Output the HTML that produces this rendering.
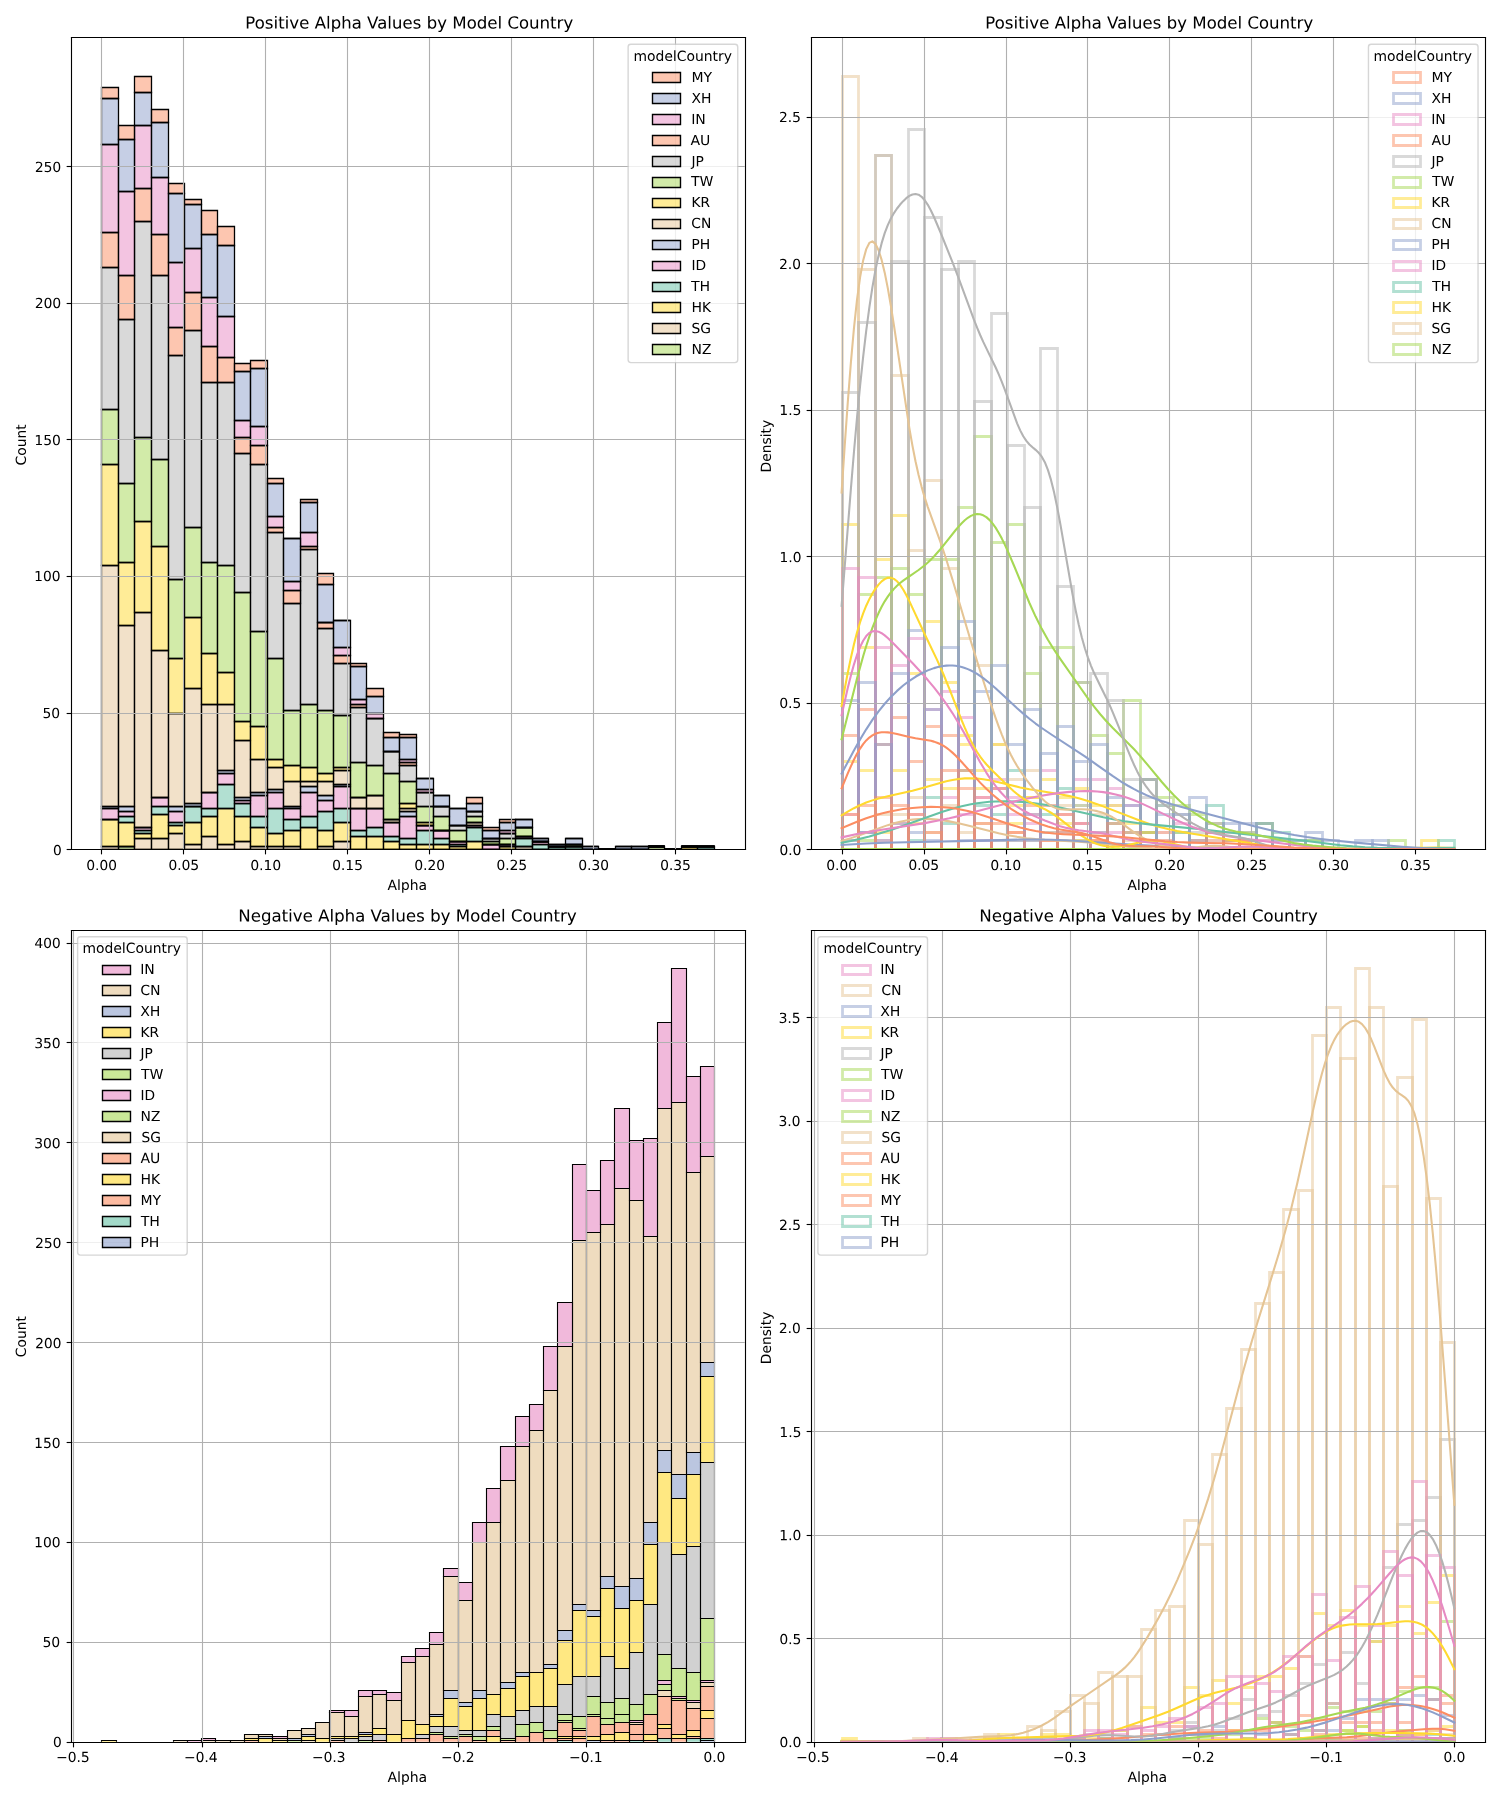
<!DOCTYPE html><html><head><meta charset="utf-8"><style>html,body{margin:0;padding:0;background:#fff}svg{display:block}</style></head><body><svg width="1500" height="1800" viewBox="0 0 1080 1296"><defs><style>*{stroke-linejoin:round;stroke-linecap:butt}.c0{fill:#ffffff}.c1{fill:#a6d854;fill-opacity:0.5;stroke:#000000;stroke-width:0.934778;stroke-linejoin:miter}.c2{fill:#e5c494;fill-opacity:0.5;stroke:#000000;stroke-width:0.934778;stroke-linejoin:miter}.c3{fill:#ffd92f;fill-opacity:0.5;stroke:#000000;stroke-width:0.934778;stroke-linejoin:miter}.c4{fill:#66c2a5;fill-opacity:0.5;stroke:#000000;stroke-width:0.934778;stroke-linejoin:miter}.c5{fill:#e78ac3;fill-opacity:0.5;stroke:#000000;stroke-width:0.934778;stroke-linejoin:miter}.c6{fill:#8da0cb;fill-opacity:0.5;stroke:#000000;stroke-width:0.934778;stroke-linejoin:miter}.c7{fill:#b3b3b3;fill-opacity:0.5;stroke:#000000;stroke-width:0.934778;stroke-linejoin:miter}.c8{fill:#fc8d62;fill-opacity:0.5;stroke:#000000;stroke-width:0.934778;stroke-linejoin:miter}.c9{fill:none;stroke:#b0b0b0;stroke-width:0.8;stroke-linecap:square}.c10{stroke:#000000;stroke-width:0.8}.c11{fill:none;stroke:#000000;stroke-width:0.8;stroke-linejoin:miter;stroke-linecap:square}.c12{fill:#ffffff;opacity:0.8;stroke:#cccccc;stroke-linejoin:miter}.c13{fill:#fc8d62;fill-opacity:0.5;stroke:#000000;stroke-linejoin:miter}.c14{fill:#8da0cb;fill-opacity:0.5;stroke:#000000;stroke-linejoin:miter}.c15{fill:#e78ac3;fill-opacity:0.5;stroke:#000000;stroke-linejoin:miter}.c16{fill:#b3b3b3;fill-opacity:0.5;stroke:#000000;stroke-linejoin:miter}.c17{fill:#a6d854;fill-opacity:0.5;stroke:#000000;stroke-linejoin:miter}.c18{fill:#ffd92f;fill-opacity:0.5;stroke:#000000;stroke-linejoin:miter}.c19{fill:#e5c494;fill-opacity:0.5;stroke:#000000;stroke-linejoin:miter}.c20{fill:#66c2a5;fill-opacity:0.5;stroke:#000000;stroke-linejoin:miter}.c21{fill:none;stroke:#a6d854;stroke-opacity:0.5;stroke-width:2;stroke-linejoin:miter}.c22{fill:none;stroke:#e5c494;stroke-opacity:0.5;stroke-width:2;stroke-linejoin:miter}.c23{fill:none;stroke:#ffd92f;stroke-opacity:0.5;stroke-width:2;stroke-linejoin:miter}.c24{fill:none;stroke:#66c2a5;stroke-opacity:0.5;stroke-width:2;stroke-linejoin:miter}.c25{fill:none;stroke:#e78ac3;stroke-opacity:0.5;stroke-width:2;stroke-linejoin:miter}.c26{fill:none;stroke:#8da0cb;stroke-opacity:0.5;stroke-width:2;stroke-linejoin:miter}.c27{fill:none;stroke:#b3b3b3;stroke-opacity:0.5;stroke-width:2;stroke-linejoin:miter}.c28{fill:none;stroke:#fc8d62;stroke-opacity:0.5;stroke-width:2;stroke-linejoin:miter}.c29{fill:none;stroke:#a6d854;stroke-width:1.5;stroke-linecap:square}.c30{fill:none;stroke:#e5c494;stroke-width:1.5;stroke-linecap:square}.c31{fill:none;stroke:#ffd92f;stroke-width:1.5;stroke-linecap:square}.c32{fill:none;stroke:#66c2a5;stroke-width:1.5;stroke-linecap:square}.c33{fill:none;stroke:#e78ac3;stroke-width:1.5;stroke-linecap:square}.c34{fill:none;stroke:#8da0cb;stroke-width:1.5;stroke-linecap:square}.c35{fill:none;stroke:#b3b3b3;stroke-width:1.5;stroke-linecap:square}.c36{fill:none;stroke:#fc8d62;stroke-width:1.5;stroke-linecap:square}.c37{fill:#8da0cb;fill-opacity:0.6;stroke:#000000;stroke-width:0.804344;stroke-linejoin:miter}.c38{fill:#66c2a5;fill-opacity:0.6;stroke:#000000;stroke-width:0.804344;stroke-linejoin:miter}.c39{fill:#fc8d62;fill-opacity:0.6;stroke:#000000;stroke-width:0.804344;stroke-linejoin:miter}.c40{fill:#ffd92f;fill-opacity:0.6;stroke:#000000;stroke-width:0.804344;stroke-linejoin:miter}.c41{fill:#e5c494;fill-opacity:0.6;stroke:#000000;stroke-width:0.804344;stroke-linejoin:miter}.c42{fill:#a6d854;fill-opacity:0.6;stroke:#000000;stroke-width:0.804344;stroke-linejoin:miter}.c43{fill:#e78ac3;fill-opacity:0.6;stroke:#000000;stroke-width:0.804344;stroke-linejoin:miter}.c44{fill:#b3b3b3;fill-opacity:0.6;stroke:#000000;stroke-width:0.804344;stroke-linejoin:miter}.c45{fill:#e78ac3;fill-opacity:0.6;stroke:#000000;stroke-linejoin:miter}.c46{fill:#e5c494;fill-opacity:0.6;stroke:#000000;stroke-linejoin:miter}.c47{fill:#8da0cb;fill-opacity:0.6;stroke:#000000;stroke-linejoin:miter}.c48{fill:#ffd92f;fill-opacity:0.6;stroke:#000000;stroke-linejoin:miter}.c49{fill:#b3b3b3;fill-opacity:0.6;stroke:#000000;stroke-linejoin:miter}.c50{fill:#a6d854;fill-opacity:0.6;stroke:#000000;stroke-linejoin:miter}.c51{fill:#fc8d62;fill-opacity:0.6;stroke:#000000;stroke-linejoin:miter}.c52{fill:#66c2a5;fill-opacity:0.6;stroke:#000000;stroke-linejoin:miter}</style></defs><g><path d="M0 1296L1080 1296L1080 0L0 0z" class="c0"/><g><path d="M51.12 611.28L536.4 611.28L536.4 26.64L51.12 26.64z" class="c0"/><path d="M73.08 611.64L85.32 611.64L85.32 611.64L73.08 611.64z" clip-path="url(#p2dc4561a0a)" class="c1"/><path d="M85.32 611.64L96.84 611.64L96.84 609.48L85.32 609.48z" clip-path="url(#p2dc4561a0a)" class="c1"/><path d="M96.84 611.64L109.08 611.64L109.08 611.64L96.84 611.64z" clip-path="url(#p2dc4561a0a)" class="c1"/><path d="M109.08 611.64L121.32 611.64L121.32 611.64L109.08 611.64z" clip-path="url(#p2dc4561a0a)" class="c1"/><path d="M121.32 611.64L132.84 611.64L132.84 611.64L121.32 611.64z" clip-path="url(#p2dc4561a0a)" class="c1"/><path d="M132.84 611.64L145.08 611.64L145.08 611.64L132.84 611.64z" clip-path="url(#p2dc4561a0a)" class="c1"/><path d="M145.08 611.64L156.6 611.64L156.6 611.64L145.08 611.64z" clip-path="url(#p2dc4561a0a)" class="c1"/><path d="M156.6 611.64L168.84 611.64L168.84 611.64L156.6 611.64z" clip-path="url(#p2dc4561a0a)" class="c1"/><path d="M168.84 611.64L180.36 611.64L180.36 611.64L168.84 611.64z" clip-path="url(#p2dc4561a0a)" class="c1"/><path d="M180.36 611.64L192.6 611.64L192.6 611.64L180.36 611.64z" clip-path="url(#p2dc4561a0a)" class="c1"/><path d="M192.6 611.64L204.12 611.64L204.12 611.64L192.6 611.64z" clip-path="url(#p2dc4561a0a)" class="c1"/><path d="M204.12 611.64L216.36 611.64L216.36 611.64L204.12 611.64z" clip-path="url(#p2dc4561a0a)" class="c1"/><path d="M216.36 611.64L228.6 611.64L228.6 611.64L216.36 611.64z" clip-path="url(#p2dc4561a0a)" class="c1"/><path d="M228.6 611.64L240.12 611.64L240.12 611.64L228.6 611.64z" clip-path="url(#p2dc4561a0a)" class="c1"/><path d="M240.12 611.64L252.36 611.64L252.36 611.64L240.12 611.64z" clip-path="url(#p2dc4561a0a)" class="c1"/><path d="M252.36 611.64L263.88 611.64L263.88 611.64L252.36 611.64z" clip-path="url(#p2dc4561a0a)" class="c1"/><path d="M263.88 611.64L276.12 611.64L276.12 611.64L263.88 611.64z" clip-path="url(#p2dc4561a0a)" class="c1"/><path d="M276.12 611.64L287.64 611.64L287.64 611.64L276.12 611.64z" clip-path="url(#p2dc4561a0a)" class="c1"/><path d="M287.64 611.64L299.88 611.64L299.88 611.64L287.64 611.64z" clip-path="url(#p2dc4561a0a)" class="c1"/><path d="M299.88 611.64L312.12 611.64L312.12 611.64L299.88 611.64z" clip-path="url(#p2dc4561a0a)" class="c1"/><path d="M312.12 611.64L323.64 611.64L323.64 611.64L312.12 611.64z" clip-path="url(#p2dc4561a0a)" class="c1"/><path d="M323.64 611.64L335.88 611.64L335.88 611.64L323.64 611.64z" clip-path="url(#p2dc4561a0a)" class="c1"/><path d="M335.88 611.64L347.4 611.64L347.4 611.64L335.88 611.64z" clip-path="url(#p2dc4561a0a)" class="c1"/><path d="M347.4 611.64L359.64 611.64L359.64 611.64L347.4 611.64z" clip-path="url(#p2dc4561a0a)" class="c1"/><path d="M359.64 611.64L371.16 611.64L371.16 611.64L359.64 611.64z" clip-path="url(#p2dc4561a0a)" class="c1"/><path d="M371.16 611.64L383.4 611.64L383.4 611.64L371.16 611.64z" clip-path="url(#p2dc4561a0a)" class="c1"/><path d="M383.4 611.64L394.92 611.64L394.92 611.64L383.4 611.64z" clip-path="url(#p2dc4561a0a)" class="c1"/><path d="M394.92 611.64L407.16 611.64L407.16 611.64L394.92 611.64z" clip-path="url(#p2dc4561a0a)" class="c1"/><path d="M407.16 611.64L419.4 611.64L419.4 611.64L407.16 611.64z" clip-path="url(#p2dc4561a0a)" class="c1"/><path d="M419.4 611.64L430.92 611.64L430.92 611.64L419.4 611.64z" clip-path="url(#p2dc4561a0a)" class="c1"/><path d="M430.92 611.64L443.16 611.64L443.16 611.64L430.92 611.64z" clip-path="url(#p2dc4561a0a)" class="c1"/><path d="M443.16 611.64L454.68 611.64L454.68 611.64L443.16 611.64z" clip-path="url(#p2dc4561a0a)" class="c1"/><path d="M454.68 611.64L466.92 611.64L466.92 611.64L454.68 611.64z" clip-path="url(#p2dc4561a0a)" class="c1"/><path d="M466.92 611.64L478.44 611.64L478.44 609.48L466.92 609.48z" clip-path="url(#p2dc4561a0a)" class="c1"/><path d="M478.44 611.64L490.68 611.64L490.68 611.64L478.44 611.64z" clip-path="url(#p2dc4561a0a)" class="c1"/><path d="M490.68 611.64L502.2 611.64L502.2 611.64L490.68 611.64z" clip-path="url(#p2dc4561a0a)" class="c1"/><path d="M502.2 611.64L514.44 611.64L514.44 611.64L502.2 611.64z" clip-path="url(#p2dc4561a0a)" class="c1"/><path d="M73.08 611.64L85.32 611.64L85.32 609.48L73.08 609.48z" clip-path="url(#p2dc4561a0a)" class="c2"/><path d="M85.32 609.48L96.84 609.48L96.84 609.48L85.32 609.48z" clip-path="url(#p2dc4561a0a)" class="c2"/><path d="M96.84 611.64L109.08 611.64L109.08 603.72L96.84 603.72z" clip-path="url(#p2dc4561a0a)" class="c2"/><path d="M109.08 611.64L121.32 611.64L121.32 603.72L109.08 603.72z" clip-path="url(#p2dc4561a0a)" class="c2"/><path d="M121.32 611.64L132.84 611.64L132.84 600.12L121.32 600.12z" clip-path="url(#p2dc4561a0a)" class="c2"/><path d="M132.84 611.64L145.08 611.64L145.08 608.04L132.84 608.04z" clip-path="url(#p2dc4561a0a)" class="c2"/><path d="M145.08 611.64L156.6 611.64L156.6 602.28L145.08 602.28z" clip-path="url(#p2dc4561a0a)" class="c2"/><path d="M156.6 611.64L168.84 611.64L168.84 608.04L156.6 608.04z" clip-path="url(#p2dc4561a0a)" class="c2"/><path d="M168.84 611.64L180.36 611.64L180.36 605.88L168.84 605.88z" clip-path="url(#p2dc4561a0a)" class="c2"/><path d="M180.36 611.64L192.6 611.64L192.6 609.48L180.36 609.48z" clip-path="url(#p2dc4561a0a)" class="c2"/><path d="M192.6 611.64L204.12 611.64L204.12 609.48L192.6 609.48z" clip-path="url(#p2dc4561a0a)" class="c2"/><path d="M204.12 611.64L216.36 611.64L216.36 609.48L204.12 609.48z" clip-path="url(#p2dc4561a0a)" class="c2"/><path d="M216.36 611.64L228.6 611.64L228.6 611.64L216.36 611.64z" clip-path="url(#p2dc4561a0a)" class="c2"/><path d="M228.6 611.64L240.12 611.64L240.12 609.48L228.6 609.48z" clip-path="url(#p2dc4561a0a)" class="c2"/><path d="M240.12 611.64L252.36 611.64L252.36 605.88L240.12 605.88z" clip-path="url(#p2dc4561a0a)" class="c2"/><path d="M252.36 611.64L263.88 611.64L263.88 611.64L252.36 611.64z" clip-path="url(#p2dc4561a0a)" class="c2"/><path d="M263.88 611.64L276.12 611.64L276.12 611.64L263.88 611.64z" clip-path="url(#p2dc4561a0a)" class="c2"/><path d="M276.12 611.64L287.64 611.64L287.64 611.64L276.12 611.64z" clip-path="url(#p2dc4561a0a)" class="c2"/><path d="M287.64 611.64L299.88 611.64L299.88 611.64L287.64 611.64z" clip-path="url(#p2dc4561a0a)" class="c2"/><path d="M299.88 611.64L312.12 611.64L312.12 611.64L299.88 611.64z" clip-path="url(#p2dc4561a0a)" class="c2"/><path d="M312.12 611.64L323.64 611.64L323.64 611.64L312.12 611.64z" clip-path="url(#p2dc4561a0a)" class="c2"/><path d="M323.64 611.64L335.88 611.64L335.88 611.64L323.64 611.64z" clip-path="url(#p2dc4561a0a)" class="c2"/><path d="M335.88 611.64L347.4 611.64L347.4 611.64L335.88 611.64z" clip-path="url(#p2dc4561a0a)" class="c2"/><path d="M347.4 611.64L359.64 611.64L359.64 611.64L347.4 611.64z" clip-path="url(#p2dc4561a0a)" class="c2"/><path d="M359.64 611.64L371.16 611.64L371.16 611.64L359.64 611.64z" clip-path="url(#p2dc4561a0a)" class="c2"/><path d="M371.16 611.64L383.4 611.64L383.4 609.48L371.16 609.48z" clip-path="url(#p2dc4561a0a)" class="c2"/><path d="M383.4 611.64L394.92 611.64L394.92 611.64L383.4 611.64z" clip-path="url(#p2dc4561a0a)" class="c2"/><path d="M394.92 611.64L407.16 611.64L407.16 611.64L394.92 611.64z" clip-path="url(#p2dc4561a0a)" class="c2"/><path d="M407.16 611.64L419.4 611.64L419.4 611.64L407.16 611.64z" clip-path="url(#p2dc4561a0a)" class="c2"/><path d="M419.4 611.64L430.92 611.64L430.92 611.64L419.4 611.64z" clip-path="url(#p2dc4561a0a)" class="c2"/><path d="M430.92 611.64L443.16 611.64L443.16 611.64L430.92 611.64z" clip-path="url(#p2dc4561a0a)" class="c2"/><path d="M443.16 611.64L454.68 611.64L454.68 611.64L443.16 611.64z" clip-path="url(#p2dc4561a0a)" class="c2"/><path d="M454.68 611.64L466.92 611.64L466.92 611.64L454.68 611.64z" clip-path="url(#p2dc4561a0a)" class="c2"/><path d="M466.92 609.48L478.44 609.48L478.44 609.48L466.92 609.48z" clip-path="url(#p2dc4561a0a)" class="c2"/><path d="M478.44 611.64L490.68 611.64L490.68 611.64L478.44 611.64z" clip-path="url(#p2dc4561a0a)" class="c2"/><path d="M490.68 611.64L502.2 611.64L502.2 611.64L490.68 611.64z" clip-path="url(#p2dc4561a0a)" class="c2"/><path d="M502.2 611.64L514.44 611.64L514.44 611.64L502.2 611.64z" clip-path="url(#p2dc4561a0a)" class="c2"/><path d="M73.08 609.48L85.32 609.48L85.32 590.04L73.08 590.04z" clip-path="url(#p2dc4561a0a)" class="c3"/><path d="M85.32 609.48L96.84 609.48L96.84 592.2L85.32 592.2z" clip-path="url(#p2dc4561a0a)" class="c3"/><path d="M96.84 603.72L109.08 603.72L109.08 600.12L96.84 600.12z" clip-path="url(#p2dc4561a0a)" class="c3"/><path d="M109.08 603.72L121.32 603.72L121.32 586.44L109.08 586.44z" clip-path="url(#p2dc4561a0a)" class="c3"/><path d="M121.32 600.12L132.84 600.12L132.84 594.36L121.32 594.36z" clip-path="url(#p2dc4561a0a)" class="c3"/><path d="M132.84 608.04L145.08 608.04L145.08 592.2L132.84 592.2z" clip-path="url(#p2dc4561a0a)" class="c3"/><path d="M145.08 602.28L156.6 602.28L156.6 587.88L145.08 587.88z" clip-path="url(#p2dc4561a0a)" class="c3"/><path d="M156.6 608.04L168.84 608.04L168.84 582.12L156.6 582.12z" clip-path="url(#p2dc4561a0a)" class="c3"/><path d="M168.84 605.88L180.36 605.88L180.36 587.88L168.84 587.88z" clip-path="url(#p2dc4561a0a)" class="c3"/><path d="M180.36 609.48L192.6 609.48L192.6 595.8L180.36 595.8z" clip-path="url(#p2dc4561a0a)" class="c3"/><path d="M192.6 609.48L204.12 609.48L204.12 600.12L192.6 600.12z" clip-path="url(#p2dc4561a0a)" class="c3"/><path d="M204.12 609.48L216.36 609.48L216.36 597.96L204.12 597.96z" clip-path="url(#p2dc4561a0a)" class="c3"/><path d="M216.36 611.64L228.6 611.64L228.6 595.8L216.36 595.8z" clip-path="url(#p2dc4561a0a)" class="c3"/><path d="M228.6 609.48L240.12 609.48L240.12 597.96L228.6 597.96z" clip-path="url(#p2dc4561a0a)" class="c3"/><path d="M240.12 605.88L252.36 605.88L252.36 592.2L240.12 592.2z" clip-path="url(#p2dc4561a0a)" class="c3"/><path d="M252.36 611.64L263.88 611.64L263.88 602.28L252.36 602.28z" clip-path="url(#p2dc4561a0a)" class="c3"/><path d="M263.88 611.64L276.12 611.64L276.12 602.28L263.88 602.28z" clip-path="url(#p2dc4561a0a)" class="c3"/><path d="M276.12 611.64L287.64 611.64L287.64 605.88L276.12 605.88z" clip-path="url(#p2dc4561a0a)" class="c3"/><path d="M287.64 611.64L299.88 611.64L299.88 608.04L287.64 608.04z" clip-path="url(#p2dc4561a0a)" class="c3"/><path d="M299.88 611.64L312.12 611.64L312.12 608.04L299.88 608.04z" clip-path="url(#p2dc4561a0a)" class="c3"/><path d="M312.12 611.64L323.64 611.64L323.64 608.04L312.12 608.04z" clip-path="url(#p2dc4561a0a)" class="c3"/><path d="M323.64 611.64L335.88 611.64L335.88 609.48L323.64 609.48z" clip-path="url(#p2dc4561a0a)" class="c3"/><path d="M335.88 611.64L347.4 611.64L347.4 605.88L335.88 605.88z" clip-path="url(#p2dc4561a0a)" class="c3"/><path d="M347.4 611.64L359.64 611.64L359.64 611.64L347.4 611.64z" clip-path="url(#p2dc4561a0a)" class="c3"/><path d="M359.64 611.64L371.16 611.64L371.16 609.48L359.64 609.48z" clip-path="url(#p2dc4561a0a)" class="c3"/><path d="M371.16 609.48L383.4 609.48L383.4 609.48L371.16 609.48z" clip-path="url(#p2dc4561a0a)" class="c3"/><path d="M383.4 611.64L394.92 611.64L394.92 611.64L383.4 611.64z" clip-path="url(#p2dc4561a0a)" class="c3"/><path d="M394.92 611.64L407.16 611.64L407.16 611.64L394.92 611.64z" clip-path="url(#p2dc4561a0a)" class="c3"/><path d="M407.16 611.64L419.4 611.64L419.4 611.64L407.16 611.64z" clip-path="url(#p2dc4561a0a)" class="c3"/><path d="M419.4 611.64L430.92 611.64L430.92 611.64L419.4 611.64z" clip-path="url(#p2dc4561a0a)" class="c3"/><path d="M430.92 611.64L443.16 611.64L443.16 611.64L430.92 611.64z" clip-path="url(#p2dc4561a0a)" class="c3"/><path d="M443.16 611.64L454.68 611.64L454.68 611.64L443.16 611.64z" clip-path="url(#p2dc4561a0a)" class="c3"/><path d="M454.68 611.64L466.92 611.64L466.92 611.64L454.68 611.64z" clip-path="url(#p2dc4561a0a)" class="c3"/><path d="M466.92 609.48L478.44 609.48L478.44 609.48L466.92 609.48z" clip-path="url(#p2dc4561a0a)" class="c3"/><path d="M478.44 611.64L490.68 611.64L490.68 611.64L478.44 611.64z" clip-path="url(#p2dc4561a0a)" class="c3"/><path d="M490.68 611.64L502.2 611.64L502.2 609.48L490.68 609.48z" clip-path="url(#p2dc4561a0a)" class="c3"/><path d="M502.2 611.64L514.44 611.64L514.44 611.64L502.2 611.64z" clip-path="url(#p2dc4561a0a)" class="c3"/><path d="M73.08 590.04L85.32 590.04L85.32 590.04L73.08 590.04z" clip-path="url(#p2dc4561a0a)" class="c4"/><path d="M85.32 592.2L96.84 592.2L96.84 587.88L85.32 587.88z" clip-path="url(#p2dc4561a0a)" class="c4"/><path d="M96.84 600.12L109.08 600.12L109.08 597.96L96.84 597.96z" clip-path="url(#p2dc4561a0a)" class="c4"/><path d="M109.08 586.44L121.32 586.44L121.32 580.68L109.08 580.68z" clip-path="url(#p2dc4561a0a)" class="c4"/><path d="M121.32 594.36L132.84 594.36L132.84 592.2L121.32 592.2z" clip-path="url(#p2dc4561a0a)" class="c4"/><path d="M132.84 592.2L145.08 592.2L145.08 580.68L132.84 580.68z" clip-path="url(#p2dc4561a0a)" class="c4"/><path d="M145.08 587.88L156.6 587.88L156.6 582.12L145.08 582.12z" clip-path="url(#p2dc4561a0a)" class="c4"/><path d="M156.6 582.12L168.84 582.12L168.84 564.84L156.6 564.84z" clip-path="url(#p2dc4561a0a)" class="c4"/><path d="M168.84 587.88L180.36 587.88L180.36 578.52L168.84 578.52z" clip-path="url(#p2dc4561a0a)" class="c4"/><path d="M180.36 595.8L192.6 595.8L192.6 587.88L180.36 587.88z" clip-path="url(#p2dc4561a0a)" class="c4"/><path d="M192.6 600.12L204.12 600.12L204.12 582.12L192.6 582.12z" clip-path="url(#p2dc4561a0a)" class="c4"/><path d="M204.12 597.96L216.36 597.96L216.36 590.04L204.12 590.04z" clip-path="url(#p2dc4561a0a)" class="c4"/><path d="M216.36 595.8L228.6 595.8L228.6 587.88L216.36 587.88z" clip-path="url(#p2dc4561a0a)" class="c4"/><path d="M228.6 597.96L240.12 597.96L240.12 584.28L228.6 584.28z" clip-path="url(#p2dc4561a0a)" class="c4"/><path d="M240.12 592.2L252.36 592.2L252.36 582.12L240.12 582.12z" clip-path="url(#p2dc4561a0a)" class="c4"/><path d="M252.36 602.28L263.88 602.28L263.88 597.96L252.36 597.96z" clip-path="url(#p2dc4561a0a)" class="c4"/><path d="M263.88 602.28L276.12 602.28L276.12 595.8L263.88 595.8z" clip-path="url(#p2dc4561a0a)" class="c4"/><path d="M276.12 605.88L287.64 605.88L287.64 602.28L276.12 602.28z" clip-path="url(#p2dc4561a0a)" class="c4"/><path d="M287.64 608.04L299.88 608.04L299.88 603.72L287.64 603.72z" clip-path="url(#p2dc4561a0a)" class="c4"/><path d="M299.88 608.04L312.12 608.04L312.12 597.96L299.88 597.96z" clip-path="url(#p2dc4561a0a)" class="c4"/><path d="M312.12 608.04L323.64 608.04L323.64 603.72L312.12 603.72z" clip-path="url(#p2dc4561a0a)" class="c4"/><path d="M323.64 609.48L335.88 609.48L335.88 608.04L323.64 608.04z" clip-path="url(#p2dc4561a0a)" class="c4"/><path d="M335.88 605.88L347.4 605.88L347.4 595.8L335.88 595.8z" clip-path="url(#p2dc4561a0a)" class="c4"/><path d="M347.4 611.64L359.64 611.64L359.64 611.64L347.4 611.64z" clip-path="url(#p2dc4561a0a)" class="c4"/><path d="M359.64 609.48L371.16 609.48L371.16 609.48L359.64 609.48z" clip-path="url(#p2dc4561a0a)" class="c4"/><path d="M371.16 609.48L383.4 609.48L383.4 603.72L371.16 603.72z" clip-path="url(#p2dc4561a0a)" class="c4"/><path d="M383.4 611.64L394.92 611.64L394.92 608.04L383.4 608.04z" clip-path="url(#p2dc4561a0a)" class="c4"/><path d="M394.92 611.64L407.16 611.64L407.16 609.48L394.92 609.48z" clip-path="url(#p2dc4561a0a)" class="c4"/><path d="M407.16 611.64L419.4 611.64L419.4 609.48L407.16 609.48z" clip-path="url(#p2dc4561a0a)" class="c4"/><path d="M419.4 611.64L430.92 611.64L430.92 611.64L419.4 611.64z" clip-path="url(#p2dc4561a0a)" class="c4"/><path d="M430.92 611.64L443.16 611.64L443.16 611.64L430.92 611.64z" clip-path="url(#p2dc4561a0a)" class="c4"/><path d="M443.16 611.64L454.68 611.64L454.68 611.64L443.16 611.64z" clip-path="url(#p2dc4561a0a)" class="c4"/><path d="M454.68 611.64L466.92 611.64L466.92 611.64L454.68 611.64z" clip-path="url(#p2dc4561a0a)" class="c4"/><path d="M466.92 609.48L478.44 609.48L478.44 609.48L466.92 609.48z" clip-path="url(#p2dc4561a0a)" class="c4"/><path d="M478.44 611.64L490.68 611.64L490.68 611.64L478.44 611.64z" clip-path="url(#p2dc4561a0a)" class="c4"/><path d="M490.68 609.48L502.2 609.48L502.2 609.48L490.68 609.48z" clip-path="url(#p2dc4561a0a)" class="c4"/><path d="M502.2 611.64L514.44 611.64L514.44 609.48L502.2 609.48z" clip-path="url(#p2dc4561a0a)" class="c4"/><path d="M73.08 590.04L85.32 590.04L85.32 582.12L73.08 582.12z" clip-path="url(#p2dc4561a0a)" class="c5"/><path d="M85.32 587.88L96.84 587.88L96.84 584.28L85.32 584.28z" clip-path="url(#p2dc4561a0a)" class="c5"/><path d="M96.84 597.96L109.08 597.96L109.08 595.8L96.84 595.8z" clip-path="url(#p2dc4561a0a)" class="c5"/><path d="M109.08 580.68L121.32 580.68L121.32 574.2L109.08 574.2z" clip-path="url(#p2dc4561a0a)" class="c5"/><path d="M121.32 592.2L132.84 592.2L132.84 584.28L121.32 584.28z" clip-path="url(#p2dc4561a0a)" class="c5"/><path d="M132.84 580.68L145.08 580.68L145.08 580.68L132.84 580.68z" clip-path="url(#p2dc4561a0a)" class="c5"/><path d="M145.08 582.12L156.6 582.12L156.6 570.6L145.08 570.6z" clip-path="url(#p2dc4561a0a)" class="c5"/><path d="M156.6 564.84L168.84 564.84L168.84 556.92L156.6 556.92z" clip-path="url(#p2dc4561a0a)" class="c5"/><path d="M168.84 578.52L180.36 578.52L180.36 576.36L168.84 576.36z" clip-path="url(#p2dc4561a0a)" class="c5"/><path d="M180.36 587.88L192.6 587.88L192.6 572.76L180.36 572.76z" clip-path="url(#p2dc4561a0a)" class="c5"/><path d="M192.6 582.12L204.12 582.12L204.12 570.6L192.6 570.6z" clip-path="url(#p2dc4561a0a)" class="c5"/><path d="M204.12 590.04L216.36 590.04L216.36 582.12L204.12 582.12z" clip-path="url(#p2dc4561a0a)" class="c5"/><path d="M216.36 587.88L228.6 587.88L228.6 570.6L216.36 570.6z" clip-path="url(#p2dc4561a0a)" class="c5"/><path d="M228.6 584.28L240.12 584.28L240.12 576.36L228.6 576.36z" clip-path="url(#p2dc4561a0a)" class="c5"/><path d="M240.12 582.12L252.36 582.12L252.36 566.28L240.12 566.28z" clip-path="url(#p2dc4561a0a)" class="c5"/><path d="M252.36 597.96L263.88 597.96L263.88 582.12L252.36 582.12z" clip-path="url(#p2dc4561a0a)" class="c5"/><path d="M263.88 595.8L276.12 595.8L276.12 582.12L263.88 582.12z" clip-path="url(#p2dc4561a0a)" class="c5"/><path d="M276.12 602.28L287.64 602.28L287.64 592.2L276.12 592.2z" clip-path="url(#p2dc4561a0a)" class="c5"/><path d="M287.64 603.72L299.88 603.72L299.88 587.88L287.64 587.88z" clip-path="url(#p2dc4561a0a)" class="c5"/><path d="M299.88 597.96L312.12 597.96L312.12 594.36L299.88 594.36z" clip-path="url(#p2dc4561a0a)" class="c5"/><path d="M312.12 603.72L323.64 603.72L323.64 597.96L312.12 597.96z" clip-path="url(#p2dc4561a0a)" class="c5"/><path d="M323.64 608.04L335.88 608.04L335.88 605.88L323.64 605.88z" clip-path="url(#p2dc4561a0a)" class="c5"/><path d="M335.88 595.8L347.4 595.8L347.4 594.36L335.88 594.36z" clip-path="url(#p2dc4561a0a)" class="c5"/><path d="M347.4 611.64L359.64 611.64L359.64 608.04L347.4 608.04z" clip-path="url(#p2dc4561a0a)" class="c5"/><path d="M359.64 609.48L371.16 609.48L371.16 608.04L359.64 608.04z" clip-path="url(#p2dc4561a0a)" class="c5"/><path d="M371.16 603.72L383.4 603.72L383.4 602.28L371.16 602.28z" clip-path="url(#p2dc4561a0a)" class="c5"/><path d="M383.4 608.04L394.92 608.04L394.92 605.88L383.4 605.88z" clip-path="url(#p2dc4561a0a)" class="c5"/><path d="M394.92 609.48L407.16 609.48L407.16 609.48L394.92 609.48z" clip-path="url(#p2dc4561a0a)" class="c5"/><path d="M407.16 609.48L419.4 609.48L419.4 609.48L407.16 609.48z" clip-path="url(#p2dc4561a0a)" class="c5"/><path d="M419.4 611.64L430.92 611.64L430.92 611.64L419.4 611.64z" clip-path="url(#p2dc4561a0a)" class="c5"/><path d="M430.92 611.64L443.16 611.64L443.16 611.64L430.92 611.64z" clip-path="url(#p2dc4561a0a)" class="c5"/><path d="M443.16 611.64L454.68 611.64L454.68 611.64L443.16 611.64z" clip-path="url(#p2dc4561a0a)" class="c5"/><path d="M454.68 611.64L466.92 611.64L466.92 611.64L454.68 611.64z" clip-path="url(#p2dc4561a0a)" class="c5"/><path d="M466.92 609.48L478.44 609.48L478.44 609.48L466.92 609.48z" clip-path="url(#p2dc4561a0a)" class="c5"/><path d="M478.44 611.64L490.68 611.64L490.68 611.64L478.44 611.64z" clip-path="url(#p2dc4561a0a)" class="c5"/><path d="M490.68 609.48L502.2 609.48L502.2 609.48L490.68 609.48z" clip-path="url(#p2dc4561a0a)" class="c5"/><path d="M502.2 609.48L514.44 609.48L514.44 609.48L502.2 609.48z" clip-path="url(#p2dc4561a0a)" class="c5"/><path d="M73.08 582.12L85.32 582.12L85.32 580.68L73.08 580.68z" clip-path="url(#p2dc4561a0a)" class="c6"/><path d="M85.32 584.28L96.84 584.28L96.84 580.68L85.32 580.68z" clip-path="url(#p2dc4561a0a)" class="c6"/><path d="M96.84 595.8L109.08 595.8L109.08 595.8L96.84 595.8z" clip-path="url(#p2dc4561a0a)" class="c6"/><path d="M109.08 574.2L121.32 574.2L121.32 574.2L109.08 574.2z" clip-path="url(#p2dc4561a0a)" class="c6"/><path d="M121.32 584.28L132.84 584.28L132.84 580.68L121.32 580.68z" clip-path="url(#p2dc4561a0a)" class="c6"/><path d="M132.84 580.68L145.08 580.68L145.08 578.52L132.84 578.52z" clip-path="url(#p2dc4561a0a)" class="c6"/><path d="M145.08 570.6L156.6 570.6L156.6 570.6L145.08 570.6z" clip-path="url(#p2dc4561a0a)" class="c6"/><path d="M156.6 556.92L168.84 556.92L168.84 554.76L156.6 554.76z" clip-path="url(#p2dc4561a0a)" class="c6"/><path d="M168.84 576.36L180.36 576.36L180.36 574.2L168.84 574.2z" clip-path="url(#p2dc4561a0a)" class="c6"/><path d="M180.36 572.76L192.6 572.76L192.6 570.6L180.36 570.6z" clip-path="url(#p2dc4561a0a)" class="c6"/><path d="M192.6 570.6L204.12 570.6L204.12 568.44L192.6 568.44z" clip-path="url(#p2dc4561a0a)" class="c6"/><path d="M204.12 582.12L216.36 582.12L216.36 580.68L204.12 580.68z" clip-path="url(#p2dc4561a0a)" class="c6"/><path d="M216.36 570.6L228.6 570.6L228.6 566.28L216.36 566.28z" clip-path="url(#p2dc4561a0a)" class="c6"/><path d="M228.6 576.36L240.12 576.36L240.12 572.76L228.6 572.76z" clip-path="url(#p2dc4561a0a)" class="c6"/><path d="M240.12 566.28L252.36 566.28L252.36 564.84L240.12 564.84z" clip-path="url(#p2dc4561a0a)" class="c6"/><path d="M252.36 582.12L263.88 582.12L263.88 582.12L252.36 582.12z" clip-path="url(#p2dc4561a0a)" class="c6"/><path d="M263.88 582.12L276.12 582.12L276.12 582.12L263.88 582.12z" clip-path="url(#p2dc4561a0a)" class="c6"/><path d="M276.12 592.2L287.64 592.2L287.64 592.2L276.12 592.2z" clip-path="url(#p2dc4561a0a)" class="c6"/><path d="M287.64 587.88L299.88 587.88L299.88 584.28L287.64 584.28z" clip-path="url(#p2dc4561a0a)" class="c6"/><path d="M299.88 594.36L312.12 594.36L312.12 594.36L299.88 594.36z" clip-path="url(#p2dc4561a0a)" class="c6"/><path d="M312.12 597.96L323.64 597.96L323.64 597.96L312.12 597.96z" clip-path="url(#p2dc4561a0a)" class="c6"/><path d="M323.64 605.88L335.88 605.88L335.88 605.88L323.64 605.88z" clip-path="url(#p2dc4561a0a)" class="c6"/><path d="M335.88 594.36L347.4 594.36L347.4 594.36L335.88 594.36z" clip-path="url(#p2dc4561a0a)" class="c6"/><path d="M347.4 608.04L359.64 608.04L359.64 608.04L347.4 608.04z" clip-path="url(#p2dc4561a0a)" class="c6"/><path d="M359.64 608.04L371.16 608.04L371.16 608.04L359.64 608.04z" clip-path="url(#p2dc4561a0a)" class="c6"/><path d="M371.16 602.28L383.4 602.28L383.4 602.28L371.16 602.28z" clip-path="url(#p2dc4561a0a)" class="c6"/><path d="M383.4 605.88L394.92 605.88L394.92 605.88L383.4 605.88z" clip-path="url(#p2dc4561a0a)" class="c6"/><path d="M394.92 609.48L407.16 609.48L407.16 609.48L394.92 609.48z" clip-path="url(#p2dc4561a0a)" class="c6"/><path d="M407.16 609.48L419.4 609.48L419.4 609.48L407.16 609.48z" clip-path="url(#p2dc4561a0a)" class="c6"/><path d="M419.4 611.64L430.92 611.64L430.92 611.64L419.4 611.64z" clip-path="url(#p2dc4561a0a)" class="c6"/><path d="M430.92 611.64L443.16 611.64L443.16 611.64L430.92 611.64z" clip-path="url(#p2dc4561a0a)" class="c6"/><path d="M443.16 611.64L454.68 611.64L454.68 611.64L443.16 611.64z" clip-path="url(#p2dc4561a0a)" class="c6"/><path d="M454.68 611.64L466.92 611.64L466.92 611.64L454.68 611.64z" clip-path="url(#p2dc4561a0a)" class="c6"/><path d="M466.92 609.48L478.44 609.48L478.44 609.48L466.92 609.48z" clip-path="url(#p2dc4561a0a)" class="c6"/><path d="M478.44 611.64L490.68 611.64L490.68 611.64L478.44 611.64z" clip-path="url(#p2dc4561a0a)" class="c6"/><path d="M490.68 609.48L502.2 609.48L502.2 609.48L490.68 609.48z" clip-path="url(#p2dc4561a0a)" class="c6"/><path d="M502.2 609.48L514.44 609.48L514.44 609.48L502.2 609.48z" clip-path="url(#p2dc4561a0a)" class="c6"/><path d="M73.08 580.68L85.32 580.68L85.32 407.16L73.08 407.16z" clip-path="url(#p2dc4561a0a)" class="c2"/><path d="M85.32 580.68L96.84 580.68L96.84 450.36L85.32 450.36z" clip-path="url(#p2dc4561a0a)" class="c2"/><path d="M96.84 595.8L109.08 595.8L109.08 441L96.84 441z" clip-path="url(#p2dc4561a0a)" class="c2"/><path d="M109.08 574.2L121.32 574.2L121.32 468.36L109.08 468.36z" clip-path="url(#p2dc4561a0a)" class="c2"/><path d="M121.32 580.68L132.84 580.68L132.84 513.72L121.32 513.72z" clip-path="url(#p2dc4561a0a)" class="c2"/><path d="M132.84 578.52L145.08 578.52L145.08 495.72L132.84 495.72z" clip-path="url(#p2dc4561a0a)" class="c2"/><path d="M145.08 570.6L156.6 570.6L156.6 507.24L145.08 507.24z" clip-path="url(#p2dc4561a0a)" class="c2"/><path d="M156.6 554.76L168.84 554.76L168.84 507.24L156.6 507.24z" clip-path="url(#p2dc4561a0a)" class="c2"/><path d="M168.84 574.2L180.36 574.2L180.36 533.16L168.84 533.16z" clip-path="url(#p2dc4561a0a)" class="c2"/><path d="M180.36 570.6L192.6 570.6L192.6 546.84L180.36 546.84z" clip-path="url(#p2dc4561a0a)" class="c2"/><path d="M192.6 568.44L204.12 568.44L204.12 552.6L192.6 552.6z" clip-path="url(#p2dc4561a0a)" class="c2"/><path d="M204.12 580.68L216.36 580.68L216.36 562.68L204.12 562.68z" clip-path="url(#p2dc4561a0a)" class="c2"/><path d="M216.36 566.28L228.6 566.28L228.6 562.68L216.36 562.68z" clip-path="url(#p2dc4561a0a)" class="c2"/><path d="M228.6 572.76L240.12 572.76L240.12 562.68L228.6 562.68z" clip-path="url(#p2dc4561a0a)" class="c2"/><path d="M240.12 564.84L252.36 564.84L252.36 554.76L240.12 554.76z" clip-path="url(#p2dc4561a0a)" class="c2"/><path d="M252.36 582.12L263.88 582.12L263.88 574.2L252.36 574.2z" clip-path="url(#p2dc4561a0a)" class="c2"/><path d="M263.88 582.12L276.12 582.12L276.12 572.76L263.88 572.76z" clip-path="url(#p2dc4561a0a)" class="c2"/><path d="M276.12 592.2L287.64 592.2L287.64 590.04L276.12 590.04z" clip-path="url(#p2dc4561a0a)" class="c2"/><path d="M287.64 584.28L299.88 584.28L299.88 582.12L287.64 582.12z" clip-path="url(#p2dc4561a0a)" class="c2"/><path d="M299.88 594.36L312.12 594.36L312.12 594.36L299.88 594.36z" clip-path="url(#p2dc4561a0a)" class="c2"/><path d="M312.12 597.96L323.64 597.96L323.64 597.96L312.12 597.96z" clip-path="url(#p2dc4561a0a)" class="c2"/><path d="M323.64 605.88L335.88 605.88L335.88 605.88L323.64 605.88z" clip-path="url(#p2dc4561a0a)" class="c2"/><path d="M335.88 594.36L347.4 594.36L347.4 592.2L335.88 592.2z" clip-path="url(#p2dc4561a0a)" class="c2"/><path d="M347.4 608.04L359.64 608.04L359.64 608.04L347.4 608.04z" clip-path="url(#p2dc4561a0a)" class="c2"/><path d="M359.64 608.04L371.16 608.04L371.16 608.04L359.64 608.04z" clip-path="url(#p2dc4561a0a)" class="c2"/><path d="M371.16 602.28L383.4 602.28L383.4 602.28L371.16 602.28z" clip-path="url(#p2dc4561a0a)" class="c2"/><path d="M383.4 605.88L394.92 605.88L394.92 605.88L383.4 605.88z" clip-path="url(#p2dc4561a0a)" class="c2"/><path d="M394.92 609.48L407.16 609.48L407.16 609.48L394.92 609.48z" clip-path="url(#p2dc4561a0a)" class="c2"/><path d="M407.16 609.48L419.4 609.48L419.4 609.48L407.16 609.48z" clip-path="url(#p2dc4561a0a)" class="c2"/><path d="M419.4 611.64L430.92 611.64L430.92 611.64L419.4 611.64z" clip-path="url(#p2dc4561a0a)" class="c2"/><path d="M430.92 611.64L443.16 611.64L443.16 611.64L430.92 611.64z" clip-path="url(#p2dc4561a0a)" class="c2"/><path d="M443.16 611.64L454.68 611.64L454.68 611.64L443.16 611.64z" clip-path="url(#p2dc4561a0a)" class="c2"/><path d="M454.68 611.64L466.92 611.64L466.92 611.64L454.68 611.64z" clip-path="url(#p2dc4561a0a)" class="c2"/><path d="M466.92 609.48L478.44 609.48L478.44 609.48L466.92 609.48z" clip-path="url(#p2dc4561a0a)" class="c2"/><path d="M478.44 611.64L490.68 611.64L490.68 611.64L478.44 611.64z" clip-path="url(#p2dc4561a0a)" class="c2"/><path d="M490.68 609.48L502.2 609.48L502.2 609.48L490.68 609.48z" clip-path="url(#p2dc4561a0a)" class="c2"/><path d="M502.2 609.48L514.44 609.48L514.44 609.48L502.2 609.48z" clip-path="url(#p2dc4561a0a)" class="c2"/><path d="M73.08 407.16L85.32 407.16L85.32 334.44L73.08 334.44z" clip-path="url(#p2dc4561a0a)" class="c3"/><path d="M85.32 450.36L96.84 450.36L96.84 405L85.32 405z" clip-path="url(#p2dc4561a0a)" class="c3"/><path d="M96.84 441L109.08 441L109.08 375.48L96.84 375.48z" clip-path="url(#p2dc4561a0a)" class="c3"/><path d="M109.08 468.36L121.32 468.36L121.32 393.48L109.08 393.48z" clip-path="url(#p2dc4561a0a)" class="c3"/><path d="M121.32 513.72L132.84 513.72L132.84 474.12L121.32 474.12z" clip-path="url(#p2dc4561a0a)" class="c3"/><path d="M132.84 495.72L145.08 495.72L145.08 444.6L132.84 444.6z" clip-path="url(#p2dc4561a0a)" class="c3"/><path d="M145.08 507.24L156.6 507.24L156.6 470.52L145.08 470.52z" clip-path="url(#p2dc4561a0a)" class="c3"/><path d="M156.6 507.24L168.84 507.24L168.84 484.2L156.6 484.2z" clip-path="url(#p2dc4561a0a)" class="c3"/><path d="M168.84 533.16L180.36 533.16L180.36 519.48L168.84 519.48z" clip-path="url(#p2dc4561a0a)" class="c3"/><path d="M180.36 546.84L192.6 546.84L192.6 523.08L180.36 523.08z" clip-path="url(#p2dc4561a0a)" class="c3"/><path d="M192.6 552.6L204.12 552.6L204.12 546.84L192.6 546.84z" clip-path="url(#p2dc4561a0a)" class="c3"/><path d="M204.12 562.68L216.36 562.68L216.36 551.16L204.12 551.16z" clip-path="url(#p2dc4561a0a)" class="c3"/><path d="M216.36 562.68L228.6 562.68L228.6 552.6L216.36 552.6z" clip-path="url(#p2dc4561a0a)" class="c3"/><path d="M228.6 562.68L240.12 562.68L240.12 556.92L228.6 556.92z" clip-path="url(#p2dc4561a0a)" class="c3"/><path d="M240.12 554.76L252.36 554.76L252.36 552.6L240.12 552.6z" clip-path="url(#p2dc4561a0a)" class="c3"/><path d="M252.36 574.2L263.88 574.2L263.88 574.2L252.36 574.2z" clip-path="url(#p2dc4561a0a)" class="c3"/><path d="M263.88 572.76L276.12 572.76L276.12 572.76L263.88 572.76z" clip-path="url(#p2dc4561a0a)" class="c3"/><path d="M276.12 590.04L287.64 590.04L287.64 590.04L276.12 590.04z" clip-path="url(#p2dc4561a0a)" class="c3"/><path d="M287.64 582.12L299.88 582.12L299.88 578.52L287.64 578.52z" clip-path="url(#p2dc4561a0a)" class="c3"/><path d="M299.88 594.36L312.12 594.36L312.12 592.2L299.88 592.2z" clip-path="url(#p2dc4561a0a)" class="c3"/><path d="M312.12 597.96L323.64 597.96L323.64 597.96L312.12 597.96z" clip-path="url(#p2dc4561a0a)" class="c3"/><path d="M323.64 605.88L335.88 605.88L335.88 605.88L323.64 605.88z" clip-path="url(#p2dc4561a0a)" class="c3"/><path d="M335.88 592.2L347.4 592.2L347.4 592.2L335.88 592.2z" clip-path="url(#p2dc4561a0a)" class="c3"/><path d="M347.4 608.04L359.64 608.04L359.64 608.04L347.4 608.04z" clip-path="url(#p2dc4561a0a)" class="c3"/><path d="M359.64 608.04L371.16 608.04L371.16 608.04L359.64 608.04z" clip-path="url(#p2dc4561a0a)" class="c3"/><path d="M371.16 602.28L383.4 602.28L383.4 602.28L371.16 602.28z" clip-path="url(#p2dc4561a0a)" class="c3"/><path d="M383.4 605.88L394.92 605.88L394.92 605.88L383.4 605.88z" clip-path="url(#p2dc4561a0a)" class="c3"/><path d="M394.92 609.48L407.16 609.48L407.16 609.48L394.92 609.48z" clip-path="url(#p2dc4561a0a)" class="c3"/><path d="M407.16 609.48L419.4 609.48L419.4 609.48L407.16 609.48z" clip-path="url(#p2dc4561a0a)" class="c3"/><path d="M419.4 611.64L430.92 611.64L430.92 611.64L419.4 611.64z" clip-path="url(#p2dc4561a0a)" class="c3"/><path d="M430.92 611.64L443.16 611.64L443.16 611.64L430.92 611.64z" clip-path="url(#p2dc4561a0a)" class="c3"/><path d="M443.16 611.64L454.68 611.64L454.68 611.64L443.16 611.64z" clip-path="url(#p2dc4561a0a)" class="c3"/><path d="M454.68 611.64L466.92 611.64L466.92 611.64L454.68 611.64z" clip-path="url(#p2dc4561a0a)" class="c3"/><path d="M466.92 609.48L478.44 609.48L478.44 609.48L466.92 609.48z" clip-path="url(#p2dc4561a0a)" class="c3"/><path d="M478.44 611.64L490.68 611.64L490.68 611.64L478.44 611.64z" clip-path="url(#p2dc4561a0a)" class="c3"/><path d="M490.68 609.48L502.2 609.48L502.2 609.48L490.68 609.48z" clip-path="url(#p2dc4561a0a)" class="c3"/><path d="M502.2 609.48L514.44 609.48L514.44 609.48L502.2 609.48z" clip-path="url(#p2dc4561a0a)" class="c3"/><path d="M73.08 334.44L85.32 334.44L85.32 294.84L73.08 294.84z" clip-path="url(#p2dc4561a0a)" class="c1"/><path d="M85.32 405L96.84 405L96.84 348.12L85.32 348.12z" clip-path="url(#p2dc4561a0a)" class="c1"/><path d="M96.84 375.48L109.08 375.48L109.08 315L96.84 315z" clip-path="url(#p2dc4561a0a)" class="c1"/><path d="M109.08 393.48L121.32 393.48L121.32 330.84L109.08 330.84z" clip-path="url(#p2dc4561a0a)" class="c1"/><path d="M121.32 474.12L132.84 474.12L132.84 417.24L121.32 417.24z" clip-path="url(#p2dc4561a0a)" class="c1"/><path d="M132.84 444.6L145.08 444.6L145.08 379.8L132.84 379.8z" clip-path="url(#p2dc4561a0a)" class="c1"/><path d="M145.08 470.52L156.6 470.52L156.6 405L145.08 405z" clip-path="url(#p2dc4561a0a)" class="c1"/><path d="M156.6 484.2L168.84 484.2L168.84 407.16L156.6 407.16z" clip-path="url(#p2dc4561a0a)" class="c1"/><path d="M168.84 519.48L180.36 519.48L180.36 426.6L168.84 426.6z" clip-path="url(#p2dc4561a0a)" class="c1"/><path d="M180.36 523.08L192.6 523.08L192.6 454.68L180.36 454.68z" clip-path="url(#p2dc4561a0a)" class="c1"/><path d="M192.6 546.84L204.12 546.84L204.12 474.12L192.6 474.12z" clip-path="url(#p2dc4561a0a)" class="c1"/><path d="M204.12 551.16L216.36 551.16L216.36 511.56L204.12 511.56z" clip-path="url(#p2dc4561a0a)" class="c1"/><path d="M216.36 552.6L228.6 552.6L228.6 507.24L216.36 507.24z" clip-path="url(#p2dc4561a0a)" class="c1"/><path d="M228.6 556.92L240.12 556.92L240.12 511.56L228.6 511.56z" clip-path="url(#p2dc4561a0a)" class="c1"/><path d="M240.12 552.6L252.36 552.6L252.36 515.16L240.12 515.16z" clip-path="url(#p2dc4561a0a)" class="c1"/><path d="M252.36 574.2L263.88 574.2L263.88 549L252.36 549z" clip-path="url(#p2dc4561a0a)" class="c1"/><path d="M263.88 572.76L276.12 572.76L276.12 551.16L263.88 551.16z" clip-path="url(#p2dc4561a0a)" class="c1"/><path d="M276.12 590.04L287.64 590.04L287.64 556.92L276.12 556.92z" clip-path="url(#p2dc4561a0a)" class="c1"/><path d="M287.64 578.52L299.88 578.52L299.88 562.68L287.64 562.68z" clip-path="url(#p2dc4561a0a)" class="c1"/><path d="M299.88 592.2L312.12 592.2L312.12 580.68L299.88 580.68z" clip-path="url(#p2dc4561a0a)" class="c1"/><path d="M312.12 597.96L323.64 597.96L323.64 587.88L312.12 587.88z" clip-path="url(#p2dc4561a0a)" class="c1"/><path d="M323.64 605.88L335.88 605.88L335.88 597.96L323.64 597.96z" clip-path="url(#p2dc4561a0a)" class="c1"/><path d="M335.88 592.2L347.4 592.2L347.4 587.88L335.88 587.88z" clip-path="url(#p2dc4561a0a)" class="c1"/><path d="M347.4 608.04L359.64 608.04L359.64 605.88L347.4 605.88z" clip-path="url(#p2dc4561a0a)" class="c1"/><path d="M359.64 608.04L371.16 608.04L371.16 603.72L359.64 603.72z" clip-path="url(#p2dc4561a0a)" class="c1"/><path d="M371.16 602.28L383.4 602.28L383.4 595.8L371.16 595.8z" clip-path="url(#p2dc4561a0a)" class="c1"/><path d="M383.4 605.88L394.92 605.88L394.92 605.88L383.4 605.88z" clip-path="url(#p2dc4561a0a)" class="c1"/><path d="M394.92 609.48L407.16 609.48L407.16 609.48L394.92 609.48z" clip-path="url(#p2dc4561a0a)" class="c1"/><path d="M407.16 609.48L419.4 609.48L419.4 608.04L407.16 608.04z" clip-path="url(#p2dc4561a0a)" class="c1"/><path d="M419.4 611.64L430.92 611.64L430.92 611.64L419.4 611.64z" clip-path="url(#p2dc4561a0a)" class="c1"/><path d="M430.92 611.64L443.16 611.64L443.16 611.64L430.92 611.64z" clip-path="url(#p2dc4561a0a)" class="c1"/><path d="M443.16 611.64L454.68 611.64L454.68 611.64L443.16 611.64z" clip-path="url(#p2dc4561a0a)" class="c1"/><path d="M454.68 611.64L466.92 611.64L466.92 611.64L454.68 611.64z" clip-path="url(#p2dc4561a0a)" class="c1"/><path d="M466.92 609.48L478.44 609.48L478.44 609.48L466.92 609.48z" clip-path="url(#p2dc4561a0a)" class="c1"/><path d="M478.44 611.64L490.68 611.64L490.68 611.64L478.44 611.64z" clip-path="url(#p2dc4561a0a)" class="c1"/><path d="M490.68 609.48L502.2 609.48L502.2 609.48L490.68 609.48z" clip-path="url(#p2dc4561a0a)" class="c1"/><path d="M502.2 609.48L514.44 609.48L514.44 609.48L502.2 609.48z" clip-path="url(#p2dc4561a0a)" class="c1"/><path d="M73.08 294.84L85.32 294.84L85.32 192.6L73.08 192.6z" clip-path="url(#p2dc4561a0a)" class="c7"/><path d="M85.32 348.12L96.84 348.12L96.84 230.04L85.32 230.04z" clip-path="url(#p2dc4561a0a)" class="c7"/><path d="M96.84 315L109.08 315L109.08 159.48L96.84 159.48z" clip-path="url(#p2dc4561a0a)" class="c7"/><path d="M109.08 330.84L121.32 330.84L121.32 198.36L109.08 198.36z" clip-path="url(#p2dc4561a0a)" class="c7"/><path d="M121.32 417.24L132.84 417.24L132.84 255.96L121.32 255.96z" clip-path="url(#p2dc4561a0a)" class="c7"/><path d="M132.84 379.8L145.08 379.8L145.08 237.96L132.84 237.96z" clip-path="url(#p2dc4561a0a)" class="c7"/><path d="M145.08 405L156.6 405L156.6 275.4L145.08 275.4z" clip-path="url(#p2dc4561a0a)" class="c7"/><path d="M156.6 407.16L168.84 407.16L168.84 275.4L156.6 275.4z" clip-path="url(#p2dc4561a0a)" class="c7"/><path d="M168.84 426.6L180.36 426.6L180.36 326.52L168.84 326.52z" clip-path="url(#p2dc4561a0a)" class="c7"/><path d="M180.36 454.68L192.6 454.68L192.6 334.44L180.36 334.44z" clip-path="url(#p2dc4561a0a)" class="c7"/><path d="M192.6 474.12L204.12 474.12L204.12 383.4L192.6 383.4z" clip-path="url(#p2dc4561a0a)" class="c7"/><path d="M204.12 511.56L216.36 511.56L216.36 434.52L204.12 434.52z" clip-path="url(#p2dc4561a0a)" class="c7"/><path d="M216.36 507.24L228.6 507.24L228.6 395.64L216.36 395.64z" clip-path="url(#p2dc4561a0a)" class="c7"/><path d="M228.6 511.56L240.12 511.56L240.12 452.52L228.6 452.52z" clip-path="url(#p2dc4561a0a)" class="c7"/><path d="M240.12 515.16L252.36 515.16L252.36 477.72L240.12 477.72z" clip-path="url(#p2dc4561a0a)" class="c7"/><path d="M252.36 549L263.88 549L263.88 509.4L252.36 509.4z" clip-path="url(#p2dc4561a0a)" class="c7"/><path d="M263.88 551.16L276.12 551.16L276.12 517.32L263.88 517.32z" clip-path="url(#p2dc4561a0a)" class="c7"/><path d="M276.12 556.92L287.64 556.92L287.64 541.08L276.12 541.08z" clip-path="url(#p2dc4561a0a)" class="c7"/><path d="M287.64 562.68L299.88 562.68L299.88 551.16L287.64 551.16z" clip-path="url(#p2dc4561a0a)" class="c7"/><path d="M299.88 580.68L312.12 580.68L312.12 570.6L299.88 570.6z" clip-path="url(#p2dc4561a0a)" class="c7"/><path d="M312.12 587.88L323.64 587.88L323.64 580.68L312.12 580.68z" clip-path="url(#p2dc4561a0a)" class="c7"/><path d="M323.64 597.96L335.88 597.96L335.88 594.36L323.64 594.36z" clip-path="url(#p2dc4561a0a)" class="c7"/><path d="M335.88 587.88L347.4 587.88L347.4 584.28L335.88 584.28z" clip-path="url(#p2dc4561a0a)" class="c7"/><path d="M347.4 605.88L359.64 605.88L359.64 603.72L347.4 603.72z" clip-path="url(#p2dc4561a0a)" class="c7"/><path d="M359.64 603.72L371.16 603.72L371.16 600.12L359.64 600.12z" clip-path="url(#p2dc4561a0a)" class="c7"/><path d="M371.16 595.8L383.4 595.8L383.4 595.8L371.16 595.8z" clip-path="url(#p2dc4561a0a)" class="c7"/><path d="M383.4 605.88L394.92 605.88L394.92 605.88L383.4 605.88z" clip-path="url(#p2dc4561a0a)" class="c7"/><path d="M394.92 609.48L407.16 609.48L407.16 609.48L394.92 609.48z" clip-path="url(#p2dc4561a0a)" class="c7"/><path d="M407.16 608.04L419.4 608.04L419.4 608.04L407.16 608.04z" clip-path="url(#p2dc4561a0a)" class="c7"/><path d="M419.4 611.64L430.92 611.64L430.92 611.64L419.4 611.64z" clip-path="url(#p2dc4561a0a)" class="c7"/><path d="M430.92 611.64L443.16 611.64L443.16 611.64L430.92 611.64z" clip-path="url(#p2dc4561a0a)" class="c7"/><path d="M443.16 611.64L454.68 611.64L454.68 611.64L443.16 611.64z" clip-path="url(#p2dc4561a0a)" class="c7"/><path d="M454.68 611.64L466.92 611.64L466.92 611.64L454.68 611.64z" clip-path="url(#p2dc4561a0a)" class="c7"/><path d="M466.92 609.48L478.44 609.48L478.44 609.48L466.92 609.48z" clip-path="url(#p2dc4561a0a)" class="c7"/><path d="M478.44 611.64L490.68 611.64L490.68 611.64L478.44 611.64z" clip-path="url(#p2dc4561a0a)" class="c7"/><path d="M490.68 609.48L502.2 609.48L502.2 609.48L490.68 609.48z" clip-path="url(#p2dc4561a0a)" class="c7"/><path d="M502.2 609.48L514.44 609.48L514.44 609.48L502.2 609.48z" clip-path="url(#p2dc4561a0a)" class="c7"/><path d="M73.08 192.6L85.32 192.6L85.32 167.4L73.08 167.4z" clip-path="url(#p2dc4561a0a)" class="c8"/><path d="M85.32 230.04L96.84 230.04L96.84 198.36L85.32 198.36z" clip-path="url(#p2dc4561a0a)" class="c8"/><path d="M96.84 159.48L109.08 159.48L109.08 135.72L96.84 135.72z" clip-path="url(#p2dc4561a0a)" class="c8"/><path d="M109.08 198.36L121.32 198.36L121.32 168.84L109.08 168.84z" clip-path="url(#p2dc4561a0a)" class="c8"/><path d="M121.32 255.96L132.84 255.96L132.84 235.8L121.32 235.8z" clip-path="url(#p2dc4561a0a)" class="c8"/><path d="M132.84 237.96L145.08 237.96L145.08 210.6L132.84 210.6z" clip-path="url(#p2dc4561a0a)" class="c8"/><path d="M145.08 275.4L156.6 275.4L156.6 249.48L145.08 249.48z" clip-path="url(#p2dc4561a0a)" class="c8"/><path d="M156.6 275.4L168.84 275.4L168.84 257.4L156.6 257.4z" clip-path="url(#p2dc4561a0a)" class="c8"/><path d="M168.84 326.52L180.36 326.52L180.36 315L168.84 315z" clip-path="url(#p2dc4561a0a)" class="c8"/><path d="M180.36 334.44L192.6 334.44L192.6 320.76L180.36 320.76z" clip-path="url(#p2dc4561a0a)" class="c8"/><path d="M192.6 383.4L204.12 383.4L204.12 379.8L192.6 379.8z" clip-path="url(#p2dc4561a0a)" class="c8"/><path d="M204.12 434.52L216.36 434.52L216.36 425.16L204.12 425.16z" clip-path="url(#p2dc4561a0a)" class="c8"/><path d="M216.36 395.64L228.6 395.64L228.6 393.48L216.36 393.48z" clip-path="url(#p2dc4561a0a)" class="c8"/><path d="M228.6 452.52L240.12 452.52L240.12 448.2L228.6 448.2z" clip-path="url(#p2dc4561a0a)" class="c8"/><path d="M240.12 477.72L252.36 477.72L252.36 471.96L240.12 471.96z" clip-path="url(#p2dc4561a0a)" class="c8"/><path d="M252.36 509.4L263.88 509.4L263.88 507.24L252.36 507.24z" clip-path="url(#p2dc4561a0a)" class="c8"/><path d="M263.88 517.32L276.12 517.32L276.12 517.32L263.88 517.32z" clip-path="url(#p2dc4561a0a)" class="c8"/><path d="M276.12 541.08L287.64 541.08L287.64 541.08L276.12 541.08z" clip-path="url(#p2dc4561a0a)" class="c8"/><path d="M287.64 551.16L299.88 551.16L299.88 549L287.64 549z" clip-path="url(#p2dc4561a0a)" class="c8"/><path d="M299.88 570.6L312.12 570.6L312.12 570.6L299.88 570.6z" clip-path="url(#p2dc4561a0a)" class="c8"/><path d="M312.12 580.68L323.64 580.68L323.64 580.68L312.12 580.68z" clip-path="url(#p2dc4561a0a)" class="c8"/><path d="M323.64 594.36L335.88 594.36L335.88 594.36L323.64 594.36z" clip-path="url(#p2dc4561a0a)" class="c8"/><path d="M335.88 584.28L347.4 584.28L347.4 584.28L335.88 584.28z" clip-path="url(#p2dc4561a0a)" class="c8"/><path d="M347.4 603.72L359.64 603.72L359.64 603.72L347.4 603.72z" clip-path="url(#p2dc4561a0a)" class="c8"/><path d="M359.64 600.12L371.16 600.12L371.16 600.12L359.64 600.12z" clip-path="url(#p2dc4561a0a)" class="c8"/><path d="M371.16 595.8L383.4 595.8L383.4 595.8L371.16 595.8z" clip-path="url(#p2dc4561a0a)" class="c8"/><path d="M383.4 605.88L394.92 605.88L394.92 605.88L383.4 605.88z" clip-path="url(#p2dc4561a0a)" class="c8"/><path d="M394.92 609.48L407.16 609.48L407.16 609.48L394.92 609.48z" clip-path="url(#p2dc4561a0a)" class="c8"/><path d="M407.16 608.04L419.4 608.04L419.4 608.04L407.16 608.04z" clip-path="url(#p2dc4561a0a)" class="c8"/><path d="M419.4 611.64L430.92 611.64L430.92 611.64L419.4 611.64z" clip-path="url(#p2dc4561a0a)" class="c8"/><path d="M430.92 611.64L443.16 611.64L443.16 611.64L430.92 611.64z" clip-path="url(#p2dc4561a0a)" class="c8"/><path d="M443.16 611.64L454.68 611.64L454.68 611.64L443.16 611.64z" clip-path="url(#p2dc4561a0a)" class="c8"/><path d="M454.68 611.64L466.92 611.64L466.92 611.64L454.68 611.64z" clip-path="url(#p2dc4561a0a)" class="c8"/><path d="M466.92 609.48L478.44 609.48L478.44 609.48L466.92 609.48z" clip-path="url(#p2dc4561a0a)" class="c8"/><path d="M478.44 611.64L490.68 611.64L490.68 611.64L478.44 611.64z" clip-path="url(#p2dc4561a0a)" class="c8"/><path d="M490.68 609.48L502.2 609.48L502.2 609.48L490.68 609.48z" clip-path="url(#p2dc4561a0a)" class="c8"/><path d="M502.2 609.48L514.44 609.48L514.44 609.48L502.2 609.48z" clip-path="url(#p2dc4561a0a)" class="c8"/><path d="M73.08 167.4L85.32 167.4L85.32 104.04L73.08 104.04z" clip-path="url(#p2dc4561a0a)" class="c5"/><path d="M85.32 198.36L96.84 198.36L96.84 137.88L85.32 137.88z" clip-path="url(#p2dc4561a0a)" class="c5"/><path d="M96.84 135.72L109.08 135.72L109.08 90.36L96.84 90.36z" clip-path="url(#p2dc4561a0a)" class="c5"/><path d="M109.08 168.84L121.32 168.84L121.32 127.8L109.08 127.8z" clip-path="url(#p2dc4561a0a)" class="c5"/><path d="M121.32 235.8L132.84 235.8L132.84 189L121.32 189z" clip-path="url(#p2dc4561a0a)" class="c5"/><path d="M132.84 210.6L145.08 210.6L145.08 178.92L132.84 178.92z" clip-path="url(#p2dc4561a0a)" class="c5"/><path d="M145.08 249.48L156.6 249.48L156.6 214.2L145.08 214.2z" clip-path="url(#p2dc4561a0a)" class="c5"/><path d="M156.6 257.4L168.84 257.4L168.84 227.88L156.6 227.88z" clip-path="url(#p2dc4561a0a)" class="c5"/><path d="M168.84 315L180.36 315L180.36 302.76L168.84 302.76z" clip-path="url(#p2dc4561a0a)" class="c5"/><path d="M180.36 320.76L192.6 320.76L192.6 307.08L180.36 307.08z" clip-path="url(#p2dc4561a0a)" class="c5"/><path d="M192.6 379.8L204.12 379.8L204.12 371.88L192.6 371.88z" clip-path="url(#p2dc4561a0a)" class="c5"/><path d="M204.12 425.16L216.36 425.16L216.36 418.68L204.12 418.68z" clip-path="url(#p2dc4561a0a)" class="c5"/><path d="M216.36 393.48L228.6 393.48L228.6 383.4L216.36 383.4z" clip-path="url(#p2dc4561a0a)" class="c5"/><path d="M228.6 448.2L240.12 448.2L240.12 448.2L228.6 448.2z" clip-path="url(#p2dc4561a0a)" class="c5"/><path d="M240.12 471.96L252.36 471.96L252.36 466.2L240.12 466.2z" clip-path="url(#p2dc4561a0a)" class="c5"/><path d="M252.36 507.24L263.88 507.24L263.88 503.64L252.36 503.64z" clip-path="url(#p2dc4561a0a)" class="c5"/><path d="M263.88 517.32L276.12 517.32L276.12 513.72L263.88 513.72z" clip-path="url(#p2dc4561a0a)" class="c5"/><path d="M276.12 541.08L287.64 541.08L287.64 541.08L276.12 541.08z" clip-path="url(#p2dc4561a0a)" class="c5"/><path d="M287.64 549L299.88 549L299.88 546.84L287.64 546.84z" clip-path="url(#p2dc4561a0a)" class="c5"/><path d="M299.88 570.6L312.12 570.6L312.12 568.44L299.88 568.44z" clip-path="url(#p2dc4561a0a)" class="c5"/><path d="M312.12 580.68L323.64 580.68L323.64 580.68L312.12 580.68z" clip-path="url(#p2dc4561a0a)" class="c5"/><path d="M323.64 594.36L335.88 594.36L335.88 594.36L323.64 594.36z" clip-path="url(#p2dc4561a0a)" class="c5"/><path d="M335.88 584.28L347.4 584.28L347.4 584.28L335.88 584.28z" clip-path="url(#p2dc4561a0a)" class="c5"/><path d="M347.4 603.72L359.64 603.72L359.64 603.72L347.4 603.72z" clip-path="url(#p2dc4561a0a)" class="c5"/><path d="M359.64 600.12L371.16 600.12L371.16 597.96L359.64 597.96z" clip-path="url(#p2dc4561a0a)" class="c5"/><path d="M371.16 595.8L383.4 595.8L383.4 595.8L371.16 595.8z" clip-path="url(#p2dc4561a0a)" class="c5"/><path d="M383.4 605.88L394.92 605.88L394.92 605.88L383.4 605.88z" clip-path="url(#p2dc4561a0a)" class="c5"/><path d="M394.92 609.48L407.16 609.48L407.16 609.48L394.92 609.48z" clip-path="url(#p2dc4561a0a)" class="c5"/><path d="M407.16 608.04L419.4 608.04L419.4 608.04L407.16 608.04z" clip-path="url(#p2dc4561a0a)" class="c5"/><path d="M419.4 611.64L430.92 611.64L430.92 611.64L419.4 611.64z" clip-path="url(#p2dc4561a0a)" class="c5"/><path d="M430.92 611.64L443.16 611.64L443.16 611.64L430.92 611.64z" clip-path="url(#p2dc4561a0a)" class="c5"/><path d="M443.16 611.64L454.68 611.64L454.68 611.64L443.16 611.64z" clip-path="url(#p2dc4561a0a)" class="c5"/><path d="M454.68 611.64L466.92 611.64L466.92 611.64L454.68 611.64z" clip-path="url(#p2dc4561a0a)" class="c5"/><path d="M466.92 609.48L478.44 609.48L478.44 609.48L466.92 609.48z" clip-path="url(#p2dc4561a0a)" class="c5"/><path d="M478.44 611.64L490.68 611.64L490.68 611.64L478.44 611.64z" clip-path="url(#p2dc4561a0a)" class="c5"/><path d="M490.68 609.48L502.2 609.48L502.2 609.48L490.68 609.48z" clip-path="url(#p2dc4561a0a)" class="c5"/><path d="M502.2 609.48L514.44 609.48L514.44 609.48L502.2 609.48z" clip-path="url(#p2dc4561a0a)" class="c5"/><path d="M73.08 104.04L85.32 104.04L85.32 70.92L73.08 70.92z" clip-path="url(#p2dc4561a0a)" class="c6"/><path d="M85.32 137.88L96.84 137.88L96.84 100.44L85.32 100.44z" clip-path="url(#p2dc4561a0a)" class="c6"/><path d="M96.84 90.36L109.08 90.36L109.08 66.6L96.84 66.6z" clip-path="url(#p2dc4561a0a)" class="c6"/><path d="M109.08 127.8L121.32 127.8L121.32 88.2L109.08 88.2z" clip-path="url(#p2dc4561a0a)" class="c6"/><path d="M121.32 189L132.84 189L132.84 139.32L121.32 139.32z" clip-path="url(#p2dc4561a0a)" class="c6"/><path d="M132.84 178.92L145.08 178.92L145.08 147.24L132.84 147.24z" clip-path="url(#p2dc4561a0a)" class="c6"/><path d="M145.08 214.2L156.6 214.2L156.6 168.84L145.08 168.84z" clip-path="url(#p2dc4561a0a)" class="c6"/><path d="M156.6 227.88L168.84 227.88L168.84 176.76L156.6 176.76z" clip-path="url(#p2dc4561a0a)" class="c6"/><path d="M168.84 302.76L180.36 302.76L180.36 267.48L168.84 267.48z" clip-path="url(#p2dc4561a0a)" class="c6"/><path d="M180.36 307.08L192.6 307.08L192.6 265.32L180.36 265.32z" clip-path="url(#p2dc4561a0a)" class="c6"/><path d="M192.6 371.88L204.12 371.88L204.12 348.12L192.6 348.12z" clip-path="url(#p2dc4561a0a)" class="c6"/><path d="M204.12 418.68L216.36 418.68L216.36 387.72L204.12 387.72z" clip-path="url(#p2dc4561a0a)" class="c6"/><path d="M216.36 383.4L228.6 383.4L228.6 361.8L216.36 361.8z" clip-path="url(#p2dc4561a0a)" class="c6"/><path d="M228.6 448.2L240.12 448.2L240.12 420.84L228.6 420.84z" clip-path="url(#p2dc4561a0a)" class="c6"/><path d="M240.12 466.2L252.36 466.2L252.36 446.76L240.12 446.76z" clip-path="url(#p2dc4561a0a)" class="c6"/><path d="M252.36 503.64L263.88 503.64L263.88 479.88L252.36 479.88z" clip-path="url(#p2dc4561a0a)" class="c6"/><path d="M263.88 513.72L276.12 513.72L276.12 501.48L263.88 501.48z" clip-path="url(#p2dc4561a0a)" class="c6"/><path d="M276.12 541.08L287.64 541.08L287.64 531L276.12 531z" clip-path="url(#p2dc4561a0a)" class="c6"/><path d="M287.64 546.84L299.88 546.84L299.88 531L287.64 531z" clip-path="url(#p2dc4561a0a)" class="c6"/><path d="M299.88 568.44L312.12 568.44L312.12 560.52L299.88 560.52z" clip-path="url(#p2dc4561a0a)" class="c6"/><path d="M312.12 580.68L323.64 580.68L323.64 572.76L312.12 572.76z" clip-path="url(#p2dc4561a0a)" class="c6"/><path d="M323.64 594.36L335.88 594.36L335.88 582.12L323.64 582.12z" clip-path="url(#p2dc4561a0a)" class="c6"/><path d="M335.88 584.28L347.4 584.28L347.4 578.52L335.88 578.52z" clip-path="url(#p2dc4561a0a)" class="c6"/><path d="M347.4 603.72L359.64 603.72L359.64 597.96L347.4 597.96z" clip-path="url(#p2dc4561a0a)" class="c6"/><path d="M359.64 597.96L371.16 597.96L371.16 592.2L359.64 592.2z" clip-path="url(#p2dc4561a0a)" class="c6"/><path d="M371.16 595.8L383.4 595.8L383.4 590.04L371.16 590.04z" clip-path="url(#p2dc4561a0a)" class="c6"/><path d="M383.4 605.88L394.92 605.88L394.92 603.72L383.4 603.72z" clip-path="url(#p2dc4561a0a)" class="c6"/><path d="M394.92 609.48L407.16 609.48L407.16 608.04L394.92 608.04z" clip-path="url(#p2dc4561a0a)" class="c6"/><path d="M407.16 608.04L419.4 608.04L419.4 603.72L407.16 603.72z" clip-path="url(#p2dc4561a0a)" class="c6"/><path d="M419.4 611.64L430.92 611.64L430.92 609.48L419.4 609.48z" clip-path="url(#p2dc4561a0a)" class="c6"/><path d="M430.92 611.64L443.16 611.64L443.16 611.64L430.92 611.64z" clip-path="url(#p2dc4561a0a)" class="c6"/><path d="M443.16 611.64L454.68 611.64L454.68 609.48L443.16 609.48z" clip-path="url(#p2dc4561a0a)" class="c6"/><path d="M454.68 611.64L466.92 611.64L466.92 609.48L454.68 609.48z" clip-path="url(#p2dc4561a0a)" class="c6"/><path d="M466.92 609.48L478.44 609.48L478.44 609.48L466.92 609.48z" clip-path="url(#p2dc4561a0a)" class="c6"/><path d="M478.44 611.64L490.68 611.64L490.68 611.64L478.44 611.64z" clip-path="url(#p2dc4561a0a)" class="c6"/><path d="M490.68 609.48L502.2 609.48L502.2 609.48L490.68 609.48z" clip-path="url(#p2dc4561a0a)" class="c6"/><path d="M502.2 609.48L514.44 609.48L514.44 609.48L502.2 609.48z" clip-path="url(#p2dc4561a0a)" class="c6"/><path d="M73.08 70.92L85.32 70.92L85.32 63L73.08 63z" clip-path="url(#p2dc4561a0a)" class="c8"/><path d="M85.32 100.44L96.84 100.44L96.84 90.36L85.32 90.36z" clip-path="url(#p2dc4561a0a)" class="c8"/><path d="M96.84 66.6L109.08 66.6L109.08 55.08L96.84 55.08z" clip-path="url(#p2dc4561a0a)" class="c8"/><path d="M109.08 88.2L121.32 88.2L121.32 78.84L109.08 78.84z" clip-path="url(#p2dc4561a0a)" class="c8"/><path d="M121.32 139.32L132.84 139.32L132.84 132.12L121.32 132.12z" clip-path="url(#p2dc4561a0a)" class="c8"/><path d="M132.84 147.24L145.08 147.24L145.08 143.64L132.84 143.64z" clip-path="url(#p2dc4561a0a)" class="c8"/><path d="M145.08 168.84L156.6 168.84L156.6 151.56L145.08 151.56z" clip-path="url(#p2dc4561a0a)" class="c8"/><path d="M156.6 176.76L168.84 176.76L168.84 163.08L156.6 163.08z" clip-path="url(#p2dc4561a0a)" class="c8"/><path d="M168.84 267.48L180.36 267.48L180.36 261.72L168.84 261.72z" clip-path="url(#p2dc4561a0a)" class="c8"/><path d="M180.36 265.32L192.6 265.32L192.6 259.56L180.36 259.56z" clip-path="url(#p2dc4561a0a)" class="c8"/><path d="M192.6 348.12L204.12 348.12L204.12 344.52L192.6 344.52z" clip-path="url(#p2dc4561a0a)" class="c8"/><path d="M204.12 387.72L216.36 387.72L216.36 387.72L204.12 387.72z" clip-path="url(#p2dc4561a0a)" class="c8"/><path d="M216.36 361.8L228.6 361.8L228.6 359.64L216.36 359.64z" clip-path="url(#p2dc4561a0a)" class="c8"/><path d="M228.6 420.84L240.12 420.84L240.12 412.92L228.6 412.92z" clip-path="url(#p2dc4561a0a)" class="c8"/><path d="M240.12 446.76L252.36 446.76L252.36 446.76L240.12 446.76z" clip-path="url(#p2dc4561a0a)" class="c8"/><path d="M252.36 479.88L263.88 479.88L263.88 477.72L252.36 477.72z" clip-path="url(#p2dc4561a0a)" class="c8"/><path d="M263.88 501.48L276.12 501.48L276.12 495.72L263.88 495.72z" clip-path="url(#p2dc4561a0a)" class="c8"/><path d="M276.12 531L287.64 531L287.64 527.4L276.12 527.4z" clip-path="url(#p2dc4561a0a)" class="c8"/><path d="M287.64 531L299.88 531L299.88 528.84L287.64 528.84z" clip-path="url(#p2dc4561a0a)" class="c8"/><path d="M299.88 560.52L312.12 560.52L312.12 560.52L299.88 560.52z" clip-path="url(#p2dc4561a0a)" class="c8"/><path d="M312.12 572.76L323.64 572.76L323.64 572.76L312.12 572.76z" clip-path="url(#p2dc4561a0a)" class="c8"/><path d="M323.64 582.12L335.88 582.12L335.88 582.12L323.64 582.12z" clip-path="url(#p2dc4561a0a)" class="c8"/><path d="M335.88 578.52L347.4 578.52L347.4 574.2L335.88 574.2z" clip-path="url(#p2dc4561a0a)" class="c8"/><path d="M347.4 597.96L359.64 597.96L359.64 595.8L347.4 595.8z" clip-path="url(#p2dc4561a0a)" class="c8"/><path d="M359.64 592.2L371.16 592.2L371.16 590.04L359.64 590.04z" clip-path="url(#p2dc4561a0a)" class="c8"/><path d="M371.16 590.04L383.4 590.04L383.4 590.04L371.16 590.04z" clip-path="url(#p2dc4561a0a)" class="c8"/><path d="M383.4 603.72L394.92 603.72L394.92 603.72L383.4 603.72z" clip-path="url(#p2dc4561a0a)" class="c8"/><path d="M394.92 608.04L407.16 608.04L407.16 608.04L394.92 608.04z" clip-path="url(#p2dc4561a0a)" class="c8"/><path d="M407.16 603.72L419.4 603.72L419.4 603.72L407.16 603.72z" clip-path="url(#p2dc4561a0a)" class="c8"/><path d="M419.4 609.48L430.92 609.48L430.92 609.48L419.4 609.48z" clip-path="url(#p2dc4561a0a)" class="c8"/><path d="M430.92 611.64L443.16 611.64L443.16 611.64L430.92 611.64z" clip-path="url(#p2dc4561a0a)" class="c8"/><path d="M443.16 609.48L454.68 609.48L454.68 609.48L443.16 609.48z" clip-path="url(#p2dc4561a0a)" class="c8"/><path d="M454.68 609.48L466.92 609.48L466.92 609.48L454.68 609.48z" clip-path="url(#p2dc4561a0a)" class="c8"/><path d="M466.92 609.48L478.44 609.48L478.44 609.48L466.92 609.48z" clip-path="url(#p2dc4561a0a)" class="c8"/><path d="M478.44 611.64L490.68 611.64L490.68 611.64L478.44 611.64z" clip-path="url(#p2dc4561a0a)" class="c8"/><path d="M490.68 609.48L502.2 609.48L502.2 609.48L490.68 609.48z" clip-path="url(#p2dc4561a0a)" class="c8"/><path d="M502.2 609.48L514.44 609.48L514.44 609.48L502.2 609.48z" clip-path="url(#p2dc4561a0a)" class="c8"/><g><g><path d="M73.08 611.64L73.08 27" clip-path="url(#p2dc4561a0a)" class="c9"/><g><defs><path d="M0 0L0 3.5" id="m880bdcb491" class="c10"/></defs><use href="#m880bdcb491" x="73.08" y="611.64" class="c10"/></g><g transform="translate(0.231 0.1156)"><g transform="translate(61.9 626.36) scale(0.1 -0.1)"><defs><path d="M2034 4250Q1547 4250 1301 3770Q1056 3291 1056 2328Q1056 1369 1301 889Q1547 409 2034 409Q2525 409 2770 889Q3016 1369 3016 2328Q3016 3291 2770 3770Q2525 4250 2034 4250zM2034 4750Q2819 4750 3233 4129Q3647 3509 3647 2328Q3647 1150 3233 529Q2819-91 2034-91Q1250-91 836 529Q422 1150 422 2328Q422 3509 836 4129Q1250 4750 2034 4750z" id="DejaVuSans-30" transform="scale(0.01562)"/><path d="M684 794L1344 794L1344 0L684 0L684 794z" id="DejaVuSans-2e" transform="scale(0.01562)"/></defs><use href="#DejaVuSans-30" transform="translate(0 0)"/><use href="#DejaVuSans-2e" transform="translate(63 0)"/><use href="#DejaVuSans-30" transform="translate(94.5 0)"/><use href="#DejaVuSans-30" transform="translate(157.5 0)"/></g></g></g><g><path d="M132.12 611.64L132.12 27" clip-path="url(#p2dc4561a0a)" class="c9"/><use href="#m880bdcb491" x="132.12" y="611.64" class="c10"/><g transform="translate(0.3568 -0.004433)"><g transform="translate(120.92 626.36) scale(0.1 -0.1)"><defs><path d="M691 4666L3169 4666L3169 4134L1269 4134L1269 2991Q1406 3038 1543 3061Q1681 3084 1819 3084Q2600 3084 3056 2656Q3513 2228 3513 1497Q3513 744 3044 326Q2575-91 1722-91Q1428-91 1123-41Q819 9 494 109L494 744Q775 591 1075 516Q1375 441 1709 441Q2250 441 2565 725Q2881 1009 2881 1497Q2881 1984 2565 2268Q2250 2553 1709 2553Q1456 2553 1204 2497Q953 2441 691 2322L691 4666z" id="DejaVuSans-35" transform="scale(0.01562)"/></defs><use href="#DejaVuSans-30" transform="translate(0 0)"/><use href="#DejaVuSans-2e" transform="translate(63 0)"/><use href="#DejaVuSans-30" transform="translate(94.5 0)"/><use href="#DejaVuSans-35" transform="translate(157.5 0)"/></g></g></g><g><path d="M191.16 611.64L191.16 27" clip-path="url(#p2dc4561a0a)" class="c9"/><use href="#m880bdcb491" x="191.16" y="611.64" class="c10"/><g transform="translate(0.3689 0.1175)"><g transform="translate(179.89 626.36) scale(0.1 -0.1)"><defs><path d="M794 531L1825 531L1825 4091L703 3866L703 4441L1819 4666L2450 4666L2450 531L3481 531L3481 0L794 0L794 531z" id="DejaVuSans-31" transform="scale(0.01562)"/></defs><use href="#DejaVuSans-30" transform="translate(0 0)"/><use href="#DejaVuSans-2e" transform="translate(63 0)"/><use href="#DejaVuSans-31" transform="translate(94.5 0)"/><use href="#DejaVuSans-30" transform="translate(158.4 0)"/></g></g></g><g><path d="M250.2 611.64L250.2 27" clip-path="url(#p2dc4561a0a)" class="c9"/><use href="#m880bdcb491" x="250.2" y="611.64" class="c10"/><g transform="translate(0.2487 0.06124)"><g transform="translate(238.9 626.36) scale(0.1 -0.1)"><use href="#DejaVuSans-30" transform="translate(0 0)"/><use href="#DejaVuSans-2e" transform="translate(63 0)"/><use href="#DejaVuSans-31" transform="translate(94.5 0)"/><use href="#DejaVuSans-35" transform="translate(158.4 0)"/></g></g></g><g><path d="M309.24 611.64L309.24 27" clip-path="url(#p2dc4561a0a)" class="c9"/><use href="#m880bdcb491" x="309.24" y="611.64" class="c10"/><g transform="translate(0.3499 0.08128)"><g transform="translate(297.96 626.36) scale(0.1 -0.1)"><defs><path d="M1228 531L3431 531L3431 0L469 0L469 531Q828 903 1448 1529Q2069 2156 2228 2338Q2531 2678 2651 2914Q2772 3150 2772 3378Q2772 3750 2511 3984Q2250 4219 1831 4219Q1534 4219 1204 4116Q875 4013 500 3803L500 4441Q881 4594 1212 4672Q1544 4750 1819 4750Q2544 4750 2975 4387Q3406 4025 3406 3419Q3406 3131 3298 2873Q3191 2616 2906 2266Q2828 2175 2409 1742Q1991 1309 1228 531z" id="DejaVuSans-32" transform="scale(0.01562)"/></defs><use href="#DejaVuSans-30" transform="translate(0 0)"/><use href="#DejaVuSans-2e" transform="translate(63 0)"/><use href="#DejaVuSans-32" transform="translate(94.5 0)"/><use href="#DejaVuSans-30" transform="translate(157.5 0)"/></g></g></g><g><path d="M368.28 611.64L368.28 27" clip-path="url(#p2dc4561a0a)" class="c9"/><use href="#m880bdcb491" x="368.28" y="611.64" class="c10"/><g transform="translate(0.4774 -0.008288)"><g transform="translate(356.97 626.36) scale(0.1 -0.1)"><use href="#DejaVuSans-30" transform="translate(0 0)"/><use href="#DejaVuSans-2e" transform="translate(63 0)"/><use href="#DejaVuSans-32" transform="translate(94.5 0)"/><use href="#DejaVuSans-35" transform="translate(157.5 0)"/></g></g></g><g><path d="M427.32 611.64L427.32 27" clip-path="url(#p2dc4561a0a)" class="c9"/><use href="#m880bdcb491" x="427.32" y="611.64" class="c10"/><g transform="translate(0.3883 0.07172)"><g transform="translate(415.99 626.36) scale(0.1 -0.1)"><defs><path d="M2597 2516Q3050 2419 3304 2112Q3559 1806 3559 1356Q3559 666 3084 287Q2609-91 1734-91Q1441-91 1130-33Q819 25 488 141L488 750Q750 597 1062 519Q1375 441 1716 441Q2309 441 2620 675Q2931 909 2931 1356Q2931 1769 2642 2001Q2353 2234 1838 2234L1294 2234L1294 2753L1863 2753Q2328 2753 2575 2939Q2822 3125 2822 3475Q2822 3834 2567 4026Q2313 4219 1838 4219Q1578 4219 1281 4162Q984 4106 628 3988L628 4550Q988 4650 1302 4700Q1616 4750 1894 4750Q2613 4750 3031 4423Q3450 4097 3450 3541Q3450 3153 3228 2886Q3006 2619 2597 2516z" id="DejaVuSans-33" transform="scale(0.01562)"/></defs><use href="#DejaVuSans-30" transform="translate(0 0)"/><use href="#DejaVuSans-2e" transform="translate(63 0)"/><use href="#DejaVuSans-33" transform="translate(94.5 0)"/><use href="#DejaVuSans-30" transform="translate(157.5 0)"/></g></g></g><g><path d="M486.36 611.64L486.36 27" clip-path="url(#p2dc4561a0a)" class="c9"/><use href="#m880bdcb491" x="486.36" y="611.64" class="c10"/><g transform="translate(0.3007 0.06563)"><g transform="translate(475 626.36) scale(0.1 -0.1)"><use href="#DejaVuSans-30" transform="translate(0 0)"/><use href="#DejaVuSans-2e" transform="translate(63 0)"/><use href="#DejaVuSans-33" transform="translate(94.5 0)"/><use href="#DejaVuSans-35" transform="translate(157.5 0)"/></g></g></g><g transform="translate(-0.2467 0.2815)"><g transform="translate(279.26 640.44) scale(0.1 -0.1)"><defs><path d="M2188 4044L1331 1722L3047 1722L2188 4044zM1831 4666L2547 4666L4325 0L3669 0L3244 1197L1141 1197L716 0L50 0L1831 4666z" id="DejaVuSans-41" transform="scale(0.01562)"/><path d="M603 4863L1178 4863L1178 0L603 0L603 4863z" id="DejaVuSans-6c" transform="scale(0.01562)"/><path d="M1159 525L1159-1331L581-1331L581 3500L1159 3500L1159 2969Q1341 3281 1617 3432Q1894 3584 2278 3584Q2916 3584 3314 3078Q3713 2572 3713 1747Q3713 922 3314 415Q2916-91 2278-91Q1894-91 1617 61Q1341 213 1159 525zM3116 1747Q3116 2381 2855 2742Q2594 3103 2138 3103Q1681 3103 1420 2742Q1159 2381 1159 1747Q1159 1113 1420 752Q1681 391 2138 391Q2594 391 2855 752Q3116 1113 3116 1747z" id="DejaVuSans-70" transform="scale(0.01562)"/><path d="M3513 2113L3513 0L2938 0L2938 2094Q2938 2591 2744 2837Q2550 3084 2163 3084Q1697 3084 1428 2787Q1159 2491 1159 1978L1159 0L581 0L581 4863L1159 4863L1159 2956Q1366 3272 1645 3428Q1925 3584 2291 3584Q2894 3584 3203 3211Q3513 2838 3513 2113z" id="DejaVuSans-68" transform="scale(0.01562)"/><path d="M2194 1759Q1497 1759 1228 1600Q959 1441 959 1056Q959 750 1161 570Q1363 391 1709 391Q2188 391 2477 730Q2766 1069 2766 1631L2766 1759L2194 1759zM3341 1997L3341 0L2766 0L2766 531Q2569 213 2275 61Q1981-91 1556-91Q1019-91 701 211Q384 513 384 1019Q384 1609 779 1909Q1175 2209 1959 2209L2766 2209L2766 2266Q2766 2663 2505 2880Q2244 3097 1772 3097Q1472 3097 1187 3025Q903 2953 641 2809L641 3341Q956 3463 1253 3523Q1550 3584 1831 3584Q2591 3584 2966 3190Q3341 2797 3341 1997z" id="DejaVuSans-61" transform="scale(0.01562)"/></defs><use href="#DejaVuSans-41" transform="translate(0 0)"/><use href="#DejaVuSans-6c" transform="translate(68.4 0)"/><use href="#DejaVuSans-70" transform="translate(96.3 0)"/><use href="#DejaVuSans-68" transform="translate(160.2 0)"/><use href="#DejaVuSans-61" transform="translate(223.2 0)"/></g></g></g><g><g><path d="M51.48 611.64L536.76 611.64" clip-path="url(#p2dc4561a0a)" class="c9"/><g><defs><path d="M0 0L-3.5 0" id="m2df91f7dbd" class="c10"/></defs><use href="#m2df91f7dbd" x="51.48" y="611.64" class="c10"/></g><g transform="translate(0.5521 0.3199)"><g transform="translate(37.57 615.4) scale(0.1 -0.1)"><use href="#DejaVuSans-30" transform="translate(0 0)"/></g></g></g><g><path d="M51.48 513.72L536.76 513.72" clip-path="url(#p2dc4561a0a)" class="c9"/><use href="#m2df91f7dbd" x="51.48" y="513.72" class="c10"/><g transform="translate(-0.6672 -0.02952)"><g transform="translate(31.27 517.04) scale(0.1 -0.1)"><use href="#DejaVuSans-35" transform="translate(0 0)"/><use href="#DejaVuSans-30" transform="translate(63 0)"/></g></g></g><g><path d="M51.48 415.08L536.76 415.08" clip-path="url(#p2dc4561a0a)" class="c9"/><use href="#m2df91f7dbd" x="51.48" y="415.08" class="c10"/><g transform="translate(-0.3397 -0.323)"><g transform="translate(24.88 418.68) scale(0.1 -0.1)"><use href="#DejaVuSans-31" transform="translate(0 0)"/><use href="#DejaVuSans-30" transform="translate(63.9 0)"/><use href="#DejaVuSans-30" transform="translate(126.9 0)"/></g></g></g><g><path d="M51.48 316.44L536.76 316.44" clip-path="url(#p2dc4561a0a)" class="c9"/><use href="#m2df91f7dbd" x="51.48" y="316.44" class="c10"/><g transform="translate(-0.1243 0.1299)"><g transform="translate(24.88 320.32) scale(0.1 -0.1)"><use href="#DejaVuSans-31" transform="translate(0 0)"/><use href="#DejaVuSans-35" transform="translate(63.9 0)"/><use href="#DejaVuSans-30" transform="translate(126.9 0)"/></g></g></g><g><path d="M51.48 218.52L536.76 218.52" clip-path="url(#p2dc4561a0a)" class="c9"/><use href="#m2df91f7dbd" x="51.48" y="218.52" class="c10"/><g transform="translate(0.104 -0.1758)"><g transform="translate(24.97 221.96) scale(0.1 -0.1)"><use href="#DejaVuSans-32" transform="translate(0 0)"/><use href="#DejaVuSans-30" transform="translate(63 0)"/><use href="#DejaVuSans-30" transform="translate(126 0)"/></g></g></g><g><path d="M51.48 119.88L536.76 119.88" clip-path="url(#p2dc4561a0a)" class="c9"/><use href="#m2df91f7dbd" x="51.48" y="119.88" class="c10"/><g transform="translate(0.1347 0.2495)"><g transform="translate(24.97 123.59) scale(0.1 -0.1)"><use href="#DejaVuSans-32" transform="translate(0 0)"/><use href="#DejaVuSans-35" transform="translate(63 0)"/><use href="#DejaVuSans-30" transform="translate(126 0)"/></g></g></g><g transform="translate(-0.08619 1.16)"><g transform="translate(18.72 334.01) rotate(-90) scale(0.1 -0.1)"><defs><path d="M4122 4306L4122 3641Q3803 3938 3442 4084Q3081 4231 2675 4231Q1875 4231 1450 3742Q1025 3253 1025 2328Q1025 1406 1450 917Q1875 428 2675 428Q3081 428 3442 575Q3803 722 4122 1019L4122 359Q3791 134 3420 21Q3050-91 2638-91Q1578-91 968 557Q359 1206 359 2328Q359 3453 968 4101Q1578 4750 2638 4750Q3056 4750 3426 4639Q3797 4528 4122 4306z" id="DejaVuSans-43" transform="scale(0.01562)"/><path d="M1959 3097Q1497 3097 1228 2736Q959 2375 959 1747Q959 1119 1226 758Q1494 397 1959 397Q2419 397 2687 759Q2956 1122 2956 1747Q2956 2369 2687 2733Q2419 3097 1959 3097zM1959 3584Q2709 3584 3137 3096Q3566 2609 3566 1747Q3566 888 3137 398Q2709-91 1959-91Q1206-91 779 398Q353 888 353 1747Q353 2609 779 3096Q1206 3584 1959 3584z" id="DejaVuSans-6f" transform="scale(0.01562)"/><path d="M544 1381L544 3500L1119 3500L1119 1403Q1119 906 1312 657Q1506 409 1894 409Q2359 409 2629 706Q2900 1003 2900 1516L2900 3500L3475 3500L3475 0L2900 0L2900 538Q2691 219 2414 64Q2138-91 1772-91Q1169-91 856 284Q544 659 544 1381zM1991 3584L1991 3584z" id="DejaVuSans-75" transform="scale(0.01562)"/><path d="M3513 2113L3513 0L2938 0L2938 2094Q2938 2591 2744 2837Q2550 3084 2163 3084Q1697 3084 1428 2787Q1159 2491 1159 1978L1159 0L581 0L581 3500L1159 3500L1159 2956Q1366 3272 1645 3428Q1925 3584 2291 3584Q2894 3584 3203 3211Q3513 2838 3513 2113z" id="DejaVuSans-6e" transform="scale(0.01562)"/><path d="M1172 4494L1172 3500L2356 3500L2356 3053L1172 3053L1172 1153Q1172 725 1289 603Q1406 481 1766 481L2356 481L2356 0L1766 0Q1100 0 847 248Q594 497 594 1153L594 3053L172 3053L172 3500L594 3500L594 4494L1172 4494z" id="DejaVuSans-74" transform="scale(0.01562)"/></defs><use href="#DejaVuSans-43" transform="translate(0 0)"/><use href="#DejaVuSans-6f" transform="translate(70.2 0)"/><use href="#DejaVuSans-75" transform="translate(131.4 0)"/><use href="#DejaVuSans-6e" transform="translate(194.4 0)"/><use href="#DejaVuSans-74" transform="translate(257.4 0)"/></g></g></g><path d="M51.48 611.64L51.48 27" class="c11"/><path d="M536.76 611.64L536.76 27" class="c11"/><path d="M51.48 611.64L536.76 611.64" class="c11"/><path d="M51.48 27L536.76 27" class="c11"/><g transform="translate(1.11 -0.3145)"><g transform="translate(175.4 20.88) scale(0.12 -0.12)"><defs><path d="M1259 4147L1259 2394L2053 2394Q2494 2394 2734 2622Q2975 2850 2975 3272Q2975 3691 2734 3919Q2494 4147 2053 4147L1259 4147zM628 4666L2053 4666Q2838 4666 3239 4311Q3641 3956 3641 3272Q3641 2581 3239 2228Q2838 1875 2053 1875L1259 1875L1259 0L628 0L628 4666z" id="DejaVuSans-50" transform="scale(0.01562)"/><path d="M2834 3397L2834 2853Q2591 2978 2328 3040Q2066 3103 1784 3103Q1356 3103 1142 2972Q928 2841 928 2578Q928 2378 1081 2264Q1234 2150 1697 2047L1894 2003Q2506 1872 2764 1633Q3022 1394 3022 966Q3022 478 2636 193Q2250-91 1575-91Q1294-91 989-36Q684 19 347 128L347 722Q666 556 975 473Q1284 391 1588 391Q1994 391 2212 530Q2431 669 2431 922Q2431 1156 2273 1281Q2116 1406 1581 1522L1381 1569Q847 1681 609 1914Q372 2147 372 2553Q372 3047 722 3315Q1072 3584 1716 3584Q2034 3584 2315 3537Q2597 3491 2834 3397z" id="DejaVuSans-73" transform="scale(0.01562)"/><path d="M603 3500L1178 3500L1178 0L603 0L603 3500zM603 4863L1178 4863L1178 4134L603 4134L603 4863z" id="DejaVuSans-69" transform="scale(0.01562)"/><path d="M191 3500L800 3500L1894 563L2988 3500L3597 3500L2284 0L1503 0L191 3500z" id="DejaVuSans-76" transform="scale(0.01562)"/><path d="M3597 1894L3597 1613L953 1613Q991 1019 1311 708Q1631 397 2203 397Q2534 397 2845 478Q3156 559 3463 722L3463 178Q3153 47 2828-22Q2503-91 2169-91Q1331-91 842 396Q353 884 353 1716Q353 2575 817 3079Q1281 3584 2069 3584Q2775 3584 3186 3129Q3597 2675 3597 1894zM3022 2063Q3016 2534 2758 2815Q2500 3097 2075 3097Q1594 3097 1305 2825Q1016 2553 972 2059L3022 2063z" id="DejaVuSans-65" transform="scale(0.01562)"/><path d="" id="DejaVuSans-20" transform="scale(0.01562)"/><path d="M1831 0L50 4666L709 4666L2188 738L3669 4666L4325 4666L2547 0L1831 0z" id="DejaVuSans-56" transform="scale(0.01562)"/><path d="M3116 1747Q3116 2381 2855 2742Q2594 3103 2138 3103Q1681 3103 1420 2742Q1159 2381 1159 1747Q1159 1113 1420 752Q1681 391 2138 391Q2594 391 2855 752Q3116 1113 3116 1747zM1159 2969Q1341 3281 1617 3432Q1894 3584 2278 3584Q2916 3584 3314 3078Q3713 2572 3713 1747Q3713 922 3314 415Q2916-91 2278-91Q1894-91 1617 61Q1341 213 1159 525L1159 0L581 0L581 4863L1159 4863L1159 2969z" id="DejaVuSans-62" transform="scale(0.01562)"/><path d="M2059-325Q1816-950 1584-1140Q1353-1331 966-1331L506-1331L506-850L844-850Q1081-850 1212-737Q1344-625 1503-206L1606 56L191 3500L800 3500L1894 763L2988 3500L3597 3500L2059-325z" id="DejaVuSans-79" transform="scale(0.01562)"/><path d="M628 4666L1569 4666L2759 1491L3956 4666L4897 4666L4897 0L4281 0L4281 4097L3078 897L2444 897L1241 4097L1241 0L628 0L628 4666z" id="DejaVuSans-4d" transform="scale(0.01562)"/><path d="M2906 2969L2906 4863L3481 4863L3481 0L2906 0L2906 525Q2725 213 2448 61Q2172-91 1784-91Q1150-91 751 415Q353 922 353 1747Q353 2572 751 3078Q1150 3584 1784 3584Q2172 3584 2448 3432Q2725 3281 2906 2969zM947 1747Q947 1113 1208 752Q1469 391 1925 391Q2381 391 2643 752Q2906 1113 2906 1747Q2906 2381 2643 2742Q2381 3103 1925 3103Q1469 3103 1208 2742Q947 2381 947 1747z" id="DejaVuSans-64" transform="scale(0.01562)"/><path d="M2631 2963Q2534 3019 2420 3045Q2306 3072 2169 3072Q1681 3072 1420 2755Q1159 2438 1159 1844L1159 0L581 0L581 3500L1159 3500L1159 2956Q1341 3275 1631 3429Q1922 3584 2338 3584Q2397 3584 2469 3576Q2541 3569 2628 3553L2631 2963z" id="DejaVuSans-72" transform="scale(0.01562)"/></defs><use href="#DejaVuSans-50" transform="translate(0 0)"/><use href="#DejaVuSans-6f" transform="translate(57 0)"/><use href="#DejaVuSans-73" transform="translate(117.75 0)"/><use href="#DejaVuSans-69" transform="translate(170.25 0)"/><use href="#DejaVuSans-74" transform="translate(198 0)"/><use href="#DejaVuSans-69" transform="translate(237 0)"/><use href="#DejaVuSans-76" transform="translate(264.75 0)"/><use href="#DejaVuSans-65" transform="translate(324 0)"/><use href="#DejaVuSans-20" transform="translate(385.5 0)"/><use href="#DejaVuSans-41" transform="translate(417 0)"/><use href="#DejaVuSans-6c" transform="translate(485.25 0)"/><use href="#DejaVuSans-70" transform="translate(513 0)"/><use href="#DejaVuSans-68" transform="translate(576 0)"/><use href="#DejaVuSans-61" transform="translate(639 0)"/><use href="#DejaVuSans-20" transform="translate(699.75 0)"/><use href="#DejaVuSans-56" transform="translate(731.25 0)"/><use href="#DejaVuSans-61" transform="translate(792 0)"/><use href="#DejaVuSans-6c" transform="translate(852.75 0)"/><use href="#DejaVuSans-75" transform="translate(880.5 0)"/><use href="#DejaVuSans-65" transform="translate(943.5 0)"/><use href="#DejaVuSans-73" transform="translate(1005 0)"/><use href="#DejaVuSans-20" transform="translate(1057.5 0)"/><use href="#DejaVuSans-62" transform="translate(1089 0)"/><use href="#DejaVuSans-79" transform="translate(1152 0)"/><use href="#DejaVuSans-20" transform="translate(1211.25 0)"/><use href="#DejaVuSans-4d" transform="translate(1242.75 0)"/><use href="#DejaVuSans-6f" transform="translate(1329 0)"/><use href="#DejaVuSans-64" transform="translate(1389.75 0)"/><use href="#DejaVuSans-65" transform="translate(1452.75 0)"/><use href="#DejaVuSans-6c" transform="translate(1514.25 0)"/><use href="#DejaVuSans-20" transform="translate(1542 0)"/><use href="#DejaVuSans-43" transform="translate(1573.5 0)"/><use href="#DejaVuSans-6f" transform="translate(1642.5 0)"/><use href="#DejaVuSans-75" transform="translate(1703.25 0)"/><use href="#DejaVuSans-6e" transform="translate(1766.25 0)"/><use href="#DejaVuSans-74" transform="translate(1829.25 0)"/><use href="#DejaVuSans-72" transform="translate(1868.25 0)"/><use href="#DejaVuSans-79" transform="translate(1909.5 0)"/></g></g><g><path d="M454.25 261.08L529.17 261.08Q531.17 261.08 531.17 259.08L531.17 33.88Q531.17 31.88 529.17 31.88L454.25 31.88Q452.25 31.88 452.25 33.88L452.25 259.08Q452.25 261.08 454.25 261.08z" class="c12"/><g transform="translate(-0.1231 0.03733)"><g transform="translate(456.25 43.8) scale(0.1 -0.1)"><defs><path d="M3328 2828Q3544 3216 3844 3400Q4144 3584 4550 3584Q5097 3584 5394 3201Q5691 2819 5691 2113L5691 0L5113 0L5113 2094Q5113 2597 4934 2840Q4756 3084 4391 3084Q3944 3084 3684 2787Q3425 2491 3425 1978L3425 0L2847 0L2847 2094Q2847 2600 2669 2842Q2491 3084 2119 3084Q1678 3084 1418 2786Q1159 2488 1159 1978L1159 0L581 0L581 3500L1159 3500L1159 2956Q1356 3278 1631 3431Q1906 3584 2284 3584Q2666 3584 2933 3390Q3200 3197 3328 2828z" id="DejaVuSans-6d" transform="scale(0.01562)"/></defs><use href="#DejaVuSans-6d" transform="translate(0 0)"/><use href="#DejaVuSans-6f" transform="translate(97.2 0)"/><use href="#DejaVuSans-64" transform="translate(158.4 0)"/><use href="#DejaVuSans-65" transform="translate(222.3 0)"/><use href="#DejaVuSans-6c" transform="translate(283.5 0)"/><use href="#DejaVuSans-43" transform="translate(311.4 0)"/><use href="#DejaVuSans-6f" transform="translate(381.6 0)"/><use href="#DejaVuSans-75" transform="translate(442.8 0)"/><use href="#DejaVuSans-6e" transform="translate(505.8 0)"/><use href="#DejaVuSans-74" transform="translate(568.8 0)"/><use href="#DejaVuSans-72" transform="translate(608.4 0)"/><use href="#DejaVuSans-79" transform="translate(649.8 0)"/></g></g><path d="M469.8 59.4L489.96 59.4L489.96 52.2L469.8 52.2z" class="c13"/><g transform="translate(0.225 0.1892)"><g transform="translate(497.7 58.88) scale(0.1 -0.1)"><defs><path d="M-13 4666L666 4666L1959 2747L3244 4666L3922 4666L2272 2222L2272 0L1638 0L1638 2222L-13 4666z" id="DejaVuSans-59" transform="scale(0.01562)"/></defs><use href="#DejaVuSans-4d" transform="translate(0 0)"/><use href="#DejaVuSans-59" transform="translate(86.4 0)"/></g></g><path d="M469.8 74.52L489.96 74.52L489.96 67.32L469.8 67.32z" class="c14"/><g transform="translate(0.1748 0.2659)"><g transform="translate(497.7 73.96) scale(0.1 -0.1)"><defs><path d="M403 4666L1081 4666L2241 2931L3406 4666L4084 4666L2584 2425L4184 0L3506 0L2194 1984L872 0L191 0L1856 2491L403 4666z" id="DejaVuSans-58" transform="scale(0.01562)"/><path d="M628 4666L1259 4666L1259 2753L3553 2753L3553 4666L4184 4666L4184 0L3553 0L3553 2222L1259 2222L1259 0L628 0L628 4666z" id="DejaVuSans-48" transform="scale(0.01562)"/></defs><use href="#DejaVuSans-58" transform="translate(0 0)"/><use href="#DejaVuSans-48" transform="translate(68.4 0)"/></g></g><path d="M469.8 89.64L489.96 89.64L489.96 82.44L469.8 82.44z" class="c15"/><g transform="translate(0.04873 0.2761)"><g transform="translate(497.7 89.04) scale(0.1 -0.1)"><defs><path d="M628 4666L1259 4666L1259 0L628 0L628 4666z" id="DejaVuSans-49" transform="scale(0.01562)"/><path d="M628 4666L1478 4666L3547 763L3547 4666L4159 4666L4159 0L3309 0L1241 3903L1241 0L628 0L628 4666z" id="DejaVuSans-4e" transform="scale(0.01562)"/></defs><use href="#DejaVuSans-49" transform="translate(0 0)"/><use href="#DejaVuSans-4e" transform="translate(28.8 0)"/></g></g><path d="M469.8 104.76L489.96 104.76L489.96 97.56L469.8 97.56z" class="c13"/><g transform="translate(-0.4862 0.3042)"><g transform="translate(497.7 104.12) scale(0.1 -0.1)"><defs><path d="M556 4666L1191 4666L1191 1831Q1191 1081 1462 751Q1734 422 2344 422Q2950 422 3222 751Q3494 1081 3494 1831L3494 4666L4128 4666L4128 1753Q4128 841 3676 375Q3225-91 2344-91Q1459-91 1007 375Q556 841 556 1753L556 4666z" id="DejaVuSans-55" transform="scale(0.01562)"/></defs><use href="#DejaVuSans-41" transform="translate(0 0)"/><use href="#DejaVuSans-55" transform="translate(68.4 0)"/></g></g><path d="M469.8 119.88L489.96 119.88L489.96 112.68L469.8 112.68z" class="c16"/><g transform="translate(0.1609 0.4131)"><g transform="translate(497.7 119.2) scale(0.1 -0.1)"><defs><path d="M628 4666L1259 4666L1259 325Q1259-519 939-900Q619-1281-91-1281L-331-1281L-331-750L-134-750Q284-750 456-515Q628-281 628 325L628 4666z" id="DejaVuSans-4a" transform="scale(0.01562)"/></defs><use href="#DejaVuSans-4a" transform="translate(0 0)"/><use href="#DejaVuSans-50" transform="translate(28.8 0)"/></g></g><path d="M469.8 135L489.96 135L489.96 127.8L469.8 127.8z" class="c17"/><g transform="translate(-0.09154 -0.2919)"><g transform="translate(497.7 134.28) scale(0.1 -0.1)"><defs><path d="M-19 4666L3928 4666L3928 4134L2272 4134L2272 0L1638 0L1638 4134L-19 4134L-19 4666z" id="DejaVuSans-54" transform="scale(0.01562)"/><path d="M213 4666L850 4666L1831 722L2809 4666L3519 4666L4500 722L5478 4666L6119 4666L4947 0L4153 0L3169 4050L2175 0L1381 0L213 4666z" id="DejaVuSans-57" transform="scale(0.01562)"/></defs><use href="#DejaVuSans-54" transform="translate(0 0)"/><use href="#DejaVuSans-57" transform="translate(61.2 0)"/></g></g><path d="M469.8 149.4L489.96 149.4L489.96 142.92L469.8 142.92z" class="c18"/><g transform="translate(0.1095 -0.268)"><g transform="translate(497.7 149.36) scale(0.1 -0.1)"><defs><path d="M628 4666L1259 4666L1259 2694L3353 4666L4166 4666L1850 2491L4331 0L3500 0L1259 2247L1259 0L628 0L628 4666z" id="DejaVuSans-4b" transform="scale(0.01562)"/><path d="M2841 2188Q3044 2119 3236 1894Q3428 1669 3622 1275L4263 0L3584 0L2988 1197Q2756 1666 2539 1819Q2322 1972 1947 1972L1259 1972L1259 0L628 0L628 4666L2053 4666Q2853 4666 3247 4331Q3641 3997 3641 3322Q3641 2881 3436 2590Q3231 2300 2841 2188zM1259 4147L1259 2491L2053 2491Q2509 2491 2742 2702Q2975 2913 2975 3322Q2975 3731 2742 3939Q2509 4147 2053 4147L1259 4147z" id="DejaVuSans-52" transform="scale(0.01562)"/></defs><use href="#DejaVuSans-4b" transform="translate(0 0)"/><use href="#DejaVuSans-52" transform="translate(64.8 0)"/></g></g><path d="M469.8 164.52L489.96 164.52L489.96 158.04L469.8 158.04z" class="c19"/><g transform="translate(-0.01662 -0.288)"><g transform="translate(497.7 164.44) scale(0.1 -0.1)"><use href="#DejaVuSans-43" transform="translate(0 0)"/><use href="#DejaVuSans-4e" transform="translate(70.2 0)"/></g></g><path d="M469.8 179.64L489.96 179.64L489.96 173.16L469.8 173.16z" class="c14"/><g transform="translate(0.1026 -0.2399)"><g transform="translate(497.7 179.52) scale(0.1 -0.1)"><use href="#DejaVuSans-50" transform="translate(0 0)"/><use href="#DejaVuSans-48" transform="translate(60.3 0)"/></g></g><path d="M469.8 194.76L489.96 194.76L489.96 188.28L469.8 188.28z" class="c15"/><g transform="translate(0.1593 -0.1473)"><g transform="translate(497.7 194.6) scale(0.1 -0.1)"><defs><path d="M1259 4147L1259 519L2022 519Q2988 519 3436 956Q3884 1394 3884 2338Q3884 3275 3436 3711Q2988 4147 2022 4147L1259 4147zM628 4666L1925 4666Q3281 4666 3915 4102Q4550 3538 4550 2338Q4550 1131 3912 565Q3275 0 1925 0L628 0L628 4666z" id="DejaVuSans-44" transform="scale(0.01562)"/></defs><use href="#DejaVuSans-49" transform="translate(0 0)"/><use href="#DejaVuSans-44" transform="translate(28.8 0)"/></g></g><path d="M469.8 209.88L489.96 209.88L489.96 203.4L469.8 203.4z" class="c20"/><g transform="translate(-0.09053 -0.1189)"><g transform="translate(497.7 209.68) scale(0.1 -0.1)"><use href="#DejaVuSans-54" transform="translate(0 0)"/><use href="#DejaVuSans-48" transform="translate(61.2 0)"/></g></g><path d="M469.8 225L489.96 225L489.96 217.8L469.8 217.8z" class="c18"/><g transform="translate(0.2257 -0.1028)"><g transform="translate(497.7 224.76) scale(0.1 -0.1)"><use href="#DejaVuSans-48" transform="translate(0 0)"/><use href="#DejaVuSans-4b" transform="translate(74.7 0)"/></g></g><path d="M469.8 240.12L489.96 240.12L489.96 232.92L469.8 232.92z" class="c19"/><g transform="translate(0.167 0.01432)"><g transform="translate(497.7 239.84) scale(0.1 -0.1)"><defs><path d="M3425 4513L3425 3897Q3066 4069 2747 4153Q2428 4238 2131 4238Q1616 4238 1336 4038Q1056 3838 1056 3469Q1056 3159 1242 3001Q1428 2844 1947 2747L2328 2669Q3034 2534 3370 2195Q3706 1856 3706 1288Q3706 609 3251 259Q2797-91 1919-91Q1588-91 1214-16Q841 59 441 206L441 856Q825 641 1194 531Q1563 422 1919 422Q2459 422 2753 634Q3047 847 3047 1241Q3047 1584 2836 1778Q2625 1972 2144 2069L1759 2144Q1053 2284 737 2584Q422 2884 422 3419Q422 4038 858 4394Q1294 4750 2059 4750Q2388 4750 2728 4690Q3069 4631 3425 4513z" id="DejaVuSans-53" transform="scale(0.01562)"/><path d="M3809 666L3809 1919L2778 1919L2778 2438L4434 2438L4434 434Q4069 175 3628 42Q3188-91 2688-91Q1594-91 976 548Q359 1188 359 2328Q359 3472 976 4111Q1594 4750 2688 4750Q3144 4750 3555 4637Q3966 4525 4313 4306L4313 3634Q3963 3931 3569 4081Q3175 4231 2741 4231Q1884 4231 1454 3753Q1025 3275 1025 2328Q1025 1384 1454 906Q1884 428 2741 428Q3075 428 3337 486Q3600 544 3809 666z" id="DejaVuSans-47" transform="scale(0.01562)"/></defs><use href="#DejaVuSans-53" transform="translate(0 0)"/><use href="#DejaVuSans-47" transform="translate(63 0)"/></g></g><path d="M469.8 255.24L489.96 255.24L489.96 248.04L469.8 248.04z" class="c17"/><g transform="translate(0.2107 -0.01324)"><g transform="translate(497.7 254.92) scale(0.1 -0.1)"><defs><path d="M359 4666L4025 4666L4025 4184L1075 531L4097 531L4097 0L288 0L288 481L3238 4134L359 4134L359 4666z" id="DejaVuSans-5a" transform="scale(0.01562)"/></defs><use href="#DejaVuSans-4e" transform="translate(0 0)"/><use href="#DejaVuSans-5a" transform="translate(74.7 0)"/></g></g></g></g><g><path d="M583.92 611.28L1069.2 611.28L1069.2 26.64L583.92 26.64z" class="c0"/><path d="M606.6 611.64L618.12 611.64L618.12 611.64L606.6 611.64L606.6 611.64z" clip-path="url(#p4803c43e1a)" class="c21"/><path d="M618.12 611.64L630.36 611.64L630.36 605.16L618.12 605.16L618.12 611.64z" clip-path="url(#p4803c43e1a)" class="c21"/><path d="M630.36 611.64L641.88 611.64L641.88 611.64L630.36 611.64L630.36 611.64z" clip-path="url(#p4803c43e1a)" class="c21"/><path d="M641.88 611.64L654.12 611.64L654.12 611.64L641.88 611.64L641.88 611.64z" clip-path="url(#p4803c43e1a)" class="c21"/><path d="M654.12 611.64L665.64 611.64L665.64 611.64L654.12 611.64L654.12 611.64z" clip-path="url(#p4803c43e1a)" class="c21"/><path d="M665.64 611.64L677.88 611.64L677.88 611.64L665.64 611.64L665.64 611.64z" clip-path="url(#p4803c43e1a)" class="c21"/><path d="M677.88 611.64L690.12 611.64L690.12 611.64L677.88 611.64L677.88 611.64z" clip-path="url(#p4803c43e1a)" class="c21"/><path d="M690.12 611.64L701.64 611.64L701.64 611.64L690.12 611.64L690.12 611.64z" clip-path="url(#p4803c43e1a)" class="c21"/><path d="M701.64 611.64L713.88 611.64L713.88 611.64L701.64 611.64L701.64 611.64z" clip-path="url(#p4803c43e1a)" class="c21"/><path d="M713.88 611.64L725.4 611.64L725.4 611.64L713.88 611.64L713.88 611.64z" clip-path="url(#p4803c43e1a)" class="c21"/><path d="M725.4 611.64L737.64 611.64L737.64 611.64L725.4 611.64L725.4 611.64z" clip-path="url(#p4803c43e1a)" class="c21"/><path d="M737.64 611.64L749.16 611.64L749.16 611.64L737.64 611.64L737.64 611.64z" clip-path="url(#p4803c43e1a)" class="c21"/><path d="M749.16 611.64L761.4 611.64L761.4 611.64L749.16 611.64L749.16 611.64z" clip-path="url(#p4803c43e1a)" class="c21"/><path d="M761.4 611.64L772.92 611.64L772.92 611.64L761.4 611.64L761.4 611.64z" clip-path="url(#p4803c43e1a)" class="c21"/><path d="M772.92 611.64L785.16 611.64L785.16 611.64L772.92 611.64L772.92 611.64z" clip-path="url(#p4803c43e1a)" class="c21"/><path d="M785.16 611.64L797.4 611.64L797.4 611.64L785.16 611.64L785.16 611.64z" clip-path="url(#p4803c43e1a)" class="c21"/><path d="M797.4 611.64L808.92 611.64L808.92 611.64L797.4 611.64L797.4 611.64z" clip-path="url(#p4803c43e1a)" class="c21"/><path d="M808.92 611.64L821.16 611.64L821.16 611.64L808.92 611.64L808.92 611.64z" clip-path="url(#p4803c43e1a)" class="c21"/><path d="M821.16 611.64L832.68 611.64L832.68 611.64L821.16 611.64L821.16 611.64z" clip-path="url(#p4803c43e1a)" class="c21"/><path d="M832.68 611.64L844.92 611.64L844.92 611.64L832.68 611.64L832.68 611.64z" clip-path="url(#p4803c43e1a)" class="c21"/><path d="M844.92 611.64L856.44 611.64L856.44 611.64L844.92 611.64L844.92 611.64z" clip-path="url(#p4803c43e1a)" class="c21"/><path d="M856.44 611.64L868.68 611.64L868.68 611.64L856.44 611.64L856.44 611.64z" clip-path="url(#p4803c43e1a)" class="c21"/><path d="M868.68 611.64L880.92 611.64L880.92 611.64L868.68 611.64L868.68 611.64z" clip-path="url(#p4803c43e1a)" class="c21"/><path d="M880.92 611.64L892.44 611.64L892.44 611.64L880.92 611.64L880.92 611.64z" clip-path="url(#p4803c43e1a)" class="c21"/><path d="M892.44 611.64L904.68 611.64L904.68 611.64L892.44 611.64L892.44 611.64z" clip-path="url(#p4803c43e1a)" class="c21"/><path d="M904.68 611.64L916.2 611.64L916.2 611.64L904.68 611.64L904.68 611.64z" clip-path="url(#p4803c43e1a)" class="c21"/><path d="M916.2 611.64L928.44 611.64L928.44 611.64L916.2 611.64L916.2 611.64z" clip-path="url(#p4803c43e1a)" class="c21"/><path d="M928.44 611.64L939.96 611.64L939.96 611.64L928.44 611.64L928.44 611.64z" clip-path="url(#p4803c43e1a)" class="c21"/><path d="M939.96 611.64L952.2 611.64L952.2 611.64L939.96 611.64L939.96 611.64z" clip-path="url(#p4803c43e1a)" class="c21"/><path d="M952.2 611.64L963.72 611.64L963.72 611.64L952.2 611.64L952.2 611.64z" clip-path="url(#p4803c43e1a)" class="c21"/><path d="M963.72 611.64L975.96 611.64L975.96 611.64L963.72 611.64L963.72 611.64z" clip-path="url(#p4803c43e1a)" class="c21"/><path d="M975.96 611.64L988.2 611.64L988.2 611.64L975.96 611.64L975.96 611.64z" clip-path="url(#p4803c43e1a)" class="c21"/><path d="M988.2 611.64L999.72 611.64L999.72 611.64L988.2 611.64L988.2 611.64z" clip-path="url(#p4803c43e1a)" class="c21"/><path d="M999.72 611.64L1011.96 611.64L1011.96 605.16L999.72 605.16L999.72 611.64z" clip-path="url(#p4803c43e1a)" class="c21"/><path d="M1011.96 611.64L1023.48 611.64L1023.48 611.64L1011.96 611.64L1011.96 611.64z" clip-path="url(#p4803c43e1a)" class="c21"/><path d="M1023.48 611.64L1035.72 611.64L1035.72 611.64L1023.48 611.64L1023.48 611.64z" clip-path="url(#p4803c43e1a)" class="c21"/><path d="M1035.72 611.64L1047.24 611.64L1047.24 611.64L1035.72 611.64L1035.72 611.64z" clip-path="url(#p4803c43e1a)" class="c21"/><path d="M606.6 611.64L618.12 611.64L618.12 605.16L606.6 605.16L606.6 611.64z" clip-path="url(#p4803c43e1a)" class="c22"/><path d="M618.12 611.64L630.36 611.64L630.36 611.64L618.12 611.64L618.12 611.64z" clip-path="url(#p4803c43e1a)" class="c22"/><path d="M630.36 611.64L641.88 611.64L641.88 586.44L630.36 586.44L630.36 611.64z" clip-path="url(#p4803c43e1a)" class="c22"/><path d="M641.88 611.64L654.12 611.64L654.12 586.44L641.88 586.44L641.88 611.64z" clip-path="url(#p4803c43e1a)" class="c22"/><path d="M654.12 611.64L665.64 611.64L665.64 574.2L654.12 574.2L654.12 611.64z" clip-path="url(#p4803c43e1a)" class="c22"/><path d="M665.64 611.64L677.88 611.64L677.88 599.4L665.64 599.4L665.64 611.64z" clip-path="url(#p4803c43e1a)" class="c22"/><path d="M677.88 611.64L690.12 611.64L690.12 579.96L677.88 579.96L677.88 611.64z" clip-path="url(#p4803c43e1a)" class="c22"/><path d="M690.12 611.64L701.64 611.64L701.64 599.4L690.12 599.4L690.12 611.64z" clip-path="url(#p4803c43e1a)" class="c22"/><path d="M701.64 611.64L713.88 611.64L713.88 592.92L701.64 592.92L701.64 611.64z" clip-path="url(#p4803c43e1a)" class="c22"/><path d="M713.88 611.64L725.4 611.64L725.4 605.16L713.88 605.16L713.88 611.64z" clip-path="url(#p4803c43e1a)" class="c22"/><path d="M725.4 611.64L737.64 611.64L737.64 605.16L725.4 605.16L725.4 611.64z" clip-path="url(#p4803c43e1a)" class="c22"/><path d="M737.64 611.64L749.16 611.64L749.16 605.16L737.64 605.16L737.64 611.64z" clip-path="url(#p4803c43e1a)" class="c22"/><path d="M749.16 611.64L761.4 611.64L761.4 611.64L749.16 611.64L749.16 611.64z" clip-path="url(#p4803c43e1a)" class="c22"/><path d="M761.4 611.64L772.92 611.64L772.92 605.16L761.4 605.16L761.4 611.64z" clip-path="url(#p4803c43e1a)" class="c22"/><path d="M772.92 611.64L785.16 611.64L785.16 592.92L772.92 592.92L772.92 611.64z" clip-path="url(#p4803c43e1a)" class="c22"/><path d="M785.16 611.64L797.4 611.64L797.4 611.64L785.16 611.64L785.16 611.64z" clip-path="url(#p4803c43e1a)" class="c22"/><path d="M797.4 611.64L808.92 611.64L808.92 611.64L797.4 611.64L797.4 611.64z" clip-path="url(#p4803c43e1a)" class="c22"/><path d="M808.92 611.64L821.16 611.64L821.16 611.64L808.92 611.64L808.92 611.64z" clip-path="url(#p4803c43e1a)" class="c22"/><path d="M821.16 611.64L832.68 611.64L832.68 611.64L821.16 611.64L821.16 611.64z" clip-path="url(#p4803c43e1a)" class="c22"/><path d="M832.68 611.64L844.92 611.64L844.92 611.64L832.68 611.64L832.68 611.64z" clip-path="url(#p4803c43e1a)" class="c22"/><path d="M844.92 611.64L856.44 611.64L856.44 611.64L844.92 611.64L844.92 611.64z" clip-path="url(#p4803c43e1a)" class="c22"/><path d="M856.44 611.64L868.68 611.64L868.68 611.64L856.44 611.64L856.44 611.64z" clip-path="url(#p4803c43e1a)" class="c22"/><path d="M868.68 611.64L880.92 611.64L880.92 611.64L868.68 611.64L868.68 611.64z" clip-path="url(#p4803c43e1a)" class="c22"/><path d="M880.92 611.64L892.44 611.64L892.44 611.64L880.92 611.64L880.92 611.64z" clip-path="url(#p4803c43e1a)" class="c22"/><path d="M892.44 611.64L904.68 611.64L904.68 611.64L892.44 611.64L892.44 611.64z" clip-path="url(#p4803c43e1a)" class="c22"/><path d="M904.68 611.64L916.2 611.64L916.2 605.16L904.68 605.16L904.68 611.64z" clip-path="url(#p4803c43e1a)" class="c22"/><path d="M916.2 611.64L928.44 611.64L928.44 611.64L916.2 611.64L916.2 611.64z" clip-path="url(#p4803c43e1a)" class="c22"/><path d="M928.44 611.64L939.96 611.64L939.96 611.64L928.44 611.64L928.44 611.64z" clip-path="url(#p4803c43e1a)" class="c22"/><path d="M939.96 611.64L952.2 611.64L952.2 611.64L939.96 611.64L939.96 611.64z" clip-path="url(#p4803c43e1a)" class="c22"/><path d="M952.2 611.64L963.72 611.64L963.72 611.64L952.2 611.64L952.2 611.64z" clip-path="url(#p4803c43e1a)" class="c22"/><path d="M963.72 611.64L975.96 611.64L975.96 611.64L963.72 611.64L963.72 611.64z" clip-path="url(#p4803c43e1a)" class="c22"/><path d="M975.96 611.64L988.2 611.64L988.2 611.64L975.96 611.64L975.96 611.64z" clip-path="url(#p4803c43e1a)" class="c22"/><path d="M988.2 611.64L999.72 611.64L999.72 611.64L988.2 611.64L988.2 611.64z" clip-path="url(#p4803c43e1a)" class="c22"/><path d="M999.72 611.64L1011.96 611.64L1011.96 611.64L999.72 611.64L999.72 611.64z" clip-path="url(#p4803c43e1a)" class="c22"/><path d="M1011.96 611.64L1023.48 611.64L1023.48 611.64L1011.96 611.64L1011.96 611.64z" clip-path="url(#p4803c43e1a)" class="c22"/><path d="M1023.48 611.64L1035.72 611.64L1035.72 611.64L1023.48 611.64L1023.48 611.64z" clip-path="url(#p4803c43e1a)" class="c22"/><path d="M1035.72 611.64L1047.24 611.64L1047.24 611.64L1035.72 611.64L1035.72 611.64z" clip-path="url(#p4803c43e1a)" class="c22"/><path d="M606.6 611.64L618.12 611.64L618.12 548.28L606.6 548.28L606.6 611.64z" clip-path="url(#p4803c43e1a)" class="c23"/><path d="M618.12 611.64L630.36 611.64L630.36 554.76L618.12 554.76L618.12 611.64z" clip-path="url(#p4803c43e1a)" class="c23"/><path d="M630.36 611.64L641.88 611.64L641.88 599.4L630.36 599.4L630.36 611.64z" clip-path="url(#p4803c43e1a)" class="c23"/><path d="M641.88 611.64L654.12 611.64L654.12 554.76L641.88 554.76L641.88 611.64z" clip-path="url(#p4803c43e1a)" class="c23"/><path d="M654.12 611.64L665.64 611.64L665.64 592.92L654.12 592.92L654.12 611.64z" clip-path="url(#p4803c43e1a)" class="c23"/><path d="M665.64 611.64L677.88 611.64L677.88 561.24L665.64 561.24L665.64 611.64z" clip-path="url(#p4803c43e1a)" class="c23"/><path d="M677.88 611.64L690.12 611.64L690.12 567.72L677.88 567.72L677.88 611.64z" clip-path="url(#p4803c43e1a)" class="c23"/><path d="M690.12 611.64L701.64 611.64L701.64 529.56L690.12 529.56L690.12 611.64z" clip-path="url(#p4803c43e1a)" class="c23"/><path d="M701.64 611.64L713.88 611.64L713.88 554.76L701.64 554.76L701.64 611.64z" clip-path="url(#p4803c43e1a)" class="c23"/><path d="M713.88 611.64L725.4 611.64L725.4 567.72L713.88 567.72L713.88 611.64z" clip-path="url(#p4803c43e1a)" class="c23"/><path d="M725.4 611.64L737.64 611.64L737.64 579.96L725.4 579.96L725.4 611.64z" clip-path="url(#p4803c43e1a)" class="c23"/><path d="M737.64 611.64L749.16 611.64L749.16 574.2L737.64 574.2L737.64 611.64z" clip-path="url(#p4803c43e1a)" class="c23"/><path d="M749.16 611.64L761.4 611.64L761.4 561.24L749.16 561.24L749.16 611.64z" clip-path="url(#p4803c43e1a)" class="c23"/><path d="M761.4 611.64L772.92 611.64L772.92 574.2L761.4 574.2L761.4 611.64z" clip-path="url(#p4803c43e1a)" class="c23"/><path d="M772.92 611.64L785.16 611.64L785.16 567.72L772.92 567.72L772.92 611.64z" clip-path="url(#p4803c43e1a)" class="c23"/><path d="M785.16 611.64L797.4 611.64L797.4 579.96L785.16 579.96L785.16 611.64z" clip-path="url(#p4803c43e1a)" class="c23"/><path d="M797.4 611.64L808.92 611.64L808.92 579.96L797.4 579.96L797.4 611.64z" clip-path="url(#p4803c43e1a)" class="c23"/><path d="M808.92 611.64L821.16 611.64L821.16 592.92L808.92 592.92L808.92 611.64z" clip-path="url(#p4803c43e1a)" class="c23"/><path d="M821.16 611.64L832.68 611.64L832.68 599.4L821.16 599.4L821.16 611.64z" clip-path="url(#p4803c43e1a)" class="c23"/><path d="M832.68 611.64L844.92 611.64L844.92 599.4L832.68 599.4L832.68 611.64z" clip-path="url(#p4803c43e1a)" class="c23"/><path d="M844.92 611.64L856.44 611.64L856.44 599.4L844.92 599.4L844.92 611.64z" clip-path="url(#p4803c43e1a)" class="c23"/><path d="M856.44 611.64L868.68 611.64L868.68 605.16L856.44 605.16L856.44 611.64z" clip-path="url(#p4803c43e1a)" class="c23"/><path d="M868.68 611.64L880.92 611.64L880.92 592.92L868.68 592.92L868.68 611.64z" clip-path="url(#p4803c43e1a)" class="c23"/><path d="M880.92 611.64L892.44 611.64L892.44 611.64L880.92 611.64L880.92 611.64z" clip-path="url(#p4803c43e1a)" class="c23"/><path d="M892.44 611.64L904.68 611.64L904.68 605.16L892.44 605.16L892.44 611.64z" clip-path="url(#p4803c43e1a)" class="c23"/><path d="M904.68 611.64L916.2 611.64L916.2 611.64L904.68 611.64L904.68 611.64z" clip-path="url(#p4803c43e1a)" class="c23"/><path d="M916.2 611.64L928.44 611.64L928.44 611.64L916.2 611.64L916.2 611.64z" clip-path="url(#p4803c43e1a)" class="c23"/><path d="M928.44 611.64L939.96 611.64L939.96 611.64L928.44 611.64L928.44 611.64z" clip-path="url(#p4803c43e1a)" class="c23"/><path d="M939.96 611.64L952.2 611.64L952.2 611.64L939.96 611.64L939.96 611.64z" clip-path="url(#p4803c43e1a)" class="c23"/><path d="M952.2 611.64L963.72 611.64L963.72 611.64L952.2 611.64L952.2 611.64z" clip-path="url(#p4803c43e1a)" class="c23"/><path d="M963.72 611.64L975.96 611.64L975.96 611.64L963.72 611.64L963.72 611.64z" clip-path="url(#p4803c43e1a)" class="c23"/><path d="M975.96 611.64L988.2 611.64L988.2 611.64L975.96 611.64L975.96 611.64z" clip-path="url(#p4803c43e1a)" class="c23"/><path d="M988.2 611.64L999.72 611.64L999.72 611.64L988.2 611.64L988.2 611.64z" clip-path="url(#p4803c43e1a)" class="c23"/><path d="M999.72 611.64L1011.96 611.64L1011.96 611.64L999.72 611.64L999.72 611.64z" clip-path="url(#p4803c43e1a)" class="c23"/><path d="M1011.96 611.64L1023.48 611.64L1023.48 611.64L1011.96 611.64L1011.96 611.64z" clip-path="url(#p4803c43e1a)" class="c23"/><path d="M1023.48 611.64L1035.72 611.64L1035.72 605.16L1023.48 605.16L1023.48 611.64z" clip-path="url(#p4803c43e1a)" class="c23"/><path d="M1035.72 611.64L1047.24 611.64L1047.24 611.64L1035.72 611.64L1035.72 611.64z" clip-path="url(#p4803c43e1a)" class="c23"/><path d="M606.6 611.64L618.12 611.64L618.12 611.64L606.6 611.64L606.6 611.64z" clip-path="url(#p4803c43e1a)" class="c24"/><path d="M618.12 611.64L630.36 611.64L630.36 599.4L618.12 599.4L618.12 611.64z" clip-path="url(#p4803c43e1a)" class="c24"/><path d="M630.36 611.64L641.88 611.64L641.88 605.16L630.36 605.16L630.36 611.64z" clip-path="url(#p4803c43e1a)" class="c24"/><path d="M641.88 611.64L654.12 611.64L654.12 592.92L641.88 592.92L641.88 611.64z" clip-path="url(#p4803c43e1a)" class="c24"/><path d="M654.12 611.64L665.64 611.64L665.64 605.16L654.12 605.16L654.12 611.64z" clip-path="url(#p4803c43e1a)" class="c24"/><path d="M665.64 611.64L677.88 611.64L677.88 574.2L665.64 574.2L665.64 611.64z" clip-path="url(#p4803c43e1a)" class="c24"/><path d="M677.88 611.64L690.12 611.64L690.12 592.92L677.88 592.92L677.88 611.64z" clip-path="url(#p4803c43e1a)" class="c24"/><path d="M690.12 611.64L701.64 611.64L701.64 554.76L690.12 554.76L690.12 611.64z" clip-path="url(#p4803c43e1a)" class="c24"/><path d="M701.64 611.64L713.88 611.64L713.88 579.96L701.64 579.96L701.64 611.64z" clip-path="url(#p4803c43e1a)" class="c24"/><path d="M713.88 611.64L725.4 611.64L725.4 586.44L713.88 586.44L713.88 611.64z" clip-path="url(#p4803c43e1a)" class="c24"/><path d="M725.4 611.64L737.64 611.64L737.64 554.76L725.4 554.76L725.4 611.64z" clip-path="url(#p4803c43e1a)" class="c24"/><path d="M737.64 611.64L749.16 611.64L749.16 586.44L737.64 586.44L737.64 611.64z" clip-path="url(#p4803c43e1a)" class="c24"/><path d="M749.16 611.64L761.4 611.64L761.4 586.44L749.16 586.44L749.16 611.64z" clip-path="url(#p4803c43e1a)" class="c24"/><path d="M761.4 611.64L772.92 611.64L772.92 567.72L761.4 567.72L761.4 611.64z" clip-path="url(#p4803c43e1a)" class="c24"/><path d="M772.92 611.64L785.16 611.64L785.16 579.96L772.92 579.96L772.92 611.64z" clip-path="url(#p4803c43e1a)" class="c24"/><path d="M785.16 611.64L797.4 611.64L797.4 599.4L785.16 599.4L785.16 611.64z" clip-path="url(#p4803c43e1a)" class="c24"/><path d="M797.4 611.64L808.92 611.64L808.92 592.92L797.4 592.92L797.4 611.64z" clip-path="url(#p4803c43e1a)" class="c24"/><path d="M808.92 611.64L821.16 611.64L821.16 599.4L808.92 599.4L808.92 611.64z" clip-path="url(#p4803c43e1a)" class="c24"/><path d="M821.16 611.64L832.68 611.64L832.68 599.4L821.16 599.4L821.16 611.64z" clip-path="url(#p4803c43e1a)" class="c24"/><path d="M832.68 611.64L844.92 611.64L844.92 579.96L832.68 579.96L832.68 611.64z" clip-path="url(#p4803c43e1a)" class="c24"/><path d="M844.92 611.64L856.44 611.64L856.44 599.4L844.92 599.4L844.92 611.64z" clip-path="url(#p4803c43e1a)" class="c24"/><path d="M856.44 611.64L868.68 611.64L868.68 605.16L856.44 605.16L856.44 611.64z" clip-path="url(#p4803c43e1a)" class="c24"/><path d="M868.68 611.64L880.92 611.64L880.92 579.96L868.68 579.96L868.68 611.64z" clip-path="url(#p4803c43e1a)" class="c24"/><path d="M880.92 611.64L892.44 611.64L892.44 611.64L880.92 611.64L880.92 611.64z" clip-path="url(#p4803c43e1a)" class="c24"/><path d="M892.44 611.64L904.68 611.64L904.68 611.64L892.44 611.64L892.44 611.64z" clip-path="url(#p4803c43e1a)" class="c24"/><path d="M904.68 611.64L916.2 611.64L916.2 592.92L904.68 592.92L904.68 611.64z" clip-path="url(#p4803c43e1a)" class="c24"/><path d="M916.2 611.64L928.44 611.64L928.44 599.4L916.2 599.4L916.2 611.64z" clip-path="url(#p4803c43e1a)" class="c24"/><path d="M928.44 611.64L939.96 611.64L939.96 605.16L928.44 605.16L928.44 611.64z" clip-path="url(#p4803c43e1a)" class="c24"/><path d="M939.96 611.64L952.2 611.64L952.2 605.16L939.96 605.16L939.96 611.64z" clip-path="url(#p4803c43e1a)" class="c24"/><path d="M952.2 611.64L963.72 611.64L963.72 611.64L952.2 611.64L952.2 611.64z" clip-path="url(#p4803c43e1a)" class="c24"/><path d="M963.72 611.64L975.96 611.64L975.96 611.64L963.72 611.64L963.72 611.64z" clip-path="url(#p4803c43e1a)" class="c24"/><path d="M975.96 611.64L988.2 611.64L988.2 611.64L975.96 611.64L975.96 611.64z" clip-path="url(#p4803c43e1a)" class="c24"/><path d="M988.2 611.64L999.72 611.64L999.72 611.64L988.2 611.64L988.2 611.64z" clip-path="url(#p4803c43e1a)" class="c24"/><path d="M999.72 611.64L1011.96 611.64L1011.96 611.64L999.72 611.64L999.72 611.64z" clip-path="url(#p4803c43e1a)" class="c24"/><path d="M1011.96 611.64L1023.48 611.64L1023.48 611.64L1011.96 611.64L1011.96 611.64z" clip-path="url(#p4803c43e1a)" class="c24"/><path d="M1023.48 611.64L1035.72 611.64L1035.72 611.64L1023.48 611.64L1023.48 611.64z" clip-path="url(#p4803c43e1a)" class="c24"/><path d="M1035.72 611.64L1047.24 611.64L1047.24 605.16L1035.72 605.16L1035.72 611.64z" clip-path="url(#p4803c43e1a)" class="c24"/><path d="M606.6 611.64L618.12 611.64L618.12 586.44L606.6 586.44L606.6 611.64z" clip-path="url(#p4803c43e1a)" class="c25"/><path d="M618.12 611.64L630.36 611.64L630.36 599.4L618.12 599.4L618.12 611.64z" clip-path="url(#p4803c43e1a)" class="c25"/><path d="M630.36 611.64L641.88 611.64L641.88 605.16L630.36 605.16L630.36 611.64z" clip-path="url(#p4803c43e1a)" class="c25"/><path d="M641.88 611.64L654.12 611.64L654.12 592.92L641.88 592.92L641.88 611.64z" clip-path="url(#p4803c43e1a)" class="c25"/><path d="M654.12 611.64L665.64 611.64L665.64 586.44L654.12 586.44L654.12 611.64z" clip-path="url(#p4803c43e1a)" class="c25"/><path d="M665.64 611.64L677.88 611.64L677.88 611.64L665.64 611.64L665.64 611.64z" clip-path="url(#p4803c43e1a)" class="c25"/><path d="M677.88 611.64L690.12 611.64L690.12 574.2L677.88 574.2L677.88 611.64z" clip-path="url(#p4803c43e1a)" class="c25"/><path d="M690.12 611.64L701.64 611.64L701.64 586.44L690.12 586.44L690.12 611.64z" clip-path="url(#p4803c43e1a)" class="c25"/><path d="M701.64 611.64L713.88 611.64L713.88 605.16L701.64 605.16L701.64 611.64z" clip-path="url(#p4803c43e1a)" class="c25"/><path d="M713.88 611.64L725.4 611.64L725.4 561.24L713.88 561.24L713.88 611.64z" clip-path="url(#p4803c43e1a)" class="c25"/><path d="M725.4 611.64L737.64 611.64L737.64 574.2L725.4 574.2L725.4 611.64z" clip-path="url(#p4803c43e1a)" class="c25"/><path d="M737.64 611.64L749.16 611.64L749.16 586.44L737.64 586.44L737.64 611.64z" clip-path="url(#p4803c43e1a)" class="c25"/><path d="M749.16 611.64L761.4 611.64L761.4 554.76L749.16 554.76L749.16 611.64z" clip-path="url(#p4803c43e1a)" class="c25"/><path d="M761.4 611.64L772.92 611.64L772.92 586.44L761.4 586.44L761.4 611.64z" clip-path="url(#p4803c43e1a)" class="c25"/><path d="M772.92 611.64L785.16 611.64L785.16 561.24L772.92 561.24L772.92 611.64z" clip-path="url(#p4803c43e1a)" class="c25"/><path d="M785.16 611.64L797.4 611.64L797.4 561.24L785.16 561.24L785.16 611.64z" clip-path="url(#p4803c43e1a)" class="c25"/><path d="M797.4 611.64L808.92 611.64L808.92 567.72L797.4 567.72L797.4 611.64z" clip-path="url(#p4803c43e1a)" class="c25"/><path d="M808.92 611.64L821.16 611.64L821.16 579.96L808.92 579.96L808.92 611.64z" clip-path="url(#p4803c43e1a)" class="c25"/><path d="M821.16 611.64L832.68 611.64L832.68 561.24L821.16 561.24L821.16 611.64z" clip-path="url(#p4803c43e1a)" class="c25"/><path d="M832.68 611.64L844.92 611.64L844.92 599.4L832.68 599.4L832.68 611.64z" clip-path="url(#p4803c43e1a)" class="c25"/><path d="M844.92 611.64L856.44 611.64L856.44 592.92L844.92 592.92L844.92 611.64z" clip-path="url(#p4803c43e1a)" class="c25"/><path d="M856.44 611.64L868.68 611.64L868.68 605.16L856.44 605.16L856.44 611.64z" clip-path="url(#p4803c43e1a)" class="c25"/><path d="M868.68 611.64L880.92 611.64L880.92 605.16L868.68 605.16L868.68 611.64z" clip-path="url(#p4803c43e1a)" class="c25"/><path d="M880.92 611.64L892.44 611.64L892.44 599.4L880.92 599.4L880.92 611.64z" clip-path="url(#p4803c43e1a)" class="c25"/><path d="M892.44 611.64L904.68 611.64L904.68 605.16L892.44 605.16L892.44 611.64z" clip-path="url(#p4803c43e1a)" class="c25"/><path d="M904.68 611.64L916.2 611.64L916.2 605.16L904.68 605.16L904.68 611.64z" clip-path="url(#p4803c43e1a)" class="c25"/><path d="M916.2 611.64L928.44 611.64L928.44 605.16L916.2 605.16L916.2 611.64z" clip-path="url(#p4803c43e1a)" class="c25"/><path d="M928.44 611.64L939.96 611.64L939.96 611.64L928.44 611.64L928.44 611.64z" clip-path="url(#p4803c43e1a)" class="c25"/><path d="M939.96 611.64L952.2 611.64L952.2 611.64L939.96 611.64L939.96 611.64z" clip-path="url(#p4803c43e1a)" class="c25"/><path d="M952.2 611.64L963.72 611.64L963.72 611.64L952.2 611.64L952.2 611.64z" clip-path="url(#p4803c43e1a)" class="c25"/><path d="M963.72 611.64L975.96 611.64L975.96 611.64L963.72 611.64L963.72 611.64z" clip-path="url(#p4803c43e1a)" class="c25"/><path d="M975.96 611.64L988.2 611.64L988.2 611.64L975.96 611.64L975.96 611.64z" clip-path="url(#p4803c43e1a)" class="c25"/><path d="M988.2 611.64L999.72 611.64L999.72 611.64L988.2 611.64L988.2 611.64z" clip-path="url(#p4803c43e1a)" class="c25"/><path d="M999.72 611.64L1011.96 611.64L1011.96 611.64L999.72 611.64L999.72 611.64z" clip-path="url(#p4803c43e1a)" class="c25"/><path d="M1011.96 611.64L1023.48 611.64L1023.48 611.64L1011.96 611.64L1011.96 611.64z" clip-path="url(#p4803c43e1a)" class="c25"/><path d="M1023.48 611.64L1035.72 611.64L1035.72 611.64L1023.48 611.64L1023.48 611.64z" clip-path="url(#p4803c43e1a)" class="c25"/><path d="M1035.72 611.64L1047.24 611.64L1047.24 611.64L1035.72 611.64L1035.72 611.64z" clip-path="url(#p4803c43e1a)" class="c25"/><path d="M606.6 611.64L618.12 611.64L618.12 605.16L606.6 605.16L606.6 611.64z" clip-path="url(#p4803c43e1a)" class="c26"/><path d="M618.12 611.64L630.36 611.64L630.36 599.4L618.12 599.4L618.12 611.64z" clip-path="url(#p4803c43e1a)" class="c26"/><path d="M630.36 611.64L641.88 611.64L641.88 611.64L630.36 611.64L630.36 611.64z" clip-path="url(#p4803c43e1a)" class="c26"/><path d="M641.88 611.64L654.12 611.64L654.12 611.64L641.88 611.64L641.88 611.64z" clip-path="url(#p4803c43e1a)" class="c26"/><path d="M654.12 611.64L665.64 611.64L665.64 599.4L654.12 599.4L654.12 611.64z" clip-path="url(#p4803c43e1a)" class="c26"/><path d="M665.64 611.64L677.88 611.64L677.88 605.16L665.64 605.16L665.64 611.64z" clip-path="url(#p4803c43e1a)" class="c26"/><path d="M677.88 611.64L690.12 611.64L690.12 611.64L677.88 611.64L677.88 611.64z" clip-path="url(#p4803c43e1a)" class="c26"/><path d="M690.12 611.64L701.64 611.64L701.64 605.16L690.12 605.16L690.12 611.64z" clip-path="url(#p4803c43e1a)" class="c26"/><path d="M701.64 611.64L713.88 611.64L713.88 605.16L701.64 605.16L701.64 611.64z" clip-path="url(#p4803c43e1a)" class="c26"/><path d="M713.88 611.64L725.4 611.64L725.4 605.16L713.88 605.16L713.88 611.64z" clip-path="url(#p4803c43e1a)" class="c26"/><path d="M725.4 611.64L737.64 611.64L737.64 605.16L725.4 605.16L725.4 611.64z" clip-path="url(#p4803c43e1a)" class="c26"/><path d="M737.64 611.64L749.16 611.64L749.16 605.16L737.64 605.16L737.64 611.64z" clip-path="url(#p4803c43e1a)" class="c26"/><path d="M749.16 611.64L761.4 611.64L761.4 599.4L749.16 599.4L749.16 611.64z" clip-path="url(#p4803c43e1a)" class="c26"/><path d="M761.4 611.64L772.92 611.64L772.92 599.4L761.4 599.4L761.4 611.64z" clip-path="url(#p4803c43e1a)" class="c26"/><path d="M772.92 611.64L785.16 611.64L785.16 605.16L772.92 605.16L772.92 611.64z" clip-path="url(#p4803c43e1a)" class="c26"/><path d="M785.16 611.64L797.4 611.64L797.4 611.64L785.16 611.64L785.16 611.64z" clip-path="url(#p4803c43e1a)" class="c26"/><path d="M797.4 611.64L808.92 611.64L808.92 611.64L797.4 611.64L797.4 611.64z" clip-path="url(#p4803c43e1a)" class="c26"/><path d="M808.92 611.64L821.16 611.64L821.16 611.64L808.92 611.64L808.92 611.64z" clip-path="url(#p4803c43e1a)" class="c26"/><path d="M821.16 611.64L832.68 611.64L832.68 599.4L821.16 599.4L821.16 611.64z" clip-path="url(#p4803c43e1a)" class="c26"/><path d="M832.68 611.64L844.92 611.64L844.92 611.64L832.68 611.64L832.68 611.64z" clip-path="url(#p4803c43e1a)" class="c26"/><path d="M844.92 611.64L856.44 611.64L856.44 611.64L844.92 611.64L844.92 611.64z" clip-path="url(#p4803c43e1a)" class="c26"/><path d="M856.44 611.64L868.68 611.64L868.68 611.64L856.44 611.64L856.44 611.64z" clip-path="url(#p4803c43e1a)" class="c26"/><path d="M868.68 611.64L880.92 611.64L880.92 611.64L868.68 611.64L868.68 611.64z" clip-path="url(#p4803c43e1a)" class="c26"/><path d="M880.92 611.64L892.44 611.64L892.44 611.64L880.92 611.64L880.92 611.64z" clip-path="url(#p4803c43e1a)" class="c26"/><path d="M892.44 611.64L904.68 611.64L904.68 611.64L892.44 611.64L892.44 611.64z" clip-path="url(#p4803c43e1a)" class="c26"/><path d="M904.68 611.64L916.2 611.64L916.2 611.64L904.68 611.64L904.68 611.64z" clip-path="url(#p4803c43e1a)" class="c26"/><path d="M916.2 611.64L928.44 611.64L928.44 611.64L916.2 611.64L916.2 611.64z" clip-path="url(#p4803c43e1a)" class="c26"/><path d="M928.44 611.64L939.96 611.64L939.96 611.64L928.44 611.64L928.44 611.64z" clip-path="url(#p4803c43e1a)" class="c26"/><path d="M939.96 611.64L952.2 611.64L952.2 611.64L939.96 611.64L939.96 611.64z" clip-path="url(#p4803c43e1a)" class="c26"/><path d="M952.2 611.64L963.72 611.64L963.72 611.64L952.2 611.64L952.2 611.64z" clip-path="url(#p4803c43e1a)" class="c26"/><path d="M963.72 611.64L975.96 611.64L975.96 611.64L963.72 611.64L963.72 611.64z" clip-path="url(#p4803c43e1a)" class="c26"/><path d="M975.96 611.64L988.2 611.64L988.2 611.64L975.96 611.64L975.96 611.64z" clip-path="url(#p4803c43e1a)" class="c26"/><path d="M988.2 611.64L999.72 611.64L999.72 611.64L988.2 611.64L988.2 611.64z" clip-path="url(#p4803c43e1a)" class="c26"/><path d="M999.72 611.64L1011.96 611.64L1011.96 611.64L999.72 611.64L999.72 611.64z" clip-path="url(#p4803c43e1a)" class="c26"/><path d="M1011.96 611.64L1023.48 611.64L1023.48 611.64L1011.96 611.64L1011.96 611.64z" clip-path="url(#p4803c43e1a)" class="c26"/><path d="M1023.48 611.64L1035.72 611.64L1035.72 611.64L1023.48 611.64L1023.48 611.64z" clip-path="url(#p4803c43e1a)" class="c26"/><path d="M1035.72 611.64L1047.24 611.64L1047.24 611.64L1035.72 611.64L1035.72 611.64z" clip-path="url(#p4803c43e1a)" class="c26"/><path d="M606.6 611.64L618.12 611.64L618.12 55.08L606.6 55.08L606.6 611.64z" clip-path="url(#p4803c43e1a)" class="c22"/><path d="M618.12 611.64L630.36 611.64L630.36 194.04L618.12 194.04L618.12 611.64z" clip-path="url(#p4803c43e1a)" class="c22"/><path d="M630.36 611.64L641.88 611.64L641.88 111.96L630.36 111.96L630.36 611.64z" clip-path="url(#p4803c43e1a)" class="c22"/><path d="M641.88 611.64L654.12 611.64L654.12 270.36L641.88 270.36L641.88 611.64z" clip-path="url(#p4803c43e1a)" class="c22"/><path d="M654.12 611.64L665.64 611.64L665.64 396.36L654.12 396.36L654.12 611.64z" clip-path="url(#p4803c43e1a)" class="c22"/><path d="M665.64 611.64L677.88 611.64L677.88 345.96L665.64 345.96L665.64 611.64z" clip-path="url(#p4803c43e1a)" class="c22"/><path d="M677.88 611.64L690.12 611.64L690.12 409.32L677.88 409.32L677.88 611.64z" clip-path="url(#p4803c43e1a)" class="c22"/><path d="M690.12 611.64L701.64 611.64L701.64 459.72L690.12 459.72L690.12 611.64z" clip-path="url(#p4803c43e1a)" class="c22"/><path d="M701.64 611.64L713.88 611.64L713.88 479.16L701.64 479.16L701.64 611.64z" clip-path="url(#p4803c43e1a)" class="c22"/><path d="M713.88 611.64L725.4 611.64L725.4 536.04L713.88 536.04L713.88 611.64z" clip-path="url(#p4803c43e1a)" class="c22"/><path d="M725.4 611.64L737.64 611.64L737.64 561.24L725.4 561.24L725.4 611.64z" clip-path="url(#p4803c43e1a)" class="c22"/><path d="M737.64 611.64L749.16 611.64L749.16 554.76L737.64 554.76L737.64 611.64z" clip-path="url(#p4803c43e1a)" class="c22"/><path d="M749.16 611.64L761.4 611.64L761.4 599.4L749.16 599.4L749.16 611.64z" clip-path="url(#p4803c43e1a)" class="c22"/><path d="M761.4 611.64L772.92 611.64L772.92 579.96L761.4 579.96L761.4 611.64z" clip-path="url(#p4803c43e1a)" class="c22"/><path d="M772.92 611.64L785.16 611.64L785.16 579.96L772.92 579.96L772.92 611.64z" clip-path="url(#p4803c43e1a)" class="c22"/><path d="M785.16 611.64L797.4 611.64L797.4 586.44L785.16 586.44L785.16 611.64z" clip-path="url(#p4803c43e1a)" class="c22"/><path d="M797.4 611.64L808.92 611.64L808.92 579.96L797.4 579.96L797.4 611.64z" clip-path="url(#p4803c43e1a)" class="c22"/><path d="M808.92 611.64L821.16 611.64L821.16 605.16L808.92 605.16L808.92 611.64z" clip-path="url(#p4803c43e1a)" class="c22"/><path d="M821.16 611.64L832.68 611.64L832.68 605.16L821.16 605.16L821.16 611.64z" clip-path="url(#p4803c43e1a)" class="c22"/><path d="M832.68 611.64L844.92 611.64L844.92 611.64L832.68 611.64L832.68 611.64z" clip-path="url(#p4803c43e1a)" class="c22"/><path d="M844.92 611.64L856.44 611.64L856.44 611.64L844.92 611.64L844.92 611.64z" clip-path="url(#p4803c43e1a)" class="c22"/><path d="M856.44 611.64L868.68 611.64L868.68 611.64L856.44 611.64L856.44 611.64z" clip-path="url(#p4803c43e1a)" class="c22"/><path d="M868.68 611.64L880.92 611.64L880.92 605.16L868.68 605.16L868.68 611.64z" clip-path="url(#p4803c43e1a)" class="c22"/><path d="M880.92 611.64L892.44 611.64L892.44 611.64L880.92 611.64L880.92 611.64z" clip-path="url(#p4803c43e1a)" class="c22"/><path d="M892.44 611.64L904.68 611.64L904.68 611.64L892.44 611.64L892.44 611.64z" clip-path="url(#p4803c43e1a)" class="c22"/><path d="M904.68 611.64L916.2 611.64L916.2 611.64L904.68 611.64L904.68 611.64z" clip-path="url(#p4803c43e1a)" class="c22"/><path d="M916.2 611.64L928.44 611.64L928.44 611.64L916.2 611.64L916.2 611.64z" clip-path="url(#p4803c43e1a)" class="c22"/><path d="M928.44 611.64L939.96 611.64L939.96 611.64L928.44 611.64L928.44 611.64z" clip-path="url(#p4803c43e1a)" class="c22"/><path d="M939.96 611.64L952.2 611.64L952.2 611.64L939.96 611.64L939.96 611.64z" clip-path="url(#p4803c43e1a)" class="c22"/><path d="M952.2 611.64L963.72 611.64L963.72 611.64L952.2 611.64L952.2 611.64z" clip-path="url(#p4803c43e1a)" class="c22"/><path d="M963.72 611.64L975.96 611.64L975.96 611.64L963.72 611.64L963.72 611.64z" clip-path="url(#p4803c43e1a)" class="c22"/><path d="M975.96 611.64L988.2 611.64L988.2 611.64L975.96 611.64L975.96 611.64z" clip-path="url(#p4803c43e1a)" class="c22"/><path d="M988.2 611.64L999.72 611.64L999.72 611.64L988.2 611.64L988.2 611.64z" clip-path="url(#p4803c43e1a)" class="c22"/><path d="M999.72 611.64L1011.96 611.64L1011.96 611.64L999.72 611.64L999.72 611.64z" clip-path="url(#p4803c43e1a)" class="c22"/><path d="M1011.96 611.64L1023.48 611.64L1023.48 611.64L1011.96 611.64L1011.96 611.64z" clip-path="url(#p4803c43e1a)" class="c22"/><path d="M1023.48 611.64L1035.72 611.64L1035.72 611.64L1023.48 611.64L1023.48 611.64z" clip-path="url(#p4803c43e1a)" class="c22"/><path d="M1035.72 611.64L1047.24 611.64L1047.24 611.64L1035.72 611.64L1035.72 611.64z" clip-path="url(#p4803c43e1a)" class="c22"/><path d="M606.6 611.64L618.12 611.64L618.12 377.64L606.6 377.64L606.6 611.64z" clip-path="url(#p4803c43e1a)" class="c23"/><path d="M618.12 611.64L630.36 611.64L630.36 466.2L618.12 466.2L618.12 611.64z" clip-path="url(#p4803c43e1a)" class="c23"/><path d="M630.36 611.64L641.88 611.64L641.88 402.84L630.36 402.84L630.36 611.64z" clip-path="url(#p4803c43e1a)" class="c23"/><path d="M641.88 611.64L654.12 611.64L654.12 371.16L641.88 371.16L641.88 611.64z" clip-path="url(#p4803c43e1a)" class="c23"/><path d="M654.12 611.64L665.64 611.64L665.64 484.92L654.12 484.92L654.12 611.64z" clip-path="url(#p4803c43e1a)" class="c23"/><path d="M665.64 611.64L677.88 611.64L677.88 447.48L665.64 447.48L665.64 611.64z" clip-path="url(#p4803c43e1a)" class="c23"/><path d="M677.88 611.64L690.12 611.64L690.12 491.4L677.88 491.4L677.88 611.64z" clip-path="url(#p4803c43e1a)" class="c23"/><path d="M690.12 611.64L701.64 611.64L701.64 536.04L690.12 536.04L690.12 611.64z" clip-path="url(#p4803c43e1a)" class="c23"/><path d="M701.64 611.64L713.88 611.64L713.88 567.72L701.64 567.72L701.64 611.64z" clip-path="url(#p4803c43e1a)" class="c23"/><path d="M713.88 611.64L725.4 611.64L725.4 536.04L713.88 536.04L713.88 611.64z" clip-path="url(#p4803c43e1a)" class="c23"/><path d="M725.4 611.64L737.64 611.64L737.64 592.92L725.4 592.92L725.4 611.64z" clip-path="url(#p4803c43e1a)" class="c23"/><path d="M737.64 611.64L749.16 611.64L749.16 574.2L737.64 574.2L737.64 611.64z" clip-path="url(#p4803c43e1a)" class="c23"/><path d="M749.16 611.64L761.4 611.64L761.4 579.96L749.16 579.96L749.16 611.64z" clip-path="url(#p4803c43e1a)" class="c23"/><path d="M761.4 611.64L772.92 611.64L772.92 592.92L761.4 592.92L761.4 611.64z" clip-path="url(#p4803c43e1a)" class="c23"/><path d="M772.92 611.64L785.16 611.64L785.16 605.16L772.92 605.16L772.92 611.64z" clip-path="url(#p4803c43e1a)" class="c23"/><path d="M785.16 611.64L797.4 611.64L797.4 611.64L785.16 611.64L785.16 611.64z" clip-path="url(#p4803c43e1a)" class="c23"/><path d="M797.4 611.64L808.92 611.64L808.92 611.64L797.4 611.64L797.4 611.64z" clip-path="url(#p4803c43e1a)" class="c23"/><path d="M808.92 611.64L821.16 611.64L821.16 611.64L808.92 611.64L808.92 611.64z" clip-path="url(#p4803c43e1a)" class="c23"/><path d="M821.16 611.64L832.68 611.64L832.68 599.4L821.16 599.4L821.16 611.64z" clip-path="url(#p4803c43e1a)" class="c23"/><path d="M832.68 611.64L844.92 611.64L844.92 605.16L832.68 605.16L832.68 611.64z" clip-path="url(#p4803c43e1a)" class="c23"/><path d="M844.92 611.64L856.44 611.64L856.44 611.64L844.92 611.64L844.92 611.64z" clip-path="url(#p4803c43e1a)" class="c23"/><path d="M856.44 611.64L868.68 611.64L868.68 611.64L856.44 611.64L856.44 611.64z" clip-path="url(#p4803c43e1a)" class="c23"/><path d="M868.68 611.64L880.92 611.64L880.92 611.64L868.68 611.64L868.68 611.64z" clip-path="url(#p4803c43e1a)" class="c23"/><path d="M880.92 611.64L892.44 611.64L892.44 611.64L880.92 611.64L880.92 611.64z" clip-path="url(#p4803c43e1a)" class="c23"/><path d="M892.44 611.64L904.68 611.64L904.68 611.64L892.44 611.64L892.44 611.64z" clip-path="url(#p4803c43e1a)" class="c23"/><path d="M904.68 611.64L916.2 611.64L916.2 611.64L904.68 611.64L904.68 611.64z" clip-path="url(#p4803c43e1a)" class="c23"/><path d="M916.2 611.64L928.44 611.64L928.44 611.64L916.2 611.64L916.2 611.64z" clip-path="url(#p4803c43e1a)" class="c23"/><path d="M928.44 611.64L939.96 611.64L939.96 611.64L928.44 611.64L928.44 611.64z" clip-path="url(#p4803c43e1a)" class="c23"/><path d="M939.96 611.64L952.2 611.64L952.2 611.64L939.96 611.64L939.96 611.64z" clip-path="url(#p4803c43e1a)" class="c23"/><path d="M952.2 611.64L963.72 611.64L963.72 611.64L952.2 611.64L952.2 611.64z" clip-path="url(#p4803c43e1a)" class="c23"/><path d="M963.72 611.64L975.96 611.64L975.96 611.64L963.72 611.64L963.72 611.64z" clip-path="url(#p4803c43e1a)" class="c23"/><path d="M975.96 611.64L988.2 611.64L988.2 611.64L975.96 611.64L975.96 611.64z" clip-path="url(#p4803c43e1a)" class="c23"/><path d="M988.2 611.64L999.72 611.64L999.72 611.64L988.2 611.64L988.2 611.64z" clip-path="url(#p4803c43e1a)" class="c23"/><path d="M999.72 611.64L1011.96 611.64L1011.96 611.64L999.72 611.64L999.72 611.64z" clip-path="url(#p4803c43e1a)" class="c23"/><path d="M1011.96 611.64L1023.48 611.64L1023.48 611.64L1011.96 611.64L1011.96 611.64z" clip-path="url(#p4803c43e1a)" class="c23"/><path d="M1023.48 611.64L1035.72 611.64L1035.72 611.64L1023.48 611.64L1023.48 611.64z" clip-path="url(#p4803c43e1a)" class="c23"/><path d="M1035.72 611.64L1047.24 611.64L1047.24 611.64L1035.72 611.64L1035.72 611.64z" clip-path="url(#p4803c43e1a)" class="c23"/><path d="M606.6 611.64L618.12 611.64L618.12 484.92L606.6 484.92L606.6 611.64z" clip-path="url(#p4803c43e1a)" class="c21"/><path d="M618.12 611.64L630.36 611.64L630.36 428.04L618.12 428.04L618.12 611.64z" clip-path="url(#p4803c43e1a)" class="c21"/><path d="M630.36 611.64L641.88 611.64L641.88 415.8L630.36 415.8L630.36 611.64z" clip-path="url(#p4803c43e1a)" class="c21"/><path d="M641.88 611.64L654.12 611.64L654.12 409.32L641.88 409.32L641.88 611.64z" clip-path="url(#p4803c43e1a)" class="c21"/><path d="M654.12 611.64L665.64 611.64L665.64 428.04L654.12 428.04L654.12 611.64z" clip-path="url(#p4803c43e1a)" class="c21"/><path d="M665.64 611.64L677.88 611.64L677.88 402.84L665.64 402.84L665.64 611.64z" clip-path="url(#p4803c43e1a)" class="c21"/><path d="M677.88 611.64L690.12 611.64L690.12 402.84L677.88 402.84L677.88 611.64z" clip-path="url(#p4803c43e1a)" class="c21"/><path d="M690.12 611.64L701.64 611.64L701.64 365.4L690.12 365.4L690.12 611.64z" clip-path="url(#p4803c43e1a)" class="c21"/><path d="M701.64 611.64L713.88 611.64L713.88 314.28L701.64 314.28L701.64 611.64z" clip-path="url(#p4803c43e1a)" class="c21"/><path d="M713.88 611.64L725.4 611.64L725.4 390.6L713.88 390.6L713.88 611.64z" clip-path="url(#p4803c43e1a)" class="c21"/><path d="M725.4 611.64L737.64 611.64L737.64 377.64L725.4 377.64L725.4 611.64z" clip-path="url(#p4803c43e1a)" class="c21"/><path d="M737.64 611.64L749.16 611.64L749.16 484.92L737.64 484.92L737.64 611.64z" clip-path="url(#p4803c43e1a)" class="c21"/><path d="M749.16 611.64L761.4 611.64L761.4 466.2L749.16 466.2L749.16 611.64z" clip-path="url(#p4803c43e1a)" class="c21"/><path d="M761.4 611.64L772.92 611.64L772.92 466.2L761.4 466.2L761.4 611.64z" clip-path="url(#p4803c43e1a)" class="c21"/><path d="M772.92 611.64L785.16 611.64L785.16 491.4L772.92 491.4L772.92 611.64z" clip-path="url(#p4803c43e1a)" class="c21"/><path d="M785.16 611.64L797.4 611.64L797.4 529.56L785.16 529.56L785.16 611.64z" clip-path="url(#p4803c43e1a)" class="c21"/><path d="M797.4 611.64L808.92 611.64L808.92 542.52L797.4 542.52L797.4 611.64z" clip-path="url(#p4803c43e1a)" class="c21"/><path d="M808.92 611.64L821.16 611.64L821.16 504.36L808.92 504.36L808.92 611.64z" clip-path="url(#p4803c43e1a)" class="c21"/><path d="M821.16 611.64L832.68 611.64L832.68 561.24L821.16 561.24L821.16 611.64z" clip-path="url(#p4803c43e1a)" class="c21"/><path d="M832.68 611.64L844.92 611.64L844.92 574.2L832.68 574.2L832.68 611.64z" clip-path="url(#p4803c43e1a)" class="c21"/><path d="M844.92 611.64L856.44 611.64L856.44 579.96L844.92 579.96L844.92 611.64z" clip-path="url(#p4803c43e1a)" class="c21"/><path d="M856.44 611.64L868.68 611.64L868.68 586.44L856.44 586.44L856.44 611.64z" clip-path="url(#p4803c43e1a)" class="c21"/><path d="M868.68 611.64L880.92 611.64L880.92 599.4L868.68 599.4L868.68 611.64z" clip-path="url(#p4803c43e1a)" class="c21"/><path d="M880.92 611.64L892.44 611.64L892.44 605.16L880.92 605.16L880.92 611.64z" clip-path="url(#p4803c43e1a)" class="c21"/><path d="M892.44 611.64L904.68 611.64L904.68 599.4L892.44 599.4L892.44 611.64z" clip-path="url(#p4803c43e1a)" class="c21"/><path d="M904.68 611.64L916.2 611.64L916.2 592.92L904.68 592.92L904.68 611.64z" clip-path="url(#p4803c43e1a)" class="c21"/><path d="M916.2 611.64L928.44 611.64L928.44 611.64L916.2 611.64L916.2 611.64z" clip-path="url(#p4803c43e1a)" class="c21"/><path d="M928.44 611.64L939.96 611.64L939.96 611.64L928.44 611.64L928.44 611.64z" clip-path="url(#p4803c43e1a)" class="c21"/><path d="M939.96 611.64L952.2 611.64L952.2 605.16L939.96 605.16L939.96 611.64z" clip-path="url(#p4803c43e1a)" class="c21"/><path d="M952.2 611.64L963.72 611.64L963.72 611.64L952.2 611.64L952.2 611.64z" clip-path="url(#p4803c43e1a)" class="c21"/><path d="M963.72 611.64L975.96 611.64L975.96 611.64L963.72 611.64L963.72 611.64z" clip-path="url(#p4803c43e1a)" class="c21"/><path d="M975.96 611.64L988.2 611.64L988.2 611.64L975.96 611.64L975.96 611.64z" clip-path="url(#p4803c43e1a)" class="c21"/><path d="M988.2 611.64L999.72 611.64L999.72 611.64L988.2 611.64L988.2 611.64z" clip-path="url(#p4803c43e1a)" class="c21"/><path d="M999.72 611.64L1011.96 611.64L1011.96 611.64L999.72 611.64L999.72 611.64z" clip-path="url(#p4803c43e1a)" class="c21"/><path d="M1011.96 611.64L1023.48 611.64L1023.48 611.64L1011.96 611.64L1011.96 611.64z" clip-path="url(#p4803c43e1a)" class="c21"/><path d="M1023.48 611.64L1035.72 611.64L1035.72 611.64L1023.48 611.64L1023.48 611.64z" clip-path="url(#p4803c43e1a)" class="c21"/><path d="M1035.72 611.64L1047.24 611.64L1047.24 611.64L1035.72 611.64L1035.72 611.64z" clip-path="url(#p4803c43e1a)" class="c21"/><path d="M606.6 611.64L618.12 611.64L618.12 282.6L606.6 282.6L606.6 611.64z" clip-path="url(#p4803c43e1a)" class="c27"/><path d="M618.12 611.64L630.36 611.64L630.36 232.2L618.12 232.2L618.12 611.64z" clip-path="url(#p4803c43e1a)" class="c27"/><path d="M630.36 611.64L641.88 611.64L641.88 111.96L630.36 111.96L630.36 611.64z" clip-path="url(#p4803c43e1a)" class="c27"/><path d="M641.88 611.64L654.12 611.64L654.12 188.28L641.88 188.28L641.88 611.64z" clip-path="url(#p4803c43e1a)" class="c27"/><path d="M654.12 611.64L665.64 611.64L665.64 93.24L654.12 93.24L654.12 611.64z" clip-path="url(#p4803c43e1a)" class="c27"/><path d="M665.64 611.64L677.88 611.64L677.88 156.6L665.64 156.6L665.64 611.64z" clip-path="url(#p4803c43e1a)" class="c27"/><path d="M677.88 611.64L690.12 611.64L690.12 194.04L677.88 194.04L677.88 611.64z" clip-path="url(#p4803c43e1a)" class="c27"/><path d="M690.12 611.64L701.64 611.64L701.64 188.28L690.12 188.28L690.12 611.64z" clip-path="url(#p4803c43e1a)" class="c27"/><path d="M701.64 611.64L713.88 611.64L713.88 289.08L701.64 289.08L701.64 611.64z" clip-path="url(#p4803c43e1a)" class="c27"/><path d="M713.88 611.64L725.4 611.64L725.4 225.72L713.88 225.72L713.88 611.64z" clip-path="url(#p4803c43e1a)" class="c27"/><path d="M725.4 611.64L737.64 611.64L737.64 320.76L725.4 320.76L725.4 611.64z" clip-path="url(#p4803c43e1a)" class="c27"/><path d="M737.64 611.64L749.16 611.64L749.16 365.4L737.64 365.4L737.64 611.64z" clip-path="url(#p4803c43e1a)" class="c27"/><path d="M749.16 611.64L761.4 611.64L761.4 250.92L749.16 250.92L749.16 611.64z" clip-path="url(#p4803c43e1a)" class="c27"/><path d="M761.4 611.64L772.92 611.64L772.92 422.28L761.4 422.28L761.4 611.64z" clip-path="url(#p4803c43e1a)" class="c27"/><path d="M772.92 611.64L785.16 611.64L785.16 491.4L772.92 491.4L772.92 611.64z" clip-path="url(#p4803c43e1a)" class="c27"/><path d="M785.16 611.64L797.4 611.64L797.4 484.92L785.16 484.92L785.16 611.64z" clip-path="url(#p4803c43e1a)" class="c27"/><path d="M797.4 611.64L808.92 611.64L808.92 504.36L797.4 504.36L797.4 611.64z" clip-path="url(#p4803c43e1a)" class="c27"/><path d="M808.92 611.64L821.16 611.64L821.16 561.24L808.92 561.24L808.92 611.64z" clip-path="url(#p4803c43e1a)" class="c27"/><path d="M821.16 611.64L832.68 611.64L832.68 574.2L821.16 574.2L821.16 611.64z" clip-path="url(#p4803c43e1a)" class="c27"/><path d="M832.68 611.64L844.92 611.64L844.92 579.96L832.68 579.96L832.68 611.64z" clip-path="url(#p4803c43e1a)" class="c27"/><path d="M844.92 611.64L856.44 611.64L856.44 586.44L844.92 586.44L844.92 611.64z" clip-path="url(#p4803c43e1a)" class="c27"/><path d="M856.44 611.64L868.68 611.64L868.68 599.4L856.44 599.4L856.44 611.64z" clip-path="url(#p4803c43e1a)" class="c27"/><path d="M868.68 611.64L880.92 611.64L880.92 599.4L868.68 599.4L868.68 611.64z" clip-path="url(#p4803c43e1a)" class="c27"/><path d="M880.92 611.64L892.44 611.64L892.44 605.16L880.92 605.16L880.92 611.64z" clip-path="url(#p4803c43e1a)" class="c27"/><path d="M892.44 611.64L904.68 611.64L904.68 599.4L892.44 599.4L892.44 611.64z" clip-path="url(#p4803c43e1a)" class="c27"/><path d="M904.68 611.64L916.2 611.64L916.2 611.64L904.68 611.64L904.68 611.64z" clip-path="url(#p4803c43e1a)" class="c27"/><path d="M916.2 611.64L928.44 611.64L928.44 611.64L916.2 611.64L916.2 611.64z" clip-path="url(#p4803c43e1a)" class="c27"/><path d="M928.44 611.64L939.96 611.64L939.96 611.64L928.44 611.64L928.44 611.64z" clip-path="url(#p4803c43e1a)" class="c27"/><path d="M939.96 611.64L952.2 611.64L952.2 611.64L939.96 611.64L939.96 611.64z" clip-path="url(#p4803c43e1a)" class="c27"/><path d="M952.2 611.64L963.72 611.64L963.72 611.64L952.2 611.64L952.2 611.64z" clip-path="url(#p4803c43e1a)" class="c27"/><path d="M963.72 611.64L975.96 611.64L975.96 611.64L963.72 611.64L963.72 611.64z" clip-path="url(#p4803c43e1a)" class="c27"/><path d="M975.96 611.64L988.2 611.64L988.2 611.64L975.96 611.64L975.96 611.64z" clip-path="url(#p4803c43e1a)" class="c27"/><path d="M988.2 611.64L999.72 611.64L999.72 611.64L988.2 611.64L988.2 611.64z" clip-path="url(#p4803c43e1a)" class="c27"/><path d="M999.72 611.64L1011.96 611.64L1011.96 611.64L999.72 611.64L999.72 611.64z" clip-path="url(#p4803c43e1a)" class="c27"/><path d="M1011.96 611.64L1023.48 611.64L1023.48 611.64L1011.96 611.64L1011.96 611.64z" clip-path="url(#p4803c43e1a)" class="c27"/><path d="M1023.48 611.64L1035.72 611.64L1035.72 611.64L1023.48 611.64L1023.48 611.64z" clip-path="url(#p4803c43e1a)" class="c27"/><path d="M1035.72 611.64L1047.24 611.64L1047.24 611.64L1035.72 611.64L1035.72 611.64z" clip-path="url(#p4803c43e1a)" class="c27"/><path d="M606.6 611.64L618.12 611.64L618.12 529.56L606.6 529.56L606.6 611.64z" clip-path="url(#p4803c43e1a)" class="c28"/><path d="M618.12 611.64L630.36 611.64L630.36 510.84L618.12 510.84L618.12 611.64z" clip-path="url(#p4803c43e1a)" class="c28"/><path d="M630.36 611.64L641.88 611.64L641.88 536.04L630.36 536.04L630.36 611.64z" clip-path="url(#p4803c43e1a)" class="c28"/><path d="M641.88 611.64L654.12 611.64L654.12 516.6L641.88 516.6L641.88 611.64z" clip-path="url(#p4803c43e1a)" class="c28"/><path d="M654.12 611.64L665.64 611.64L665.64 548.28L654.12 548.28L654.12 611.64z" clip-path="url(#p4803c43e1a)" class="c28"/><path d="M665.64 611.64L677.88 611.64L677.88 523.08L665.64 523.08L665.64 611.64z" clip-path="url(#p4803c43e1a)" class="c28"/><path d="M677.88 611.64L690.12 611.64L690.12 529.56L677.88 529.56L677.88 611.64z" clip-path="url(#p4803c43e1a)" class="c28"/><path d="M690.12 611.64L701.64 611.64L701.64 554.76L690.12 554.76L690.12 611.64z" clip-path="url(#p4803c43e1a)" class="c28"/><path d="M701.64 611.64L713.88 611.64L713.88 574.2L701.64 574.2L701.64 611.64z" clip-path="url(#p4803c43e1a)" class="c28"/><path d="M713.88 611.64L725.4 611.64L725.4 567.72L713.88 567.72L713.88 611.64z" clip-path="url(#p4803c43e1a)" class="c28"/><path d="M725.4 611.64L737.64 611.64L737.64 599.4L725.4 599.4L725.4 611.64z" clip-path="url(#p4803c43e1a)" class="c28"/><path d="M737.64 611.64L749.16 611.64L749.16 579.96L737.64 579.96L737.64 611.64z" clip-path="url(#p4803c43e1a)" class="c28"/><path d="M749.16 611.64L761.4 611.64L761.4 605.16L749.16 605.16L749.16 611.64z" clip-path="url(#p4803c43e1a)" class="c28"/><path d="M761.4 611.64L772.92 611.64L772.92 599.4L761.4 599.4L761.4 611.64z" clip-path="url(#p4803c43e1a)" class="c28"/><path d="M772.92 611.64L785.16 611.64L785.16 592.92L772.92 592.92L772.92 611.64z" clip-path="url(#p4803c43e1a)" class="c28"/><path d="M785.16 611.64L797.4 611.64L797.4 605.16L785.16 605.16L785.16 611.64z" clip-path="url(#p4803c43e1a)" class="c28"/><path d="M797.4 611.64L808.92 611.64L808.92 611.64L797.4 611.64L797.4 611.64z" clip-path="url(#p4803c43e1a)" class="c28"/><path d="M808.92 611.64L821.16 611.64L821.16 611.64L808.92 611.64L808.92 611.64z" clip-path="url(#p4803c43e1a)" class="c28"/><path d="M821.16 611.64L832.68 611.64L832.68 605.16L821.16 605.16L821.16 611.64z" clip-path="url(#p4803c43e1a)" class="c28"/><path d="M832.68 611.64L844.92 611.64L844.92 611.64L832.68 611.64L832.68 611.64z" clip-path="url(#p4803c43e1a)" class="c28"/><path d="M844.92 611.64L856.44 611.64L856.44 611.64L844.92 611.64L844.92 611.64z" clip-path="url(#p4803c43e1a)" class="c28"/><path d="M856.44 611.64L868.68 611.64L868.68 611.64L856.44 611.64L856.44 611.64z" clip-path="url(#p4803c43e1a)" class="c28"/><path d="M868.68 611.64L880.92 611.64L880.92 611.64L868.68 611.64L868.68 611.64z" clip-path="url(#p4803c43e1a)" class="c28"/><path d="M880.92 611.64L892.44 611.64L892.44 611.64L880.92 611.64L880.92 611.64z" clip-path="url(#p4803c43e1a)" class="c28"/><path d="M892.44 611.64L904.68 611.64L904.68 611.64L892.44 611.64L892.44 611.64z" clip-path="url(#p4803c43e1a)" class="c28"/><path d="M904.68 611.64L916.2 611.64L916.2 611.64L904.68 611.64L904.68 611.64z" clip-path="url(#p4803c43e1a)" class="c28"/><path d="M916.2 611.64L928.44 611.64L928.44 611.64L916.2 611.64L916.2 611.64z" clip-path="url(#p4803c43e1a)" class="c28"/><path d="M928.44 611.64L939.96 611.64L939.96 611.64L928.44 611.64L928.44 611.64z" clip-path="url(#p4803c43e1a)" class="c28"/><path d="M939.96 611.64L952.2 611.64L952.2 611.64L939.96 611.64L939.96 611.64z" clip-path="url(#p4803c43e1a)" class="c28"/><path d="M952.2 611.64L963.72 611.64L963.72 611.64L952.2 611.64L952.2 611.64z" clip-path="url(#p4803c43e1a)" class="c28"/><path d="M963.72 611.64L975.96 611.64L975.96 611.64L963.72 611.64L963.72 611.64z" clip-path="url(#p4803c43e1a)" class="c28"/><path d="M975.96 611.64L988.2 611.64L988.2 611.64L975.96 611.64L975.96 611.64z" clip-path="url(#p4803c43e1a)" class="c28"/><path d="M988.2 611.64L999.72 611.64L999.72 611.64L988.2 611.64L988.2 611.64z" clip-path="url(#p4803c43e1a)" class="c28"/><path d="M999.72 611.64L1011.96 611.64L1011.96 611.64L999.72 611.64L999.72 611.64z" clip-path="url(#p4803c43e1a)" class="c28"/><path d="M1011.96 611.64L1023.48 611.64L1023.48 611.64L1011.96 611.64L1011.96 611.64z" clip-path="url(#p4803c43e1a)" class="c28"/><path d="M1023.48 611.64L1035.72 611.64L1035.72 611.64L1023.48 611.64L1023.48 611.64z" clip-path="url(#p4803c43e1a)" class="c28"/><path d="M1035.72 611.64L1047.24 611.64L1047.24 611.64L1035.72 611.64L1035.72 611.64z" clip-path="url(#p4803c43e1a)" class="c28"/><path d="M606.6 611.64L618.12 611.64L618.12 409.32L606.6 409.32L606.6 611.64z" clip-path="url(#p4803c43e1a)" class="c25"/><path d="M618.12 611.64L630.36 611.64L630.36 415.8L618.12 415.8L618.12 611.64z" clip-path="url(#p4803c43e1a)" class="c25"/><path d="M630.36 611.64L641.88 611.64L641.88 466.2L630.36 466.2L630.36 611.64z" clip-path="url(#p4803c43e1a)" class="c25"/><path d="M641.88 611.64L654.12 611.64L654.12 479.16L641.88 479.16L641.88 611.64z" clip-path="url(#p4803c43e1a)" class="c25"/><path d="M654.12 611.64L665.64 611.64L665.64 459.72L654.12 459.72L654.12 611.64z" clip-path="url(#p4803c43e1a)" class="c25"/><path d="M665.64 611.64L677.88 611.64L677.88 510.84L665.64 510.84L665.64 611.64z" clip-path="url(#p4803c43e1a)" class="c25"/><path d="M677.88 611.64L690.12 611.64L690.12 497.88L677.88 497.88L677.88 611.64z" clip-path="url(#p4803c43e1a)" class="c25"/><path d="M690.12 611.64L701.64 611.64L701.64 516.6L690.12 516.6L690.12 611.64z" clip-path="url(#p4803c43e1a)" class="c25"/><path d="M701.64 611.64L713.88 611.64L713.88 574.2L701.64 574.2L701.64 611.64z" clip-path="url(#p4803c43e1a)" class="c25"/><path d="M713.88 611.64L725.4 611.64L725.4 567.72L713.88 567.72L713.88 611.64z" clip-path="url(#p4803c43e1a)" class="c25"/><path d="M725.4 611.64L737.64 611.64L737.64 586.44L725.4 586.44L725.4 611.64z" clip-path="url(#p4803c43e1a)" class="c25"/><path d="M737.64 611.64L749.16 611.64L749.16 592.92L737.64 592.92L737.64 611.64z" clip-path="url(#p4803c43e1a)" class="c25"/><path d="M749.16 611.64L761.4 611.64L761.4 579.96L749.16 579.96L749.16 611.64z" clip-path="url(#p4803c43e1a)" class="c25"/><path d="M761.4 611.64L772.92 611.64L772.92 611.64L761.4 611.64L761.4 611.64z" clip-path="url(#p4803c43e1a)" class="c25"/><path d="M772.92 611.64L785.16 611.64L785.16 592.92L772.92 592.92L772.92 611.64z" clip-path="url(#p4803c43e1a)" class="c25"/><path d="M785.16 611.64L797.4 611.64L797.4 599.4L785.16 599.4L785.16 611.64z" clip-path="url(#p4803c43e1a)" class="c25"/><path d="M797.4 611.64L808.92 611.64L808.92 599.4L797.4 599.4L797.4 611.64z" clip-path="url(#p4803c43e1a)" class="c25"/><path d="M808.92 611.64L821.16 611.64L821.16 611.64L808.92 611.64L808.92 611.64z" clip-path="url(#p4803c43e1a)" class="c25"/><path d="M821.16 611.64L832.68 611.64L832.68 605.16L821.16 605.16L821.16 611.64z" clip-path="url(#p4803c43e1a)" class="c25"/><path d="M832.68 611.64L844.92 611.64L844.92 605.16L832.68 605.16L832.68 611.64z" clip-path="url(#p4803c43e1a)" class="c25"/><path d="M844.92 611.64L856.44 611.64L856.44 611.64L844.92 611.64L844.92 611.64z" clip-path="url(#p4803c43e1a)" class="c25"/><path d="M856.44 611.64L868.68 611.64L868.68 611.64L856.44 611.64L856.44 611.64z" clip-path="url(#p4803c43e1a)" class="c25"/><path d="M868.68 611.64L880.92 611.64L880.92 611.64L868.68 611.64L868.68 611.64z" clip-path="url(#p4803c43e1a)" class="c25"/><path d="M880.92 611.64L892.44 611.64L892.44 611.64L880.92 611.64L880.92 611.64z" clip-path="url(#p4803c43e1a)" class="c25"/><path d="M892.44 611.64L904.68 611.64L904.68 605.16L892.44 605.16L892.44 611.64z" clip-path="url(#p4803c43e1a)" class="c25"/><path d="M904.68 611.64L916.2 611.64L916.2 611.64L904.68 611.64L904.68 611.64z" clip-path="url(#p4803c43e1a)" class="c25"/><path d="M916.2 611.64L928.44 611.64L928.44 611.64L916.2 611.64L916.2 611.64z" clip-path="url(#p4803c43e1a)" class="c25"/><path d="M928.44 611.64L939.96 611.64L939.96 611.64L928.44 611.64L928.44 611.64z" clip-path="url(#p4803c43e1a)" class="c25"/><path d="M939.96 611.64L952.2 611.64L952.2 611.64L939.96 611.64L939.96 611.64z" clip-path="url(#p4803c43e1a)" class="c25"/><path d="M952.2 611.64L963.72 611.64L963.72 611.64L952.2 611.64L952.2 611.64z" clip-path="url(#p4803c43e1a)" class="c25"/><path d="M963.72 611.64L975.96 611.64L975.96 611.64L963.72 611.64L963.72 611.64z" clip-path="url(#p4803c43e1a)" class="c25"/><path d="M975.96 611.64L988.2 611.64L988.2 611.64L975.96 611.64L975.96 611.64z" clip-path="url(#p4803c43e1a)" class="c25"/><path d="M988.2 611.64L999.72 611.64L999.72 611.64L988.2 611.64L988.2 611.64z" clip-path="url(#p4803c43e1a)" class="c25"/><path d="M999.72 611.64L1011.96 611.64L1011.96 611.64L999.72 611.64L999.72 611.64z" clip-path="url(#p4803c43e1a)" class="c25"/><path d="M1011.96 611.64L1023.48 611.64L1023.48 611.64L1011.96 611.64L1011.96 611.64z" clip-path="url(#p4803c43e1a)" class="c25"/><path d="M1023.48 611.64L1035.72 611.64L1035.72 611.64L1023.48 611.64L1023.48 611.64z" clip-path="url(#p4803c43e1a)" class="c25"/><path d="M1035.72 611.64L1047.24 611.64L1047.24 611.64L1035.72 611.64L1035.72 611.64z" clip-path="url(#p4803c43e1a)" class="c25"/><path d="M606.6 611.64L618.12 611.64L618.12 504.36L606.6 504.36L606.6 611.64z" clip-path="url(#p4803c43e1a)" class="c26"/><path d="M618.12 611.64L630.36 611.64L630.36 491.4L618.12 491.4L618.12 611.64z" clip-path="url(#p4803c43e1a)" class="c26"/><path d="M630.36 611.64L641.88 611.64L641.88 536.04L630.36 536.04L630.36 611.64z" clip-path="url(#p4803c43e1a)" class="c26"/><path d="M641.88 611.64L654.12 611.64L654.12 484.92L641.88 484.92L641.88 611.64z" clip-path="url(#p4803c43e1a)" class="c26"/><path d="M654.12 611.64L665.64 611.64L665.64 453.96L654.12 453.96L654.12 611.64z" clip-path="url(#p4803c43e1a)" class="c26"/><path d="M665.64 611.64L677.88 611.64L677.88 510.84L665.64 510.84L665.64 611.64z" clip-path="url(#p4803c43e1a)" class="c26"/><path d="M677.88 611.64L690.12 611.64L690.12 466.2L677.88 466.2L677.88 611.64z" clip-path="url(#p4803c43e1a)" class="c26"/><path d="M690.12 611.64L701.64 611.64L701.64 447.48L690.12 447.48L690.12 611.64z" clip-path="url(#p4803c43e1a)" class="c26"/><path d="M701.64 611.64L713.88 611.64L713.88 497.88L701.64 497.88L701.64 611.64z" clip-path="url(#p4803c43e1a)" class="c26"/><path d="M713.88 611.64L725.4 611.64L725.4 479.16L713.88 479.16L713.88 611.64z" clip-path="url(#p4803c43e1a)" class="c26"/><path d="M725.4 611.64L737.64 611.64L737.64 536.04L725.4 536.04L725.4 611.64z" clip-path="url(#p4803c43e1a)" class="c26"/><path d="M737.64 611.64L749.16 611.64L749.16 510.84L737.64 510.84L737.64 611.64z" clip-path="url(#p4803c43e1a)" class="c26"/><path d="M749.16 611.64L761.4 611.64L761.4 542.52L749.16 542.52L749.16 611.64z" clip-path="url(#p4803c43e1a)" class="c26"/><path d="M761.4 611.64L772.92 611.64L772.92 523.08L761.4 523.08L761.4 611.64z" clip-path="url(#p4803c43e1a)" class="c26"/><path d="M772.92 611.64L785.16 611.64L785.16 548.28L772.92 548.28L772.92 611.64z" clip-path="url(#p4803c43e1a)" class="c26"/><path d="M785.16 611.64L797.4 611.64L797.4 536.04L785.16 536.04L785.16 611.64z" clip-path="url(#p4803c43e1a)" class="c26"/><path d="M797.4 611.64L808.92 611.64L808.92 574.2L797.4 574.2L797.4 611.64z" clip-path="url(#p4803c43e1a)" class="c26"/><path d="M808.92 611.64L821.16 611.64L821.16 579.96L808.92 579.96L808.92 611.64z" clip-path="url(#p4803c43e1a)" class="c26"/><path d="M821.16 611.64L832.68 611.64L832.68 561.24L821.16 561.24L821.16 611.64z" clip-path="url(#p4803c43e1a)" class="c26"/><path d="M832.68 611.64L844.92 611.64L844.92 586.44L832.68 586.44L832.68 611.64z" clip-path="url(#p4803c43e1a)" class="c26"/><path d="M844.92 611.64L856.44 611.64L856.44 586.44L844.92 586.44L844.92 611.64z" clip-path="url(#p4803c43e1a)" class="c26"/><path d="M856.44 611.64L868.68 611.64L868.68 574.2L856.44 574.2L856.44 611.64z" clip-path="url(#p4803c43e1a)" class="c26"/><path d="M868.68 611.64L880.92 611.64L880.92 592.92L868.68 592.92L868.68 611.64z" clip-path="url(#p4803c43e1a)" class="c26"/><path d="M880.92 611.64L892.44 611.64L892.44 592.92L880.92 592.92L880.92 611.64z" clip-path="url(#p4803c43e1a)" class="c26"/><path d="M892.44 611.64L904.68 611.64L904.68 592.92L892.44 592.92L892.44 611.64z" clip-path="url(#p4803c43e1a)" class="c26"/><path d="M904.68 611.64L916.2 611.64L916.2 592.92L904.68 592.92L904.68 611.64z" clip-path="url(#p4803c43e1a)" class="c26"/><path d="M916.2 611.64L928.44 611.64L928.44 605.16L916.2 605.16L916.2 611.64z" clip-path="url(#p4803c43e1a)" class="c26"/><path d="M928.44 611.64L939.96 611.64L939.96 605.16L928.44 605.16L928.44 611.64z" clip-path="url(#p4803c43e1a)" class="c26"/><path d="M939.96 611.64L952.2 611.64L952.2 599.4L939.96 599.4L939.96 611.64z" clip-path="url(#p4803c43e1a)" class="c26"/><path d="M952.2 611.64L963.72 611.64L963.72 605.16L952.2 605.16L952.2 611.64z" clip-path="url(#p4803c43e1a)" class="c26"/><path d="M963.72 611.64L975.96 611.64L975.96 611.64L963.72 611.64L963.72 611.64z" clip-path="url(#p4803c43e1a)" class="c26"/><path d="M975.96 611.64L988.2 611.64L988.2 605.16L975.96 605.16L975.96 611.64z" clip-path="url(#p4803c43e1a)" class="c26"/><path d="M988.2 611.64L999.72 611.64L999.72 605.16L988.2 605.16L988.2 611.64z" clip-path="url(#p4803c43e1a)" class="c26"/><path d="M999.72 611.64L1011.96 611.64L1011.96 611.64L999.72 611.64L999.72 611.64z" clip-path="url(#p4803c43e1a)" class="c26"/><path d="M1011.96 611.64L1023.48 611.64L1023.48 611.64L1011.96 611.64L1011.96 611.64z" clip-path="url(#p4803c43e1a)" class="c26"/><path d="M1023.48 611.64L1035.72 611.64L1035.72 611.64L1023.48 611.64L1023.48 611.64z" clip-path="url(#p4803c43e1a)" class="c26"/><path d="M1035.72 611.64L1047.24 611.64L1047.24 611.64L1035.72 611.64L1035.72 611.64z" clip-path="url(#p4803c43e1a)" class="c26"/><path d="M606.6 611.64L618.12 611.64L618.12 586.44L606.6 586.44L606.6 611.64z" clip-path="url(#p4803c43e1a)" class="c28"/><path d="M618.12 611.64L630.36 611.64L630.36 579.96L618.12 579.96L618.12 611.64z" clip-path="url(#p4803c43e1a)" class="c28"/><path d="M630.36 611.64L641.88 611.64L641.88 574.2L630.36 574.2L630.36 611.64z" clip-path="url(#p4803c43e1a)" class="c28"/><path d="M641.88 611.64L654.12 611.64L654.12 579.96L641.88 579.96L641.88 611.64z" clip-path="url(#p4803c43e1a)" class="c28"/><path d="M654.12 611.64L665.64 611.64L665.64 586.44L654.12 586.44L654.12 611.64z" clip-path="url(#p4803c43e1a)" class="c28"/><path d="M665.64 611.64L677.88 611.64L677.88 599.4L665.64 599.4L665.64 611.64z" clip-path="url(#p4803c43e1a)" class="c28"/><path d="M677.88 611.64L690.12 611.64L690.12 554.76L677.88 554.76L677.88 611.64z" clip-path="url(#p4803c43e1a)" class="c28"/><path d="M690.12 611.64L701.64 611.64L701.64 567.72L690.12 567.72L690.12 611.64z" clip-path="url(#p4803c43e1a)" class="c28"/><path d="M701.64 611.64L713.88 611.64L713.88 592.92L701.64 592.92L701.64 611.64z" clip-path="url(#p4803c43e1a)" class="c28"/><path d="M713.88 611.64L725.4 611.64L725.4 592.92L713.88 592.92L713.88 611.64z" clip-path="url(#p4803c43e1a)" class="c28"/><path d="M725.4 611.64L737.64 611.64L737.64 599.4L725.4 599.4L725.4 611.64z" clip-path="url(#p4803c43e1a)" class="c28"/><path d="M737.64 611.64L749.16 611.64L749.16 611.64L737.64 611.64L737.64 611.64z" clip-path="url(#p4803c43e1a)" class="c28"/><path d="M749.16 611.64L761.4 611.64L761.4 605.16L749.16 605.16L749.16 611.64z" clip-path="url(#p4803c43e1a)" class="c28"/><path d="M761.4 611.64L772.92 611.64L772.92 586.44L761.4 586.44L761.4 611.64z" clip-path="url(#p4803c43e1a)" class="c28"/><path d="M772.92 611.64L785.16 611.64L785.16 611.64L772.92 611.64L772.92 611.64z" clip-path="url(#p4803c43e1a)" class="c28"/><path d="M785.16 611.64L797.4 611.64L797.4 605.16L785.16 605.16L785.16 611.64z" clip-path="url(#p4803c43e1a)" class="c28"/><path d="M797.4 611.64L808.92 611.64L808.92 592.92L797.4 592.92L797.4 611.64z" clip-path="url(#p4803c43e1a)" class="c28"/><path d="M808.92 611.64L821.16 611.64L821.16 599.4L808.92 599.4L808.92 611.64z" clip-path="url(#p4803c43e1a)" class="c28"/><path d="M821.16 611.64L832.68 611.64L832.68 605.16L821.16 605.16L821.16 611.64z" clip-path="url(#p4803c43e1a)" class="c28"/><path d="M832.68 611.64L844.92 611.64L844.92 611.64L832.68 611.64L832.68 611.64z" clip-path="url(#p4803c43e1a)" class="c28"/><path d="M844.92 611.64L856.44 611.64L856.44 611.64L844.92 611.64L844.92 611.64z" clip-path="url(#p4803c43e1a)" class="c28"/><path d="M856.44 611.64L868.68 611.64L868.68 611.64L856.44 611.64L856.44 611.64z" clip-path="url(#p4803c43e1a)" class="c28"/><path d="M868.68 611.64L880.92 611.64L880.92 599.4L868.68 599.4L868.68 611.64z" clip-path="url(#p4803c43e1a)" class="c28"/><path d="M880.92 611.64L892.44 611.64L892.44 605.16L880.92 605.16L880.92 611.64z" clip-path="url(#p4803c43e1a)" class="c28"/><path d="M892.44 611.64L904.68 611.64L904.68 605.16L892.44 605.16L892.44 611.64z" clip-path="url(#p4803c43e1a)" class="c28"/><path d="M904.68 611.64L916.2 611.64L916.2 611.64L904.68 611.64L904.68 611.64z" clip-path="url(#p4803c43e1a)" class="c28"/><path d="M916.2 611.64L928.44 611.64L928.44 611.64L916.2 611.64L916.2 611.64z" clip-path="url(#p4803c43e1a)" class="c28"/><path d="M928.44 611.64L939.96 611.64L939.96 611.64L928.44 611.64L928.44 611.64z" clip-path="url(#p4803c43e1a)" class="c28"/><path d="M939.96 611.64L952.2 611.64L952.2 611.64L939.96 611.64L939.96 611.64z" clip-path="url(#p4803c43e1a)" class="c28"/><path d="M952.2 611.64L963.72 611.64L963.72 611.64L952.2 611.64L952.2 611.64z" clip-path="url(#p4803c43e1a)" class="c28"/><path d="M963.72 611.64L975.96 611.64L975.96 611.64L963.72 611.64L963.72 611.64z" clip-path="url(#p4803c43e1a)" class="c28"/><path d="M975.96 611.64L988.2 611.64L988.2 611.64L975.96 611.64L975.96 611.64z" clip-path="url(#p4803c43e1a)" class="c28"/><path d="M988.2 611.64L999.72 611.64L999.72 611.64L988.2 611.64L988.2 611.64z" clip-path="url(#p4803c43e1a)" class="c28"/><path d="M999.72 611.64L1011.96 611.64L1011.96 611.64L999.72 611.64L999.72 611.64z" clip-path="url(#p4803c43e1a)" class="c28"/><path d="M1011.96 611.64L1023.48 611.64L1023.48 611.64L1011.96 611.64L1011.96 611.64z" clip-path="url(#p4803c43e1a)" class="c28"/><path d="M1023.48 611.64L1035.72 611.64L1035.72 611.64L1023.48 611.64L1023.48 611.64z" clip-path="url(#p4803c43e1a)" class="c28"/><path d="M1035.72 611.64L1047.24 611.64L1047.24 611.64L1035.72 611.64L1035.72 611.64z" clip-path="url(#p4803c43e1a)" class="c28"/><g><g><path d="M606.6 611.64L606.6 27" clip-path="url(#p4803c43e1a)" class="c9"/><use href="#m880bdcb491" x="606.6" y="611.64" class="c10"/><g transform="translate(-0.001241 0.1172)"><g transform="translate(594.93 626.36) scale(0.1 -0.1)"><use href="#DejaVuSans-30" transform="translate(0 0)"/><use href="#DejaVuSans-2e" transform="translate(63 0)"/><use href="#DejaVuSans-30" transform="translate(94.5 0)"/><use href="#DejaVuSans-30" transform="translate(157.5 0)"/></g></g></g><g><path d="M665.64 611.64L665.64 27" clip-path="url(#p4803c43e1a)" class="c9"/><use href="#m880bdcb491" x="665.64" y="611.64" class="c10"/><g transform="translate(0.1173 -0.01388)"><g transform="translate(653.94 626.36) scale(0.1 -0.1)"><use href="#DejaVuSans-30" transform="translate(0 0)"/><use href="#DejaVuSans-2e" transform="translate(63 0)"/><use href="#DejaVuSans-30" transform="translate(94.5 0)"/><use href="#DejaVuSans-35" transform="translate(157.5 0)"/></g></g></g><g><path d="M724.68 611.64L724.68 27" clip-path="url(#p4803c43e1a)" class="c9"/><use href="#m880bdcb491" x="724.68" y="611.64" class="c10"/><g transform="translate(0.1516 0.1115)"><g transform="translate(712.91 626.36) scale(0.1 -0.1)"><use href="#DejaVuSans-30" transform="translate(0 0)"/><use href="#DejaVuSans-2e" transform="translate(63 0)"/><use href="#DejaVuSans-31" transform="translate(94.5 0)"/><use href="#DejaVuSans-30" transform="translate(158.4 0)"/></g></g></g><g><path d="M783 611.64L783 27" clip-path="url(#p4803c43e1a)" class="c9"/><use href="#m880bdcb491" x="783" y="611.64" class="c10"/><g transform="translate(0.02332 0.07551)"><g transform="translate(771.93 626.36) scale(0.1 -0.1)"><use href="#DejaVuSans-30" transform="translate(0 0)"/><use href="#DejaVuSans-2e" transform="translate(63 0)"/><use href="#DejaVuSans-31" transform="translate(94.5 0)"/><use href="#DejaVuSans-35" transform="translate(158.4 0)"/></g></g></g><g><path d="M842.04 611.64L842.04 27" clip-path="url(#p4803c43e1a)" class="c9"/><use href="#m880bdcb491" x="842.04" y="611.64" class="c10"/><g transform="translate(0.1302 0.08079)"><g transform="translate(830.98 626.36) scale(0.1 -0.1)"><use href="#DejaVuSans-30" transform="translate(0 0)"/><use href="#DejaVuSans-2e" transform="translate(63 0)"/><use href="#DejaVuSans-32" transform="translate(94.5 0)"/><use href="#DejaVuSans-30" transform="translate(157.5 0)"/></g></g></g><g><path d="M901.08 611.64L901.08 27" clip-path="url(#p4803c43e1a)" class="c9"/><use href="#m880bdcb491" x="901.08" y="611.64" class="c10"/><g transform="translate(0.2503 -0.008707)"><g transform="translate(890 626.36) scale(0.1 -0.1)"><use href="#DejaVuSans-30" transform="translate(0 0)"/><use href="#DejaVuSans-2e" transform="translate(63 0)"/><use href="#DejaVuSans-32" transform="translate(94.5 0)"/><use href="#DejaVuSans-35" transform="translate(157.5 0)"/></g></g></g><g><path d="M960.12 611.64L960.12 27" clip-path="url(#p4803c43e1a)" class="c9"/><use href="#m880bdcb491" x="960.12" y="611.64" class="c10"/><g transform="translate(0.163 0.06942)"><g transform="translate(949.01 626.36) scale(0.1 -0.1)"><use href="#DejaVuSans-30" transform="translate(0 0)"/><use href="#DejaVuSans-2e" transform="translate(63 0)"/><use href="#DejaVuSans-33" transform="translate(94.5 0)"/><use href="#DejaVuSans-30" transform="translate(157.5 0)"/></g></g></g><g><path d="M1019.16 611.64L1019.16 27" clip-path="url(#p4803c43e1a)" class="c9"/><use href="#m880bdcb491" x="1019.16" y="611.64" class="c10"/><g transform="translate(0.07096 0.06261)"><g transform="translate(1008.03 626.36) scale(0.1 -0.1)"><use href="#DejaVuSans-30" transform="translate(0 0)"/><use href="#DejaVuSans-2e" transform="translate(63 0)"/><use href="#DejaVuSans-33" transform="translate(94.5 0)"/><use href="#DejaVuSans-35" transform="translate(157.5 0)"/></g></g></g><g transform="translate(-0.5604 0.2992)"><g transform="translate(812.28 640.44) scale(0.1 -0.1)"><use href="#DejaVuSans-41" transform="translate(0 0)"/><use href="#DejaVuSans-6c" transform="translate(68.4 0)"/><use href="#DejaVuSans-70" transform="translate(96.3 0)"/><use href="#DejaVuSans-68" transform="translate(160.2 0)"/><use href="#DejaVuSans-61" transform="translate(223.2 0)"/></g></g></g><g><g><path d="M584.28 611.64L1069.56 611.64" clip-path="url(#p4803c43e1a)" class="c9"/><use href="#m2df91f7dbd" x="584.28" y="611.64" class="c10"/><g transform="translate(0.05269 0.2195)"><g transform="translate(561.14 615.4) scale(0.1 -0.1)"><use href="#DejaVuSans-30" transform="translate(0 0)"/><use href="#DejaVuSans-2e" transform="translate(63 0)"/><use href="#DejaVuSans-30" transform="translate(94.5 0)"/></g></g></g><g><path d="M584.28 506.52L1069.56 506.52" clip-path="url(#p4803c43e1a)" class="c9"/><use href="#m2df91f7dbd" x="584.28" y="506.52" class="c10"/><g transform="translate(-0.02754 -0.1643)"><g transform="translate(561.14 509.94) scale(0.1 -0.1)"><use href="#DejaVuSans-30" transform="translate(0 0)"/><use href="#DejaVuSans-2e" transform="translate(63 0)"/><use href="#DejaVuSans-35" transform="translate(94.5 0)"/></g></g></g><g><path d="M584.28 400.68L1069.56 400.68" clip-path="url(#p4803c43e1a)" class="c9"/><use href="#m2df91f7dbd" x="584.28" y="400.68" class="c10"/><g transform="translate(0.1425 0.2429)"><g transform="translate(561.05 404.48) scale(0.1 -0.1)"><use href="#DejaVuSans-31" transform="translate(0 0)"/><use href="#DejaVuSans-2e" transform="translate(63.9 0)"/><use href="#DejaVuSans-30" transform="translate(95.4 0)"/></g></g></g><g><path d="M584.28 295.56L1069.56 295.56" clip-path="url(#p4803c43e1a)" class="c9"/><use href="#m2df91f7dbd" x="584.28" y="295.56" class="c10"/><g transform="translate(0.06833 -0.2282)"><g transform="translate(561.05 299.03) scale(0.1 -0.1)"><use href="#DejaVuSans-31" transform="translate(0 0)"/><use href="#DejaVuSans-2e" transform="translate(63.9 0)"/><use href="#DejaVuSans-35" transform="translate(95.4 0)"/></g></g></g><g><path d="M584.28 189.72L1069.56 189.72" clip-path="url(#p4803c43e1a)" class="c9"/><use href="#m2df91f7dbd" x="584.28" y="189.72" class="c10"/><g transform="translate(-0.2249 0.1321)"><g transform="translate(561.14 193.57) scale(0.1 -0.1)"><use href="#DejaVuSans-32" transform="translate(0 0)"/><use href="#DejaVuSans-2e" transform="translate(63 0)"/><use href="#DejaVuSans-30" transform="translate(94.5 0)"/></g></g></g><g><path d="M584.28 84.6L1069.56 84.6" clip-path="url(#p4803c43e1a)" class="c9"/><use href="#m2df91f7dbd" x="584.28" y="84.6" class="c10"/><g transform="translate(-0.2909 -0.2491)"><g transform="translate(561.14 88.11) scale(0.1 -0.1)"><use href="#DejaVuSans-32" transform="translate(0 0)"/><use href="#DejaVuSans-2e" transform="translate(63 0)"/><use href="#DejaVuSans-35" transform="translate(94.5 0)"/></g></g></g><g transform="translate(0.149 2.06)"><g transform="translate(554.89 338.15) rotate(-90) scale(0.1 -0.1)"><use href="#DejaVuSans-44" transform="translate(0 0)"/><use href="#DejaVuSans-65" transform="translate(77.4 0)"/><use href="#DejaVuSans-6e" transform="translate(138.6 0)"/><use href="#DejaVuSans-73" transform="translate(201.6 0)"/><use href="#DejaVuSans-69" transform="translate(252.9 0)"/><use href="#DejaVuSans-74" transform="translate(280.8 0)"/><use href="#DejaVuSans-79" transform="translate(320.4 0)"/></g></g></g><path d="M605.95 611.28L1022.75 611.28L1047.14 611.28L1047.14 611.28" clip-path="url(#p4803c43e1a)" class="c29"/><path d="M605.95 605.44L612.61 603.45L619.26 601.19L639.21 594.1L643.64 592.78L648.08 591.66L652.51 590.77L656.95 590.12L661.38 589.74L665.81 589.62L670.25 589.75L674.68 590.11L679.12 590.67L683.55 591.4L690.2 592.76L699.07 594.9L719.02 599.9L725.67 601.33L732.32 602.53L738.98 603.48L745.63 604.18L752.28 604.68L763.36 605.25L776.66 605.99L785.53 606.73L796.62 607.89L812.14 609.55L821 610.29L829.87 610.8L838.74 611.09L849.83 611.24L863.13 611.17L880.86 610.82L903.03 610.35L914.12 610.33L927.42 610.53L965.11 611.31L987.28 611.42L1047.14 611.44L1047.14 611.44" clip-path="url(#p4803c43e1a)" class="c30"/><path d="M605.95 587.03L610.39 584.36L614.82 581.91L619.26 579.74L623.69 577.86L628.12 576.27L632.56 574.94L639.21 573.29L656.95 569.3L663.6 567.51L681.33 562.5L685.77 561.54L690.2 560.82L694.63 560.41L699.07 560.31L703.5 560.54L707.94 561.06L712.37 561.83L719.02 563.28L734.54 566.95L741.19 568.28L750.06 569.76L763.36 571.89L770.01 573.2L776.66 574.8L783.32 576.74L789.97 578.98L796.62 581.48L821 591L827.66 593.23L834.31 595.19L840.96 596.87L847.61 598.31L856.48 599.95L876.43 603.25L903.03 607.6L911.9 608.79L920.77 609.74L929.64 610.43L938.51 610.88L949.59 611.19L962.89 611.32L978.41 611.25L996.15 610.92L1022.75 610.33L1033.84 610.31L1047.14 610.53L1047.14 610.53" clip-path="url(#p4803c43e1a)" class="c31"/><path d="M605.95 606.78L612.61 605.47L619.26 603.95L625.91 602.24L632.56 600.34L641.43 597.53L650.29 594.48L679.12 584.25L685.77 582.24L692.42 580.51L699.07 579.1L703.5 578.35L707.94 577.76L712.37 577.32L716.81 577.04L723.46 576.89L730.11 577.05L736.76 577.48L743.41 578.17L750.06 579.09L756.71 580.21L765.58 581.97L776.66 584.46L794.4 588.48L803.27 590.23L809.92 591.34L818.79 592.56L827.66 593.54L845.39 595.19L860.91 596.73L936.29 604.98L965.11 608.57L973.98 609.41L982.85 610.04L991.72 610.46L1000.58 610.67L1011.67 610.73L1033.84 610.54L1047.14 610.48L1047.14 610.48" clip-path="url(#p4803c43e1a)" class="c32"/><path d="M605.95 602.92L617.04 600.53L625.91 598.88L634.78 597.43L665.81 592.66L674.68 591.01L683.55 589.14L692.42 587.06L703.5 584.18L730.11 577.06L738.98 575.03L747.84 573.27L756.71 571.78L763.36 570.85L770.01 570.13L776.66 569.67L781.1 569.55L785.53 569.6L789.97 569.86L794.4 570.33L798.83 571.04L803.27 571.99L807.7 573.18L812.14 574.6L816.57 576.24L821 578.07L827.66 581.1L838.74 586.52L847.61 590.76L854.26 593.65L858.69 595.38L863.13 596.94L867.56 598.31L872 599.51L878.65 601.01L885.3 602.22L894.17 603.56L911.9 605.88L934.07 608.63L945.16 609.73L954.03 610.4L962.89 610.86L973.98 611.19L989.5 611.38L1018.32 611.44L1047.14 611.44L1047.14 611.44" clip-path="url(#p4803c43e1a)" class="c33"/><path d="M605.95 608.35L623.69 607.35L636.99 606.82L652.51 606.41L707.94 605.24L734.54 604.48L745.63 604.4L756.71 604.58L767.8 605.03L781.1 605.83L816.57 608.16L838.74 609.29L863.13 610.35L880.86 610.91L898.6 611.24L920.77 611.4L969.55 611.44L1047.14 611.44L1047.14 611.44" clip-path="url(#p4803c43e1a)" class="c34"/><path d="M605.95 354.68L608.17 321.29L610.39 289.87L612.61 261.41L614.82 236.64L617.04 215.99L619.26 199.64L621.47 187.51L623.69 179.38L625.91 174.92L628.12 173.77L630.34 175.6L632.56 180.14L634.78 187.12L636.99 196.32L639.21 207.46L641.43 220.24L643.64 234.3L654.73 308.21L656.95 320.83L659.16 332.11L661.38 342.04L663.6 350.71L665.81 358.32L668.03 365.11L672.46 377.4L676.9 389.59L681.33 402.83L685.77 417.23L699.07 461.84L705.72 483.13L712.37 503.8L716.81 516.84L719.02 522.97L721.24 528.74L723.46 534.11L725.67 539.06L727.89 543.59L730.11 547.72L732.32 551.49L734.54 554.97L738.98 561.31L743.41 567.09L747.84 572.37L750.06 574.74L752.28 576.86L754.49 578.68L756.71 580.17L758.93 581.31L761.15 582.12L763.36 582.62L765.58 582.88L767.8 582.94L774.45 582.69L778.88 582.63L783.32 582.89L787.75 583.54L789.97 584.02L792.18 584.62L794.4 585.35L796.62 586.23L798.83 587.25L801.05 588.44L803.27 589.77L807.7 592.8L816.57 599.32L821 602.21L825.44 604.63L829.87 606.59L834.31 608.13L838.74 609.29L843.18 610.08L847.61 610.52L852.04 610.61L856.48 610.42L863.13 609.78L869.78 609.17L874.21 609.02L878.65 609.17L883.08 609.56L894.17 610.77L900.82 611.19L907.47 611.37L920.77 611.44L1047.14 611.44L1047.14 611.44" clip-path="url(#p4803c43e1a)" class="c30"/><path d="M605.95 508.39L608.17 496.1L610.39 484.45L612.61 473.7L614.82 464.01L617.04 455.46L619.26 448.02L621.47 441.62L623.69 436.12L625.91 431.4L628.12 427.33L630.34 423.85L632.56 420.93L634.78 418.61L636.99 416.95L639.21 416.04L641.43 415.97L643.64 416.79L645.86 418.51L648.08 421.09L650.29 424.43L652.51 428.4L654.73 432.82L659.16 442.37L665.81 456.65L674.68 475.09L679.12 485.09L683.55 495.95L692.42 518.62L694.63 523.94L696.85 528.93L699.07 533.53L701.29 537.69L703.5 541.41L705.72 544.71L707.94 547.64L710.15 550.26L714.59 554.91L725.67 565.75L730.11 569.85L732.32 571.71L734.54 573.41L736.76 574.92L738.98 576.25L743.41 578.49L752.28 582.62L756.71 585.16L761.15 588.17L765.58 591.55L774.45 598.58L778.88 601.79L783.32 604.56L785.53 605.74L787.75 606.77L789.97 607.65L792.18 608.37L794.4 608.94L796.62 609.35L798.83 609.61L801.05 609.73L803.27 609.7L805.49 609.55L809.92 608.91L814.35 607.96L821 606.4L825.44 605.64L827.66 605.42L829.87 605.32L832.09 605.36L834.31 605.53L838.74 606.22L843.18 607.22L852.04 609.33L856.48 610.14L860.91 610.71L865.35 611.07L872 611.33L883.08 611.43L949.59 611.44L1047.14 611.44L1047.14 611.44" clip-path="url(#p4803c43e1a)" class="c31"/><path d="M605.95 532.3L617.04 488.52L621.47 472.49L623.69 465.16L625.91 458.36L628.12 452.12L630.34 446.47L632.56 441.41L634.78 436.92L636.99 432.98L639.21 429.54L641.43 426.57L643.64 423.99L645.86 421.75L648.08 419.79L650.29 418.05L654.73 414.94L661.38 410.41L665.81 406.96L668.03 405.03L670.25 402.93L672.46 400.66L676.9 395.65L681.33 390.17L687.98 381.78L690.2 379.16L692.42 376.75L694.63 374.61L696.85 372.81L699.07 371.43L701.29 370.51L703.5 370.1L705.72 370.26L707.94 371.01L710.15 372.35L712.37 374.3L714.59 376.83L716.81 379.92L719.02 383.54L721.24 387.62L723.46 392.11L725.67 396.95L730.11 407.35L741.19 434.16L745.63 443.94L750.06 452.77L754.49 460.65L758.93 467.77L763.36 474.37L776.66 493.4L783.32 502.78L787.75 508.74L792.18 514.27L796.62 519.32L801.05 523.95L816.57 539.43L821 544.38L827.66 552.31L836.52 563.06L840.96 568.11L845.39 572.79L849.83 577.05L854.26 580.9L858.69 584.36L863.13 587.47L867.56 590.22L872 592.62L876.43 594.65L880.86 596.31L885.3 597.61L889.73 598.61L896.38 599.78L905.25 601.25L911.9 602.59L931.86 607.06L938.51 608.09L945.16 608.85L956.24 609.8L969.55 610.71L978.41 611.1L989.5 611.35L1007.23 611.43L1047.14 611.44L1047.14 611.44" clip-path="url(#p4803c43e1a)" class="c29"/><path d="M605.95 436.26L612.61 352.3L614.82 325.8L617.04 300.89L619.26 277.87L621.47 256.92L623.69 238.11L625.91 221.47L628.12 206.94L630.34 194.44L632.56 183.88L634.78 175.09L636.99 167.89L639.21 162.05L641.43 157.31L643.64 153.41L645.86 150.13L648.08 147.29L650.29 144.82L652.51 142.71L654.73 141.06L656.95 140L659.16 139.67L661.38 140.21L663.6 141.7L665.81 144.15L668.03 147.48L670.25 151.57L672.46 156.26L676.9 166.69L685.77 188.77L690.2 200.2L696.85 218.27L701.29 230.25L703.5 235.9L705.72 241.21L707.94 246.17L712.37 255.3L716.81 264.43L719.02 269.41L721.24 274.8L723.46 280.61L732.32 304.8L734.54 309.86L736.76 314.1L738.98 317.46L741.19 320.03L743.41 322.05L745.63 323.89L747.84 325.97L750.06 328.79L752.28 332.79L754.49 338.3L756.71 345.53L758.93 354.5L761.15 365.05L763.36 376.86L772.23 427.83L774.45 439.3L776.66 449.66L778.88 458.8L781.1 466.73L783.32 473.54L785.53 479.42L787.75 484.59L792.18 493.73L796.62 502.69L798.83 507.46L801.05 512.51L805.49 523.4L812.14 540.38L814.35 545.74L816.57 550.78L818.79 555.42L821 559.6L823.22 563.33L825.44 566.62L827.66 569.49L829.87 572L832.09 574.22L834.31 576.19L838.74 579.66L845.39 584.28L854.26 590.13L858.69 592.83L863.13 595.22L867.56 597.22L872 598.82L876.43 600.06L880.86 601.01L887.52 602.1L894.17 603.27L898.6 604.33L903.03 605.66L911.9 608.54L916.34 609.69L920.77 610.5L925.2 611L929.64 611.25L936.29 611.4L954.03 611.44L1047.14 611.44L1047.14 611.44" clip-path="url(#p4803c43e1a)" class="c35"/><path d="M605.95 567.56L610.39 556.82L612.61 551.75L614.82 547.03L617.04 542.75L619.26 538.98L621.47 535.77L623.69 533.12L625.91 531.02L628.12 529.44L630.34 528.33L632.56 527.62L634.78 527.26L636.99 527.18L639.21 527.32L641.43 527.62L645.86 528.55L654.73 530.68L659.16 531.53L670.25 533.39L672.46 533.97L674.68 534.73L676.9 535.69L679.12 536.87L681.33 538.31L683.55 539.98L685.77 541.89L687.98 544L692.42 548.68L705.72 563.49L710.15 567.92L714.59 571.99L719.02 575.74L723.46 579.18L727.89 582.31L732.32 585.11L736.76 587.61L741.19 589.84L745.63 591.84L750.06 593.63L754.49 595.15L758.93 596.36L763.36 597.27L770.01 598.27L774.45 598.96L778.88 599.85L783.32 601.04L787.75 602.5L798.83 606.41L803.27 607.61L807.7 608.44L812.14 608.91L816.57 609.11L829.87 609.36L836.52 609.79L852.04 610.99L858.69 611.26L869.78 611.41L900.82 611.44L1047.14 611.44L1047.14 611.44" clip-path="url(#p4803c43e1a)" class="c36"/><path d="M605.95 514.99L610.39 495.34L612.61 486.47L614.82 478.5L617.04 471.6L619.26 465.86L621.47 461.32L623.69 457.98L625.91 455.77L628.12 454.59L630.34 454.32L632.56 454.81L634.78 455.9L636.99 457.45L639.21 459.32L643.64 463.62L656.95 477.4L663.6 484.58L668.03 489.63L672.46 494.97L676.9 500.64L681.33 506.75L685.77 513.41L690.2 520.69L694.63 528.52L705.72 548.8L710.15 556.25L712.37 559.69L714.59 562.9L716.81 565.89L719.02 568.64L721.24 571.17L723.46 573.48L725.67 575.59L727.89 577.5L730.11 579.25L732.32 580.83L736.76 583.59L741.19 585.92L745.63 587.97L752.28 590.76L758.93 593.32L763.36 594.82L767.8 596.08L772.23 597.05L776.66 597.74L792.18 599.77L796.62 600.65L803.27 602.23L812.14 604.34L816.57 605.19L821 605.85L827.66 606.59L838.74 607.76L860.91 610.46L865.35 610.69L869.78 610.76L876.43 610.59L885.3 610.04L891.95 609.65L898.6 609.52L905.25 609.71L914.12 610.3L925.2 611.01L934.07 611.3L947.37 611.43L1002.8 611.44L1047.14 611.44L1047.14 611.44" clip-path="url(#p4803c43e1a)" class="c33"/><path d="M605.95 557.06L614.82 540.39L619.26 532.5L623.69 525.11L628.12 518.34L632.56 512.2L636.99 506.7L641.43 501.79L645.86 497.44L650.29 493.59L654.73 490.2L659.16 487.27L663.6 484.76L668.03 482.68L672.46 481.05L674.68 480.41L676.9 479.89L679.12 479.51L681.33 479.26L683.55 479.15L685.77 479.19L687.98 479.39L690.2 479.74L692.42 480.25L694.63 480.93L696.85 481.77L699.07 482.77L701.29 483.93L703.5 485.23L707.94 488.26L712.37 491.76L716.81 495.6L723.46 501.73L732.32 509.94L736.76 513.83L741.19 517.5L745.63 520.95L750.06 524.16L756.71 528.66L781.1 544.54L789.97 550.82L801.05 558.67L807.7 563.06L812.14 565.75L816.57 568.22L821 570.47L825.44 572.5L829.87 574.33L836.52 576.77L843.18 578.91L852.04 581.47L867.56 585.62L903.03 594.87L914.12 597.56L922.99 599.51L931.86 601.21L940.72 602.66L949.59 603.9L960.68 605.21L973.98 606.53L1009.45 609.61L1020.54 610.42L1029.4 610.88L1040.49 611.22L1047.14 611.33L1047.14 611.33" clip-path="url(#p4803c43e1a)" class="c34"/><path d="M605.95 596.32L617.04 591.72L623.69 589.21L630.34 587L634.78 585.73L639.21 584.63L643.64 583.68L650.29 582.54L656.95 581.72L663.6 581.19L670.25 580.96L674.68 581L679.12 581.21L683.55 581.6L687.98 582.18L692.42 582.96L696.85 583.94L701.29 585.09L707.94 587.1L716.81 590.08L727.89 593.78L734.54 595.74L741.19 597.39L745.63 598.3L752.28 599.38L758.93 600.14L765.58 600.66L774.45 601.08L798.83 602.03L807.7 602.66L818.79 603.69L838.74 605.67L847.61 606.29L856.48 606.67L867.56 606.9L883.08 607.2L894.17 607.67L905.25 608.39L931.86 610.29L942.94 610.82L956.24 611.19L971.76 611.37L1000.58 611.44L1047.14 611.44L1047.14 611.44" clip-path="url(#p4803c43e1a)" class="c36"/><path d="M584.28 611.64L584.28 27" class="c11"/><path d="M1069.56 611.64L1069.56 27" class="c11"/><path d="M584.28 611.64L1069.56 611.64" class="c11"/><path d="M584.28 27L1069.56 27" class="c11"/><g transform="translate(0.8834 -0.3121)"><g transform="translate(708.42 20.88) scale(0.12 -0.12)"><use href="#DejaVuSans-50" transform="translate(0 0)"/><use href="#DejaVuSans-6f" transform="translate(57 0)"/><use href="#DejaVuSans-73" transform="translate(117.75 0)"/><use href="#DejaVuSans-69" transform="translate(170.25 0)"/><use href="#DejaVuSans-74" transform="translate(198 0)"/><use href="#DejaVuSans-69" transform="translate(237 0)"/><use href="#DejaVuSans-76" transform="translate(264.75 0)"/><use href="#DejaVuSans-65" transform="translate(324 0)"/><use href="#DejaVuSans-20" transform="translate(385.5 0)"/><use href="#DejaVuSans-41" transform="translate(417 0)"/><use href="#DejaVuSans-6c" transform="translate(485.25 0)"/><use href="#DejaVuSans-70" transform="translate(513 0)"/><use href="#DejaVuSans-68" transform="translate(576 0)"/><use href="#DejaVuSans-61" transform="translate(639 0)"/><use href="#DejaVuSans-20" transform="translate(699.75 0)"/><use href="#DejaVuSans-56" transform="translate(731.25 0)"/><use href="#DejaVuSans-61" transform="translate(792 0)"/><use href="#DejaVuSans-6c" transform="translate(852.75 0)"/><use href="#DejaVuSans-75" transform="translate(880.5 0)"/><use href="#DejaVuSans-65" transform="translate(943.5 0)"/><use href="#DejaVuSans-73" transform="translate(1005 0)"/><use href="#DejaVuSans-20" transform="translate(1057.5 0)"/><use href="#DejaVuSans-62" transform="translate(1089 0)"/><use href="#DejaVuSans-79" transform="translate(1152 0)"/><use href="#DejaVuSans-20" transform="translate(1211.25 0)"/><use href="#DejaVuSans-4d" transform="translate(1242.75 0)"/><use href="#DejaVuSans-6f" transform="translate(1329 0)"/><use href="#DejaVuSans-64" transform="translate(1389.75 0)"/><use href="#DejaVuSans-65" transform="translate(1452.75 0)"/><use href="#DejaVuSans-6c" transform="translate(1514.25 0)"/><use href="#DejaVuSans-20" transform="translate(1542 0)"/><use href="#DejaVuSans-43" transform="translate(1573.5 0)"/><use href="#DejaVuSans-6f" transform="translate(1642.5 0)"/><use href="#DejaVuSans-75" transform="translate(1703.25 0)"/><use href="#DejaVuSans-6e" transform="translate(1766.25 0)"/><use href="#DejaVuSans-74" transform="translate(1829.25 0)"/><use href="#DejaVuSans-72" transform="translate(1868.25 0)"/><use href="#DejaVuSans-79" transform="translate(1909.5 0)"/></g></g><g><path d="M987.28 261.08L1062.2 261.08Q1064.2 261.08 1064.2 259.08L1064.2 33.88Q1064.2 31.88 1062.2 31.88L987.28 31.88Q985.28 31.88 985.28 33.88L985.28 259.08Q985.28 261.08 987.28 261.08z" class="c12"/><g transform="translate(-0.3568 0.03503)"><g transform="translate(989.28 43.8) scale(0.1 -0.1)"><use href="#DejaVuSans-6d" transform="translate(0 0)"/><use href="#DejaVuSans-6f" transform="translate(97.2 0)"/><use href="#DejaVuSans-64" transform="translate(158.4 0)"/><use href="#DejaVuSans-65" transform="translate(222.3 0)"/><use href="#DejaVuSans-6c" transform="translate(283.5 0)"/><use href="#DejaVuSans-43" transform="translate(311.4 0)"/><use href="#DejaVuSans-6f" transform="translate(381.6 0)"/><use href="#DejaVuSans-75" transform="translate(442.8 0)"/><use href="#DejaVuSans-6e" transform="translate(505.8 0)"/><use href="#DejaVuSans-74" transform="translate(568.8 0)"/><use href="#DejaVuSans-72" transform="translate(608.4 0)"/><use href="#DejaVuSans-79" transform="translate(649.8 0)"/></g></g><path d="M1003.32 59.4L1022.76 59.4L1022.76 52.2L1003.32 52.2L1003.32 59.4z" class="c28"/><g transform="translate(-0.01728 0.1886)"><g transform="translate(1030.73 58.88) scale(0.1 -0.1)"><use href="#DejaVuSans-4d" transform="translate(0 0)"/><use href="#DejaVuSans-59" transform="translate(86.4 0)"/></g></g><path d="M1003.32 74.52L1022.76 74.52L1022.76 67.32L1003.32 67.32L1003.32 74.52z" class="c26"/><g transform="translate(-0.06364 0.2608)"><g transform="translate(1030.73 73.96) scale(0.1 -0.1)"><use href="#DejaVuSans-58" transform="translate(0 0)"/><use href="#DejaVuSans-48" transform="translate(68.4 0)"/></g></g><path d="M1003.32 89.64L1022.76 89.64L1022.76 82.44L1003.32 82.44L1003.32 89.64z" class="c25"/><g transform="translate(-0.1885 0.2714)"><g transform="translate(1030.73 89.04) scale(0.1 -0.1)"><use href="#DejaVuSans-49" transform="translate(0 0)"/><use href="#DejaVuSans-4e" transform="translate(28.8 0)"/></g></g><path d="M1003.32 104.76L1022.76 104.76L1022.76 97.56L1003.32 97.56L1003.32 104.76z" class="c28"/><g transform="translate(0.007477 0.3026)"><g transform="translate(1030.73 104.12) scale(0.1 -0.1)"><use href="#DejaVuSans-41" transform="translate(0 0)"/><use href="#DejaVuSans-55" transform="translate(68.4 0)"/></g></g><path d="M1003.32 119.88L1022.76 119.88L1022.76 112.68L1003.32 112.68L1003.32 119.88z" class="c27"/><g transform="translate(-0.08006 0.4166)"><g transform="translate(1030.73 119.2) scale(0.1 -0.1)"><use href="#DejaVuSans-4a" transform="translate(0 0)"/><use href="#DejaVuSans-50" transform="translate(28.8 0)"/></g></g><path d="M1003.32 135L1022.76 135L1022.76 127.8L1003.32 127.8L1003.32 135z" class="c21"/><g transform="translate(0.3983 -0.2991)"><g transform="translate(1030.73 134.28) scale(0.1 -0.1)"><use href="#DejaVuSans-54" transform="translate(0 0)"/><use href="#DejaVuSans-57" transform="translate(61.2 0)"/></g></g><path d="M1003.32 149.4L1022.76 149.4L1022.76 142.92L1003.32 142.92L1003.32 149.4z" class="c23"/><g transform="translate(-0.1232 -0.2726)"><g transform="translate(1030.73 149.36) scale(0.1 -0.1)"><use href="#DejaVuSans-4b" transform="translate(0 0)"/><use href="#DejaVuSans-52" transform="translate(64.8 0)"/></g></g><path d="M1003.32 164.52L1022.76 164.52L1022.76 158.04L1003.32 158.04L1003.32 164.52z" class="c22"/><g transform="translate(-0.08083 -0.1921)"><g transform="translate(1030.73 164.44) scale(0.1 -0.1)"><use href="#DejaVuSans-43" transform="translate(0 0)"/><use href="#DejaVuSans-4e" transform="translate(70.2 0)"/></g></g><path d="M1003.32 179.64L1022.76 179.64L1022.76 173.16L1003.32 173.16L1003.32 179.64z" class="c26"/><g transform="translate(-0.1328 -0.2388)"><g transform="translate(1030.73 179.52) scale(0.1 -0.1)"><use href="#DejaVuSans-50" transform="translate(0 0)"/><use href="#DejaVuSans-48" transform="translate(60.3 0)"/></g></g><path d="M1003.32 194.76L1022.76 194.76L1022.76 188.28L1003.32 188.28L1003.32 194.76z" class="c25"/><g transform="translate(-0.09424 -0.1643)"><g transform="translate(1030.73 194.6) scale(0.1 -0.1)"><use href="#DejaVuSans-49" transform="translate(0 0)"/><use href="#DejaVuSans-44" transform="translate(28.8 0)"/></g></g><path d="M1003.32 209.88L1022.76 209.88L1022.76 203.4L1003.32 203.4L1003.32 209.88z" class="c24"/><g transform="translate(0.4072 -0.1197)"><g transform="translate(1030.73 209.68) scale(0.1 -0.1)"><use href="#DejaVuSans-54" transform="translate(0 0)"/><use href="#DejaVuSans-48" transform="translate(61.2 0)"/></g></g><path d="M1003.32 225L1022.76 225L1022.76 217.8L1003.32 217.8L1003.32 225z" class="c23"/><g transform="translate(-0.0009541 -0.09012)"><g transform="translate(1030.73 224.76) scale(0.1 -0.1)"><use href="#DejaVuSans-48" transform="translate(0 0)"/><use href="#DejaVuSans-4b" transform="translate(74.7 0)"/></g></g><path d="M1003.32 240.12L1022.76 240.12L1022.76 232.92L1003.32 232.92L1003.32 240.12z" class="c22"/><g transform="translate(-0.0645 0.0107)"><g transform="translate(1030.73 239.84) scale(0.1 -0.1)"><use href="#DejaVuSans-53" transform="translate(0 0)"/><use href="#DejaVuSans-47" transform="translate(63 0)"/></g></g><path d="M1003.32 255.24L1022.76 255.24L1022.76 248.04L1003.32 248.04L1003.32 255.24z" class="c21"/><g transform="translate(-0.01674 -0.01776)"><g transform="translate(1030.73 254.92) scale(0.1 -0.1)"><use href="#DejaVuSans-4e" transform="translate(0 0)"/><use href="#DejaVuSans-5a" transform="translate(74.7 0)"/></g></g></g></g><g><path d="M51.12 1254.24L536.4 1254.24L536.4 669.6L51.12 669.6z" class="c0"/><path d="M73.08 1254.6L83.88 1254.6L83.88 1254.6L73.08 1254.6z" clip-path="url(#p4daa3f0c5f)" class="c37"/><path d="M83.88 1254.6L93.96 1254.6L93.96 1254.6L83.88 1254.6z" clip-path="url(#p4daa3f0c5f)" class="c37"/><path d="M93.96 1254.6L104.04 1254.6L104.04 1254.6L93.96 1254.6z" clip-path="url(#p4daa3f0c5f)" class="c37"/><path d="M104.04 1254.6L114.12 1254.6L114.12 1254.6L104.04 1254.6z" clip-path="url(#p4daa3f0c5f)" class="c37"/><path d="M114.12 1254.6L124.92 1254.6L124.92 1254.6L114.12 1254.6z" clip-path="url(#p4daa3f0c5f)" class="c37"/><path d="M124.92 1254.6L135 1254.6L135 1254.6L124.92 1254.6z" clip-path="url(#p4daa3f0c5f)" class="c37"/><path d="M135 1254.6L145.08 1254.6L145.08 1254.6L135 1254.6z" clip-path="url(#p4daa3f0c5f)" class="c37"/><path d="M145.08 1254.6L155.16 1254.6L155.16 1254.6L145.08 1254.6z" clip-path="url(#p4daa3f0c5f)" class="c37"/><path d="M155.16 1254.6L165.96 1254.6L165.96 1254.6L155.16 1254.6z" clip-path="url(#p4daa3f0c5f)" class="c37"/><path d="M165.96 1254.6L176.04 1254.6L176.04 1254.6L165.96 1254.6z" clip-path="url(#p4daa3f0c5f)" class="c37"/><path d="M176.04 1254.6L186.12 1254.6L186.12 1254.6L176.04 1254.6z" clip-path="url(#p4daa3f0c5f)" class="c37"/><path d="M186.12 1254.6L196.2 1254.6L196.2 1254.6L186.12 1254.6z" clip-path="url(#p4daa3f0c5f)" class="c37"/><path d="M196.2 1254.6L207 1254.6L207 1254.6L196.2 1254.6z" clip-path="url(#p4daa3f0c5f)" class="c37"/><path d="M207 1254.6L217.08 1254.6L217.08 1254.6L207 1254.6z" clip-path="url(#p4daa3f0c5f)" class="c37"/><path d="M217.08 1254.6L227.16 1254.6L227.16 1254.6L217.08 1254.6z" clip-path="url(#p4daa3f0c5f)" class="c37"/><path d="M227.16 1254.6L237.24 1254.6L237.24 1254.6L227.16 1254.6z" clip-path="url(#p4daa3f0c5f)" class="c37"/><path d="M237.24 1254.6L248.04 1254.6L248.04 1254.6L237.24 1254.6z" clip-path="url(#p4daa3f0c5f)" class="c37"/><path d="M248.04 1254.6L258.12 1254.6L258.12 1254.6L248.04 1254.6z" clip-path="url(#p4daa3f0c5f)" class="c37"/><path d="M258.12 1254.6L268.2 1254.6L268.2 1254.6L258.12 1254.6z" clip-path="url(#p4daa3f0c5f)" class="c37"/><path d="M268.2 1254.6L278.28 1254.6L278.28 1254.6L268.2 1254.6z" clip-path="url(#p4daa3f0c5f)" class="c37"/><path d="M278.28 1254.6L289.08 1254.6L289.08 1254.6L278.28 1254.6z" clip-path="url(#p4daa3f0c5f)" class="c37"/><path d="M289.08 1254.6L299.16 1254.6L299.16 1254.6L289.08 1254.6z" clip-path="url(#p4daa3f0c5f)" class="c37"/><path d="M299.16 1254.6L309.24 1254.6L309.24 1254.6L299.16 1254.6z" clip-path="url(#p4daa3f0c5f)" class="c37"/><path d="M309.24 1254.6L319.32 1254.6L319.32 1254.6L309.24 1254.6z" clip-path="url(#p4daa3f0c5f)" class="c37"/><path d="M319.32 1254.6L330.12 1254.6L330.12 1254.6L319.32 1254.6z" clip-path="url(#p4daa3f0c5f)" class="c37"/><path d="M330.12 1254.6L340.2 1254.6L340.2 1254.6L330.12 1254.6z" clip-path="url(#p4daa3f0c5f)" class="c37"/><path d="M340.2 1254.6L350.28 1254.6L350.28 1254.6L340.2 1254.6z" clip-path="url(#p4daa3f0c5f)" class="c37"/><path d="M350.28 1254.6L360.36 1254.6L360.36 1254.6L350.28 1254.6z" clip-path="url(#p4daa3f0c5f)" class="c37"/><path d="M360.36 1254.6L371.16 1254.6L371.16 1254.6L360.36 1254.6z" clip-path="url(#p4daa3f0c5f)" class="c37"/><path d="M371.16 1254.6L381.24 1254.6L381.24 1254.6L371.16 1254.6z" clip-path="url(#p4daa3f0c5f)" class="c37"/><path d="M381.24 1254.6L391.32 1254.6L391.32 1254.6L381.24 1254.6z" clip-path="url(#p4daa3f0c5f)" class="c37"/><path d="M391.32 1254.6L401.4 1254.6L401.4 1254.6L391.32 1254.6z" clip-path="url(#p4daa3f0c5f)" class="c37"/><path d="M401.4 1254.6L412.2 1254.6L412.2 1254.6L401.4 1254.6z" clip-path="url(#p4daa3f0c5f)" class="c37"/><path d="M412.2 1254.6L422.28 1254.6L422.28 1254.6L412.2 1254.6z" clip-path="url(#p4daa3f0c5f)" class="c37"/><path d="M422.28 1254.6L432.36 1254.6L432.36 1253.16L422.28 1253.16z" clip-path="url(#p4daa3f0c5f)" class="c37"/><path d="M432.36 1254.6L442.44 1254.6L442.44 1254.6L432.36 1254.6z" clip-path="url(#p4daa3f0c5f)" class="c37"/><path d="M442.44 1254.6L453.24 1254.6L453.24 1254.6L442.44 1254.6z" clip-path="url(#p4daa3f0c5f)" class="c37"/><path d="M453.24 1254.6L463.32 1254.6L463.32 1254.6L453.24 1254.6z" clip-path="url(#p4daa3f0c5f)" class="c37"/><path d="M463.32 1254.6L473.4 1254.6L473.4 1254.6L463.32 1254.6z" clip-path="url(#p4daa3f0c5f)" class="c37"/><path d="M473.4 1254.6L483.48 1254.6L483.48 1254.6L473.4 1254.6z" clip-path="url(#p4daa3f0c5f)" class="c37"/><path d="M483.48 1254.6L494.28 1254.6L494.28 1254.6L483.48 1254.6z" clip-path="url(#p4daa3f0c5f)" class="c37"/><path d="M494.28 1254.6L504.36 1254.6L504.36 1254.6L494.28 1254.6z" clip-path="url(#p4daa3f0c5f)" class="c37"/><path d="M504.36 1254.6L514.44 1254.6L514.44 1253.16L504.36 1253.16z" clip-path="url(#p4daa3f0c5f)" class="c37"/><path d="M73.08 1254.6L83.88 1254.6L83.88 1254.6L73.08 1254.6z" clip-path="url(#p4daa3f0c5f)" class="c38"/><path d="M83.88 1254.6L93.96 1254.6L93.96 1254.6L83.88 1254.6z" clip-path="url(#p4daa3f0c5f)" class="c38"/><path d="M93.96 1254.6L104.04 1254.6L104.04 1254.6L93.96 1254.6z" clip-path="url(#p4daa3f0c5f)" class="c38"/><path d="M104.04 1254.6L114.12 1254.6L114.12 1254.6L104.04 1254.6z" clip-path="url(#p4daa3f0c5f)" class="c38"/><path d="M114.12 1254.6L124.92 1254.6L124.92 1254.6L114.12 1254.6z" clip-path="url(#p4daa3f0c5f)" class="c38"/><path d="M124.92 1254.6L135 1254.6L135 1254.6L124.92 1254.6z" clip-path="url(#p4daa3f0c5f)" class="c38"/><path d="M135 1254.6L145.08 1254.6L145.08 1254.6L135 1254.6z" clip-path="url(#p4daa3f0c5f)" class="c38"/><path d="M145.08 1254.6L155.16 1254.6L155.16 1254.6L145.08 1254.6z" clip-path="url(#p4daa3f0c5f)" class="c38"/><path d="M155.16 1254.6L165.96 1254.6L165.96 1254.6L155.16 1254.6z" clip-path="url(#p4daa3f0c5f)" class="c38"/><path d="M165.96 1254.6L176.04 1254.6L176.04 1254.6L165.96 1254.6z" clip-path="url(#p4daa3f0c5f)" class="c38"/><path d="M176.04 1254.6L186.12 1254.6L186.12 1254.6L176.04 1254.6z" clip-path="url(#p4daa3f0c5f)" class="c38"/><path d="M186.12 1254.6L196.2 1254.6L196.2 1254.6L186.12 1254.6z" clip-path="url(#p4daa3f0c5f)" class="c38"/><path d="M196.2 1254.6L207 1254.6L207 1254.6L196.2 1254.6z" clip-path="url(#p4daa3f0c5f)" class="c38"/><path d="M207 1254.6L217.08 1254.6L217.08 1254.6L207 1254.6z" clip-path="url(#p4daa3f0c5f)" class="c38"/><path d="M217.08 1254.6L227.16 1254.6L227.16 1254.6L217.08 1254.6z" clip-path="url(#p4daa3f0c5f)" class="c38"/><path d="M227.16 1254.6L237.24 1254.6L237.24 1254.6L227.16 1254.6z" clip-path="url(#p4daa3f0c5f)" class="c38"/><path d="M237.24 1254.6L248.04 1254.6L248.04 1254.6L237.24 1254.6z" clip-path="url(#p4daa3f0c5f)" class="c38"/><path d="M248.04 1254.6L258.12 1254.6L258.12 1254.6L248.04 1254.6z" clip-path="url(#p4daa3f0c5f)" class="c38"/><path d="M258.12 1254.6L268.2 1254.6L268.2 1254.6L258.12 1254.6z" clip-path="url(#p4daa3f0c5f)" class="c38"/><path d="M268.2 1254.6L278.28 1254.6L278.28 1254.6L268.2 1254.6z" clip-path="url(#p4daa3f0c5f)" class="c38"/><path d="M278.28 1254.6L289.08 1254.6L289.08 1254.6L278.28 1254.6z" clip-path="url(#p4daa3f0c5f)" class="c38"/><path d="M289.08 1254.6L299.16 1254.6L299.16 1254.6L289.08 1254.6z" clip-path="url(#p4daa3f0c5f)" class="c38"/><path d="M299.16 1254.6L309.24 1254.6L309.24 1254.6L299.16 1254.6z" clip-path="url(#p4daa3f0c5f)" class="c38"/><path d="M309.24 1254.6L319.32 1254.6L319.32 1254.6L309.24 1254.6z" clip-path="url(#p4daa3f0c5f)" class="c38"/><path d="M319.32 1254.6L330.12 1254.6L330.12 1254.6L319.32 1254.6z" clip-path="url(#p4daa3f0c5f)" class="c38"/><path d="M330.12 1254.6L340.2 1254.6L340.2 1254.6L330.12 1254.6z" clip-path="url(#p4daa3f0c5f)" class="c38"/><path d="M340.2 1254.6L350.28 1254.6L350.28 1254.6L340.2 1254.6z" clip-path="url(#p4daa3f0c5f)" class="c38"/><path d="M350.28 1254.6L360.36 1254.6L360.36 1254.6L350.28 1254.6z" clip-path="url(#p4daa3f0c5f)" class="c38"/><path d="M360.36 1254.6L371.16 1254.6L371.16 1254.6L360.36 1254.6z" clip-path="url(#p4daa3f0c5f)" class="c38"/><path d="M371.16 1254.6L381.24 1254.6L381.24 1254.6L371.16 1254.6z" clip-path="url(#p4daa3f0c5f)" class="c38"/><path d="M381.24 1254.6L391.32 1254.6L391.32 1254.6L381.24 1254.6z" clip-path="url(#p4daa3f0c5f)" class="c38"/><path d="M391.32 1254.6L401.4 1254.6L401.4 1254.6L391.32 1254.6z" clip-path="url(#p4daa3f0c5f)" class="c38"/><path d="M401.4 1254.6L412.2 1254.6L412.2 1253.16L401.4 1253.16z" clip-path="url(#p4daa3f0c5f)" class="c38"/><path d="M412.2 1254.6L422.28 1254.6L422.28 1254.6L412.2 1254.6z" clip-path="url(#p4daa3f0c5f)" class="c38"/><path d="M422.28 1253.16L432.36 1253.16L432.36 1253.16L422.28 1253.16z" clip-path="url(#p4daa3f0c5f)" class="c38"/><path d="M432.36 1254.6L442.44 1254.6L442.44 1254.6L432.36 1254.6z" clip-path="url(#p4daa3f0c5f)" class="c38"/><path d="M442.44 1254.6L453.24 1254.6L453.24 1254.6L442.44 1254.6z" clip-path="url(#p4daa3f0c5f)" class="c38"/><path d="M453.24 1254.6L463.32 1254.6L463.32 1253.16L453.24 1253.16z" clip-path="url(#p4daa3f0c5f)" class="c38"/><path d="M463.32 1254.6L473.4 1254.6L473.4 1254.6L463.32 1254.6z" clip-path="url(#p4daa3f0c5f)" class="c38"/><path d="M473.4 1254.6L483.48 1254.6L483.48 1251.72L473.4 1251.72z" clip-path="url(#p4daa3f0c5f)" class="c38"/><path d="M483.48 1254.6L494.28 1254.6L494.28 1254.6L483.48 1254.6z" clip-path="url(#p4daa3f0c5f)" class="c38"/><path d="M494.28 1254.6L504.36 1254.6L504.36 1251.72L494.28 1251.72z" clip-path="url(#p4daa3f0c5f)" class="c38"/><path d="M504.36 1253.16L514.44 1253.16L514.44 1251.72L504.36 1251.72z" clip-path="url(#p4daa3f0c5f)" class="c38"/><path d="M73.08 1254.6L83.88 1254.6L83.88 1254.6L73.08 1254.6z" clip-path="url(#p4daa3f0c5f)" class="c39"/><path d="M83.88 1254.6L93.96 1254.6L93.96 1254.6L83.88 1254.6z" clip-path="url(#p4daa3f0c5f)" class="c39"/><path d="M93.96 1254.6L104.04 1254.6L104.04 1254.6L93.96 1254.6z" clip-path="url(#p4daa3f0c5f)" class="c39"/><path d="M104.04 1254.6L114.12 1254.6L114.12 1254.6L104.04 1254.6z" clip-path="url(#p4daa3f0c5f)" class="c39"/><path d="M114.12 1254.6L124.92 1254.6L124.92 1254.6L114.12 1254.6z" clip-path="url(#p4daa3f0c5f)" class="c39"/><path d="M124.92 1254.6L135 1254.6L135 1254.6L124.92 1254.6z" clip-path="url(#p4daa3f0c5f)" class="c39"/><path d="M135 1254.6L145.08 1254.6L145.08 1254.6L135 1254.6z" clip-path="url(#p4daa3f0c5f)" class="c39"/><path d="M145.08 1254.6L155.16 1254.6L155.16 1254.6L145.08 1254.6z" clip-path="url(#p4daa3f0c5f)" class="c39"/><path d="M155.16 1254.6L165.96 1254.6L165.96 1254.6L155.16 1254.6z" clip-path="url(#p4daa3f0c5f)" class="c39"/><path d="M165.96 1254.6L176.04 1254.6L176.04 1254.6L165.96 1254.6z" clip-path="url(#p4daa3f0c5f)" class="c39"/><path d="M176.04 1254.6L186.12 1254.6L186.12 1254.6L176.04 1254.6z" clip-path="url(#p4daa3f0c5f)" class="c39"/><path d="M186.12 1254.6L196.2 1254.6L196.2 1254.6L186.12 1254.6z" clip-path="url(#p4daa3f0c5f)" class="c39"/><path d="M196.2 1254.6L207 1254.6L207 1254.6L196.2 1254.6z" clip-path="url(#p4daa3f0c5f)" class="c39"/><path d="M207 1254.6L217.08 1254.6L217.08 1254.6L207 1254.6z" clip-path="url(#p4daa3f0c5f)" class="c39"/><path d="M217.08 1254.6L227.16 1254.6L227.16 1254.6L217.08 1254.6z" clip-path="url(#p4daa3f0c5f)" class="c39"/><path d="M227.16 1254.6L237.24 1254.6L237.24 1254.6L227.16 1254.6z" clip-path="url(#p4daa3f0c5f)" class="c39"/><path d="M237.24 1254.6L248.04 1254.6L248.04 1254.6L237.24 1254.6z" clip-path="url(#p4daa3f0c5f)" class="c39"/><path d="M248.04 1254.6L258.12 1254.6L258.12 1254.6L248.04 1254.6z" clip-path="url(#p4daa3f0c5f)" class="c39"/><path d="M258.12 1254.6L268.2 1254.6L268.2 1254.6L258.12 1254.6z" clip-path="url(#p4daa3f0c5f)" class="c39"/><path d="M268.2 1254.6L278.28 1254.6L278.28 1254.6L268.2 1254.6z" clip-path="url(#p4daa3f0c5f)" class="c39"/><path d="M278.28 1254.6L289.08 1254.6L289.08 1254.6L278.28 1254.6z" clip-path="url(#p4daa3f0c5f)" class="c39"/><path d="M289.08 1254.6L299.16 1254.6L299.16 1254.6L289.08 1254.6z" clip-path="url(#p4daa3f0c5f)" class="c39"/><path d="M299.16 1254.6L309.24 1254.6L309.24 1254.6L299.16 1254.6z" clip-path="url(#p4daa3f0c5f)" class="c39"/><path d="M309.24 1254.6L319.32 1254.6L319.32 1254.6L309.24 1254.6z" clip-path="url(#p4daa3f0c5f)" class="c39"/><path d="M319.32 1254.6L330.12 1254.6L330.12 1254.6L319.32 1254.6z" clip-path="url(#p4daa3f0c5f)" class="c39"/><path d="M330.12 1254.6L340.2 1254.6L340.2 1254.6L330.12 1254.6z" clip-path="url(#p4daa3f0c5f)" class="c39"/><path d="M340.2 1254.6L350.28 1254.6L350.28 1254.6L340.2 1254.6z" clip-path="url(#p4daa3f0c5f)" class="c39"/><path d="M350.28 1254.6L360.36 1254.6L360.36 1254.6L350.28 1254.6z" clip-path="url(#p4daa3f0c5f)" class="c39"/><path d="M360.36 1254.6L371.16 1254.6L371.16 1254.6L360.36 1254.6z" clip-path="url(#p4daa3f0c5f)" class="c39"/><path d="M371.16 1254.6L381.24 1254.6L381.24 1254.6L371.16 1254.6z" clip-path="url(#p4daa3f0c5f)" class="c39"/><path d="M381.24 1254.6L391.32 1254.6L391.32 1254.6L381.24 1254.6z" clip-path="url(#p4daa3f0c5f)" class="c39"/><path d="M391.32 1254.6L401.4 1254.6L401.4 1254.6L391.32 1254.6z" clip-path="url(#p4daa3f0c5f)" class="c39"/><path d="M401.4 1253.16L412.2 1253.16L412.2 1251.72L401.4 1251.72z" clip-path="url(#p4daa3f0c5f)" class="c39"/><path d="M412.2 1254.6L422.28 1254.6L422.28 1251.72L412.2 1251.72z" clip-path="url(#p4daa3f0c5f)" class="c39"/><path d="M422.28 1253.16L432.36 1253.16L432.36 1253.16L422.28 1253.16z" clip-path="url(#p4daa3f0c5f)" class="c39"/><path d="M432.36 1254.6L442.44 1254.6L442.44 1253.16L432.36 1253.16z" clip-path="url(#p4daa3f0c5f)" class="c39"/><path d="M442.44 1254.6L453.24 1254.6L453.24 1253.16L442.44 1253.16z" clip-path="url(#p4daa3f0c5f)" class="c39"/><path d="M453.24 1253.16L463.32 1253.16L463.32 1248.84L453.24 1248.84z" clip-path="url(#p4daa3f0c5f)" class="c39"/><path d="M463.32 1254.6L473.4 1254.6L473.4 1253.16L463.32 1253.16z" clip-path="url(#p4daa3f0c5f)" class="c39"/><path d="M473.4 1251.72L483.48 1251.72L483.48 1244.52L473.4 1244.52z" clip-path="url(#p4daa3f0c5f)" class="c39"/><path d="M483.48 1254.6L494.28 1254.6L494.28 1251.72L483.48 1251.72z" clip-path="url(#p4daa3f0c5f)" class="c39"/><path d="M494.28 1251.72L504.36 1251.72L504.36 1250.28L494.28 1250.28z" clip-path="url(#p4daa3f0c5f)" class="c39"/><path d="M504.36 1251.72L514.44 1251.72L514.44 1237.32L504.36 1237.32z" clip-path="url(#p4daa3f0c5f)" class="c39"/><path d="M73.08 1254.6L83.88 1254.6L83.88 1254.6L73.08 1254.6z" clip-path="url(#p4daa3f0c5f)" class="c40"/><path d="M83.88 1254.6L93.96 1254.6L93.96 1254.6L83.88 1254.6z" clip-path="url(#p4daa3f0c5f)" class="c40"/><path d="M93.96 1254.6L104.04 1254.6L104.04 1254.6L93.96 1254.6z" clip-path="url(#p4daa3f0c5f)" class="c40"/><path d="M104.04 1254.6L114.12 1254.6L114.12 1254.6L104.04 1254.6z" clip-path="url(#p4daa3f0c5f)" class="c40"/><path d="M114.12 1254.6L124.92 1254.6L124.92 1254.6L114.12 1254.6z" clip-path="url(#p4daa3f0c5f)" class="c40"/><path d="M124.92 1254.6L135 1254.6L135 1254.6L124.92 1254.6z" clip-path="url(#p4daa3f0c5f)" class="c40"/><path d="M135 1254.6L145.08 1254.6L145.08 1254.6L135 1254.6z" clip-path="url(#p4daa3f0c5f)" class="c40"/><path d="M145.08 1254.6L155.16 1254.6L155.16 1254.6L145.08 1254.6z" clip-path="url(#p4daa3f0c5f)" class="c40"/><path d="M155.16 1254.6L165.96 1254.6L165.96 1254.6L155.16 1254.6z" clip-path="url(#p4daa3f0c5f)" class="c40"/><path d="M165.96 1254.6L176.04 1254.6L176.04 1254.6L165.96 1254.6z" clip-path="url(#p4daa3f0c5f)" class="c40"/><path d="M176.04 1254.6L186.12 1254.6L186.12 1254.6L176.04 1254.6z" clip-path="url(#p4daa3f0c5f)" class="c40"/><path d="M186.12 1254.6L196.2 1254.6L196.2 1254.6L186.12 1254.6z" clip-path="url(#p4daa3f0c5f)" class="c40"/><path d="M196.2 1254.6L207 1254.6L207 1254.6L196.2 1254.6z" clip-path="url(#p4daa3f0c5f)" class="c40"/><path d="M207 1254.6L217.08 1254.6L217.08 1254.6L207 1254.6z" clip-path="url(#p4daa3f0c5f)" class="c40"/><path d="M217.08 1254.6L227.16 1254.6L227.16 1254.6L217.08 1254.6z" clip-path="url(#p4daa3f0c5f)" class="c40"/><path d="M227.16 1254.6L237.24 1254.6L237.24 1254.6L227.16 1254.6z" clip-path="url(#p4daa3f0c5f)" class="c40"/><path d="M237.24 1254.6L248.04 1254.6L248.04 1254.6L237.24 1254.6z" clip-path="url(#p4daa3f0c5f)" class="c40"/><path d="M248.04 1254.6L258.12 1254.6L258.12 1254.6L248.04 1254.6z" clip-path="url(#p4daa3f0c5f)" class="c40"/><path d="M258.12 1254.6L268.2 1254.6L268.2 1254.6L258.12 1254.6z" clip-path="url(#p4daa3f0c5f)" class="c40"/><path d="M268.2 1254.6L278.28 1254.6L278.28 1254.6L268.2 1254.6z" clip-path="url(#p4daa3f0c5f)" class="c40"/><path d="M278.28 1254.6L289.08 1254.6L289.08 1254.6L278.28 1254.6z" clip-path="url(#p4daa3f0c5f)" class="c40"/><path d="M289.08 1254.6L299.16 1254.6L299.16 1254.6L289.08 1254.6z" clip-path="url(#p4daa3f0c5f)" class="c40"/><path d="M299.16 1254.6L309.24 1254.6L309.24 1254.6L299.16 1254.6z" clip-path="url(#p4daa3f0c5f)" class="c40"/><path d="M309.24 1254.6L319.32 1254.6L319.32 1254.6L309.24 1254.6z" clip-path="url(#p4daa3f0c5f)" class="c40"/><path d="M319.32 1254.6L330.12 1254.6L330.12 1254.6L319.32 1254.6z" clip-path="url(#p4daa3f0c5f)" class="c40"/><path d="M330.12 1254.6L340.2 1254.6L340.2 1254.6L330.12 1254.6z" clip-path="url(#p4daa3f0c5f)" class="c40"/><path d="M340.2 1254.6L350.28 1254.6L350.28 1254.6L340.2 1254.6z" clip-path="url(#p4daa3f0c5f)" class="c40"/><path d="M350.28 1254.6L360.36 1254.6L360.36 1250.28L350.28 1250.28z" clip-path="url(#p4daa3f0c5f)" class="c40"/><path d="M360.36 1254.6L371.16 1254.6L371.16 1254.6L360.36 1254.6z" clip-path="url(#p4daa3f0c5f)" class="c40"/><path d="M371.16 1254.6L381.24 1254.6L381.24 1254.6L371.16 1254.6z" clip-path="url(#p4daa3f0c5f)" class="c40"/><path d="M381.24 1254.6L391.32 1254.6L391.32 1254.6L381.24 1254.6z" clip-path="url(#p4daa3f0c5f)" class="c40"/><path d="M391.32 1254.6L401.4 1254.6L401.4 1254.6L391.32 1254.6z" clip-path="url(#p4daa3f0c5f)" class="c40"/><path d="M401.4 1251.72L412.2 1251.72L412.2 1250.28L401.4 1250.28z" clip-path="url(#p4daa3f0c5f)" class="c40"/><path d="M412.2 1251.72L422.28 1251.72L422.28 1250.28L412.2 1250.28z" clip-path="url(#p4daa3f0c5f)" class="c40"/><path d="M422.28 1253.16L432.36 1253.16L432.36 1250.28L422.28 1250.28z" clip-path="url(#p4daa3f0c5f)" class="c40"/><path d="M432.36 1253.16L442.44 1253.16L442.44 1248.84L432.36 1248.84z" clip-path="url(#p4daa3f0c5f)" class="c40"/><path d="M442.44 1253.16L453.24 1253.16L453.24 1247.4L442.44 1247.4z" clip-path="url(#p4daa3f0c5f)" class="c40"/><path d="M453.24 1248.84L463.32 1248.84L463.32 1248.84L453.24 1248.84z" clip-path="url(#p4daa3f0c5f)" class="c40"/><path d="M463.32 1253.16L473.4 1253.16L473.4 1248.84L463.32 1248.84z" clip-path="url(#p4daa3f0c5f)" class="c40"/><path d="M473.4 1244.52L483.48 1244.52L483.48 1241.64L473.4 1241.64z" clip-path="url(#p4daa3f0c5f)" class="c40"/><path d="M483.48 1251.72L494.28 1251.72L494.28 1248.84L483.48 1248.84z" clip-path="url(#p4daa3f0c5f)" class="c40"/><path d="M494.28 1250.28L504.36 1250.28L504.36 1245.96L494.28 1245.96z" clip-path="url(#p4daa3f0c5f)" class="c40"/><path d="M504.36 1237.32L514.44 1237.32L514.44 1231.56L504.36 1231.56z" clip-path="url(#p4daa3f0c5f)" class="c40"/><path d="M73.08 1254.6L83.88 1254.6L83.88 1254.6L73.08 1254.6z" clip-path="url(#p4daa3f0c5f)" class="c39"/><path d="M83.88 1254.6L93.96 1254.6L93.96 1254.6L83.88 1254.6z" clip-path="url(#p4daa3f0c5f)" class="c39"/><path d="M93.96 1254.6L104.04 1254.6L104.04 1254.6L93.96 1254.6z" clip-path="url(#p4daa3f0c5f)" class="c39"/><path d="M104.04 1254.6L114.12 1254.6L114.12 1254.6L104.04 1254.6z" clip-path="url(#p4daa3f0c5f)" class="c39"/><path d="M114.12 1254.6L124.92 1254.6L124.92 1254.6L114.12 1254.6z" clip-path="url(#p4daa3f0c5f)" class="c39"/><path d="M124.92 1254.6L135 1254.6L135 1254.6L124.92 1254.6z" clip-path="url(#p4daa3f0c5f)" class="c39"/><path d="M135 1254.6L145.08 1254.6L145.08 1254.6L135 1254.6z" clip-path="url(#p4daa3f0c5f)" class="c39"/><path d="M145.08 1254.6L155.16 1254.6L155.16 1254.6L145.08 1254.6z" clip-path="url(#p4daa3f0c5f)" class="c39"/><path d="M155.16 1254.6L165.96 1254.6L165.96 1254.6L155.16 1254.6z" clip-path="url(#p4daa3f0c5f)" class="c39"/><path d="M165.96 1254.6L176.04 1254.6L176.04 1254.6L165.96 1254.6z" clip-path="url(#p4daa3f0c5f)" class="c39"/><path d="M176.04 1254.6L186.12 1254.6L186.12 1253.16L176.04 1253.16z" clip-path="url(#p4daa3f0c5f)" class="c39"/><path d="M186.12 1254.6L196.2 1254.6L196.2 1254.6L186.12 1254.6z" clip-path="url(#p4daa3f0c5f)" class="c39"/><path d="M196.2 1254.6L207 1254.6L207 1254.6L196.2 1254.6z" clip-path="url(#p4daa3f0c5f)" class="c39"/><path d="M207 1254.6L217.08 1254.6L217.08 1254.6L207 1254.6z" clip-path="url(#p4daa3f0c5f)" class="c39"/><path d="M217.08 1254.6L227.16 1254.6L227.16 1254.6L217.08 1254.6z" clip-path="url(#p4daa3f0c5f)" class="c39"/><path d="M227.16 1254.6L237.24 1254.6L237.24 1254.6L227.16 1254.6z" clip-path="url(#p4daa3f0c5f)" class="c39"/><path d="M237.24 1254.6L248.04 1254.6L248.04 1253.16L237.24 1253.16z" clip-path="url(#p4daa3f0c5f)" class="c39"/><path d="M248.04 1254.6L258.12 1254.6L258.12 1254.6L248.04 1254.6z" clip-path="url(#p4daa3f0c5f)" class="c39"/><path d="M258.12 1254.6L268.2 1254.6L268.2 1254.6L258.12 1254.6z" clip-path="url(#p4daa3f0c5f)" class="c39"/><path d="M268.2 1254.6L278.28 1254.6L278.28 1253.16L268.2 1253.16z" clip-path="url(#p4daa3f0c5f)" class="c39"/><path d="M278.28 1254.6L289.08 1254.6L289.08 1254.6L278.28 1254.6z" clip-path="url(#p4daa3f0c5f)" class="c39"/><path d="M289.08 1254.6L299.16 1254.6L299.16 1251.72L289.08 1251.72z" clip-path="url(#p4daa3f0c5f)" class="c39"/><path d="M299.16 1254.6L309.24 1254.6L309.24 1251.72L299.16 1251.72z" clip-path="url(#p4daa3f0c5f)" class="c39"/><path d="M309.24 1254.6L319.32 1254.6L319.32 1248.84L309.24 1248.84z" clip-path="url(#p4daa3f0c5f)" class="c39"/><path d="M319.32 1254.6L330.12 1254.6L330.12 1251.72L319.32 1251.72z" clip-path="url(#p4daa3f0c5f)" class="c39"/><path d="M330.12 1254.6L340.2 1254.6L340.2 1250.28L330.12 1250.28z" clip-path="url(#p4daa3f0c5f)" class="c39"/><path d="M340.2 1254.6L350.28 1254.6L350.28 1253.16L340.2 1253.16z" clip-path="url(#p4daa3f0c5f)" class="c39"/><path d="M350.28 1250.28L360.36 1250.28L360.36 1245.96L350.28 1245.96z" clip-path="url(#p4daa3f0c5f)" class="c39"/><path d="M360.36 1254.6L371.16 1254.6L371.16 1253.16L360.36 1253.16z" clip-path="url(#p4daa3f0c5f)" class="c39"/><path d="M371.16 1254.6L381.24 1254.6L381.24 1250.28L371.16 1250.28z" clip-path="url(#p4daa3f0c5f)" class="c39"/><path d="M381.24 1254.6L391.32 1254.6L391.32 1247.4L381.24 1247.4z" clip-path="url(#p4daa3f0c5f)" class="c39"/><path d="M391.32 1254.6L401.4 1254.6L401.4 1251.72L391.32 1251.72z" clip-path="url(#p4daa3f0c5f)" class="c39"/><path d="M401.4 1250.28L412.2 1250.28L412.2 1240.2L401.4 1240.2z" clip-path="url(#p4daa3f0c5f)" class="c39"/><path d="M412.2 1250.28L422.28 1250.28L422.28 1245.96L412.2 1245.96z" clip-path="url(#p4daa3f0c5f)" class="c39"/><path d="M422.28 1250.28L432.36 1250.28L432.36 1235.88L422.28 1235.88z" clip-path="url(#p4daa3f0c5f)" class="c39"/><path d="M432.36 1248.84L442.44 1248.84L442.44 1241.64L432.36 1241.64z" clip-path="url(#p4daa3f0c5f)" class="c39"/><path d="M442.44 1247.4L453.24 1247.4L453.24 1240.2L442.44 1240.2z" clip-path="url(#p4daa3f0c5f)" class="c39"/><path d="M453.24 1248.84L463.32 1248.84L463.32 1241.64L453.24 1241.64z" clip-path="url(#p4daa3f0c5f)" class="c39"/><path d="M463.32 1248.84L473.4 1248.84L473.4 1234.44L463.32 1234.44z" clip-path="url(#p4daa3f0c5f)" class="c39"/><path d="M473.4 1241.64L483.48 1241.64L483.48 1221.48L473.4 1221.48z" clip-path="url(#p4daa3f0c5f)" class="c39"/><path d="M483.48 1248.84L494.28 1248.84L494.28 1224.36L483.48 1224.36z" clip-path="url(#p4daa3f0c5f)" class="c39"/><path d="M494.28 1245.96L504.36 1245.96L504.36 1230.12L494.28 1230.12z" clip-path="url(#p4daa3f0c5f)" class="c39"/><path d="M504.36 1231.56L514.44 1231.56L514.44 1214.28L504.36 1214.28z" clip-path="url(#p4daa3f0c5f)" class="c39"/><path d="M73.08 1254.6L83.88 1254.6L83.88 1254.6L73.08 1254.6z" clip-path="url(#p4daa3f0c5f)" class="c41"/><path d="M83.88 1254.6L93.96 1254.6L93.96 1254.6L83.88 1254.6z" clip-path="url(#p4daa3f0c5f)" class="c41"/><path d="M93.96 1254.6L104.04 1254.6L104.04 1254.6L93.96 1254.6z" clip-path="url(#p4daa3f0c5f)" class="c41"/><path d="M104.04 1254.6L114.12 1254.6L114.12 1254.6L104.04 1254.6z" clip-path="url(#p4daa3f0c5f)" class="c41"/><path d="M114.12 1254.6L124.92 1254.6L124.92 1254.6L114.12 1254.6z" clip-path="url(#p4daa3f0c5f)" class="c41"/><path d="M124.92 1254.6L135 1254.6L135 1254.6L124.92 1254.6z" clip-path="url(#p4daa3f0c5f)" class="c41"/><path d="M135 1254.6L145.08 1254.6L145.08 1254.6L135 1254.6z" clip-path="url(#p4daa3f0c5f)" class="c41"/><path d="M145.08 1254.6L155.16 1254.6L155.16 1254.6L145.08 1254.6z" clip-path="url(#p4daa3f0c5f)" class="c41"/><path d="M155.16 1254.6L165.96 1254.6L165.96 1254.6L155.16 1254.6z" clip-path="url(#p4daa3f0c5f)" class="c41"/><path d="M165.96 1254.6L176.04 1254.6L176.04 1254.6L165.96 1254.6z" clip-path="url(#p4daa3f0c5f)" class="c41"/><path d="M176.04 1253.16L186.12 1253.16L186.12 1253.16L176.04 1253.16z" clip-path="url(#p4daa3f0c5f)" class="c41"/><path d="M186.12 1254.6L196.2 1254.6L196.2 1254.6L186.12 1254.6z" clip-path="url(#p4daa3f0c5f)" class="c41"/><path d="M196.2 1254.6L207 1254.6L207 1254.6L196.2 1254.6z" clip-path="url(#p4daa3f0c5f)" class="c41"/><path d="M207 1254.6L217.08 1254.6L217.08 1254.6L207 1254.6z" clip-path="url(#p4daa3f0c5f)" class="c41"/><path d="M217.08 1254.6L227.16 1254.6L227.16 1253.16L217.08 1253.16z" clip-path="url(#p4daa3f0c5f)" class="c41"/><path d="M227.16 1254.6L237.24 1254.6L237.24 1254.6L227.16 1254.6z" clip-path="url(#p4daa3f0c5f)" class="c41"/><path d="M237.24 1253.16L248.04 1253.16L248.04 1253.16L237.24 1253.16z" clip-path="url(#p4daa3f0c5f)" class="c41"/><path d="M248.04 1254.6L258.12 1254.6L258.12 1254.6L248.04 1254.6z" clip-path="url(#p4daa3f0c5f)" class="c41"/><path d="M258.12 1254.6L268.2 1254.6L268.2 1254.6L258.12 1254.6z" clip-path="url(#p4daa3f0c5f)" class="c41"/><path d="M268.2 1253.16L278.28 1253.16L278.28 1253.16L268.2 1253.16z" clip-path="url(#p4daa3f0c5f)" class="c41"/><path d="M278.28 1254.6L289.08 1254.6L289.08 1254.6L278.28 1254.6z" clip-path="url(#p4daa3f0c5f)" class="c41"/><path d="M289.08 1251.72L299.16 1251.72L299.16 1251.72L289.08 1251.72z" clip-path="url(#p4daa3f0c5f)" class="c41"/><path d="M299.16 1251.72L309.24 1251.72L309.24 1251.72L299.16 1251.72z" clip-path="url(#p4daa3f0c5f)" class="c41"/><path d="M309.24 1248.84L319.32 1248.84L319.32 1248.84L309.24 1248.84z" clip-path="url(#p4daa3f0c5f)" class="c41"/><path d="M319.32 1251.72L330.12 1251.72L330.12 1251.72L319.32 1251.72z" clip-path="url(#p4daa3f0c5f)" class="c41"/><path d="M330.12 1250.28L340.2 1250.28L340.2 1250.28L330.12 1250.28z" clip-path="url(#p4daa3f0c5f)" class="c41"/><path d="M340.2 1253.16L350.28 1253.16L350.28 1253.16L340.2 1253.16z" clip-path="url(#p4daa3f0c5f)" class="c41"/><path d="M350.28 1245.96L360.36 1245.96L360.36 1245.96L350.28 1245.96z" clip-path="url(#p4daa3f0c5f)" class="c41"/><path d="M360.36 1253.16L371.16 1253.16L371.16 1253.16L360.36 1253.16z" clip-path="url(#p4daa3f0c5f)" class="c41"/><path d="M371.16 1250.28L381.24 1250.28L381.24 1250.28L371.16 1250.28z" clip-path="url(#p4daa3f0c5f)" class="c41"/><path d="M381.24 1247.4L391.32 1247.4L391.32 1247.4L381.24 1247.4z" clip-path="url(#p4daa3f0c5f)" class="c41"/><path d="M391.32 1251.72L401.4 1251.72L401.4 1251.72L391.32 1251.72z" clip-path="url(#p4daa3f0c5f)" class="c41"/><path d="M401.4 1240.2L412.2 1240.2L412.2 1240.2L401.4 1240.2z" clip-path="url(#p4daa3f0c5f)" class="c41"/><path d="M412.2 1245.96L422.28 1245.96L422.28 1245.96L412.2 1245.96z" clip-path="url(#p4daa3f0c5f)" class="c41"/><path d="M422.28 1235.88L432.36 1235.88L432.36 1235.88L422.28 1235.88z" clip-path="url(#p4daa3f0c5f)" class="c41"/><path d="M432.36 1241.64L442.44 1241.64L442.44 1241.64L432.36 1241.64z" clip-path="url(#p4daa3f0c5f)" class="c41"/><path d="M442.44 1240.2L453.24 1240.2L453.24 1240.2L442.44 1240.2z" clip-path="url(#p4daa3f0c5f)" class="c41"/><path d="M453.24 1241.64L463.32 1241.64L463.32 1240.2L453.24 1240.2z" clip-path="url(#p4daa3f0c5f)" class="c41"/><path d="M463.32 1234.44L473.4 1234.44L473.4 1234.44L463.32 1234.44z" clip-path="url(#p4daa3f0c5f)" class="c41"/><path d="M473.4 1221.48L483.48 1221.48L483.48 1217.16L473.4 1217.16z" clip-path="url(#p4daa3f0c5f)" class="c41"/><path d="M483.48 1224.36L494.28 1224.36L494.28 1224.36L483.48 1224.36z" clip-path="url(#p4daa3f0c5f)" class="c41"/><path d="M494.28 1230.12L504.36 1230.12L504.36 1225.8L494.28 1225.8z" clip-path="url(#p4daa3f0c5f)" class="c41"/><path d="M504.36 1214.28L514.44 1214.28L514.44 1211.4L504.36 1211.4z" clip-path="url(#p4daa3f0c5f)" class="c41"/><path d="M73.08 1254.6L83.88 1254.6L83.88 1254.6L73.08 1254.6z" clip-path="url(#p4daa3f0c5f)" class="c42"/><path d="M83.88 1254.6L93.96 1254.6L93.96 1254.6L83.88 1254.6z" clip-path="url(#p4daa3f0c5f)" class="c42"/><path d="M93.96 1254.6L104.04 1254.6L104.04 1254.6L93.96 1254.6z" clip-path="url(#p4daa3f0c5f)" class="c42"/><path d="M104.04 1254.6L114.12 1254.6L114.12 1254.6L104.04 1254.6z" clip-path="url(#p4daa3f0c5f)" class="c42"/><path d="M114.12 1254.6L124.92 1254.6L124.92 1254.6L114.12 1254.6z" clip-path="url(#p4daa3f0c5f)" class="c42"/><path d="M124.92 1254.6L135 1254.6L135 1254.6L124.92 1254.6z" clip-path="url(#p4daa3f0c5f)" class="c42"/><path d="M135 1254.6L145.08 1254.6L145.08 1254.6L135 1254.6z" clip-path="url(#p4daa3f0c5f)" class="c42"/><path d="M145.08 1254.6L155.16 1254.6L155.16 1254.6L145.08 1254.6z" clip-path="url(#p4daa3f0c5f)" class="c42"/><path d="M155.16 1254.6L165.96 1254.6L165.96 1254.6L155.16 1254.6z" clip-path="url(#p4daa3f0c5f)" class="c42"/><path d="M165.96 1254.6L176.04 1254.6L176.04 1254.6L165.96 1254.6z" clip-path="url(#p4daa3f0c5f)" class="c42"/><path d="M176.04 1253.16L186.12 1253.16L186.12 1253.16L176.04 1253.16z" clip-path="url(#p4daa3f0c5f)" class="c42"/><path d="M186.12 1254.6L196.2 1254.6L196.2 1254.6L186.12 1254.6z" clip-path="url(#p4daa3f0c5f)" class="c42"/><path d="M196.2 1254.6L207 1254.6L207 1254.6L196.2 1254.6z" clip-path="url(#p4daa3f0c5f)" class="c42"/><path d="M207 1254.6L217.08 1254.6L217.08 1254.6L207 1254.6z" clip-path="url(#p4daa3f0c5f)" class="c42"/><path d="M217.08 1253.16L227.16 1253.16L227.16 1253.16L217.08 1253.16z" clip-path="url(#p4daa3f0c5f)" class="c42"/><path d="M227.16 1254.6L237.24 1254.6L237.24 1254.6L227.16 1254.6z" clip-path="url(#p4daa3f0c5f)" class="c42"/><path d="M237.24 1253.16L248.04 1253.16L248.04 1253.16L237.24 1253.16z" clip-path="url(#p4daa3f0c5f)" class="c42"/><path d="M248.04 1254.6L258.12 1254.6L258.12 1254.6L248.04 1254.6z" clip-path="url(#p4daa3f0c5f)" class="c42"/><path d="M258.12 1254.6L268.2 1254.6L268.2 1254.6L258.12 1254.6z" clip-path="url(#p4daa3f0c5f)" class="c42"/><path d="M268.2 1253.16L278.28 1253.16L278.28 1253.16L268.2 1253.16z" clip-path="url(#p4daa3f0c5f)" class="c42"/><path d="M278.28 1254.6L289.08 1254.6L289.08 1254.6L278.28 1254.6z" clip-path="url(#p4daa3f0c5f)" class="c42"/><path d="M289.08 1251.72L299.16 1251.72L299.16 1251.72L289.08 1251.72z" clip-path="url(#p4daa3f0c5f)" class="c42"/><path d="M299.16 1251.72L309.24 1251.72L309.24 1251.72L299.16 1251.72z" clip-path="url(#p4daa3f0c5f)" class="c42"/><path d="M309.24 1248.84L319.32 1248.84L319.32 1248.84L309.24 1248.84z" clip-path="url(#p4daa3f0c5f)" class="c42"/><path d="M319.32 1251.72L330.12 1251.72L330.12 1251.72L319.32 1251.72z" clip-path="url(#p4daa3f0c5f)" class="c42"/><path d="M330.12 1250.28L340.2 1250.28L340.2 1250.28L330.12 1250.28z" clip-path="url(#p4daa3f0c5f)" class="c42"/><path d="M340.2 1253.16L350.28 1253.16L350.28 1253.16L340.2 1253.16z" clip-path="url(#p4daa3f0c5f)" class="c42"/><path d="M350.28 1245.96L360.36 1245.96L360.36 1245.96L350.28 1245.96z" clip-path="url(#p4daa3f0c5f)" class="c42"/><path d="M360.36 1253.16L371.16 1253.16L371.16 1253.16L360.36 1253.16z" clip-path="url(#p4daa3f0c5f)" class="c42"/><path d="M371.16 1250.28L381.24 1250.28L381.24 1250.28L371.16 1250.28z" clip-path="url(#p4daa3f0c5f)" class="c42"/><path d="M381.24 1247.4L391.32 1247.4L391.32 1247.4L381.24 1247.4z" clip-path="url(#p4daa3f0c5f)" class="c42"/><path d="M391.32 1251.72L401.4 1251.72L401.4 1251.72L391.32 1251.72z" clip-path="url(#p4daa3f0c5f)" class="c42"/><path d="M401.4 1240.2L412.2 1240.2L412.2 1238.76L401.4 1238.76z" clip-path="url(#p4daa3f0c5f)" class="c42"/><path d="M412.2 1245.96L422.28 1245.96L422.28 1244.52L412.2 1244.52z" clip-path="url(#p4daa3f0c5f)" class="c42"/><path d="M422.28 1235.88L432.36 1235.88L432.36 1234.44L422.28 1234.44z" clip-path="url(#p4daa3f0c5f)" class="c42"/><path d="M432.36 1241.64L442.44 1241.64L442.44 1237.32L432.36 1237.32z" clip-path="url(#p4daa3f0c5f)" class="c42"/><path d="M442.44 1240.2L453.24 1240.2L453.24 1234.44L442.44 1234.44z" clip-path="url(#p4daa3f0c5f)" class="c42"/><path d="M453.24 1240.2L463.32 1240.2L463.32 1240.2L453.24 1240.2z" clip-path="url(#p4daa3f0c5f)" class="c42"/><path d="M463.32 1234.44L473.4 1234.44L473.4 1234.44L463.32 1234.44z" clip-path="url(#p4daa3f0c5f)" class="c42"/><path d="M473.4 1217.16L483.48 1217.16L483.48 1212.84L473.4 1212.84z" clip-path="url(#p4daa3f0c5f)" class="c42"/><path d="M483.48 1224.36L494.28 1224.36L494.28 1222.92L483.48 1222.92z" clip-path="url(#p4daa3f0c5f)" class="c42"/><path d="M494.28 1225.8L504.36 1225.8L504.36 1225.8L494.28 1225.8z" clip-path="url(#p4daa3f0c5f)" class="c42"/><path d="M504.36 1211.4L514.44 1211.4L514.44 1211.4L504.36 1211.4z" clip-path="url(#p4daa3f0c5f)" class="c42"/><path d="M73.08 1254.6L83.88 1254.6L83.88 1254.6L73.08 1254.6z" clip-path="url(#p4daa3f0c5f)" class="c43"/><path d="M83.88 1254.6L93.96 1254.6L93.96 1254.6L83.88 1254.6z" clip-path="url(#p4daa3f0c5f)" class="c43"/><path d="M93.96 1254.6L104.04 1254.6L104.04 1254.6L93.96 1254.6z" clip-path="url(#p4daa3f0c5f)" class="c43"/><path d="M104.04 1254.6L114.12 1254.6L114.12 1254.6L104.04 1254.6z" clip-path="url(#p4daa3f0c5f)" class="c43"/><path d="M114.12 1254.6L124.92 1254.6L124.92 1254.6L114.12 1254.6z" clip-path="url(#p4daa3f0c5f)" class="c43"/><path d="M124.92 1254.6L135 1254.6L135 1254.6L124.92 1254.6z" clip-path="url(#p4daa3f0c5f)" class="c43"/><path d="M135 1254.6L145.08 1254.6L145.08 1254.6L135 1254.6z" clip-path="url(#p4daa3f0c5f)" class="c43"/><path d="M145.08 1254.6L155.16 1254.6L155.16 1254.6L145.08 1254.6z" clip-path="url(#p4daa3f0c5f)" class="c43"/><path d="M155.16 1254.6L165.96 1254.6L165.96 1254.6L155.16 1254.6z" clip-path="url(#p4daa3f0c5f)" class="c43"/><path d="M165.96 1254.6L176.04 1254.6L176.04 1254.6L165.96 1254.6z" clip-path="url(#p4daa3f0c5f)" class="c43"/><path d="M176.04 1253.16L186.12 1253.16L186.12 1253.16L176.04 1253.16z" clip-path="url(#p4daa3f0c5f)" class="c43"/><path d="M186.12 1254.6L196.2 1254.6L196.2 1254.6L186.12 1254.6z" clip-path="url(#p4daa3f0c5f)" class="c43"/><path d="M196.2 1254.6L207 1254.6L207 1254.6L196.2 1254.6z" clip-path="url(#p4daa3f0c5f)" class="c43"/><path d="M207 1254.6L217.08 1254.6L217.08 1254.6L207 1254.6z" clip-path="url(#p4daa3f0c5f)" class="c43"/><path d="M217.08 1253.16L227.16 1253.16L227.16 1253.16L217.08 1253.16z" clip-path="url(#p4daa3f0c5f)" class="c43"/><path d="M227.16 1254.6L237.24 1254.6L237.24 1254.6L227.16 1254.6z" clip-path="url(#p4daa3f0c5f)" class="c43"/><path d="M237.24 1253.16L248.04 1253.16L248.04 1253.16L237.24 1253.16z" clip-path="url(#p4daa3f0c5f)" class="c43"/><path d="M248.04 1254.6L258.12 1254.6L258.12 1254.6L248.04 1254.6z" clip-path="url(#p4daa3f0c5f)" class="c43"/><path d="M258.12 1254.6L268.2 1254.6L268.2 1254.6L258.12 1254.6z" clip-path="url(#p4daa3f0c5f)" class="c43"/><path d="M268.2 1253.16L278.28 1253.16L278.28 1253.16L268.2 1253.16z" clip-path="url(#p4daa3f0c5f)" class="c43"/><path d="M278.28 1254.6L289.08 1254.6L289.08 1254.6L278.28 1254.6z" clip-path="url(#p4daa3f0c5f)" class="c43"/><path d="M289.08 1251.72L299.16 1251.72L299.16 1251.72L289.08 1251.72z" clip-path="url(#p4daa3f0c5f)" class="c43"/><path d="M299.16 1251.72L309.24 1251.72L309.24 1251.72L299.16 1251.72z" clip-path="url(#p4daa3f0c5f)" class="c43"/><path d="M309.24 1248.84L319.32 1248.84L319.32 1248.84L309.24 1248.84z" clip-path="url(#p4daa3f0c5f)" class="c43"/><path d="M319.32 1251.72L330.12 1251.72L330.12 1251.72L319.32 1251.72z" clip-path="url(#p4daa3f0c5f)" class="c43"/><path d="M330.12 1250.28L340.2 1250.28L340.2 1250.28L330.12 1250.28z" clip-path="url(#p4daa3f0c5f)" class="c43"/><path d="M340.2 1253.16L350.28 1253.16L350.28 1253.16L340.2 1253.16z" clip-path="url(#p4daa3f0c5f)" class="c43"/><path d="M350.28 1245.96L360.36 1245.96L360.36 1245.96L350.28 1245.96z" clip-path="url(#p4daa3f0c5f)" class="c43"/><path d="M360.36 1253.16L371.16 1253.16L371.16 1253.16L360.36 1253.16z" clip-path="url(#p4daa3f0c5f)" class="c43"/><path d="M371.16 1250.28L381.24 1250.28L381.24 1250.28L371.16 1250.28z" clip-path="url(#p4daa3f0c5f)" class="c43"/><path d="M381.24 1247.4L391.32 1247.4L391.32 1247.4L381.24 1247.4z" clip-path="url(#p4daa3f0c5f)" class="c43"/><path d="M391.32 1251.72L401.4 1251.72L401.4 1251.72L391.32 1251.72z" clip-path="url(#p4daa3f0c5f)" class="c43"/><path d="M401.4 1238.76L412.2 1238.76L412.2 1238.76L401.4 1238.76z" clip-path="url(#p4daa3f0c5f)" class="c43"/><path d="M412.2 1244.52L422.28 1244.52L422.28 1244.52L412.2 1244.52z" clip-path="url(#p4daa3f0c5f)" class="c43"/><path d="M422.28 1234.44L432.36 1234.44L432.36 1234.44L422.28 1234.44z" clip-path="url(#p4daa3f0c5f)" class="c43"/><path d="M432.36 1237.32L442.44 1237.32L442.44 1237.32L432.36 1237.32z" clip-path="url(#p4daa3f0c5f)" class="c43"/><path d="M442.44 1234.44L453.24 1234.44L453.24 1234.44L442.44 1234.44z" clip-path="url(#p4daa3f0c5f)" class="c43"/><path d="M453.24 1240.2L463.32 1240.2L463.32 1238.76L453.24 1238.76z" clip-path="url(#p4daa3f0c5f)" class="c43"/><path d="M463.32 1234.44L473.4 1234.44L473.4 1234.44L463.32 1234.44z" clip-path="url(#p4daa3f0c5f)" class="c43"/><path d="M473.4 1212.84L483.48 1212.84L483.48 1209.96L473.4 1209.96z" clip-path="url(#p4daa3f0c5f)" class="c43"/><path d="M483.48 1222.92L494.28 1222.92L494.28 1221.48L483.48 1221.48z" clip-path="url(#p4daa3f0c5f)" class="c43"/><path d="M494.28 1225.8L504.36 1225.8L504.36 1224.36L494.28 1224.36z" clip-path="url(#p4daa3f0c5f)" class="c43"/><path d="M504.36 1211.4L514.44 1211.4L514.44 1209.96L504.36 1209.96z" clip-path="url(#p4daa3f0c5f)" class="c43"/><path d="M73.08 1254.6L83.88 1254.6L83.88 1254.6L73.08 1254.6z" clip-path="url(#p4daa3f0c5f)" class="c42"/><path d="M83.88 1254.6L93.96 1254.6L93.96 1254.6L83.88 1254.6z" clip-path="url(#p4daa3f0c5f)" class="c42"/><path d="M93.96 1254.6L104.04 1254.6L104.04 1254.6L93.96 1254.6z" clip-path="url(#p4daa3f0c5f)" class="c42"/><path d="M104.04 1254.6L114.12 1254.6L114.12 1254.6L104.04 1254.6z" clip-path="url(#p4daa3f0c5f)" class="c42"/><path d="M114.12 1254.6L124.92 1254.6L124.92 1254.6L114.12 1254.6z" clip-path="url(#p4daa3f0c5f)" class="c42"/><path d="M124.92 1254.6L135 1254.6L135 1254.6L124.92 1254.6z" clip-path="url(#p4daa3f0c5f)" class="c42"/><path d="M135 1254.6L145.08 1254.6L145.08 1254.6L135 1254.6z" clip-path="url(#p4daa3f0c5f)" class="c42"/><path d="M145.08 1254.6L155.16 1254.6L155.16 1254.6L145.08 1254.6z" clip-path="url(#p4daa3f0c5f)" class="c42"/><path d="M155.16 1254.6L165.96 1254.6L165.96 1254.6L155.16 1254.6z" clip-path="url(#p4daa3f0c5f)" class="c42"/><path d="M165.96 1254.6L176.04 1254.6L176.04 1254.6L165.96 1254.6z" clip-path="url(#p4daa3f0c5f)" class="c42"/><path d="M176.04 1253.16L186.12 1253.16L186.12 1253.16L176.04 1253.16z" clip-path="url(#p4daa3f0c5f)" class="c42"/><path d="M186.12 1254.6L196.2 1254.6L196.2 1254.6L186.12 1254.6z" clip-path="url(#p4daa3f0c5f)" class="c42"/><path d="M196.2 1254.6L207 1254.6L207 1254.6L196.2 1254.6z" clip-path="url(#p4daa3f0c5f)" class="c42"/><path d="M207 1254.6L217.08 1254.6L217.08 1253.16L207 1253.16z" clip-path="url(#p4daa3f0c5f)" class="c42"/><path d="M217.08 1253.16L227.16 1253.16L227.16 1253.16L217.08 1253.16z" clip-path="url(#p4daa3f0c5f)" class="c42"/><path d="M227.16 1254.6L237.24 1254.6L237.24 1254.6L227.16 1254.6z" clip-path="url(#p4daa3f0c5f)" class="c42"/><path d="M237.24 1253.16L248.04 1253.16L248.04 1253.16L237.24 1253.16z" clip-path="url(#p4daa3f0c5f)" class="c42"/><path d="M248.04 1254.6L258.12 1254.6L258.12 1254.6L248.04 1254.6z" clip-path="url(#p4daa3f0c5f)" class="c42"/><path d="M258.12 1254.6L268.2 1254.6L268.2 1253.16L258.12 1253.16z" clip-path="url(#p4daa3f0c5f)" class="c42"/><path d="M268.2 1253.16L278.28 1253.16L278.28 1253.16L268.2 1253.16z" clip-path="url(#p4daa3f0c5f)" class="c42"/><path d="M278.28 1254.6L289.08 1254.6L289.08 1254.6L278.28 1254.6z" clip-path="url(#p4daa3f0c5f)" class="c42"/><path d="M289.08 1251.72L299.16 1251.72L299.16 1251.72L289.08 1251.72z" clip-path="url(#p4daa3f0c5f)" class="c42"/><path d="M299.16 1251.72L309.24 1251.72L309.24 1251.72L299.16 1251.72z" clip-path="url(#p4daa3f0c5f)" class="c42"/><path d="M309.24 1248.84L319.32 1248.84L319.32 1247.4L309.24 1247.4z" clip-path="url(#p4daa3f0c5f)" class="c42"/><path d="M319.32 1251.72L330.12 1251.72L330.12 1250.28L319.32 1250.28z" clip-path="url(#p4daa3f0c5f)" class="c42"/><path d="M330.12 1250.28L340.2 1250.28L340.2 1248.84L330.12 1248.84z" clip-path="url(#p4daa3f0c5f)" class="c42"/><path d="M340.2 1253.16L350.28 1253.16L350.28 1250.28L340.2 1250.28z" clip-path="url(#p4daa3f0c5f)" class="c42"/><path d="M350.28 1245.96L360.36 1245.96L360.36 1243.08L350.28 1243.08z" clip-path="url(#p4daa3f0c5f)" class="c42"/><path d="M360.36 1253.16L371.16 1253.16L371.16 1251.72L360.36 1251.72z" clip-path="url(#p4daa3f0c5f)" class="c42"/><path d="M371.16 1250.28L381.24 1250.28L381.24 1241.64L371.16 1241.64z" clip-path="url(#p4daa3f0c5f)" class="c42"/><path d="M381.24 1247.4L391.32 1247.4L391.32 1240.2L381.24 1240.2z" clip-path="url(#p4daa3f0c5f)" class="c42"/><path d="M391.32 1251.72L401.4 1251.72L401.4 1245.96L391.32 1245.96z" clip-path="url(#p4daa3f0c5f)" class="c42"/><path d="M401.4 1238.76L412.2 1238.76L412.2 1234.44L401.4 1234.44z" clip-path="url(#p4daa3f0c5f)" class="c42"/><path d="M412.2 1244.52L422.28 1244.52L422.28 1235.88L412.2 1235.88z" clip-path="url(#p4daa3f0c5f)" class="c42"/><path d="M422.28 1234.44L432.36 1234.44L432.36 1221.48L422.28 1221.48z" clip-path="url(#p4daa3f0c5f)" class="c42"/><path d="M432.36 1237.32L442.44 1237.32L442.44 1225.8L432.36 1225.8z" clip-path="url(#p4daa3f0c5f)" class="c42"/><path d="M442.44 1234.44L453.24 1234.44L453.24 1222.92L442.44 1222.92z" clip-path="url(#p4daa3f0c5f)" class="c42"/><path d="M453.24 1238.76L463.32 1238.76L463.32 1227.24L453.24 1227.24z" clip-path="url(#p4daa3f0c5f)" class="c42"/><path d="M463.32 1234.44L473.4 1234.44L473.4 1220.04L463.32 1220.04z" clip-path="url(#p4daa3f0c5f)" class="c42"/><path d="M473.4 1209.96L483.48 1209.96L483.48 1191.24L473.4 1191.24z" clip-path="url(#p4daa3f0c5f)" class="c42"/><path d="M483.48 1221.48L494.28 1221.48L494.28 1201.32L483.48 1201.32z" clip-path="url(#p4daa3f0c5f)" class="c42"/><path d="M494.28 1224.36L504.36 1224.36L504.36 1204.2L494.28 1204.2z" clip-path="url(#p4daa3f0c5f)" class="c42"/><path d="M504.36 1209.96L514.44 1209.96L514.44 1165.32L504.36 1165.32z" clip-path="url(#p4daa3f0c5f)" class="c42"/><path d="M73.08 1254.6L83.88 1254.6L83.88 1254.6L73.08 1254.6z" clip-path="url(#p4daa3f0c5f)" class="c44"/><path d="M83.88 1254.6L93.96 1254.6L93.96 1254.6L83.88 1254.6z" clip-path="url(#p4daa3f0c5f)" class="c44"/><path d="M93.96 1254.6L104.04 1254.6L104.04 1254.6L93.96 1254.6z" clip-path="url(#p4daa3f0c5f)" class="c44"/><path d="M104.04 1254.6L114.12 1254.6L114.12 1254.6L104.04 1254.6z" clip-path="url(#p4daa3f0c5f)" class="c44"/><path d="M114.12 1254.6L124.92 1254.6L124.92 1254.6L114.12 1254.6z" clip-path="url(#p4daa3f0c5f)" class="c44"/><path d="M124.92 1254.6L135 1254.6L135 1254.6L124.92 1254.6z" clip-path="url(#p4daa3f0c5f)" class="c44"/><path d="M135 1254.6L145.08 1254.6L145.08 1254.6L135 1254.6z" clip-path="url(#p4daa3f0c5f)" class="c44"/><path d="M145.08 1254.6L155.16 1254.6L155.16 1254.6L145.08 1254.6z" clip-path="url(#p4daa3f0c5f)" class="c44"/><path d="M155.16 1254.6L165.96 1254.6L165.96 1254.6L155.16 1254.6z" clip-path="url(#p4daa3f0c5f)" class="c44"/><path d="M165.96 1254.6L176.04 1254.6L176.04 1254.6L165.96 1254.6z" clip-path="url(#p4daa3f0c5f)" class="c44"/><path d="M176.04 1253.16L186.12 1253.16L186.12 1253.16L176.04 1253.16z" clip-path="url(#p4daa3f0c5f)" class="c44"/><path d="M186.12 1254.6L196.2 1254.6L196.2 1254.6L186.12 1254.6z" clip-path="url(#p4daa3f0c5f)" class="c44"/><path d="M196.2 1254.6L207 1254.6L207 1254.6L196.2 1254.6z" clip-path="url(#p4daa3f0c5f)" class="c44"/><path d="M207 1253.16L217.08 1253.16L217.08 1253.16L207 1253.16z" clip-path="url(#p4daa3f0c5f)" class="c44"/><path d="M217.08 1253.16L227.16 1253.16L227.16 1253.16L217.08 1253.16z" clip-path="url(#p4daa3f0c5f)" class="c44"/><path d="M227.16 1254.6L237.24 1254.6L237.24 1254.6L227.16 1254.6z" clip-path="url(#p4daa3f0c5f)" class="c44"/><path d="M237.24 1253.16L248.04 1253.16L248.04 1251.72L237.24 1251.72z" clip-path="url(#p4daa3f0c5f)" class="c44"/><path d="M248.04 1254.6L258.12 1254.6L258.12 1251.72L248.04 1251.72z" clip-path="url(#p4daa3f0c5f)" class="c44"/><path d="M258.12 1253.16L268.2 1253.16L268.2 1250.28L258.12 1250.28z" clip-path="url(#p4daa3f0c5f)" class="c44"/><path d="M268.2 1253.16L278.28 1253.16L278.28 1248.84L268.2 1248.84z" clip-path="url(#p4daa3f0c5f)" class="c44"/><path d="M278.28 1254.6L289.08 1254.6L289.08 1254.6L278.28 1254.6z" clip-path="url(#p4daa3f0c5f)" class="c44"/><path d="M289.08 1251.72L299.16 1251.72L299.16 1251.72L289.08 1251.72z" clip-path="url(#p4daa3f0c5f)" class="c44"/><path d="M299.16 1251.72L309.24 1251.72L309.24 1248.84L299.16 1248.84z" clip-path="url(#p4daa3f0c5f)" class="c44"/><path d="M309.24 1247.4L319.32 1247.4L319.32 1243.08L309.24 1243.08z" clip-path="url(#p4daa3f0c5f)" class="c44"/><path d="M319.32 1250.28L330.12 1250.28L330.12 1243.08L319.32 1243.08z" clip-path="url(#p4daa3f0c5f)" class="c44"/><path d="M330.12 1248.84L340.2 1248.84L340.2 1245.96L330.12 1245.96z" clip-path="url(#p4daa3f0c5f)" class="c44"/><path d="M340.2 1250.28L350.28 1250.28L350.28 1245.96L340.2 1245.96z" clip-path="url(#p4daa3f0c5f)" class="c44"/><path d="M350.28 1243.08L360.36 1243.08L360.36 1234.44L350.28 1234.44z" clip-path="url(#p4daa3f0c5f)" class="c44"/><path d="M360.36 1251.72L371.16 1251.72L371.16 1235.88L360.36 1235.88z" clip-path="url(#p4daa3f0c5f)" class="c44"/><path d="M371.16 1241.64L381.24 1241.64L381.24 1231.56L371.16 1231.56z" clip-path="url(#p4daa3f0c5f)" class="c44"/><path d="M381.24 1240.2L391.32 1240.2L391.32 1228.68L381.24 1228.68z" clip-path="url(#p4daa3f0c5f)" class="c44"/><path d="M391.32 1245.96L401.4 1245.96L401.4 1228.68L391.32 1228.68z" clip-path="url(#p4daa3f0c5f)" class="c44"/><path d="M401.4 1234.44L412.2 1234.44L412.2 1212.84L401.4 1212.84z" clip-path="url(#p4daa3f0c5f)" class="c44"/><path d="M412.2 1235.88L422.28 1235.88L422.28 1207.08L412.2 1207.08z" clip-path="url(#p4daa3f0c5f)" class="c44"/><path d="M422.28 1221.48L432.36 1221.48L432.36 1207.08L422.28 1207.08z" clip-path="url(#p4daa3f0c5f)" class="c44"/><path d="M432.36 1225.8L442.44 1225.8L442.44 1192.68L432.36 1192.68z" clip-path="url(#p4daa3f0c5f)" class="c44"/><path d="M442.44 1222.92L453.24 1222.92L453.24 1201.32L442.44 1201.32z" clip-path="url(#p4daa3f0c5f)" class="c44"/><path d="M453.24 1227.24L463.32 1227.24L463.32 1189.8L453.24 1189.8z" clip-path="url(#p4daa3f0c5f)" class="c44"/><path d="M463.32 1220.04L473.4 1220.04L473.4 1155.24L463.32 1155.24z" clip-path="url(#p4daa3f0c5f)" class="c44"/><path d="M473.4 1191.24L483.48 1191.24L483.48 1110.6L473.4 1110.6z" clip-path="url(#p4daa3f0c5f)" class="c44"/><path d="M483.48 1201.32L494.28 1201.32L494.28 1119.24L483.48 1119.24z" clip-path="url(#p4daa3f0c5f)" class="c44"/><path d="M494.28 1204.2L504.36 1204.2L504.36 1113.48L494.28 1113.48z" clip-path="url(#p4daa3f0c5f)" class="c44"/><path d="M504.36 1165.32L514.44 1165.32L514.44 1053L504.36 1053z" clip-path="url(#p4daa3f0c5f)" class="c44"/><path d="M73.08 1254.6L83.88 1254.6L83.88 1253.16L73.08 1253.16z" clip-path="url(#p4daa3f0c5f)" class="c40"/><path d="M83.88 1254.6L93.96 1254.6L93.96 1254.6L83.88 1254.6z" clip-path="url(#p4daa3f0c5f)" class="c40"/><path d="M93.96 1254.6L104.04 1254.6L104.04 1254.6L93.96 1254.6z" clip-path="url(#p4daa3f0c5f)" class="c40"/><path d="M104.04 1254.6L114.12 1254.6L114.12 1254.6L104.04 1254.6z" clip-path="url(#p4daa3f0c5f)" class="c40"/><path d="M114.12 1254.6L124.92 1254.6L124.92 1254.6L114.12 1254.6z" clip-path="url(#p4daa3f0c5f)" class="c40"/><path d="M124.92 1254.6L135 1254.6L135 1254.6L124.92 1254.6z" clip-path="url(#p4daa3f0c5f)" class="c40"/><path d="M135 1254.6L145.08 1254.6L145.08 1254.6L135 1254.6z" clip-path="url(#p4daa3f0c5f)" class="c40"/><path d="M145.08 1254.6L155.16 1254.6L155.16 1254.6L145.08 1254.6z" clip-path="url(#p4daa3f0c5f)" class="c40"/><path d="M155.16 1254.6L165.96 1254.6L165.96 1254.6L155.16 1254.6z" clip-path="url(#p4daa3f0c5f)" class="c40"/><path d="M165.96 1254.6L176.04 1254.6L176.04 1254.6L165.96 1254.6z" clip-path="url(#p4daa3f0c5f)" class="c40"/><path d="M176.04 1253.16L186.12 1253.16L186.12 1251.72L176.04 1251.72z" clip-path="url(#p4daa3f0c5f)" class="c40"/><path d="M186.12 1254.6L196.2 1254.6L196.2 1251.72L186.12 1251.72z" clip-path="url(#p4daa3f0c5f)" class="c40"/><path d="M196.2 1254.6L207 1254.6L207 1253.16L196.2 1253.16z" clip-path="url(#p4daa3f0c5f)" class="c40"/><path d="M207 1253.16L217.08 1253.16L217.08 1253.16L207 1253.16z" clip-path="url(#p4daa3f0c5f)" class="c40"/><path d="M217.08 1253.16L227.16 1253.16L227.16 1250.28L217.08 1250.28z" clip-path="url(#p4daa3f0c5f)" class="c40"/><path d="M227.16 1254.6L237.24 1254.6L237.24 1251.72L227.16 1251.72z" clip-path="url(#p4daa3f0c5f)" class="c40"/><path d="M237.24 1251.72L248.04 1251.72L248.04 1250.28L237.24 1250.28z" clip-path="url(#p4daa3f0c5f)" class="c40"/><path d="M248.04 1251.72L258.12 1251.72L258.12 1250.28L248.04 1250.28z" clip-path="url(#p4daa3f0c5f)" class="c40"/><path d="M258.12 1250.28L268.2 1250.28L268.2 1248.84L258.12 1248.84z" clip-path="url(#p4daa3f0c5f)" class="c40"/><path d="M268.2 1248.84L278.28 1248.84L278.28 1244.52L268.2 1244.52z" clip-path="url(#p4daa3f0c5f)" class="c40"/><path d="M278.28 1254.6L289.08 1254.6L289.08 1248.84L278.28 1248.84z" clip-path="url(#p4daa3f0c5f)" class="c40"/><path d="M289.08 1251.72L299.16 1251.72L299.16 1238.76L289.08 1238.76z" clip-path="url(#p4daa3f0c5f)" class="c40"/><path d="M299.16 1248.84L309.24 1248.84L309.24 1241.64L299.16 1241.64z" clip-path="url(#p4daa3f0c5f)" class="c40"/><path d="M309.24 1243.08L319.32 1243.08L319.32 1235.88L309.24 1235.88z" clip-path="url(#p4daa3f0c5f)" class="c40"/><path d="M319.32 1243.08L330.12 1243.08L330.12 1222.92L319.32 1222.92z" clip-path="url(#p4daa3f0c5f)" class="c40"/><path d="M330.12 1245.96L340.2 1245.96L340.2 1228.68L330.12 1228.68z" clip-path="url(#p4daa3f0c5f)" class="c40"/><path d="M340.2 1245.96L350.28 1245.96L350.28 1222.92L340.2 1222.92z" clip-path="url(#p4daa3f0c5f)" class="c40"/><path d="M350.28 1234.44L360.36 1234.44L360.36 1220.04L350.28 1220.04z" clip-path="url(#p4daa3f0c5f)" class="c40"/><path d="M360.36 1235.88L371.16 1235.88L371.16 1215.72L360.36 1215.72z" clip-path="url(#p4daa3f0c5f)" class="c40"/><path d="M371.16 1231.56L381.24 1231.56L381.24 1207.08L371.16 1207.08z" clip-path="url(#p4daa3f0c5f)" class="c40"/><path d="M381.24 1228.68L391.32 1228.68L391.32 1204.2L381.24 1204.2z" clip-path="url(#p4daa3f0c5f)" class="c40"/><path d="M391.32 1228.68L401.4 1228.68L401.4 1201.32L391.32 1201.32z" clip-path="url(#p4daa3f0c5f)" class="c40"/><path d="M401.4 1212.84L412.2 1212.84L412.2 1181.16L401.4 1181.16z" clip-path="url(#p4daa3f0c5f)" class="c40"/><path d="M412.2 1207.08L422.28 1207.08L422.28 1159.56L412.2 1159.56z" clip-path="url(#p4daa3f0c5f)" class="c40"/><path d="M422.28 1207.08L432.36 1207.08L432.36 1163.88L422.28 1163.88z" clip-path="url(#p4daa3f0c5f)" class="c40"/><path d="M432.36 1192.68L442.44 1192.68L442.44 1143.72L432.36 1143.72z" clip-path="url(#p4daa3f0c5f)" class="c40"/><path d="M442.44 1201.32L453.24 1201.32L453.24 1158.12L442.44 1158.12z" clip-path="url(#p4daa3f0c5f)" class="c40"/><path d="M453.24 1189.8L463.32 1189.8L463.32 1152.36L453.24 1152.36z" clip-path="url(#p4daa3f0c5f)" class="c40"/><path d="M463.32 1155.24L473.4 1155.24L473.4 1112.04L463.32 1112.04z" clip-path="url(#p4daa3f0c5f)" class="c40"/><path d="M473.4 1110.6L483.48 1110.6L483.48 1060.2L473.4 1060.2z" clip-path="url(#p4daa3f0c5f)" class="c40"/><path d="M483.48 1119.24L494.28 1119.24L494.28 1078.92L483.48 1078.92z" clip-path="url(#p4daa3f0c5f)" class="c40"/><path d="M494.28 1113.48L504.36 1113.48L504.36 1061.64L494.28 1061.64z" clip-path="url(#p4daa3f0c5f)" class="c40"/><path d="M504.36 1053L514.44 1053L514.44 991.08L504.36 991.08z" clip-path="url(#p4daa3f0c5f)" class="c40"/><path d="M73.08 1253.16L83.88 1253.16L83.88 1253.16L73.08 1253.16z" clip-path="url(#p4daa3f0c5f)" class="c37"/><path d="M83.88 1254.6L93.96 1254.6L93.96 1254.6L83.88 1254.6z" clip-path="url(#p4daa3f0c5f)" class="c37"/><path d="M93.96 1254.6L104.04 1254.6L104.04 1254.6L93.96 1254.6z" clip-path="url(#p4daa3f0c5f)" class="c37"/><path d="M104.04 1254.6L114.12 1254.6L114.12 1254.6L104.04 1254.6z" clip-path="url(#p4daa3f0c5f)" class="c37"/><path d="M114.12 1254.6L124.92 1254.6L124.92 1254.6L114.12 1254.6z" clip-path="url(#p4daa3f0c5f)" class="c37"/><path d="M124.92 1254.6L135 1254.6L135 1254.6L124.92 1254.6z" clip-path="url(#p4daa3f0c5f)" class="c37"/><path d="M135 1254.6L145.08 1254.6L145.08 1254.6L135 1254.6z" clip-path="url(#p4daa3f0c5f)" class="c37"/><path d="M145.08 1254.6L155.16 1254.6L155.16 1254.6L145.08 1254.6z" clip-path="url(#p4daa3f0c5f)" class="c37"/><path d="M155.16 1254.6L165.96 1254.6L165.96 1254.6L155.16 1254.6z" clip-path="url(#p4daa3f0c5f)" class="c37"/><path d="M165.96 1254.6L176.04 1254.6L176.04 1254.6L165.96 1254.6z" clip-path="url(#p4daa3f0c5f)" class="c37"/><path d="M176.04 1251.72L186.12 1251.72L186.12 1251.72L176.04 1251.72z" clip-path="url(#p4daa3f0c5f)" class="c37"/><path d="M186.12 1251.72L196.2 1251.72L196.2 1250.28L186.12 1250.28z" clip-path="url(#p4daa3f0c5f)" class="c37"/><path d="M196.2 1253.16L207 1253.16L207 1253.16L196.2 1253.16z" clip-path="url(#p4daa3f0c5f)" class="c37"/><path d="M207 1253.16L217.08 1253.16L217.08 1251.72L207 1251.72z" clip-path="url(#p4daa3f0c5f)" class="c37"/><path d="M217.08 1250.28L227.16 1250.28L227.16 1248.84L217.08 1248.84z" clip-path="url(#p4daa3f0c5f)" class="c37"/><path d="M227.16 1251.72L237.24 1251.72L237.24 1251.72L227.16 1251.72z" clip-path="url(#p4daa3f0c5f)" class="c37"/><path d="M237.24 1250.28L248.04 1250.28L248.04 1250.28L237.24 1250.28z" clip-path="url(#p4daa3f0c5f)" class="c37"/><path d="M248.04 1250.28L258.12 1250.28L258.12 1250.28L248.04 1250.28z" clip-path="url(#p4daa3f0c5f)" class="c37"/><path d="M258.12 1248.84L268.2 1248.84L268.2 1247.4L258.12 1247.4z" clip-path="url(#p4daa3f0c5f)" class="c37"/><path d="M268.2 1244.52L278.28 1244.52L278.28 1244.52L268.2 1244.52z" clip-path="url(#p4daa3f0c5f)" class="c37"/><path d="M278.28 1248.84L289.08 1248.84L289.08 1248.84L278.28 1248.84z" clip-path="url(#p4daa3f0c5f)" class="c37"/><path d="M289.08 1238.76L299.16 1238.76L299.16 1238.76L289.08 1238.76z" clip-path="url(#p4daa3f0c5f)" class="c37"/><path d="M299.16 1241.64L309.24 1241.64L309.24 1241.64L299.16 1241.64z" clip-path="url(#p4daa3f0c5f)" class="c37"/><path d="M309.24 1235.88L319.32 1235.88L319.32 1234.44L309.24 1234.44z" clip-path="url(#p4daa3f0c5f)" class="c37"/><path d="M319.32 1222.92L330.12 1222.92L330.12 1217.16L319.32 1217.16z" clip-path="url(#p4daa3f0c5f)" class="c37"/><path d="M330.12 1228.68L340.2 1228.68L340.2 1225.8L330.12 1225.8z" clip-path="url(#p4daa3f0c5f)" class="c37"/><path d="M340.2 1222.92L350.28 1222.92L350.28 1217.16L340.2 1217.16z" clip-path="url(#p4daa3f0c5f)" class="c37"/><path d="M350.28 1220.04L360.36 1220.04L360.36 1220.04L350.28 1220.04z" clip-path="url(#p4daa3f0c5f)" class="c37"/><path d="M360.36 1215.72L371.16 1215.72L371.16 1211.4L360.36 1211.4z" clip-path="url(#p4daa3f0c5f)" class="c37"/><path d="M371.16 1207.08L381.24 1207.08L381.24 1204.2L371.16 1204.2z" clip-path="url(#p4daa3f0c5f)" class="c37"/><path d="M381.24 1204.2L391.32 1204.2L391.32 1204.2L381.24 1204.2z" clip-path="url(#p4daa3f0c5f)" class="c37"/><path d="M391.32 1201.32L401.4 1201.32L401.4 1198.44L391.32 1198.44z" clip-path="url(#p4daa3f0c5f)" class="c37"/><path d="M401.4 1181.16L412.2 1181.16L412.2 1173.96L401.4 1173.96z" clip-path="url(#p4daa3f0c5f)" class="c37"/><path d="M412.2 1159.56L422.28 1159.56L422.28 1155.24L412.2 1155.24z" clip-path="url(#p4daa3f0c5f)" class="c37"/><path d="M422.28 1163.88L432.36 1163.88L432.36 1159.56L422.28 1159.56z" clip-path="url(#p4daa3f0c5f)" class="c37"/><path d="M432.36 1143.72L442.44 1143.72L442.44 1135.08L432.36 1135.08z" clip-path="url(#p4daa3f0c5f)" class="c37"/><path d="M442.44 1158.12L453.24 1158.12L453.24 1142.28L442.44 1142.28z" clip-path="url(#p4daa3f0c5f)" class="c37"/><path d="M453.24 1152.36L463.32 1152.36L463.32 1136.52L453.24 1136.52z" clip-path="url(#p4daa3f0c5f)" class="c37"/><path d="M463.32 1112.04L473.4 1112.04L473.4 1096.2L463.32 1096.2z" clip-path="url(#p4daa3f0c5f)" class="c37"/><path d="M473.4 1060.2L483.48 1060.2L483.48 1044.36L473.4 1044.36z" clip-path="url(#p4daa3f0c5f)" class="c37"/><path d="M483.48 1078.92L494.28 1078.92L494.28 1061.64L483.48 1061.64z" clip-path="url(#p4daa3f0c5f)" class="c37"/><path d="M494.28 1061.64L504.36 1061.64L504.36 1045.8L494.28 1045.8z" clip-path="url(#p4daa3f0c5f)" class="c37"/><path d="M504.36 991.08L514.44 991.08L514.44 981L504.36 981z" clip-path="url(#p4daa3f0c5f)" class="c37"/><path d="M73.08 1253.16L83.88 1253.16L83.88 1253.16L73.08 1253.16z" clip-path="url(#p4daa3f0c5f)" class="c41"/><path d="M83.88 1254.6L93.96 1254.6L93.96 1254.6L83.88 1254.6z" clip-path="url(#p4daa3f0c5f)" class="c41"/><path d="M93.96 1254.6L104.04 1254.6L104.04 1254.6L93.96 1254.6z" clip-path="url(#p4daa3f0c5f)" class="c41"/><path d="M104.04 1254.6L114.12 1254.6L114.12 1254.6L104.04 1254.6z" clip-path="url(#p4daa3f0c5f)" class="c41"/><path d="M114.12 1254.6L124.92 1254.6L124.92 1254.6L114.12 1254.6z" clip-path="url(#p4daa3f0c5f)" class="c41"/><path d="M124.92 1254.6L135 1254.6L135 1253.16L124.92 1253.16z" clip-path="url(#p4daa3f0c5f)" class="c41"/><path d="M135 1254.6L145.08 1254.6L145.08 1254.6L135 1254.6z" clip-path="url(#p4daa3f0c5f)" class="c41"/><path d="M145.08 1254.6L155.16 1254.6L155.16 1253.16L145.08 1253.16z" clip-path="url(#p4daa3f0c5f)" class="c41"/><path d="M155.16 1254.6L165.96 1254.6L165.96 1253.16L155.16 1253.16z" clip-path="url(#p4daa3f0c5f)" class="c41"/><path d="M165.96 1254.6L176.04 1254.6L176.04 1253.16L165.96 1253.16z" clip-path="url(#p4daa3f0c5f)" class="c41"/><path d="M176.04 1251.72L186.12 1251.72L186.12 1248.84L176.04 1248.84z" clip-path="url(#p4daa3f0c5f)" class="c41"/><path d="M186.12 1250.28L196.2 1250.28L196.2 1248.84L186.12 1248.84z" clip-path="url(#p4daa3f0c5f)" class="c41"/><path d="M196.2 1253.16L207 1253.16L207 1251.72L196.2 1251.72z" clip-path="url(#p4daa3f0c5f)" class="c41"/><path d="M207 1251.72L217.08 1251.72L217.08 1245.96L207 1245.96z" clip-path="url(#p4daa3f0c5f)" class="c41"/><path d="M217.08 1248.84L227.16 1248.84L227.16 1244.52L217.08 1244.52z" clip-path="url(#p4daa3f0c5f)" class="c41"/><path d="M227.16 1251.72L237.24 1251.72L237.24 1240.2L227.16 1240.2z" clip-path="url(#p4daa3f0c5f)" class="c41"/><path d="M237.24 1250.28L248.04 1250.28L248.04 1233L237.24 1233z" clip-path="url(#p4daa3f0c5f)" class="c41"/><path d="M248.04 1250.28L258.12 1250.28L258.12 1235.88L248.04 1235.88z" clip-path="url(#p4daa3f0c5f)" class="c41"/><path d="M258.12 1247.4L268.2 1247.4L268.2 1221.48L258.12 1221.48z" clip-path="url(#p4daa3f0c5f)" class="c41"/><path d="M268.2 1244.52L278.28 1244.52L278.28 1220.04L268.2 1220.04z" clip-path="url(#p4daa3f0c5f)" class="c41"/><path d="M278.28 1248.84L289.08 1248.84L289.08 1224.36L278.28 1224.36z" clip-path="url(#p4daa3f0c5f)" class="c41"/><path d="M289.08 1238.76L299.16 1238.76L299.16 1197L289.08 1197z" clip-path="url(#p4daa3f0c5f)" class="c41"/><path d="M299.16 1241.64L309.24 1241.64L309.24 1192.68L299.16 1192.68z" clip-path="url(#p4daa3f0c5f)" class="c41"/><path d="M309.24 1234.44L319.32 1234.44L319.32 1184.04L309.24 1184.04z" clip-path="url(#p4daa3f0c5f)" class="c41"/><path d="M319.32 1217.16L330.12 1217.16L330.12 1135.08L319.32 1135.08z" clip-path="url(#p4daa3f0c5f)" class="c41"/><path d="M330.12 1225.8L340.2 1225.8L340.2 1152.36L330.12 1152.36z" clip-path="url(#p4daa3f0c5f)" class="c41"/><path d="M340.2 1217.16L350.28 1217.16L350.28 1110.6L340.2 1110.6z" clip-path="url(#p4daa3f0c5f)" class="c41"/><path d="M350.28 1220.04L360.36 1220.04L360.36 1096.2L350.28 1096.2z" clip-path="url(#p4daa3f0c5f)" class="c41"/><path d="M360.36 1211.4L371.16 1211.4L371.16 1065.96L360.36 1065.96z" clip-path="url(#p4daa3f0c5f)" class="c41"/><path d="M371.16 1204.2L381.24 1204.2L381.24 1041.48L371.16 1041.48z" clip-path="url(#p4daa3f0c5f)" class="c41"/><path d="M381.24 1204.2L391.32 1204.2L391.32 1029.96L381.24 1029.96z" clip-path="url(#p4daa3f0c5f)" class="c41"/><path d="M391.32 1198.44L401.4 1198.44L401.4 1001.16L391.32 1001.16z" clip-path="url(#p4daa3f0c5f)" class="c41"/><path d="M401.4 1173.96L412.2 1173.96L412.2 969.48L401.4 969.48z" clip-path="url(#p4daa3f0c5f)" class="c41"/><path d="M412.2 1155.24L422.28 1155.24L422.28 893.16L412.2 893.16z" clip-path="url(#p4daa3f0c5f)" class="c41"/><path d="M422.28 1159.56L432.36 1159.56L432.36 887.4L422.28 887.4z" clip-path="url(#p4daa3f0c5f)" class="c41"/><path d="M432.36 1135.08L442.44 1135.08L442.44 881.64L432.36 881.64z" clip-path="url(#p4daa3f0c5f)" class="c41"/><path d="M442.44 1142.28L453.24 1142.28L453.24 855.72L442.44 855.72z" clip-path="url(#p4daa3f0c5f)" class="c41"/><path d="M453.24 1136.52L463.32 1136.52L463.32 864.36L453.24 864.36z" clip-path="url(#p4daa3f0c5f)" class="c41"/><path d="M463.32 1096.2L473.4 1096.2L473.4 890.28L463.32 890.28z" clip-path="url(#p4daa3f0c5f)" class="c41"/><path d="M473.4 1044.36L483.48 1044.36L483.48 798.12L473.4 798.12z" clip-path="url(#p4daa3f0c5f)" class="c41"/><path d="M483.48 1061.64L494.28 1061.64L494.28 793.8L483.48 793.8z" clip-path="url(#p4daa3f0c5f)" class="c41"/><path d="M494.28 1045.8L504.36 1045.8L504.36 844.2L494.28 844.2z" clip-path="url(#p4daa3f0c5f)" class="c41"/><path d="M504.36 981L514.44 981L514.44 832.68L504.36 832.68z" clip-path="url(#p4daa3f0c5f)" class="c41"/><path d="M73.08 1253.16L83.88 1253.16L83.88 1253.16L73.08 1253.16z" clip-path="url(#p4daa3f0c5f)" class="c43"/><path d="M83.88 1254.6L93.96 1254.6L93.96 1254.6L83.88 1254.6z" clip-path="url(#p4daa3f0c5f)" class="c43"/><path d="M93.96 1254.6L104.04 1254.6L104.04 1254.6L93.96 1254.6z" clip-path="url(#p4daa3f0c5f)" class="c43"/><path d="M104.04 1254.6L114.12 1254.6L114.12 1254.6L104.04 1254.6z" clip-path="url(#p4daa3f0c5f)" class="c43"/><path d="M114.12 1254.6L124.92 1254.6L124.92 1254.6L114.12 1254.6z" clip-path="url(#p4daa3f0c5f)" class="c43"/><path d="M124.92 1253.16L135 1253.16L135 1253.16L124.92 1253.16z" clip-path="url(#p4daa3f0c5f)" class="c43"/><path d="M135 1254.6L145.08 1254.6L145.08 1253.16L135 1253.16z" clip-path="url(#p4daa3f0c5f)" class="c43"/><path d="M145.08 1253.16L155.16 1253.16L155.16 1251.72L145.08 1251.72z" clip-path="url(#p4daa3f0c5f)" class="c43"/><path d="M155.16 1253.16L165.96 1253.16L165.96 1253.16L155.16 1253.16z" clip-path="url(#p4daa3f0c5f)" class="c43"/><path d="M165.96 1253.16L176.04 1253.16L176.04 1253.16L165.96 1253.16z" clip-path="url(#p4daa3f0c5f)" class="c43"/><path d="M176.04 1248.84L186.12 1248.84L186.12 1248.84L176.04 1248.84z" clip-path="url(#p4daa3f0c5f)" class="c43"/><path d="M186.12 1248.84L196.2 1248.84L196.2 1248.84L186.12 1248.84z" clip-path="url(#p4daa3f0c5f)" class="c43"/><path d="M196.2 1251.72L207 1251.72L207 1250.28L196.2 1250.28z" clip-path="url(#p4daa3f0c5f)" class="c43"/><path d="M207 1245.96L217.08 1245.96L217.08 1245.96L207 1245.96z" clip-path="url(#p4daa3f0c5f)" class="c43"/><path d="M217.08 1244.52L227.16 1244.52L227.16 1244.52L217.08 1244.52z" clip-path="url(#p4daa3f0c5f)" class="c43"/><path d="M227.16 1240.2L237.24 1240.2L237.24 1240.2L227.16 1240.2z" clip-path="url(#p4daa3f0c5f)" class="c43"/><path d="M237.24 1233L248.04 1233L248.04 1231.56L237.24 1231.56z" clip-path="url(#p4daa3f0c5f)" class="c43"/><path d="M248.04 1235.88L258.12 1235.88L258.12 1231.56L248.04 1231.56z" clip-path="url(#p4daa3f0c5f)" class="c43"/><path d="M258.12 1221.48L268.2 1221.48L268.2 1217.16L258.12 1217.16z" clip-path="url(#p4daa3f0c5f)" class="c43"/><path d="M268.2 1220.04L278.28 1220.04L278.28 1217.16L268.2 1217.16z" clip-path="url(#p4daa3f0c5f)" class="c43"/><path d="M278.28 1224.36L289.08 1224.36L289.08 1218.6L278.28 1218.6z" clip-path="url(#p4daa3f0c5f)" class="c43"/><path d="M289.08 1197L299.16 1197L299.16 1192.68L289.08 1192.68z" clip-path="url(#p4daa3f0c5f)" class="c43"/><path d="M299.16 1192.68L309.24 1192.68L309.24 1186.92L299.16 1186.92z" clip-path="url(#p4daa3f0c5f)" class="c43"/><path d="M309.24 1184.04L319.32 1184.04L319.32 1175.4L309.24 1175.4z" clip-path="url(#p4daa3f0c5f)" class="c43"/><path d="M319.32 1135.08L330.12 1135.08L330.12 1129.32L319.32 1129.32z" clip-path="url(#p4daa3f0c5f)" class="c43"/><path d="M330.12 1152.36L340.2 1152.36L340.2 1139.4L330.12 1139.4z" clip-path="url(#p4daa3f0c5f)" class="c43"/><path d="M340.2 1110.6L350.28 1110.6L350.28 1096.2L340.2 1096.2z" clip-path="url(#p4daa3f0c5f)" class="c43"/><path d="M350.28 1096.2L360.36 1096.2L360.36 1071.72L350.28 1071.72z" clip-path="url(#p4daa3f0c5f)" class="c43"/><path d="M360.36 1065.96L371.16 1065.96L371.16 1041.48L360.36 1041.48z" clip-path="url(#p4daa3f0c5f)" class="c43"/><path d="M371.16 1041.48L381.24 1041.48L381.24 1019.88L371.16 1019.88z" clip-path="url(#p4daa3f0c5f)" class="c43"/><path d="M381.24 1029.96L391.32 1029.96L391.32 1011.24L381.24 1011.24z" clip-path="url(#p4daa3f0c5f)" class="c43"/><path d="M391.32 1001.16L401.4 1001.16L401.4 969.48L391.32 969.48z" clip-path="url(#p4daa3f0c5f)" class="c43"/><path d="M401.4 969.48L412.2 969.48L412.2 937.8L401.4 937.8z" clip-path="url(#p4daa3f0c5f)" class="c43"/><path d="M412.2 893.16L422.28 893.16L422.28 838.44L412.2 838.44z" clip-path="url(#p4daa3f0c5f)" class="c43"/><path d="M422.28 887.4L432.36 887.4L432.36 857.16L422.28 857.16z" clip-path="url(#p4daa3f0c5f)" class="c43"/><path d="M432.36 881.64L442.44 881.64L442.44 835.56L432.36 835.56z" clip-path="url(#p4daa3f0c5f)" class="c43"/><path d="M442.44 855.72L453.24 855.72L453.24 798.12L442.44 798.12z" clip-path="url(#p4daa3f0c5f)" class="c43"/><path d="M453.24 864.36L463.32 864.36L463.32 821.16L453.24 821.16z" clip-path="url(#p4daa3f0c5f)" class="c43"/><path d="M463.32 890.28L473.4 890.28L473.4 819.72L463.32 819.72z" clip-path="url(#p4daa3f0c5f)" class="c43"/><path d="M473.4 798.12L483.48 798.12L483.48 736.2L473.4 736.2z" clip-path="url(#p4daa3f0c5f)" class="c43"/><path d="M483.48 793.8L494.28 793.8L494.28 697.32L483.48 697.32z" clip-path="url(#p4daa3f0c5f)" class="c43"/><path d="M494.28 844.2L504.36 844.2L504.36 775.08L494.28 775.08z" clip-path="url(#p4daa3f0c5f)" class="c43"/><path d="M504.36 832.68L514.44 832.68L514.44 767.88L504.36 767.88z" clip-path="url(#p4daa3f0c5f)" class="c43"/><g><g><path d="M52.92 1254.6L52.92 669.96" clip-path="url(#p4daa3f0c5f)" class="c9"/><use href="#m880bdcb491" x="52.92" y="1254.6" class="c10"/><g transform="translate(-0.3583 -0.3477)"><g transform="translate(40.75 1268.96) scale(0.1 -0.1)"><defs><path d="M678 2272L4684 2272L4684 1741L678 1741L678 2272z" id="DejaVuSans-2212" transform="scale(0.01562)"/></defs><use href="#DejaVuSans-2212" transform="translate(0 0)"/><use href="#DejaVuSans-30" transform="translate(83.7 0)"/><use href="#DejaVuSans-2e" transform="translate(146.7 0)"/><use href="#DejaVuSans-35" transform="translate(178.2 0)"/></g></g></g><g><path d="M145.8 1254.6L145.8 669.96" clip-path="url(#p4daa3f0c5f)" class="c9"/><use href="#m880bdcb491" x="145.8" y="1254.6" class="c10"/><g transform="translate(-0.5417 -0.2936)"><g transform="translate(133.03 1268.96) scale(0.1 -0.1)"><defs><path d="M2419 4116L825 1625L2419 1625L2419 4116zM2253 4666L3047 4666L3047 1625L3713 1625L3713 1100L3047 1100L3047 0L2419 0L2419 1100L313 1100L313 1709L2253 4666z" id="DejaVuSans-34" transform="scale(0.01562)"/></defs><use href="#DejaVuSans-2212" transform="translate(0 0)"/><use href="#DejaVuSans-30" transform="translate(83.7 0)"/><use href="#DejaVuSans-2e" transform="translate(146.7 0)"/><use href="#DejaVuSans-34" transform="translate(178.2 0)"/></g></g></g><g><path d="M237.96 1254.6L237.96 669.96" clip-path="url(#p4daa3f0c5f)" class="c9"/><use href="#m880bdcb491" x="237.96" y="1254.6" class="c10"/><g transform="translate(-0.6949 -0.3287)"><g transform="translate(225.31 1268.96) scale(0.1 -0.1)"><use href="#DejaVuSans-2212" transform="translate(0 0)"/><use href="#DejaVuSans-30" transform="translate(83.7 0)"/><use href="#DejaVuSans-2e" transform="translate(146.7 0)"/><use href="#DejaVuSans-33" transform="translate(178.2 0)"/></g></g></g><g><path d="M330.12 1254.6L330.12 669.96" clip-path="url(#p4daa3f0c5f)" class="c9"/><use href="#m880bdcb491" x="330.12" y="1254.6" class="c10"/><g transform="translate(-0.07041 -0.31)"><g transform="translate(317.59 1268.96) scale(0.1 -0.1)"><use href="#DejaVuSans-2212" transform="translate(0 0)"/><use href="#DejaVuSans-30" transform="translate(83.7 0)"/><use href="#DejaVuSans-2e" transform="translate(146.7 0)"/><use href="#DejaVuSans-32" transform="translate(178.2 0)"/></g></g></g><g><path d="M422.28 1254.6L422.28 669.96" clip-path="url(#p4daa3f0c5f)" class="c9"/><use href="#m880bdcb491" x="422.28" y="1254.6" class="c10"/><g transform="translate(-0.1128 -0.2987)"><g transform="translate(409.82 1268.96) scale(0.1 -0.1)"><use href="#DejaVuSans-2212" transform="translate(0 0)"/><use href="#DejaVuSans-30" transform="translate(83.7 0)"/><use href="#DejaVuSans-2e" transform="translate(146.7 0)"/><use href="#DejaVuSans-31" transform="translate(178.2 0)"/></g></g></g><g><path d="M514.44 1254.6L514.44 669.96" clip-path="url(#p4daa3f0c5f)" class="c9"/><use href="#m880bdcb491" x="514.44" y="1254.6" class="c10"/><g transform="translate(0.1435 -0.3417)"><g transform="translate(506.33 1268.96) scale(0.1 -0.1)"><use href="#DejaVuSans-30" transform="translate(0 0)"/><use href="#DejaVuSans-2e" transform="translate(63 0)"/><use href="#DejaVuSans-30" transform="translate(94.5 0)"/></g></g></g><g transform="translate(-0.2071 -0.07813)"><g transform="translate(279.26 1283.04) scale(0.1 -0.1)"><use href="#DejaVuSans-41" transform="translate(0 0)"/><use href="#DejaVuSans-6c" transform="translate(68.4 0)"/><use href="#DejaVuSans-70" transform="translate(96.3 0)"/><use href="#DejaVuSans-68" transform="translate(160.2 0)"/><use href="#DejaVuSans-61" transform="translate(223.2 0)"/></g></g></g><g><g><path d="M51.48 1254.6L536.76 1254.6" clip-path="url(#p4daa3f0c5f)" class="c9"/><use href="#m2df91f7dbd" x="51.48" y="1254.6" class="c10"/><g transform="translate(0.5461 -0.1764)"><g transform="translate(37.57 1258) scale(0.1 -0.1)"><use href="#DejaVuSans-30" transform="translate(0 0)"/></g></g></g><g><path d="M51.48 1182.6L536.76 1182.6" clip-path="url(#p4daa3f0c5f)" class="c9"/><use href="#m2df91f7dbd" x="51.48" y="1182.6" class="c10"/><g transform="translate(-0.6189 -0.1929)"><g transform="translate(31.27 1186.07) scale(0.1 -0.1)"><use href="#DejaVuSans-35" transform="translate(0 0)"/><use href="#DejaVuSans-30" transform="translate(63 0)"/></g></g></g><g><path d="M51.48 1110.6L536.76 1110.6" clip-path="url(#p4daa3f0c5f)" class="c9"/><use href="#m2df91f7dbd" x="51.48" y="1110.6" class="c10"/><g transform="translate(-0.3252 -0.1565)"><g transform="translate(24.88 1114.14) scale(0.1 -0.1)"><use href="#DejaVuSans-31" transform="translate(0 0)"/><use href="#DejaVuSans-30" transform="translate(63.9 0)"/><use href="#DejaVuSans-30" transform="translate(126.9 0)"/></g></g></g><g><path d="M51.48 1038.6L536.76 1038.6" clip-path="url(#p4daa3f0c5f)" class="c9"/><use href="#m2df91f7dbd" x="51.48" y="1038.6" class="c10"/><g transform="translate(-0.3176 0.3326)"><g transform="translate(24.88 1042.22) scale(0.1 -0.1)"><use href="#DejaVuSans-31" transform="translate(0 0)"/><use href="#DejaVuSans-35" transform="translate(63.9 0)"/><use href="#DejaVuSans-30" transform="translate(126.9 0)"/></g></g></g><g><path d="M51.48 966.6L536.76 966.6" clip-path="url(#p4daa3f0c5f)" class="c9"/><use href="#m2df91f7dbd" x="51.48" y="966.6" class="c10"/><g transform="translate(0.327 0.3741)"><g transform="translate(24.97 970.29) scale(0.1 -0.1)"><use href="#DejaVuSans-32" transform="translate(0 0)"/><use href="#DejaVuSans-30" transform="translate(63 0)"/><use href="#DejaVuSans-30" transform="translate(126 0)"/></g></g></g><g><path d="M51.48 894.6L536.76 894.6" clip-path="url(#p4daa3f0c5f)" class="c9"/><use href="#m2df91f7dbd" x="51.48" y="894.6" class="c10"/><g transform="translate(0.2807 0.2049)"><g transform="translate(24.97 898.36) scale(0.1 -0.1)"><use href="#DejaVuSans-32" transform="translate(0 0)"/><use href="#DejaVuSans-35" transform="translate(63 0)"/><use href="#DejaVuSans-30" transform="translate(126 0)"/></g></g></g><g><path d="M51.48 822.6L536.76 822.6" clip-path="url(#p4daa3f0c5f)" class="c9"/><use href="#m2df91f7dbd" x="51.48" y="822.6" class="c10"/><g transform="translate(-0.3135 0.2768)"><g transform="translate(24.97 826.43) scale(0.1 -0.1)"><use href="#DejaVuSans-33" transform="translate(0 0)"/><use href="#DejaVuSans-30" transform="translate(63 0)"/><use href="#DejaVuSans-30" transform="translate(126 0)"/></g></g></g><g><path d="M51.48 750.6L536.76 750.6" clip-path="url(#p4daa3f0c5f)" class="c9"/><use href="#m2df91f7dbd" x="51.48" y="750.6" class="c10"/><g transform="translate(-0.2807 0.1312)"><g transform="translate(24.97 754.5) scale(0.1 -0.1)"><use href="#DejaVuSans-33" transform="translate(0 0)"/><use href="#DejaVuSans-35" transform="translate(63 0)"/><use href="#DejaVuSans-30" transform="translate(126 0)"/></g></g></g><g><path d="M51.48 679.32L536.76 679.32" clip-path="url(#p4daa3f0c5f)" class="c9"/><use href="#m2df91f7dbd" x="51.48" y="679.32" class="c10"/><g transform="translate(-0.2083 -0.002231)"><g transform="translate(24.97 682.57) scale(0.1 -0.1)"><use href="#DejaVuSans-34" transform="translate(0 0)"/><use href="#DejaVuSans-30" transform="translate(63 0)"/><use href="#DejaVuSans-30" transform="translate(126 0)"/></g></g></g><g transform="translate(-0.08428 0.6417)"><g transform="translate(18.72 976.61) rotate(-90) scale(0.1 -0.1)"><use href="#DejaVuSans-43" transform="translate(0 0)"/><use href="#DejaVuSans-6f" transform="translate(70.2 0)"/><use href="#DejaVuSans-75" transform="translate(131.4 0)"/><use href="#DejaVuSans-6e" transform="translate(194.4 0)"/><use href="#DejaVuSans-74" transform="translate(257.4 0)"/></g></g></g><path d="M51.48 1254.6L51.48 669.96" class="c11"/><path d="M536.76 1254.6L536.76 669.96" class="c11"/><path d="M51.48 1254.6L536.76 1254.6" class="c11"/><path d="M51.48 669.96L536.76 669.96" class="c11"/><g transform="translate(-0.1222 0.02887)"><g transform="translate(171.66 663.48) scale(0.12 -0.12)"><defs><path d="M2906 1791Q2906 2416 2648 2759Q2391 3103 1925 3103Q1463 3103 1205 2759Q947 2416 947 1791Q947 1169 1205 825Q1463 481 1925 481Q2391 481 2648 825Q2906 1169 2906 1791zM3481 434Q3481-459 3084-895Q2688-1331 1869-1331Q1566-1331 1297-1286Q1028-1241 775-1147L775-588Q1028-725 1275-790Q1522-856 1778-856Q2344-856 2625-561Q2906-266 2906 331L2906 616Q2728 306 2450 153Q2172 0 1784 0Q1141 0 747 490Q353 981 353 1791Q353 2603 747 3093Q1141 3584 1784 3584Q2172 3584 2450 3431Q2728 3278 2906 2969L2906 3500L3481 3500L3481 434z" id="DejaVuSans-67" transform="scale(0.01562)"/></defs><use href="#DejaVuSans-4e" transform="translate(0 0)"/><use href="#DejaVuSans-65" transform="translate(75 0)"/><use href="#DejaVuSans-67" transform="translate(136.5 0)"/><use href="#DejaVuSans-61" transform="translate(199.5 0)"/><use href="#DejaVuSans-74" transform="translate(260.25 0)"/><use href="#DejaVuSans-69" transform="translate(299.25 0)"/><use href="#DejaVuSans-76" transform="translate(327 0)"/><use href="#DejaVuSans-65" transform="translate(386.25 0)"/><use href="#DejaVuSans-20" transform="translate(447.75 0)"/><use href="#DejaVuSans-41" transform="translate(479.25 0)"/><use href="#DejaVuSans-6c" transform="translate(547.5 0)"/><use href="#DejaVuSans-70" transform="translate(575.25 0)"/><use href="#DejaVuSans-68" transform="translate(638.25 0)"/><use href="#DejaVuSans-61" transform="translate(701.25 0)"/><use href="#DejaVuSans-20" transform="translate(762 0)"/><use href="#DejaVuSans-56" transform="translate(793.5 0)"/><use href="#DejaVuSans-61" transform="translate(854.25 0)"/><use href="#DejaVuSans-6c" transform="translate(915 0)"/><use href="#DejaVuSans-75" transform="translate(942.75 0)"/><use href="#DejaVuSans-65" transform="translate(1005.75 0)"/><use href="#DejaVuSans-73" transform="translate(1067.25 0)"/><use href="#DejaVuSans-20" transform="translate(1119.75 0)"/><use href="#DejaVuSans-62" transform="translate(1151.25 0)"/><use href="#DejaVuSans-79" transform="translate(1214.25 0)"/><use href="#DejaVuSans-20" transform="translate(1273.5 0)"/><use href="#DejaVuSans-4d" transform="translate(1305 0)"/><use href="#DejaVuSans-6f" transform="translate(1391.25 0)"/><use href="#DejaVuSans-64" transform="translate(1452 0)"/><use href="#DejaVuSans-65" transform="translate(1515 0)"/><use href="#DejaVuSans-6c" transform="translate(1576.5 0)"/><use href="#DejaVuSans-20" transform="translate(1604.25 0)"/><use href="#DejaVuSans-43" transform="translate(1635.75 0)"/><use href="#DejaVuSans-6f" transform="translate(1704.75 0)"/><use href="#DejaVuSans-75" transform="translate(1765.5 0)"/><use href="#DejaVuSans-6e" transform="translate(1828.5 0)"/><use href="#DejaVuSans-74" transform="translate(1891.5 0)"/><use href="#DejaVuSans-72" transform="translate(1930.5 0)"/><use href="#DejaVuSans-79" transform="translate(1971.75 0)"/></g></g><g><path d="M57.87 903.68L132.79 903.68Q134.79 903.68 134.79 901.68L134.79 676.48Q134.79 674.48 132.79 674.48L57.87 674.48Q55.87 674.48 55.87 676.48L55.87 901.68Q55.87 903.68 57.87 903.68z" class="c12"/><g transform="translate(-0.4763 -0.3186)"><g transform="translate(59.87 686.4) scale(0.1 -0.1)"><use href="#DejaVuSans-6d" transform="translate(0 0)"/><use href="#DejaVuSans-6f" transform="translate(97.2 0)"/><use href="#DejaVuSans-64" transform="translate(158.4 0)"/><use href="#DejaVuSans-65" transform="translate(222.3 0)"/><use href="#DejaVuSans-6c" transform="translate(283.5 0)"/><use href="#DejaVuSans-43" transform="translate(311.4 0)"/><use href="#DejaVuSans-6f" transform="translate(381.6 0)"/><use href="#DejaVuSans-75" transform="translate(442.8 0)"/><use href="#DejaVuSans-6e" transform="translate(505.8 0)"/><use href="#DejaVuSans-74" transform="translate(568.8 0)"/><use href="#DejaVuSans-72" transform="translate(608.4 0)"/><use href="#DejaVuSans-79" transform="translate(649.8 0)"/></g></g><path d="M73.8 701.64L93.96 701.64L93.96 695.16L73.8 695.16z" class="c45"/><g transform="translate(-0.3079 -0.1869)"><g transform="translate(101.32 701.48) scale(0.1 -0.1)"><use href="#DejaVuSans-49" transform="translate(0 0)"/><use href="#DejaVuSans-4e" transform="translate(28.8 0)"/></g></g><path d="M73.8 716.76L93.96 716.76L93.96 709.56L73.8 709.56z" class="c46"/><g transform="translate(-0.2525 -0.1524)"><g transform="translate(101.32 716.56) scale(0.1 -0.1)"><use href="#DejaVuSans-43" transform="translate(0 0)"/><use href="#DejaVuSans-4e" transform="translate(70.2 0)"/></g></g><path d="M73.8 731.88L93.96 731.88L93.96 724.68L73.8 724.68z" class="c47"/><g transform="translate(-0.2625 -0.07601)"><g transform="translate(101.32 731.64) scale(0.1 -0.1)"><use href="#DejaVuSans-58" transform="translate(0 0)"/><use href="#DejaVuSans-48" transform="translate(68.4 0)"/></g></g><path d="M73.8 747L93.96 747L93.96 739.8L73.8 739.8z" class="c48"/><g transform="translate(-0.2266 -0.02037)"><g transform="translate(101.32 746.72) scale(0.1 -0.1)"><use href="#DejaVuSans-4b" transform="translate(0 0)"/><use href="#DejaVuSans-52" transform="translate(64.8 0)"/></g></g><path d="M73.8 762.12L93.96 762.12L93.96 754.92L73.8 754.92z" class="c49"/><g transform="translate(-0.2205 0.08199)"><g transform="translate(101.32 761.8) scale(0.1 -0.1)"><use href="#DejaVuSans-4a" transform="translate(0 0)"/><use href="#DejaVuSans-50" transform="translate(28.8 0)"/></g></g><path d="M73.8 777.24L93.96 777.24L93.96 770.04L73.8 770.04z" class="c50"/><g transform="translate(0.2905 0.05819)"><g transform="translate(101.32 776.88) scale(0.1 -0.1)"><use href="#DejaVuSans-54" transform="translate(0 0)"/><use href="#DejaVuSans-57" transform="translate(61.2 0)"/></g></g><path d="M73.8 792.36L93.96 792.36L93.96 785.16L73.8 785.16z" class="c45"/><g transform="translate(-0.205 0.1029)"><g transform="translate(101.32 791.96) scale(0.1 -0.1)"><use href="#DejaVuSans-49" transform="translate(0 0)"/><use href="#DejaVuSans-44" transform="translate(28.8 0)"/></g></g><path d="M73.8 807.48L93.96 807.48L93.96 800.28L73.8 800.28z" class="c50"/><g transform="translate(-0.1565 0.1312)"><g transform="translate(101.32 807.04) scale(0.1 -0.1)"><use href="#DejaVuSans-4e" transform="translate(0 0)"/><use href="#DejaVuSans-5a" transform="translate(74.7 0)"/></g></g><path d="M73.8 822.6L93.96 822.6L93.96 815.4L73.8 815.4z" class="c46"/><g transform="translate(0.5186 0.2122)"><g transform="translate(101.32 822.12) scale(0.1 -0.1)"><use href="#DejaVuSans-53" transform="translate(0 0)"/><use href="#DejaVuSans-47" transform="translate(63 0)"/></g></g><path d="M73.8 837.72L93.96 837.72L93.96 830.52L73.8 830.52z" class="c51"/><g transform="translate(-0.1058 0.1305)"><g transform="translate(101.32 837.2) scale(0.1 -0.1)"><use href="#DejaVuSans-41" transform="translate(0 0)"/><use href="#DejaVuSans-55" transform="translate(68.4 0)"/></g></g><path d="M73.8 852.84L93.96 852.84L93.96 845.64L73.8 845.64z" class="c48"/><g transform="translate(-0.1168 0.2674)"><g transform="translate(101.32 852.28) scale(0.1 -0.1)"><use href="#DejaVuSans-48" transform="translate(0 0)"/><use href="#DejaVuSans-4b" transform="translate(74.7 0)"/></g></g><path d="M73.8 867.96L93.96 867.96L93.96 860.76L73.8 860.76z" class="c51"/><g transform="translate(-0.1214 0.2731)"><g transform="translate(101.32 867.36) scale(0.1 -0.1)"><use href="#DejaVuSans-4d" transform="translate(0 0)"/><use href="#DejaVuSans-59" transform="translate(86.4 0)"/></g></g><path d="M73.8 883.08L93.96 883.08L93.96 875.88L73.8 875.88z" class="c52"/><g transform="translate(0.1082 0.2846)"><g transform="translate(101.32 882.44) scale(0.1 -0.1)"><use href="#DejaVuSans-54" transform="translate(0 0)"/><use href="#DejaVuSans-48" transform="translate(61.2 0)"/></g></g><path d="M73.8 898.2L93.96 898.2L93.96 891L73.8 891z" class="c47"/><g transform="translate(-0.2042 0.4005)"><g transform="translate(101.32 897.52) scale(0.1 -0.1)"><use href="#DejaVuSans-50" transform="translate(0 0)"/><use href="#DejaVuSans-48" transform="translate(60.3 0)"/></g></g></g></g><g><path d="M583.92 1254.24L1069.2 1254.24L1069.2 669.6L583.92 669.6z" class="c0"/><path d="M606.6 1254.6L616.68 1254.6L616.68 1254.6L606.6 1254.6L606.6 1254.6z" clip-path="url(#p9b1065b066)" class="c26"/><path d="M616.68 1254.6L626.76 1254.6L626.76 1254.6L616.68 1254.6L616.68 1254.6z" clip-path="url(#p9b1065b066)" class="c26"/><path d="M626.76 1254.6L636.84 1254.6L636.84 1254.6L626.76 1254.6L626.76 1254.6z" clip-path="url(#p9b1065b066)" class="c26"/><path d="M636.84 1254.6L647.64 1254.6L647.64 1254.6L636.84 1254.6L636.84 1254.6z" clip-path="url(#p9b1065b066)" class="c26"/><path d="M647.64 1254.6L657.72 1254.6L657.72 1254.6L647.64 1254.6L647.64 1254.6z" clip-path="url(#p9b1065b066)" class="c26"/><path d="M657.72 1254.6L667.8 1254.6L667.8 1254.6L657.72 1254.6L657.72 1254.6z" clip-path="url(#p9b1065b066)" class="c26"/><path d="M667.8 1254.6L677.88 1254.6L677.88 1254.6L667.8 1254.6L667.8 1254.6z" clip-path="url(#p9b1065b066)" class="c26"/><path d="M677.88 1254.6L688.68 1254.6L688.68 1254.6L677.88 1254.6L677.88 1254.6z" clip-path="url(#p9b1065b066)" class="c26"/><path d="M688.68 1254.6L698.76 1254.6L698.76 1254.6L688.68 1254.6L688.68 1254.6z" clip-path="url(#p9b1065b066)" class="c26"/><path d="M698.76 1254.6L708.84 1254.6L708.84 1254.6L698.76 1254.6L698.76 1254.6z" clip-path="url(#p9b1065b066)" class="c26"/><path d="M708.84 1254.6L718.92 1254.6L718.92 1254.6L708.84 1254.6L708.84 1254.6z" clip-path="url(#p9b1065b066)" class="c26"/><path d="M718.92 1254.6L729.72 1254.6L729.72 1254.6L718.92 1254.6L718.92 1254.6z" clip-path="url(#p9b1065b066)" class="c26"/><path d="M729.72 1254.6L739.8 1254.6L739.8 1254.6L729.72 1254.6L729.72 1254.6z" clip-path="url(#p9b1065b066)" class="c26"/><path d="M739.8 1254.6L749.88 1254.6L749.88 1254.6L739.8 1254.6L739.8 1254.6z" clip-path="url(#p9b1065b066)" class="c26"/><path d="M749.88 1254.6L759.96 1254.6L759.96 1254.6L749.88 1254.6L749.88 1254.6z" clip-path="url(#p9b1065b066)" class="c26"/><path d="M759.96 1254.6L770.76 1254.6L770.76 1254.6L759.96 1254.6L759.96 1254.6z" clip-path="url(#p9b1065b066)" class="c26"/><path d="M770.76 1254.6L780.84 1254.6L780.84 1254.6L770.76 1254.6L770.76 1254.6z" clip-path="url(#p9b1065b066)" class="c26"/><path d="M780.84 1254.6L790.92 1254.6L790.92 1254.6L780.84 1254.6L780.84 1254.6z" clip-path="url(#p9b1065b066)" class="c26"/><path d="M790.92 1254.6L801 1254.6L801 1254.6L790.92 1254.6L790.92 1254.6z" clip-path="url(#p9b1065b066)" class="c26"/><path d="M801 1254.6L811.8 1254.6L811.8 1254.6L801 1254.6L801 1254.6z" clip-path="url(#p9b1065b066)" class="c26"/><path d="M811.8 1254.6L821.88 1254.6L821.88 1254.6L811.8 1254.6L811.8 1254.6z" clip-path="url(#p9b1065b066)" class="c26"/><path d="M821.88 1254.6L831.96 1254.6L831.96 1254.6L821.88 1254.6L821.88 1254.6z" clip-path="url(#p9b1065b066)" class="c26"/><path d="M831.96 1254.6L842.04 1254.6L842.04 1254.6L831.96 1254.6L831.96 1254.6z" clip-path="url(#p9b1065b066)" class="c26"/><path d="M842.04 1254.6L852.84 1254.6L852.84 1254.6L842.04 1254.6L842.04 1254.6z" clip-path="url(#p9b1065b066)" class="c26"/><path d="M852.84 1254.6L862.92 1254.6L862.92 1254.6L852.84 1254.6L852.84 1254.6z" clip-path="url(#p9b1065b066)" class="c26"/><path d="M862.92 1254.6L873 1254.6L873 1254.6L862.92 1254.6L862.92 1254.6z" clip-path="url(#p9b1065b066)" class="c26"/><path d="M873 1254.6L883.08 1254.6L883.08 1254.6L873 1254.6L873 1254.6z" clip-path="url(#p9b1065b066)" class="c26"/><path d="M883.08 1254.6L893.88 1254.6L893.88 1254.6L883.08 1254.6L883.08 1254.6z" clip-path="url(#p9b1065b066)" class="c26"/><path d="M893.88 1254.6L903.96 1254.6L903.96 1254.6L893.88 1254.6L893.88 1254.6z" clip-path="url(#p9b1065b066)" class="c26"/><path d="M903.96 1254.6L914.04 1254.6L914.04 1254.6L903.96 1254.6L903.96 1254.6z" clip-path="url(#p9b1065b066)" class="c26"/><path d="M914.04 1254.6L924.12 1254.6L924.12 1254.6L914.04 1254.6L914.04 1254.6z" clip-path="url(#p9b1065b066)" class="c26"/><path d="M924.12 1254.6L934.92 1254.6L934.92 1254.6L924.12 1254.6L924.12 1254.6z" clip-path="url(#p9b1065b066)" class="c26"/><path d="M934.92 1254.6L945 1254.6L945 1254.6L934.92 1254.6L934.92 1254.6z" clip-path="url(#p9b1065b066)" class="c26"/><path d="M945 1254.6L955.08 1254.6L955.08 1254.6L945 1254.6L945 1254.6z" clip-path="url(#p9b1065b066)" class="c26"/><path d="M955.08 1254.6L965.16 1254.6L965.16 1251.72L955.08 1251.72L955.08 1254.6z" clip-path="url(#p9b1065b066)" class="c26"/><path d="M965.16 1254.6L975.96 1254.6L975.96 1254.6L965.16 1254.6L965.16 1254.6z" clip-path="url(#p9b1065b066)" class="c26"/><path d="M975.96 1254.6L986.04 1254.6L986.04 1254.6L975.96 1254.6L975.96 1254.6z" clip-path="url(#p9b1065b066)" class="c26"/><path d="M986.04 1254.6L996.12 1254.6L996.12 1254.6L986.04 1254.6L986.04 1254.6z" clip-path="url(#p9b1065b066)" class="c26"/><path d="M996.12 1254.6L1006.2 1254.6L1006.2 1254.6L996.12 1254.6L996.12 1254.6z" clip-path="url(#p9b1065b066)" class="c26"/><path d="M1006.2 1254.6L1017 1254.6L1017 1254.6L1006.2 1254.6L1006.2 1254.6z" clip-path="url(#p9b1065b066)" class="c26"/><path d="M1017 1254.6L1027.08 1254.6L1027.08 1254.6L1017 1254.6L1017 1254.6z" clip-path="url(#p9b1065b066)" class="c26"/><path d="M1027.08 1254.6L1037.16 1254.6L1037.16 1254.6L1027.08 1254.6L1027.08 1254.6z" clip-path="url(#p9b1065b066)" class="c26"/><path d="M1037.16 1254.6L1047.24 1254.6L1047.24 1251.72L1037.16 1251.72L1037.16 1254.6z" clip-path="url(#p9b1065b066)" class="c26"/><path d="M606.6 1254.6L616.68 1254.6L616.68 1254.6L606.6 1254.6L606.6 1254.6z" clip-path="url(#p9b1065b066)" class="c24"/><path d="M616.68 1254.6L626.76 1254.6L626.76 1254.6L616.68 1254.6L616.68 1254.6z" clip-path="url(#p9b1065b066)" class="c24"/><path d="M626.76 1254.6L636.84 1254.6L636.84 1254.6L626.76 1254.6L626.76 1254.6z" clip-path="url(#p9b1065b066)" class="c24"/><path d="M636.84 1254.6L647.64 1254.6L647.64 1254.6L636.84 1254.6L636.84 1254.6z" clip-path="url(#p9b1065b066)" class="c24"/><path d="M647.64 1254.6L657.72 1254.6L657.72 1254.6L647.64 1254.6L647.64 1254.6z" clip-path="url(#p9b1065b066)" class="c24"/><path d="M657.72 1254.6L667.8 1254.6L667.8 1254.6L657.72 1254.6L657.72 1254.6z" clip-path="url(#p9b1065b066)" class="c24"/><path d="M667.8 1254.6L677.88 1254.6L677.88 1254.6L667.8 1254.6L667.8 1254.6z" clip-path="url(#p9b1065b066)" class="c24"/><path d="M677.88 1254.6L688.68 1254.6L688.68 1254.6L677.88 1254.6L677.88 1254.6z" clip-path="url(#p9b1065b066)" class="c24"/><path d="M688.68 1254.6L698.76 1254.6L698.76 1254.6L688.68 1254.6L688.68 1254.6z" clip-path="url(#p9b1065b066)" class="c24"/><path d="M698.76 1254.6L708.84 1254.6L708.84 1254.6L698.76 1254.6L698.76 1254.6z" clip-path="url(#p9b1065b066)" class="c24"/><path d="M708.84 1254.6L718.92 1254.6L718.92 1254.6L708.84 1254.6L708.84 1254.6z" clip-path="url(#p9b1065b066)" class="c24"/><path d="M718.92 1254.6L729.72 1254.6L729.72 1254.6L718.92 1254.6L718.92 1254.6z" clip-path="url(#p9b1065b066)" class="c24"/><path d="M729.72 1254.6L739.8 1254.6L739.8 1254.6L729.72 1254.6L729.72 1254.6z" clip-path="url(#p9b1065b066)" class="c24"/><path d="M739.8 1254.6L749.88 1254.6L749.88 1254.6L739.8 1254.6L739.8 1254.6z" clip-path="url(#p9b1065b066)" class="c24"/><path d="M749.88 1254.6L759.96 1254.6L759.96 1254.6L749.88 1254.6L749.88 1254.6z" clip-path="url(#p9b1065b066)" class="c24"/><path d="M759.96 1254.6L770.76 1254.6L770.76 1254.6L759.96 1254.6L759.96 1254.6z" clip-path="url(#p9b1065b066)" class="c24"/><path d="M770.76 1254.6L780.84 1254.6L780.84 1254.6L770.76 1254.6L770.76 1254.6z" clip-path="url(#p9b1065b066)" class="c24"/><path d="M780.84 1254.6L790.92 1254.6L790.92 1254.6L780.84 1254.6L780.84 1254.6z" clip-path="url(#p9b1065b066)" class="c24"/><path d="M790.92 1254.6L801 1254.6L801 1254.6L790.92 1254.6L790.92 1254.6z" clip-path="url(#p9b1065b066)" class="c24"/><path d="M801 1254.6L811.8 1254.6L811.8 1254.6L801 1254.6L801 1254.6z" clip-path="url(#p9b1065b066)" class="c24"/><path d="M811.8 1254.6L821.88 1254.6L821.88 1254.6L811.8 1254.6L811.8 1254.6z" clip-path="url(#p9b1065b066)" class="c24"/><path d="M821.88 1254.6L831.96 1254.6L831.96 1254.6L821.88 1254.6L821.88 1254.6z" clip-path="url(#p9b1065b066)" class="c24"/><path d="M831.96 1254.6L842.04 1254.6L842.04 1254.6L831.96 1254.6L831.96 1254.6z" clip-path="url(#p9b1065b066)" class="c24"/><path d="M842.04 1254.6L852.84 1254.6L852.84 1254.6L842.04 1254.6L842.04 1254.6z" clip-path="url(#p9b1065b066)" class="c24"/><path d="M852.84 1254.6L862.92 1254.6L862.92 1254.6L852.84 1254.6L852.84 1254.6z" clip-path="url(#p9b1065b066)" class="c24"/><path d="M862.92 1254.6L873 1254.6L873 1254.6L862.92 1254.6L862.92 1254.6z" clip-path="url(#p9b1065b066)" class="c24"/><path d="M873 1254.6L883.08 1254.6L883.08 1254.6L873 1254.6L873 1254.6z" clip-path="url(#p9b1065b066)" class="c24"/><path d="M883.08 1254.6L893.88 1254.6L893.88 1254.6L883.08 1254.6L883.08 1254.6z" clip-path="url(#p9b1065b066)" class="c24"/><path d="M893.88 1254.6L903.96 1254.6L903.96 1254.6L893.88 1254.6L893.88 1254.6z" clip-path="url(#p9b1065b066)" class="c24"/><path d="M903.96 1254.6L914.04 1254.6L914.04 1254.6L903.96 1254.6L903.96 1254.6z" clip-path="url(#p9b1065b066)" class="c24"/><path d="M914.04 1254.6L924.12 1254.6L924.12 1254.6L914.04 1254.6L914.04 1254.6z" clip-path="url(#p9b1065b066)" class="c24"/><path d="M924.12 1254.6L934.92 1254.6L934.92 1254.6L924.12 1254.6L924.12 1254.6z" clip-path="url(#p9b1065b066)" class="c24"/><path d="M934.92 1254.6L945 1254.6L945 1251.72L934.92 1251.72L934.92 1254.6z" clip-path="url(#p9b1065b066)" class="c24"/><path d="M945 1254.6L955.08 1254.6L955.08 1254.6L945 1254.6L945 1254.6z" clip-path="url(#p9b1065b066)" class="c24"/><path d="M955.08 1254.6L965.16 1254.6L965.16 1254.6L955.08 1254.6L955.08 1254.6z" clip-path="url(#p9b1065b066)" class="c24"/><path d="M965.16 1254.6L975.96 1254.6L975.96 1254.6L965.16 1254.6L965.16 1254.6z" clip-path="url(#p9b1065b066)" class="c24"/><path d="M975.96 1254.6L986.04 1254.6L986.04 1254.6L975.96 1254.6L975.96 1254.6z" clip-path="url(#p9b1065b066)" class="c24"/><path d="M986.04 1254.6L996.12 1254.6L996.12 1251.72L986.04 1251.72L986.04 1254.6z" clip-path="url(#p9b1065b066)" class="c24"/><path d="M996.12 1254.6L1006.2 1254.6L1006.2 1254.6L996.12 1254.6L996.12 1254.6z" clip-path="url(#p9b1065b066)" class="c24"/><path d="M1006.2 1254.6L1017 1254.6L1017 1248.84L1006.2 1248.84L1006.2 1254.6z" clip-path="url(#p9b1065b066)" class="c24"/><path d="M1017 1254.6L1027.08 1254.6L1027.08 1254.6L1017 1254.6L1017 1254.6z" clip-path="url(#p9b1065b066)" class="c24"/><path d="M1027.08 1254.6L1037.16 1254.6L1037.16 1248.84L1027.08 1248.84L1027.08 1254.6z" clip-path="url(#p9b1065b066)" class="c24"/><path d="M1037.16 1254.6L1047.24 1254.6L1047.24 1251.72L1037.16 1251.72L1037.16 1254.6z" clip-path="url(#p9b1065b066)" class="c24"/><path d="M606.6 1254.6L616.68 1254.6L616.68 1254.6L606.6 1254.6L606.6 1254.6z" clip-path="url(#p9b1065b066)" class="c28"/><path d="M616.68 1254.6L626.76 1254.6L626.76 1254.6L616.68 1254.6L616.68 1254.6z" clip-path="url(#p9b1065b066)" class="c28"/><path d="M626.76 1254.6L636.84 1254.6L636.84 1254.6L626.76 1254.6L626.76 1254.6z" clip-path="url(#p9b1065b066)" class="c28"/><path d="M636.84 1254.6L647.64 1254.6L647.64 1254.6L636.84 1254.6L636.84 1254.6z" clip-path="url(#p9b1065b066)" class="c28"/><path d="M647.64 1254.6L657.72 1254.6L657.72 1254.6L647.64 1254.6L647.64 1254.6z" clip-path="url(#p9b1065b066)" class="c28"/><path d="M657.72 1254.6L667.8 1254.6L667.8 1254.6L657.72 1254.6L657.72 1254.6z" clip-path="url(#p9b1065b066)" class="c28"/><path d="M667.8 1254.6L677.88 1254.6L677.88 1254.6L667.8 1254.6L667.8 1254.6z" clip-path="url(#p9b1065b066)" class="c28"/><path d="M677.88 1254.6L688.68 1254.6L688.68 1254.6L677.88 1254.6L677.88 1254.6z" clip-path="url(#p9b1065b066)" class="c28"/><path d="M688.68 1254.6L698.76 1254.6L698.76 1254.6L688.68 1254.6L688.68 1254.6z" clip-path="url(#p9b1065b066)" class="c28"/><path d="M698.76 1254.6L708.84 1254.6L708.84 1254.6L698.76 1254.6L698.76 1254.6z" clip-path="url(#p9b1065b066)" class="c28"/><path d="M708.84 1254.6L718.92 1254.6L718.92 1254.6L708.84 1254.6L708.84 1254.6z" clip-path="url(#p9b1065b066)" class="c28"/><path d="M718.92 1254.6L729.72 1254.6L729.72 1254.6L718.92 1254.6L718.92 1254.6z" clip-path="url(#p9b1065b066)" class="c28"/><path d="M729.72 1254.6L739.8 1254.6L739.8 1254.6L729.72 1254.6L729.72 1254.6z" clip-path="url(#p9b1065b066)" class="c28"/><path d="M739.8 1254.6L749.88 1254.6L749.88 1254.6L739.8 1254.6L739.8 1254.6z" clip-path="url(#p9b1065b066)" class="c28"/><path d="M749.88 1254.6L759.96 1254.6L759.96 1254.6L749.88 1254.6L749.88 1254.6z" clip-path="url(#p9b1065b066)" class="c28"/><path d="M759.96 1254.6L770.76 1254.6L770.76 1254.6L759.96 1254.6L759.96 1254.6z" clip-path="url(#p9b1065b066)" class="c28"/><path d="M770.76 1254.6L780.84 1254.6L780.84 1254.6L770.76 1254.6L770.76 1254.6z" clip-path="url(#p9b1065b066)" class="c28"/><path d="M780.84 1254.6L790.92 1254.6L790.92 1254.6L780.84 1254.6L780.84 1254.6z" clip-path="url(#p9b1065b066)" class="c28"/><path d="M790.92 1254.6L801 1254.6L801 1254.6L790.92 1254.6L790.92 1254.6z" clip-path="url(#p9b1065b066)" class="c28"/><path d="M801 1254.6L811.8 1254.6L811.8 1254.6L801 1254.6L801 1254.6z" clip-path="url(#p9b1065b066)" class="c28"/><path d="M811.8 1254.6L821.88 1254.6L821.88 1254.6L811.8 1254.6L811.8 1254.6z" clip-path="url(#p9b1065b066)" class="c28"/><path d="M821.88 1254.6L831.96 1254.6L831.96 1254.6L821.88 1254.6L821.88 1254.6z" clip-path="url(#p9b1065b066)" class="c28"/><path d="M831.96 1254.6L842.04 1254.6L842.04 1254.6L831.96 1254.6L831.96 1254.6z" clip-path="url(#p9b1065b066)" class="c28"/><path d="M842.04 1254.6L852.84 1254.6L852.84 1254.6L842.04 1254.6L842.04 1254.6z" clip-path="url(#p9b1065b066)" class="c28"/><path d="M852.84 1254.6L862.92 1254.6L862.92 1254.6L852.84 1254.6L852.84 1254.6z" clip-path="url(#p9b1065b066)" class="c28"/><path d="M862.92 1254.6L873 1254.6L873 1254.6L862.92 1254.6L862.92 1254.6z" clip-path="url(#p9b1065b066)" class="c28"/><path d="M873 1254.6L883.08 1254.6L883.08 1254.6L873 1254.6L873 1254.6z" clip-path="url(#p9b1065b066)" class="c28"/><path d="M883.08 1254.6L893.88 1254.6L893.88 1254.6L883.08 1254.6L883.08 1254.6z" clip-path="url(#p9b1065b066)" class="c28"/><path d="M893.88 1254.6L903.96 1254.6L903.96 1254.6L893.88 1254.6L893.88 1254.6z" clip-path="url(#p9b1065b066)" class="c28"/><path d="M903.96 1254.6L914.04 1254.6L914.04 1254.6L903.96 1254.6L903.96 1254.6z" clip-path="url(#p9b1065b066)" class="c28"/><path d="M914.04 1254.6L924.12 1254.6L924.12 1254.6L914.04 1254.6L914.04 1254.6z" clip-path="url(#p9b1065b066)" class="c28"/><path d="M924.12 1254.6L934.92 1254.6L934.92 1254.6L924.12 1254.6L924.12 1254.6z" clip-path="url(#p9b1065b066)" class="c28"/><path d="M934.92 1254.6L945 1254.6L945 1251.72L934.92 1251.72L934.92 1254.6z" clip-path="url(#p9b1065b066)" class="c28"/><path d="M945 1254.6L955.08 1254.6L955.08 1248.84L945 1248.84L945 1254.6z" clip-path="url(#p9b1065b066)" class="c28"/><path d="M955.08 1254.6L965.16 1254.6L965.16 1254.6L955.08 1254.6L955.08 1254.6z" clip-path="url(#p9b1065b066)" class="c28"/><path d="M965.16 1254.6L975.96 1254.6L975.96 1251.72L965.16 1251.72L965.16 1254.6z" clip-path="url(#p9b1065b066)" class="c28"/><path d="M975.96 1254.6L986.04 1254.6L986.04 1251.72L975.96 1251.72L975.96 1254.6z" clip-path="url(#p9b1065b066)" class="c28"/><path d="M986.04 1254.6L996.12 1254.6L996.12 1245.96L986.04 1245.96L986.04 1254.6z" clip-path="url(#p9b1065b066)" class="c28"/><path d="M996.12 1254.6L1006.2 1254.6L1006.2 1251.72L996.12 1251.72L996.12 1254.6z" clip-path="url(#p9b1065b066)" class="c28"/><path d="M1006.2 1254.6L1017 1254.6L1017 1240.2L1006.2 1240.2L1006.2 1254.6z" clip-path="url(#p9b1065b066)" class="c28"/><path d="M1017 1254.6L1027.08 1254.6L1027.08 1248.84L1017 1248.84L1017 1254.6z" clip-path="url(#p9b1065b066)" class="c28"/><path d="M1027.08 1254.6L1037.16 1254.6L1037.16 1251.72L1027.08 1251.72L1027.08 1254.6z" clip-path="url(#p9b1065b066)" class="c28"/><path d="M1037.16 1254.6L1047.24 1254.6L1047.24 1226.52L1037.16 1226.52L1037.16 1254.6z" clip-path="url(#p9b1065b066)" class="c28"/><path d="M606.6 1254.6L616.68 1254.6L616.68 1254.6L606.6 1254.6L606.6 1254.6z" clip-path="url(#p9b1065b066)" class="c23"/><path d="M616.68 1254.6L626.76 1254.6L626.76 1254.6L616.68 1254.6L616.68 1254.6z" clip-path="url(#p9b1065b066)" class="c23"/><path d="M626.76 1254.6L636.84 1254.6L636.84 1254.6L626.76 1254.6L626.76 1254.6z" clip-path="url(#p9b1065b066)" class="c23"/><path d="M636.84 1254.6L647.64 1254.6L647.64 1254.6L636.84 1254.6L636.84 1254.6z" clip-path="url(#p9b1065b066)" class="c23"/><path d="M647.64 1254.6L657.72 1254.6L657.72 1254.6L647.64 1254.6L647.64 1254.6z" clip-path="url(#p9b1065b066)" class="c23"/><path d="M657.72 1254.6L667.8 1254.6L667.8 1254.6L657.72 1254.6L657.72 1254.6z" clip-path="url(#p9b1065b066)" class="c23"/><path d="M667.8 1254.6L677.88 1254.6L677.88 1254.6L667.8 1254.6L667.8 1254.6z" clip-path="url(#p9b1065b066)" class="c23"/><path d="M677.88 1254.6L688.68 1254.6L688.68 1254.6L677.88 1254.6L677.88 1254.6z" clip-path="url(#p9b1065b066)" class="c23"/><path d="M688.68 1254.6L698.76 1254.6L698.76 1254.6L688.68 1254.6L688.68 1254.6z" clip-path="url(#p9b1065b066)" class="c23"/><path d="M698.76 1254.6L708.84 1254.6L708.84 1254.6L698.76 1254.6L698.76 1254.6z" clip-path="url(#p9b1065b066)" class="c23"/><path d="M708.84 1254.6L718.92 1254.6L718.92 1254.6L708.84 1254.6L708.84 1254.6z" clip-path="url(#p9b1065b066)" class="c23"/><path d="M718.92 1254.6L729.72 1254.6L729.72 1254.6L718.92 1254.6L718.92 1254.6z" clip-path="url(#p9b1065b066)" class="c23"/><path d="M729.72 1254.6L739.8 1254.6L739.8 1254.6L729.72 1254.6L729.72 1254.6z" clip-path="url(#p9b1065b066)" class="c23"/><path d="M739.8 1254.6L749.88 1254.6L749.88 1254.6L739.8 1254.6L739.8 1254.6z" clip-path="url(#p9b1065b066)" class="c23"/><path d="M749.88 1254.6L759.96 1254.6L759.96 1254.6L749.88 1254.6L749.88 1254.6z" clip-path="url(#p9b1065b066)" class="c23"/><path d="M759.96 1254.6L770.76 1254.6L770.76 1254.6L759.96 1254.6L759.96 1254.6z" clip-path="url(#p9b1065b066)" class="c23"/><path d="M770.76 1254.6L780.84 1254.6L780.84 1254.6L770.76 1254.6L770.76 1254.6z" clip-path="url(#p9b1065b066)" class="c23"/><path d="M780.84 1254.6L790.92 1254.6L790.92 1254.6L780.84 1254.6L780.84 1254.6z" clip-path="url(#p9b1065b066)" class="c23"/><path d="M790.92 1254.6L801 1254.6L801 1254.6L790.92 1254.6L790.92 1254.6z" clip-path="url(#p9b1065b066)" class="c23"/><path d="M801 1254.6L811.8 1254.6L811.8 1254.6L801 1254.6L801 1254.6z" clip-path="url(#p9b1065b066)" class="c23"/><path d="M811.8 1254.6L821.88 1254.6L821.88 1254.6L811.8 1254.6L811.8 1254.6z" clip-path="url(#p9b1065b066)" class="c23"/><path d="M821.88 1254.6L831.96 1254.6L831.96 1254.6L821.88 1254.6L821.88 1254.6z" clip-path="url(#p9b1065b066)" class="c23"/><path d="M831.96 1254.6L842.04 1254.6L842.04 1254.6L831.96 1254.6L831.96 1254.6z" clip-path="url(#p9b1065b066)" class="c23"/><path d="M842.04 1254.6L852.84 1254.6L852.84 1254.6L842.04 1254.6L842.04 1254.6z" clip-path="url(#p9b1065b066)" class="c23"/><path d="M852.84 1254.6L862.92 1254.6L862.92 1254.6L852.84 1254.6L852.84 1254.6z" clip-path="url(#p9b1065b066)" class="c23"/><path d="M862.92 1254.6L873 1254.6L873 1254.6L862.92 1254.6L862.92 1254.6z" clip-path="url(#p9b1065b066)" class="c23"/><path d="M873 1254.6L883.08 1254.6L883.08 1254.6L873 1254.6L873 1254.6z" clip-path="url(#p9b1065b066)" class="c23"/><path d="M883.08 1254.6L893.88 1254.6L893.88 1245.96L883.08 1245.96L883.08 1254.6z" clip-path="url(#p9b1065b066)" class="c23"/><path d="M893.88 1254.6L903.96 1254.6L903.96 1254.6L893.88 1254.6L893.88 1254.6z" clip-path="url(#p9b1065b066)" class="c23"/><path d="M903.96 1254.6L914.04 1254.6L914.04 1254.6L903.96 1254.6L903.96 1254.6z" clip-path="url(#p9b1065b066)" class="c23"/><path d="M914.04 1254.6L924.12 1254.6L924.12 1254.6L914.04 1254.6L914.04 1254.6z" clip-path="url(#p9b1065b066)" class="c23"/><path d="M924.12 1254.6L934.92 1254.6L934.92 1254.6L924.12 1254.6L924.12 1254.6z" clip-path="url(#p9b1065b066)" class="c23"/><path d="M934.92 1254.6L945 1254.6L945 1251.72L934.92 1251.72L934.92 1254.6z" clip-path="url(#p9b1065b066)" class="c23"/><path d="M945 1254.6L955.08 1254.6L955.08 1251.72L945 1251.72L945 1254.6z" clip-path="url(#p9b1065b066)" class="c23"/><path d="M955.08 1254.6L965.16 1254.6L965.16 1248.84L955.08 1248.84L955.08 1254.6z" clip-path="url(#p9b1065b066)" class="c23"/><path d="M965.16 1254.6L975.96 1254.6L975.96 1245.96L965.16 1245.96L965.16 1254.6z" clip-path="url(#p9b1065b066)" class="c23"/><path d="M975.96 1254.6L986.04 1254.6L986.04 1243.08L975.96 1243.08L975.96 1254.6z" clip-path="url(#p9b1065b066)" class="c23"/><path d="M986.04 1254.6L996.12 1254.6L996.12 1254.6L986.04 1254.6L986.04 1254.6z" clip-path="url(#p9b1065b066)" class="c23"/><path d="M996.12 1254.6L1006.2 1254.6L1006.2 1245.96L996.12 1245.96L996.12 1254.6z" clip-path="url(#p9b1065b066)" class="c23"/><path d="M1006.2 1254.6L1017 1254.6L1017 1248.84L1006.2 1248.84L1006.2 1254.6z" clip-path="url(#p9b1065b066)" class="c23"/><path d="M1017 1254.6L1027.08 1254.6L1027.08 1248.84L1017 1248.84L1017 1254.6z" clip-path="url(#p9b1065b066)" class="c23"/><path d="M1027.08 1254.6L1037.16 1254.6L1037.16 1245.96L1027.08 1245.96L1027.08 1254.6z" clip-path="url(#p9b1065b066)" class="c23"/><path d="M1037.16 1254.6L1047.24 1254.6L1047.24 1243.08L1037.16 1243.08L1037.16 1254.6z" clip-path="url(#p9b1065b066)" class="c23"/><path d="M606.6 1254.6L616.68 1254.6L616.68 1254.6L606.6 1254.6L606.6 1254.6z" clip-path="url(#p9b1065b066)" class="c28"/><path d="M616.68 1254.6L626.76 1254.6L626.76 1254.6L616.68 1254.6L616.68 1254.6z" clip-path="url(#p9b1065b066)" class="c28"/><path d="M626.76 1254.6L636.84 1254.6L636.84 1254.6L626.76 1254.6L626.76 1254.6z" clip-path="url(#p9b1065b066)" class="c28"/><path d="M636.84 1254.6L647.64 1254.6L647.64 1254.6L636.84 1254.6L636.84 1254.6z" clip-path="url(#p9b1065b066)" class="c28"/><path d="M647.64 1254.6L657.72 1254.6L657.72 1254.6L647.64 1254.6L647.64 1254.6z" clip-path="url(#p9b1065b066)" class="c28"/><path d="M657.72 1254.6L667.8 1254.6L667.8 1254.6L657.72 1254.6L657.72 1254.6z" clip-path="url(#p9b1065b066)" class="c28"/><path d="M667.8 1254.6L677.88 1254.6L677.88 1254.6L667.8 1254.6L667.8 1254.6z" clip-path="url(#p9b1065b066)" class="c28"/><path d="M677.88 1254.6L688.68 1254.6L688.68 1254.6L677.88 1254.6L677.88 1254.6z" clip-path="url(#p9b1065b066)" class="c28"/><path d="M688.68 1254.6L698.76 1254.6L698.76 1254.6L688.68 1254.6L688.68 1254.6z" clip-path="url(#p9b1065b066)" class="c28"/><path d="M698.76 1254.6L708.84 1254.6L708.84 1254.6L698.76 1254.6L698.76 1254.6z" clip-path="url(#p9b1065b066)" class="c28"/><path d="M708.84 1254.6L718.92 1254.6L718.92 1251.72L708.84 1251.72L708.84 1254.6z" clip-path="url(#p9b1065b066)" class="c28"/><path d="M718.92 1254.6L729.72 1254.6L729.72 1254.6L718.92 1254.6L718.92 1254.6z" clip-path="url(#p9b1065b066)" class="c28"/><path d="M729.72 1254.6L739.8 1254.6L739.8 1254.6L729.72 1254.6L729.72 1254.6z" clip-path="url(#p9b1065b066)" class="c28"/><path d="M739.8 1254.6L749.88 1254.6L749.88 1254.6L739.8 1254.6L739.8 1254.6z" clip-path="url(#p9b1065b066)" class="c28"/><path d="M749.88 1254.6L759.96 1254.6L759.96 1254.6L749.88 1254.6L749.88 1254.6z" clip-path="url(#p9b1065b066)" class="c28"/><path d="M759.96 1254.6L770.76 1254.6L770.76 1254.6L759.96 1254.6L759.96 1254.6z" clip-path="url(#p9b1065b066)" class="c28"/><path d="M770.76 1254.6L780.84 1254.6L780.84 1251.72L770.76 1251.72L770.76 1254.6z" clip-path="url(#p9b1065b066)" class="c28"/><path d="M780.84 1254.6L790.92 1254.6L790.92 1254.6L780.84 1254.6L780.84 1254.6z" clip-path="url(#p9b1065b066)" class="c28"/><path d="M790.92 1254.6L801 1254.6L801 1254.6L790.92 1254.6L790.92 1254.6z" clip-path="url(#p9b1065b066)" class="c28"/><path d="M801 1254.6L811.8 1254.6L811.8 1251.72L801 1251.72L801 1254.6z" clip-path="url(#p9b1065b066)" class="c28"/><path d="M811.8 1254.6L821.88 1254.6L821.88 1254.6L811.8 1254.6L811.8 1254.6z" clip-path="url(#p9b1065b066)" class="c28"/><path d="M821.88 1254.6L831.96 1254.6L831.96 1248.84L821.88 1248.84L821.88 1254.6z" clip-path="url(#p9b1065b066)" class="c28"/><path d="M831.96 1254.6L842.04 1254.6L842.04 1248.84L831.96 1248.84L831.96 1254.6z" clip-path="url(#p9b1065b066)" class="c28"/><path d="M842.04 1254.6L852.84 1254.6L852.84 1243.08L842.04 1243.08L842.04 1254.6z" clip-path="url(#p9b1065b066)" class="c28"/><path d="M852.84 1254.6L862.92 1254.6L862.92 1248.84L852.84 1248.84L852.84 1254.6z" clip-path="url(#p9b1065b066)" class="c28"/><path d="M862.92 1254.6L873 1254.6L873 1245.96L862.92 1245.96L862.92 1254.6z" clip-path="url(#p9b1065b066)" class="c28"/><path d="M873 1254.6L883.08 1254.6L883.08 1251.72L873 1251.72L873 1254.6z" clip-path="url(#p9b1065b066)" class="c28"/><path d="M883.08 1254.6L893.88 1254.6L893.88 1245.96L883.08 1245.96L883.08 1254.6z" clip-path="url(#p9b1065b066)" class="c28"/><path d="M893.88 1254.6L903.96 1254.6L903.96 1251.72L893.88 1251.72L893.88 1254.6z" clip-path="url(#p9b1065b066)" class="c28"/><path d="M903.96 1254.6L914.04 1254.6L914.04 1245.96L903.96 1245.96L903.96 1254.6z" clip-path="url(#p9b1065b066)" class="c28"/><path d="M914.04 1254.6L924.12 1254.6L924.12 1240.2L914.04 1240.2L914.04 1254.6z" clip-path="url(#p9b1065b066)" class="c28"/><path d="M924.12 1254.6L934.92 1254.6L934.92 1248.84L924.12 1248.84L924.12 1254.6z" clip-path="url(#p9b1065b066)" class="c28"/><path d="M934.92 1254.6L945 1254.6L945 1235.16L934.92 1235.16L934.92 1254.6z" clip-path="url(#p9b1065b066)" class="c28"/><path d="M945 1254.6L955.08 1254.6L955.08 1245.96L945 1245.96L945 1254.6z" clip-path="url(#p9b1065b066)" class="c28"/><path d="M955.08 1254.6L965.16 1254.6L965.16 1226.52L955.08 1226.52L955.08 1254.6z" clip-path="url(#p9b1065b066)" class="c28"/><path d="M965.16 1254.6L975.96 1254.6L975.96 1240.2L965.16 1240.2L965.16 1254.6z" clip-path="url(#p9b1065b066)" class="c28"/><path d="M975.96 1254.6L986.04 1254.6L986.04 1240.2L975.96 1240.2L975.96 1254.6z" clip-path="url(#p9b1065b066)" class="c28"/><path d="M986.04 1254.6L996.12 1254.6L996.12 1240.2L986.04 1240.2L986.04 1254.6z" clip-path="url(#p9b1065b066)" class="c28"/><path d="M996.12 1254.6L1006.2 1254.6L1006.2 1226.52L996.12 1226.52L996.12 1254.6z" clip-path="url(#p9b1065b066)" class="c28"/><path d="M1006.2 1254.6L1017 1254.6L1017 1215L1006.2 1215L1006.2 1254.6z" clip-path="url(#p9b1065b066)" class="c28"/><path d="M1017 1254.6L1027.08 1254.6L1027.08 1207.08L1017 1207.08L1017 1254.6z" clip-path="url(#p9b1065b066)" class="c28"/><path d="M1027.08 1254.6L1037.16 1254.6L1037.16 1223.64L1027.08 1223.64L1027.08 1254.6z" clip-path="url(#p9b1065b066)" class="c28"/><path d="M1037.16 1254.6L1047.24 1254.6L1047.24 1220.76L1037.16 1220.76L1037.16 1254.6z" clip-path="url(#p9b1065b066)" class="c28"/><path d="M606.6 1254.6L616.68 1254.6L616.68 1254.6L606.6 1254.6L606.6 1254.6z" clip-path="url(#p9b1065b066)" class="c22"/><path d="M616.68 1254.6L626.76 1254.6L626.76 1254.6L616.68 1254.6L616.68 1254.6z" clip-path="url(#p9b1065b066)" class="c22"/><path d="M626.76 1254.6L636.84 1254.6L636.84 1254.6L626.76 1254.6L626.76 1254.6z" clip-path="url(#p9b1065b066)" class="c22"/><path d="M636.84 1254.6L647.64 1254.6L647.64 1254.6L636.84 1254.6L636.84 1254.6z" clip-path="url(#p9b1065b066)" class="c22"/><path d="M647.64 1254.6L657.72 1254.6L657.72 1254.6L647.64 1254.6L647.64 1254.6z" clip-path="url(#p9b1065b066)" class="c22"/><path d="M657.72 1254.6L667.8 1254.6L667.8 1254.6L657.72 1254.6L657.72 1254.6z" clip-path="url(#p9b1065b066)" class="c22"/><path d="M667.8 1254.6L677.88 1254.6L677.88 1254.6L667.8 1254.6L667.8 1254.6z" clip-path="url(#p9b1065b066)" class="c22"/><path d="M677.88 1254.6L688.68 1254.6L688.68 1254.6L677.88 1254.6L677.88 1254.6z" clip-path="url(#p9b1065b066)" class="c22"/><path d="M688.68 1254.6L698.76 1254.6L698.76 1254.6L688.68 1254.6L688.68 1254.6z" clip-path="url(#p9b1065b066)" class="c22"/><path d="M698.76 1254.6L708.84 1254.6L708.84 1254.6L698.76 1254.6L698.76 1254.6z" clip-path="url(#p9b1065b066)" class="c22"/><path d="M708.84 1254.6L718.92 1254.6L718.92 1254.6L708.84 1254.6L708.84 1254.6z" clip-path="url(#p9b1065b066)" class="c22"/><path d="M718.92 1254.6L729.72 1254.6L729.72 1254.6L718.92 1254.6L718.92 1254.6z" clip-path="url(#p9b1065b066)" class="c22"/><path d="M729.72 1254.6L739.8 1254.6L739.8 1254.6L729.72 1254.6L729.72 1254.6z" clip-path="url(#p9b1065b066)" class="c22"/><path d="M739.8 1254.6L749.88 1254.6L749.88 1254.6L739.8 1254.6L739.8 1254.6z" clip-path="url(#p9b1065b066)" class="c22"/><path d="M749.88 1254.6L759.96 1254.6L759.96 1251.72L749.88 1251.72L749.88 1254.6z" clip-path="url(#p9b1065b066)" class="c22"/><path d="M759.96 1254.6L770.76 1254.6L770.76 1254.6L759.96 1254.6L759.96 1254.6z" clip-path="url(#p9b1065b066)" class="c22"/><path d="M770.76 1254.6L780.84 1254.6L780.84 1254.6L770.76 1254.6L770.76 1254.6z" clip-path="url(#p9b1065b066)" class="c22"/><path d="M780.84 1254.6L790.92 1254.6L790.92 1254.6L780.84 1254.6L780.84 1254.6z" clip-path="url(#p9b1065b066)" class="c22"/><path d="M790.92 1254.6L801 1254.6L801 1254.6L790.92 1254.6L790.92 1254.6z" clip-path="url(#p9b1065b066)" class="c22"/><path d="M801 1254.6L811.8 1254.6L811.8 1254.6L801 1254.6L801 1254.6z" clip-path="url(#p9b1065b066)" class="c22"/><path d="M811.8 1254.6L821.88 1254.6L821.88 1254.6L811.8 1254.6L811.8 1254.6z" clip-path="url(#p9b1065b066)" class="c22"/><path d="M821.88 1254.6L831.96 1254.6L831.96 1254.6L821.88 1254.6L821.88 1254.6z" clip-path="url(#p9b1065b066)" class="c22"/><path d="M831.96 1254.6L842.04 1254.6L842.04 1254.6L831.96 1254.6L831.96 1254.6z" clip-path="url(#p9b1065b066)" class="c22"/><path d="M842.04 1254.6L852.84 1254.6L852.84 1254.6L842.04 1254.6L842.04 1254.6z" clip-path="url(#p9b1065b066)" class="c22"/><path d="M852.84 1254.6L862.92 1254.6L862.92 1254.6L852.84 1254.6L852.84 1254.6z" clip-path="url(#p9b1065b066)" class="c22"/><path d="M862.92 1254.6L873 1254.6L873 1254.6L862.92 1254.6L862.92 1254.6z" clip-path="url(#p9b1065b066)" class="c22"/><path d="M873 1254.6L883.08 1254.6L883.08 1254.6L873 1254.6L873 1254.6z" clip-path="url(#p9b1065b066)" class="c22"/><path d="M883.08 1254.6L893.88 1254.6L893.88 1254.6L883.08 1254.6L883.08 1254.6z" clip-path="url(#p9b1065b066)" class="c22"/><path d="M893.88 1254.6L903.96 1254.6L903.96 1254.6L893.88 1254.6L893.88 1254.6z" clip-path="url(#p9b1065b066)" class="c22"/><path d="M903.96 1254.6L914.04 1254.6L914.04 1254.6L903.96 1254.6L903.96 1254.6z" clip-path="url(#p9b1065b066)" class="c22"/><path d="M914.04 1254.6L924.12 1254.6L924.12 1254.6L914.04 1254.6L914.04 1254.6z" clip-path="url(#p9b1065b066)" class="c22"/><path d="M924.12 1254.6L934.92 1254.6L934.92 1254.6L924.12 1254.6L924.12 1254.6z" clip-path="url(#p9b1065b066)" class="c22"/><path d="M934.92 1254.6L945 1254.6L945 1254.6L934.92 1254.6L934.92 1254.6z" clip-path="url(#p9b1065b066)" class="c22"/><path d="M945 1254.6L955.08 1254.6L955.08 1254.6L945 1254.6L945 1254.6z" clip-path="url(#p9b1065b066)" class="c22"/><path d="M955.08 1254.6L965.16 1254.6L965.16 1254.6L955.08 1254.6L955.08 1254.6z" clip-path="url(#p9b1065b066)" class="c22"/><path d="M965.16 1254.6L975.96 1254.6L975.96 1254.6L965.16 1254.6L965.16 1254.6z" clip-path="url(#p9b1065b066)" class="c22"/><path d="M975.96 1254.6L986.04 1254.6L986.04 1254.6L975.96 1254.6L975.96 1254.6z" clip-path="url(#p9b1065b066)" class="c22"/><path d="M986.04 1254.6L996.12 1254.6L996.12 1251.72L986.04 1251.72L986.04 1254.6z" clip-path="url(#p9b1065b066)" class="c22"/><path d="M996.12 1254.6L1006.2 1254.6L1006.2 1254.6L996.12 1254.6L996.12 1254.6z" clip-path="url(#p9b1065b066)" class="c22"/><path d="M1006.2 1254.6L1017 1254.6L1017 1245.96L1006.2 1245.96L1006.2 1254.6z" clip-path="url(#p9b1065b066)" class="c22"/><path d="M1017 1254.6L1027.08 1254.6L1027.08 1254.6L1017 1254.6L1017 1254.6z" clip-path="url(#p9b1065b066)" class="c22"/><path d="M1027.08 1254.6L1037.16 1254.6L1037.16 1245.96L1027.08 1245.96L1027.08 1254.6z" clip-path="url(#p9b1065b066)" class="c22"/><path d="M1037.16 1254.6L1047.24 1254.6L1047.24 1248.84L1037.16 1248.84L1037.16 1254.6z" clip-path="url(#p9b1065b066)" class="c22"/><path d="M606.6 1254.6L616.68 1254.6L616.68 1254.6L606.6 1254.6L606.6 1254.6z" clip-path="url(#p9b1065b066)" class="c21"/><path d="M616.68 1254.6L626.76 1254.6L626.76 1254.6L616.68 1254.6L616.68 1254.6z" clip-path="url(#p9b1065b066)" class="c21"/><path d="M626.76 1254.6L636.84 1254.6L636.84 1254.6L626.76 1254.6L626.76 1254.6z" clip-path="url(#p9b1065b066)" class="c21"/><path d="M636.84 1254.6L647.64 1254.6L647.64 1254.6L636.84 1254.6L636.84 1254.6z" clip-path="url(#p9b1065b066)" class="c21"/><path d="M647.64 1254.6L657.72 1254.6L657.72 1254.6L647.64 1254.6L647.64 1254.6z" clip-path="url(#p9b1065b066)" class="c21"/><path d="M657.72 1254.6L667.8 1254.6L667.8 1254.6L657.72 1254.6L657.72 1254.6z" clip-path="url(#p9b1065b066)" class="c21"/><path d="M667.8 1254.6L677.88 1254.6L677.88 1254.6L667.8 1254.6L667.8 1254.6z" clip-path="url(#p9b1065b066)" class="c21"/><path d="M677.88 1254.6L688.68 1254.6L688.68 1254.6L677.88 1254.6L677.88 1254.6z" clip-path="url(#p9b1065b066)" class="c21"/><path d="M688.68 1254.6L698.76 1254.6L698.76 1254.6L688.68 1254.6L688.68 1254.6z" clip-path="url(#p9b1065b066)" class="c21"/><path d="M698.76 1254.6L708.84 1254.6L708.84 1254.6L698.76 1254.6L698.76 1254.6z" clip-path="url(#p9b1065b066)" class="c21"/><path d="M708.84 1254.6L718.92 1254.6L718.92 1254.6L708.84 1254.6L708.84 1254.6z" clip-path="url(#p9b1065b066)" class="c21"/><path d="M718.92 1254.6L729.72 1254.6L729.72 1254.6L718.92 1254.6L718.92 1254.6z" clip-path="url(#p9b1065b066)" class="c21"/><path d="M729.72 1254.6L739.8 1254.6L739.8 1254.6L729.72 1254.6L729.72 1254.6z" clip-path="url(#p9b1065b066)" class="c21"/><path d="M739.8 1254.6L749.88 1254.6L749.88 1254.6L739.8 1254.6L739.8 1254.6z" clip-path="url(#p9b1065b066)" class="c21"/><path d="M749.88 1254.6L759.96 1254.6L759.96 1254.6L749.88 1254.6L749.88 1254.6z" clip-path="url(#p9b1065b066)" class="c21"/><path d="M759.96 1254.6L770.76 1254.6L770.76 1254.6L759.96 1254.6L759.96 1254.6z" clip-path="url(#p9b1065b066)" class="c21"/><path d="M770.76 1254.6L780.84 1254.6L780.84 1254.6L770.76 1254.6L770.76 1254.6z" clip-path="url(#p9b1065b066)" class="c21"/><path d="M780.84 1254.6L790.92 1254.6L790.92 1254.6L780.84 1254.6L780.84 1254.6z" clip-path="url(#p9b1065b066)" class="c21"/><path d="M790.92 1254.6L801 1254.6L801 1254.6L790.92 1254.6L790.92 1254.6z" clip-path="url(#p9b1065b066)" class="c21"/><path d="M801 1254.6L811.8 1254.6L811.8 1254.6L801 1254.6L801 1254.6z" clip-path="url(#p9b1065b066)" class="c21"/><path d="M811.8 1254.6L821.88 1254.6L821.88 1254.6L811.8 1254.6L811.8 1254.6z" clip-path="url(#p9b1065b066)" class="c21"/><path d="M821.88 1254.6L831.96 1254.6L831.96 1254.6L821.88 1254.6L821.88 1254.6z" clip-path="url(#p9b1065b066)" class="c21"/><path d="M831.96 1254.6L842.04 1254.6L842.04 1254.6L831.96 1254.6L831.96 1254.6z" clip-path="url(#p9b1065b066)" class="c21"/><path d="M842.04 1254.6L852.84 1254.6L852.84 1254.6L842.04 1254.6L842.04 1254.6z" clip-path="url(#p9b1065b066)" class="c21"/><path d="M852.84 1254.6L862.92 1254.6L862.92 1254.6L852.84 1254.6L852.84 1254.6z" clip-path="url(#p9b1065b066)" class="c21"/><path d="M862.92 1254.6L873 1254.6L873 1254.6L862.92 1254.6L862.92 1254.6z" clip-path="url(#p9b1065b066)" class="c21"/><path d="M873 1254.6L883.08 1254.6L883.08 1254.6L873 1254.6L873 1254.6z" clip-path="url(#p9b1065b066)" class="c21"/><path d="M883.08 1254.6L893.88 1254.6L893.88 1254.6L883.08 1254.6L883.08 1254.6z" clip-path="url(#p9b1065b066)" class="c21"/><path d="M893.88 1254.6L903.96 1254.6L903.96 1254.6L893.88 1254.6L893.88 1254.6z" clip-path="url(#p9b1065b066)" class="c21"/><path d="M903.96 1254.6L914.04 1254.6L914.04 1254.6L903.96 1254.6L903.96 1254.6z" clip-path="url(#p9b1065b066)" class="c21"/><path d="M914.04 1254.6L924.12 1254.6L924.12 1254.6L914.04 1254.6L914.04 1254.6z" clip-path="url(#p9b1065b066)" class="c21"/><path d="M924.12 1254.6L934.92 1254.6L934.92 1254.6L924.12 1254.6L924.12 1254.6z" clip-path="url(#p9b1065b066)" class="c21"/><path d="M934.92 1254.6L945 1254.6L945 1251.72L934.92 1251.72L934.92 1254.6z" clip-path="url(#p9b1065b066)" class="c21"/><path d="M945 1254.6L955.08 1254.6L955.08 1251.72L945 1251.72L945 1254.6z" clip-path="url(#p9b1065b066)" class="c21"/><path d="M955.08 1254.6L965.16 1254.6L965.16 1251.72L955.08 1251.72L955.08 1254.6z" clip-path="url(#p9b1065b066)" class="c21"/><path d="M965.16 1254.6L975.96 1254.6L975.96 1245.96L965.16 1245.96L965.16 1254.6z" clip-path="url(#p9b1065b066)" class="c21"/><path d="M975.96 1254.6L986.04 1254.6L986.04 1243.08L975.96 1243.08L975.96 1254.6z" clip-path="url(#p9b1065b066)" class="c21"/><path d="M986.04 1254.6L996.12 1254.6L996.12 1254.6L986.04 1254.6L986.04 1254.6z" clip-path="url(#p9b1065b066)" class="c21"/><path d="M996.12 1254.6L1006.2 1254.6L1006.2 1254.6L996.12 1254.6L996.12 1254.6z" clip-path="url(#p9b1065b066)" class="c21"/><path d="M1006.2 1254.6L1017 1254.6L1017 1245.96L1006.2 1245.96L1006.2 1254.6z" clip-path="url(#p9b1065b066)" class="c21"/><path d="M1017 1254.6L1027.08 1254.6L1027.08 1251.72L1017 1251.72L1017 1254.6z" clip-path="url(#p9b1065b066)" class="c21"/><path d="M1027.08 1254.6L1037.16 1254.6L1037.16 1254.6L1027.08 1254.6L1027.08 1254.6z" clip-path="url(#p9b1065b066)" class="c21"/><path d="M1037.16 1254.6L1047.24 1254.6L1047.24 1254.6L1037.16 1254.6L1037.16 1254.6z" clip-path="url(#p9b1065b066)" class="c21"/><path d="M606.6 1254.6L616.68 1254.6L616.68 1254.6L606.6 1254.6L606.6 1254.6z" clip-path="url(#p9b1065b066)" class="c25"/><path d="M616.68 1254.6L626.76 1254.6L626.76 1254.6L616.68 1254.6L616.68 1254.6z" clip-path="url(#p9b1065b066)" class="c25"/><path d="M626.76 1254.6L636.84 1254.6L636.84 1254.6L626.76 1254.6L626.76 1254.6z" clip-path="url(#p9b1065b066)" class="c25"/><path d="M636.84 1254.6L647.64 1254.6L647.64 1254.6L636.84 1254.6L636.84 1254.6z" clip-path="url(#p9b1065b066)" class="c25"/><path d="M647.64 1254.6L657.72 1254.6L657.72 1254.6L647.64 1254.6L647.64 1254.6z" clip-path="url(#p9b1065b066)" class="c25"/><path d="M657.72 1254.6L667.8 1254.6L667.8 1254.6L657.72 1254.6L657.72 1254.6z" clip-path="url(#p9b1065b066)" class="c25"/><path d="M667.8 1254.6L677.88 1254.6L677.88 1254.6L667.8 1254.6L667.8 1254.6z" clip-path="url(#p9b1065b066)" class="c25"/><path d="M677.88 1254.6L688.68 1254.6L688.68 1254.6L677.88 1254.6L677.88 1254.6z" clip-path="url(#p9b1065b066)" class="c25"/><path d="M688.68 1254.6L698.76 1254.6L698.76 1254.6L688.68 1254.6L688.68 1254.6z" clip-path="url(#p9b1065b066)" class="c25"/><path d="M698.76 1254.6L708.84 1254.6L708.84 1254.6L698.76 1254.6L698.76 1254.6z" clip-path="url(#p9b1065b066)" class="c25"/><path d="M708.84 1254.6L718.92 1254.6L718.92 1254.6L708.84 1254.6L708.84 1254.6z" clip-path="url(#p9b1065b066)" class="c25"/><path d="M718.92 1254.6L729.72 1254.6L729.72 1254.6L718.92 1254.6L718.92 1254.6z" clip-path="url(#p9b1065b066)" class="c25"/><path d="M729.72 1254.6L739.8 1254.6L739.8 1254.6L729.72 1254.6L729.72 1254.6z" clip-path="url(#p9b1065b066)" class="c25"/><path d="M739.8 1254.6L749.88 1254.6L749.88 1254.6L739.8 1254.6L739.8 1254.6z" clip-path="url(#p9b1065b066)" class="c25"/><path d="M749.88 1254.6L759.96 1254.6L759.96 1254.6L749.88 1254.6L749.88 1254.6z" clip-path="url(#p9b1065b066)" class="c25"/><path d="M759.96 1254.6L770.76 1254.6L770.76 1254.6L759.96 1254.6L759.96 1254.6z" clip-path="url(#p9b1065b066)" class="c25"/><path d="M770.76 1254.6L780.84 1254.6L780.84 1254.6L770.76 1254.6L770.76 1254.6z" clip-path="url(#p9b1065b066)" class="c25"/><path d="M780.84 1254.6L790.92 1254.6L790.92 1254.6L780.84 1254.6L780.84 1254.6z" clip-path="url(#p9b1065b066)" class="c25"/><path d="M790.92 1254.6L801 1254.6L801 1254.6L790.92 1254.6L790.92 1254.6z" clip-path="url(#p9b1065b066)" class="c25"/><path d="M801 1254.6L811.8 1254.6L811.8 1254.6L801 1254.6L801 1254.6z" clip-path="url(#p9b1065b066)" class="c25"/><path d="M811.8 1254.6L821.88 1254.6L821.88 1254.6L811.8 1254.6L811.8 1254.6z" clip-path="url(#p9b1065b066)" class="c25"/><path d="M821.88 1254.6L831.96 1254.6L831.96 1254.6L821.88 1254.6L821.88 1254.6z" clip-path="url(#p9b1065b066)" class="c25"/><path d="M831.96 1254.6L842.04 1254.6L842.04 1254.6L831.96 1254.6L831.96 1254.6z" clip-path="url(#p9b1065b066)" class="c25"/><path d="M842.04 1254.6L852.84 1254.6L852.84 1254.6L842.04 1254.6L842.04 1254.6z" clip-path="url(#p9b1065b066)" class="c25"/><path d="M852.84 1254.6L862.92 1254.6L862.92 1254.6L852.84 1254.6L852.84 1254.6z" clip-path="url(#p9b1065b066)" class="c25"/><path d="M862.92 1254.6L873 1254.6L873 1254.6L862.92 1254.6L862.92 1254.6z" clip-path="url(#p9b1065b066)" class="c25"/><path d="M873 1254.6L883.08 1254.6L883.08 1254.6L873 1254.6L873 1254.6z" clip-path="url(#p9b1065b066)" class="c25"/><path d="M883.08 1254.6L893.88 1254.6L893.88 1254.6L883.08 1254.6L883.08 1254.6z" clip-path="url(#p9b1065b066)" class="c25"/><path d="M893.88 1254.6L903.96 1254.6L903.96 1254.6L893.88 1254.6L893.88 1254.6z" clip-path="url(#p9b1065b066)" class="c25"/><path d="M903.96 1254.6L914.04 1254.6L914.04 1254.6L903.96 1254.6L903.96 1254.6z" clip-path="url(#p9b1065b066)" class="c25"/><path d="M914.04 1254.6L924.12 1254.6L924.12 1254.6L914.04 1254.6L914.04 1254.6z" clip-path="url(#p9b1065b066)" class="c25"/><path d="M924.12 1254.6L934.92 1254.6L934.92 1254.6L924.12 1254.6L924.12 1254.6z" clip-path="url(#p9b1065b066)" class="c25"/><path d="M934.92 1254.6L945 1254.6L945 1254.6L934.92 1254.6L934.92 1254.6z" clip-path="url(#p9b1065b066)" class="c25"/><path d="M945 1254.6L955.08 1254.6L955.08 1254.6L945 1254.6L945 1254.6z" clip-path="url(#p9b1065b066)" class="c25"/><path d="M955.08 1254.6L965.16 1254.6L965.16 1254.6L955.08 1254.6L955.08 1254.6z" clip-path="url(#p9b1065b066)" class="c25"/><path d="M965.16 1254.6L975.96 1254.6L975.96 1254.6L965.16 1254.6L965.16 1254.6z" clip-path="url(#p9b1065b066)" class="c25"/><path d="M975.96 1254.6L986.04 1254.6L986.04 1254.6L975.96 1254.6L975.96 1254.6z" clip-path="url(#p9b1065b066)" class="c25"/><path d="M986.04 1254.6L996.12 1254.6L996.12 1251.72L986.04 1251.72L986.04 1254.6z" clip-path="url(#p9b1065b066)" class="c25"/><path d="M996.12 1254.6L1006.2 1254.6L1006.2 1254.6L996.12 1254.6L996.12 1254.6z" clip-path="url(#p9b1065b066)" class="c25"/><path d="M1006.2 1254.6L1017 1254.6L1017 1248.84L1006.2 1248.84L1006.2 1254.6z" clip-path="url(#p9b1065b066)" class="c25"/><path d="M1017 1254.6L1027.08 1254.6L1027.08 1251.72L1017 1251.72L1017 1254.6z" clip-path="url(#p9b1065b066)" class="c25"/><path d="M1027.08 1254.6L1037.16 1254.6L1037.16 1251.72L1027.08 1251.72L1027.08 1254.6z" clip-path="url(#p9b1065b066)" class="c25"/><path d="M1037.16 1254.6L1047.24 1254.6L1047.24 1251.72L1037.16 1251.72L1037.16 1254.6z" clip-path="url(#p9b1065b066)" class="c25"/><path d="M606.6 1254.6L616.68 1254.6L616.68 1254.6L606.6 1254.6L606.6 1254.6z" clip-path="url(#p9b1065b066)" class="c21"/><path d="M616.68 1254.6L626.76 1254.6L626.76 1254.6L616.68 1254.6L616.68 1254.6z" clip-path="url(#p9b1065b066)" class="c21"/><path d="M626.76 1254.6L636.84 1254.6L636.84 1254.6L626.76 1254.6L626.76 1254.6z" clip-path="url(#p9b1065b066)" class="c21"/><path d="M636.84 1254.6L647.64 1254.6L647.64 1254.6L636.84 1254.6L636.84 1254.6z" clip-path="url(#p9b1065b066)" class="c21"/><path d="M647.64 1254.6L657.72 1254.6L657.72 1254.6L647.64 1254.6L647.64 1254.6z" clip-path="url(#p9b1065b066)" class="c21"/><path d="M657.72 1254.6L667.8 1254.6L667.8 1254.6L657.72 1254.6L657.72 1254.6z" clip-path="url(#p9b1065b066)" class="c21"/><path d="M667.8 1254.6L677.88 1254.6L677.88 1254.6L667.8 1254.6L667.8 1254.6z" clip-path="url(#p9b1065b066)" class="c21"/><path d="M677.88 1254.6L688.68 1254.6L688.68 1254.6L677.88 1254.6L677.88 1254.6z" clip-path="url(#p9b1065b066)" class="c21"/><path d="M688.68 1254.6L698.76 1254.6L698.76 1254.6L688.68 1254.6L688.68 1254.6z" clip-path="url(#p9b1065b066)" class="c21"/><path d="M698.76 1254.6L708.84 1254.6L708.84 1254.6L698.76 1254.6L698.76 1254.6z" clip-path="url(#p9b1065b066)" class="c21"/><path d="M708.84 1254.6L718.92 1254.6L718.92 1254.6L708.84 1254.6L708.84 1254.6z" clip-path="url(#p9b1065b066)" class="c21"/><path d="M718.92 1254.6L729.72 1254.6L729.72 1254.6L718.92 1254.6L718.92 1254.6z" clip-path="url(#p9b1065b066)" class="c21"/><path d="M729.72 1254.6L739.8 1254.6L739.8 1254.6L729.72 1254.6L729.72 1254.6z" clip-path="url(#p9b1065b066)" class="c21"/><path d="M739.8 1254.6L749.88 1254.6L749.88 1251.72L739.8 1251.72L739.8 1254.6z" clip-path="url(#p9b1065b066)" class="c21"/><path d="M749.88 1254.6L759.96 1254.6L759.96 1254.6L749.88 1254.6L749.88 1254.6z" clip-path="url(#p9b1065b066)" class="c21"/><path d="M759.96 1254.6L770.76 1254.6L770.76 1254.6L759.96 1254.6L759.96 1254.6z" clip-path="url(#p9b1065b066)" class="c21"/><path d="M770.76 1254.6L780.84 1254.6L780.84 1254.6L770.76 1254.6L770.76 1254.6z" clip-path="url(#p9b1065b066)" class="c21"/><path d="M780.84 1254.6L790.92 1254.6L790.92 1254.6L780.84 1254.6L780.84 1254.6z" clip-path="url(#p9b1065b066)" class="c21"/><path d="M790.92 1254.6L801 1254.6L801 1251.72L790.92 1251.72L790.92 1254.6z" clip-path="url(#p9b1065b066)" class="c21"/><path d="M801 1254.6L811.8 1254.6L811.8 1254.6L801 1254.6L801 1254.6z" clip-path="url(#p9b1065b066)" class="c21"/><path d="M811.8 1254.6L821.88 1254.6L821.88 1254.6L811.8 1254.6L811.8 1254.6z" clip-path="url(#p9b1065b066)" class="c21"/><path d="M821.88 1254.6L831.96 1254.6L831.96 1254.6L821.88 1254.6L821.88 1254.6z" clip-path="url(#p9b1065b066)" class="c21"/><path d="M831.96 1254.6L842.04 1254.6L842.04 1254.6L831.96 1254.6L831.96 1254.6z" clip-path="url(#p9b1065b066)" class="c21"/><path d="M842.04 1254.6L852.84 1254.6L852.84 1251.72L842.04 1251.72L842.04 1254.6z" clip-path="url(#p9b1065b066)" class="c21"/><path d="M852.84 1254.6L862.92 1254.6L862.92 1251.72L852.84 1251.72L852.84 1254.6z" clip-path="url(#p9b1065b066)" class="c21"/><path d="M862.92 1254.6L873 1254.6L873 1251.72L862.92 1251.72L862.92 1254.6z" clip-path="url(#p9b1065b066)" class="c21"/><path d="M873 1254.6L883.08 1254.6L883.08 1248.84L873 1248.84L873 1254.6z" clip-path="url(#p9b1065b066)" class="c21"/><path d="M883.08 1254.6L893.88 1254.6L893.88 1248.84L883.08 1248.84L883.08 1254.6z" clip-path="url(#p9b1065b066)" class="c21"/><path d="M893.88 1254.6L903.96 1254.6L903.96 1251.72L893.88 1251.72L893.88 1254.6z" clip-path="url(#p9b1065b066)" class="c21"/><path d="M903.96 1254.6L914.04 1254.6L914.04 1237.32L903.96 1237.32L903.96 1254.6z" clip-path="url(#p9b1065b066)" class="c21"/><path d="M914.04 1254.6L924.12 1254.6L924.12 1240.2L914.04 1240.2L914.04 1254.6z" clip-path="url(#p9b1065b066)" class="c21"/><path d="M924.12 1254.6L934.92 1254.6L934.92 1243.08L924.12 1243.08L924.12 1254.6z" clip-path="url(#p9b1065b066)" class="c21"/><path d="M934.92 1254.6L945 1254.6L945 1245.96L934.92 1245.96L934.92 1254.6z" clip-path="url(#p9b1065b066)" class="c21"/><path d="M945 1254.6L955.08 1254.6L955.08 1237.32L945 1237.32L945 1254.6z" clip-path="url(#p9b1065b066)" class="c21"/><path d="M955.08 1254.6L965.16 1254.6L965.16 1229.4L955.08 1229.4L955.08 1254.6z" clip-path="url(#p9b1065b066)" class="c21"/><path d="M965.16 1254.6L975.96 1254.6L975.96 1232.28L965.16 1232.28L965.16 1254.6z" clip-path="url(#p9b1065b066)" class="c21"/><path d="M975.96 1254.6L986.04 1254.6L986.04 1232.28L975.96 1232.28L975.96 1254.6z" clip-path="url(#p9b1065b066)" class="c21"/><path d="M986.04 1254.6L996.12 1254.6L996.12 1232.28L986.04 1232.28L986.04 1254.6z" clip-path="url(#p9b1065b066)" class="c21"/><path d="M996.12 1254.6L1006.2 1254.6L1006.2 1226.52L996.12 1226.52L996.12 1254.6z" clip-path="url(#p9b1065b066)" class="c21"/><path d="M1006.2 1254.6L1017 1254.6L1017 1217.88L1006.2 1217.88L1006.2 1254.6z" clip-path="url(#p9b1065b066)" class="c21"/><path d="M1017 1254.6L1027.08 1254.6L1027.08 1215L1017 1215L1017 1254.6z" clip-path="url(#p9b1065b066)" class="c21"/><path d="M1027.08 1254.6L1037.16 1254.6L1037.16 1215L1027.08 1215L1027.08 1254.6z" clip-path="url(#p9b1065b066)" class="c21"/><path d="M1037.16 1254.6L1047.24 1254.6L1047.24 1167.48L1037.16 1167.48L1037.16 1254.6z" clip-path="url(#p9b1065b066)" class="c21"/><path d="M606.6 1254.6L616.68 1254.6L616.68 1254.6L606.6 1254.6L606.6 1254.6z" clip-path="url(#p9b1065b066)" class="c27"/><path d="M616.68 1254.6L626.76 1254.6L626.76 1254.6L616.68 1254.6L616.68 1254.6z" clip-path="url(#p9b1065b066)" class="c27"/><path d="M626.76 1254.6L636.84 1254.6L636.84 1254.6L626.76 1254.6L626.76 1254.6z" clip-path="url(#p9b1065b066)" class="c27"/><path d="M636.84 1254.6L647.64 1254.6L647.64 1254.6L636.84 1254.6L636.84 1254.6z" clip-path="url(#p9b1065b066)" class="c27"/><path d="M647.64 1254.6L657.72 1254.6L657.72 1254.6L647.64 1254.6L647.64 1254.6z" clip-path="url(#p9b1065b066)" class="c27"/><path d="M657.72 1254.6L667.8 1254.6L667.8 1254.6L657.72 1254.6L657.72 1254.6z" clip-path="url(#p9b1065b066)" class="c27"/><path d="M667.8 1254.6L677.88 1254.6L677.88 1254.6L667.8 1254.6L667.8 1254.6z" clip-path="url(#p9b1065b066)" class="c27"/><path d="M677.88 1254.6L688.68 1254.6L688.68 1254.6L677.88 1254.6L677.88 1254.6z" clip-path="url(#p9b1065b066)" class="c27"/><path d="M688.68 1254.6L698.76 1254.6L698.76 1254.6L688.68 1254.6L688.68 1254.6z" clip-path="url(#p9b1065b066)" class="c27"/><path d="M698.76 1254.6L708.84 1254.6L708.84 1254.6L698.76 1254.6L698.76 1254.6z" clip-path="url(#p9b1065b066)" class="c27"/><path d="M708.84 1254.6L718.92 1254.6L718.92 1254.6L708.84 1254.6L708.84 1254.6z" clip-path="url(#p9b1065b066)" class="c27"/><path d="M718.92 1254.6L729.72 1254.6L729.72 1254.6L718.92 1254.6L718.92 1254.6z" clip-path="url(#p9b1065b066)" class="c27"/><path d="M729.72 1254.6L739.8 1254.6L739.8 1254.6L729.72 1254.6L729.72 1254.6z" clip-path="url(#p9b1065b066)" class="c27"/><path d="M739.8 1254.6L749.88 1254.6L749.88 1254.6L739.8 1254.6L739.8 1254.6z" clip-path="url(#p9b1065b066)" class="c27"/><path d="M749.88 1254.6L759.96 1254.6L759.96 1254.6L749.88 1254.6L749.88 1254.6z" clip-path="url(#p9b1065b066)" class="c27"/><path d="M759.96 1254.6L770.76 1254.6L770.76 1254.6L759.96 1254.6L759.96 1254.6z" clip-path="url(#p9b1065b066)" class="c27"/><path d="M770.76 1254.6L780.84 1254.6L780.84 1251.72L770.76 1251.72L770.76 1254.6z" clip-path="url(#p9b1065b066)" class="c27"/><path d="M780.84 1254.6L790.92 1254.6L790.92 1248.84L780.84 1248.84L780.84 1254.6z" clip-path="url(#p9b1065b066)" class="c27"/><path d="M790.92 1254.6L801 1254.6L801 1248.84L790.92 1248.84L790.92 1254.6z" clip-path="url(#p9b1065b066)" class="c27"/><path d="M801 1254.6L811.8 1254.6L811.8 1245.96L801 1245.96L801 1254.6z" clip-path="url(#p9b1065b066)" class="c27"/><path d="M811.8 1254.6L821.88 1254.6L821.88 1254.6L811.8 1254.6L811.8 1254.6z" clip-path="url(#p9b1065b066)" class="c27"/><path d="M821.88 1254.6L831.96 1254.6L831.96 1254.6L821.88 1254.6L821.88 1254.6z" clip-path="url(#p9b1065b066)" class="c27"/><path d="M831.96 1254.6L842.04 1254.6L842.04 1248.84L831.96 1248.84L831.96 1254.6z" clip-path="url(#p9b1065b066)" class="c27"/><path d="M842.04 1254.6L852.84 1254.6L852.84 1245.96L842.04 1245.96L842.04 1254.6z" clip-path="url(#p9b1065b066)" class="c27"/><path d="M852.84 1254.6L862.92 1254.6L862.92 1240.2L852.84 1240.2L852.84 1254.6z" clip-path="url(#p9b1065b066)" class="c27"/><path d="M862.92 1254.6L873 1254.6L873 1248.84L862.92 1248.84L862.92 1254.6z" clip-path="url(#p9b1065b066)" class="c27"/><path d="M873 1254.6L883.08 1254.6L883.08 1245.96L873 1245.96L873 1254.6z" clip-path="url(#p9b1065b066)" class="c27"/><path d="M883.08 1254.6L893.88 1254.6L893.88 1237.32L883.08 1237.32L883.08 1254.6z" clip-path="url(#p9b1065b066)" class="c27"/><path d="M893.88 1254.6L903.96 1254.6L903.96 1223.64L893.88 1223.64L893.88 1254.6z" clip-path="url(#p9b1065b066)" class="c27"/><path d="M903.96 1254.6L914.04 1254.6L914.04 1235.16L903.96 1235.16L903.96 1254.6z" clip-path="url(#p9b1065b066)" class="c27"/><path d="M914.04 1254.6L924.12 1254.6L924.12 1232.28L914.04 1232.28L914.04 1254.6z" clip-path="url(#p9b1065b066)" class="c27"/><path d="M924.12 1254.6L934.92 1254.6L934.92 1220.76L924.12 1220.76L924.12 1254.6z" clip-path="url(#p9b1065b066)" class="c27"/><path d="M934.92 1254.6L945 1254.6L945 1212.12L934.92 1212.12L934.92 1254.6z" clip-path="url(#p9b1065b066)" class="c27"/><path d="M945 1254.6L955.08 1254.6L955.08 1198.44L945 1198.44L945 1254.6z" clip-path="url(#p9b1065b066)" class="c27"/><path d="M955.08 1254.6L965.16 1254.6L965.16 1226.52L955.08 1226.52L955.08 1254.6z" clip-path="url(#p9b1065b066)" class="c27"/><path d="M965.16 1254.6L975.96 1254.6L975.96 1189.8L965.16 1189.8L965.16 1254.6z" clip-path="url(#p9b1065b066)" class="c27"/><path d="M975.96 1254.6L986.04 1254.6L986.04 1212.12L975.96 1212.12L975.96 1254.6z" clip-path="url(#p9b1065b066)" class="c27"/><path d="M986.04 1254.6L996.12 1254.6L996.12 1181.88L986.04 1181.88L986.04 1254.6z" clip-path="url(#p9b1065b066)" class="c27"/><path d="M996.12 1254.6L1006.2 1254.6L1006.2 1128.6L996.12 1128.6L996.12 1254.6z" clip-path="url(#p9b1065b066)" class="c27"/><path d="M1006.2 1254.6L1017 1254.6L1017 1097.64L1006.2 1097.64L1006.2 1254.6z" clip-path="url(#p9b1065b066)" class="c27"/><path d="M1017 1254.6L1027.08 1254.6L1027.08 1094.76L1017 1094.76L1017 1254.6z" clip-path="url(#p9b1065b066)" class="c27"/><path d="M1027.08 1254.6L1037.16 1254.6L1037.16 1078.2L1027.08 1078.2L1027.08 1254.6z" clip-path="url(#p9b1065b066)" class="c27"/><path d="M1037.16 1254.6L1047.24 1254.6L1047.24 1036.44L1037.16 1036.44L1037.16 1254.6z" clip-path="url(#p9b1065b066)" class="c27"/><path d="M606.6 1254.6L616.68 1254.6L616.68 1251.72L606.6 1251.72L606.6 1254.6z" clip-path="url(#p9b1065b066)" class="c23"/><path d="M616.68 1254.6L626.76 1254.6L626.76 1254.6L616.68 1254.6L616.68 1254.6z" clip-path="url(#p9b1065b066)" class="c23"/><path d="M626.76 1254.6L636.84 1254.6L636.84 1254.6L626.76 1254.6L626.76 1254.6z" clip-path="url(#p9b1065b066)" class="c23"/><path d="M636.84 1254.6L647.64 1254.6L647.64 1254.6L636.84 1254.6L636.84 1254.6z" clip-path="url(#p9b1065b066)" class="c23"/><path d="M647.64 1254.6L657.72 1254.6L657.72 1254.6L647.64 1254.6L647.64 1254.6z" clip-path="url(#p9b1065b066)" class="c23"/><path d="M657.72 1254.6L667.8 1254.6L667.8 1254.6L657.72 1254.6L657.72 1254.6z" clip-path="url(#p9b1065b066)" class="c23"/><path d="M667.8 1254.6L677.88 1254.6L677.88 1254.6L667.8 1254.6L667.8 1254.6z" clip-path="url(#p9b1065b066)" class="c23"/><path d="M677.88 1254.6L688.68 1254.6L688.68 1254.6L677.88 1254.6L677.88 1254.6z" clip-path="url(#p9b1065b066)" class="c23"/><path d="M688.68 1254.6L698.76 1254.6L698.76 1254.6L688.68 1254.6L688.68 1254.6z" clip-path="url(#p9b1065b066)" class="c23"/><path d="M698.76 1254.6L708.84 1254.6L708.84 1254.6L698.76 1254.6L698.76 1254.6z" clip-path="url(#p9b1065b066)" class="c23"/><path d="M708.84 1254.6L718.92 1254.6L718.92 1251.72L708.84 1251.72L708.84 1254.6z" clip-path="url(#p9b1065b066)" class="c23"/><path d="M718.92 1254.6L729.72 1254.6L729.72 1248.84L718.92 1248.84L718.92 1254.6z" clip-path="url(#p9b1065b066)" class="c23"/><path d="M729.72 1254.6L739.8 1254.6L739.8 1251.72L729.72 1251.72L729.72 1254.6z" clip-path="url(#p9b1065b066)" class="c23"/><path d="M739.8 1254.6L749.88 1254.6L749.88 1254.6L739.8 1254.6L739.8 1254.6z" clip-path="url(#p9b1065b066)" class="c23"/><path d="M749.88 1254.6L759.96 1254.6L759.96 1248.84L749.88 1248.84L749.88 1254.6z" clip-path="url(#p9b1065b066)" class="c23"/><path d="M759.96 1254.6L770.76 1254.6L770.76 1248.84L759.96 1248.84L759.96 1254.6z" clip-path="url(#p9b1065b066)" class="c23"/><path d="M770.76 1254.6L780.84 1254.6L780.84 1251.72L770.76 1251.72L770.76 1254.6z" clip-path="url(#p9b1065b066)" class="c23"/><path d="M780.84 1254.6L790.92 1254.6L790.92 1251.72L780.84 1251.72L780.84 1254.6z" clip-path="url(#p9b1065b066)" class="c23"/><path d="M790.92 1254.6L801 1254.6L801 1251.72L790.92 1251.72L790.92 1254.6z" clip-path="url(#p9b1065b066)" class="c23"/><path d="M801 1254.6L811.8 1254.6L811.8 1245.96L801 1245.96L801 1254.6z" clip-path="url(#p9b1065b066)" class="c23"/><path d="M811.8 1254.6L821.88 1254.6L821.88 1243.08L811.8 1243.08L811.8 1254.6z" clip-path="url(#p9b1065b066)" class="c23"/><path d="M821.88 1254.6L831.96 1254.6L831.96 1229.4L821.88 1229.4L821.88 1254.6z" clip-path="url(#p9b1065b066)" class="c23"/><path d="M831.96 1254.6L842.04 1254.6L842.04 1240.2L831.96 1240.2L831.96 1254.6z" clip-path="url(#p9b1065b066)" class="c23"/><path d="M842.04 1254.6L852.84 1254.6L852.84 1240.2L842.04 1240.2L842.04 1254.6z" clip-path="url(#p9b1065b066)" class="c23"/><path d="M852.84 1254.6L862.92 1254.6L862.92 1215L852.84 1215L852.84 1254.6z" clip-path="url(#p9b1065b066)" class="c23"/><path d="M862.92 1254.6L873 1254.6L873 1220.76L862.92 1220.76L862.92 1254.6z" clip-path="url(#p9b1065b066)" class="c23"/><path d="M873 1254.6L883.08 1254.6L883.08 1209.96L873 1209.96L873 1254.6z" clip-path="url(#p9b1065b066)" class="c23"/><path d="M883.08 1254.6L893.88 1254.6L893.88 1226.52L883.08 1226.52L883.08 1254.6z" clip-path="url(#p9b1065b066)" class="c23"/><path d="M893.88 1254.6L903.96 1254.6L903.96 1215L893.88 1215L893.88 1254.6z" clip-path="url(#p9b1065b066)" class="c23"/><path d="M903.96 1254.6L914.04 1254.6L914.04 1207.08L903.96 1207.08L903.96 1254.6z" clip-path="url(#p9b1065b066)" class="c23"/><path d="M914.04 1254.6L924.12 1254.6L924.12 1207.08L914.04 1207.08L914.04 1254.6z" clip-path="url(#p9b1065b066)" class="c23"/><path d="M924.12 1254.6L934.92 1254.6L934.92 1201.32L924.12 1201.32L924.12 1254.6z" clip-path="url(#p9b1065b066)" class="c23"/><path d="M934.92 1254.6L945 1254.6L945 1192.68L934.92 1192.68L934.92 1254.6z" clip-path="url(#p9b1065b066)" class="c23"/><path d="M945 1254.6L955.08 1254.6L955.08 1161.72L945 1161.72L945 1254.6z" clip-path="url(#p9b1065b066)" class="c23"/><path d="M955.08 1254.6L965.16 1254.6L965.16 1170.36L955.08 1170.36L955.08 1254.6z" clip-path="url(#p9b1065b066)" class="c23"/><path d="M965.16 1254.6L975.96 1254.6L975.96 1159.56L965.16 1159.56L965.16 1254.6z" clip-path="url(#p9b1065b066)" class="c23"/><path d="M975.96 1254.6L986.04 1254.6L986.04 1170.36L975.96 1170.36L975.96 1254.6z" clip-path="url(#p9b1065b066)" class="c23"/><path d="M986.04 1254.6L996.12 1254.6L996.12 1181.88L986.04 1181.88L986.04 1254.6z" clip-path="url(#p9b1065b066)" class="c23"/><path d="M996.12 1254.6L1006.2 1254.6L1006.2 1170.36L996.12 1170.36L996.12 1254.6z" clip-path="url(#p9b1065b066)" class="c23"/><path d="M1006.2 1254.6L1017 1254.6L1017 1156.68L1006.2 1156.68L1006.2 1254.6z" clip-path="url(#p9b1065b066)" class="c23"/><path d="M1017 1254.6L1027.08 1254.6L1027.08 1176.12L1017 1176.12L1017 1254.6z" clip-path="url(#p9b1065b066)" class="c23"/><path d="M1027.08 1254.6L1037.16 1254.6L1037.16 1153.8L1027.08 1153.8L1027.08 1254.6z" clip-path="url(#p9b1065b066)" class="c23"/><path d="M1037.16 1254.6L1047.24 1254.6L1047.24 1134.36L1037.16 1134.36L1037.16 1254.6z" clip-path="url(#p9b1065b066)" class="c23"/><path d="M606.6 1254.6L616.68 1254.6L616.68 1254.6L606.6 1254.6L606.6 1254.6z" clip-path="url(#p9b1065b066)" class="c26"/><path d="M616.68 1254.6L626.76 1254.6L626.76 1254.6L616.68 1254.6L616.68 1254.6z" clip-path="url(#p9b1065b066)" class="c26"/><path d="M626.76 1254.6L636.84 1254.6L636.84 1254.6L626.76 1254.6L626.76 1254.6z" clip-path="url(#p9b1065b066)" class="c26"/><path d="M636.84 1254.6L647.64 1254.6L647.64 1254.6L636.84 1254.6L636.84 1254.6z" clip-path="url(#p9b1065b066)" class="c26"/><path d="M647.64 1254.6L657.72 1254.6L657.72 1254.6L647.64 1254.6L647.64 1254.6z" clip-path="url(#p9b1065b066)" class="c26"/><path d="M657.72 1254.6L667.8 1254.6L667.8 1254.6L657.72 1254.6L657.72 1254.6z" clip-path="url(#p9b1065b066)" class="c26"/><path d="M667.8 1254.6L677.88 1254.6L677.88 1254.6L667.8 1254.6L667.8 1254.6z" clip-path="url(#p9b1065b066)" class="c26"/><path d="M677.88 1254.6L688.68 1254.6L688.68 1254.6L677.88 1254.6L677.88 1254.6z" clip-path="url(#p9b1065b066)" class="c26"/><path d="M688.68 1254.6L698.76 1254.6L698.76 1254.6L688.68 1254.6L688.68 1254.6z" clip-path="url(#p9b1065b066)" class="c26"/><path d="M698.76 1254.6L708.84 1254.6L708.84 1254.6L698.76 1254.6L698.76 1254.6z" clip-path="url(#p9b1065b066)" class="c26"/><path d="M708.84 1254.6L718.92 1254.6L718.92 1254.6L708.84 1254.6L708.84 1254.6z" clip-path="url(#p9b1065b066)" class="c26"/><path d="M718.92 1254.6L729.72 1254.6L729.72 1251.72L718.92 1251.72L718.92 1254.6z" clip-path="url(#p9b1065b066)" class="c26"/><path d="M729.72 1254.6L739.8 1254.6L739.8 1254.6L729.72 1254.6L729.72 1254.6z" clip-path="url(#p9b1065b066)" class="c26"/><path d="M739.8 1254.6L749.88 1254.6L749.88 1251.72L739.8 1251.72L739.8 1254.6z" clip-path="url(#p9b1065b066)" class="c26"/><path d="M749.88 1254.6L759.96 1254.6L759.96 1251.72L749.88 1251.72L749.88 1254.6z" clip-path="url(#p9b1065b066)" class="c26"/><path d="M759.96 1254.6L770.76 1254.6L770.76 1254.6L759.96 1254.6L759.96 1254.6z" clip-path="url(#p9b1065b066)" class="c26"/><path d="M770.76 1254.6L780.84 1254.6L780.84 1254.6L770.76 1254.6L770.76 1254.6z" clip-path="url(#p9b1065b066)" class="c26"/><path d="M780.84 1254.6L790.92 1254.6L790.92 1254.6L780.84 1254.6L780.84 1254.6z" clip-path="url(#p9b1065b066)" class="c26"/><path d="M790.92 1254.6L801 1254.6L801 1251.72L790.92 1251.72L790.92 1254.6z" clip-path="url(#p9b1065b066)" class="c26"/><path d="M801 1254.6L811.8 1254.6L811.8 1254.6L801 1254.6L801 1254.6z" clip-path="url(#p9b1065b066)" class="c26"/><path d="M811.8 1254.6L821.88 1254.6L821.88 1254.6L811.8 1254.6L811.8 1254.6z" clip-path="url(#p9b1065b066)" class="c26"/><path d="M821.88 1254.6L831.96 1254.6L831.96 1254.6L821.88 1254.6L821.88 1254.6z" clip-path="url(#p9b1065b066)" class="c26"/><path d="M831.96 1254.6L842.04 1254.6L842.04 1254.6L831.96 1254.6L831.96 1254.6z" clip-path="url(#p9b1065b066)" class="c26"/><path d="M842.04 1254.6L852.84 1254.6L852.84 1251.72L842.04 1251.72L842.04 1254.6z" clip-path="url(#p9b1065b066)" class="c26"/><path d="M852.84 1254.6L862.92 1254.6L862.92 1243.08L852.84 1243.08L852.84 1254.6z" clip-path="url(#p9b1065b066)" class="c26"/><path d="M862.92 1254.6L873 1254.6L873 1248.84L862.92 1248.84L862.92 1254.6z" clip-path="url(#p9b1065b066)" class="c26"/><path d="M873 1254.6L883.08 1254.6L883.08 1243.08L873 1243.08L873 1254.6z" clip-path="url(#p9b1065b066)" class="c26"/><path d="M883.08 1254.6L893.88 1254.6L893.88 1254.6L883.08 1254.6L883.08 1254.6z" clip-path="url(#p9b1065b066)" class="c26"/><path d="M893.88 1254.6L903.96 1254.6L903.96 1245.96L893.88 1245.96L893.88 1254.6z" clip-path="url(#p9b1065b066)" class="c26"/><path d="M903.96 1254.6L914.04 1254.6L914.04 1248.84L903.96 1248.84L903.96 1254.6z" clip-path="url(#p9b1065b066)" class="c26"/><path d="M914.04 1254.6L924.12 1254.6L924.12 1254.6L914.04 1254.6L914.04 1254.6z" clip-path="url(#p9b1065b066)" class="c26"/><path d="M924.12 1254.6L934.92 1254.6L934.92 1248.84L924.12 1248.84L924.12 1254.6z" clip-path="url(#p9b1065b066)" class="c26"/><path d="M934.92 1254.6L945 1254.6L945 1240.2L934.92 1240.2L934.92 1254.6z" clip-path="url(#p9b1065b066)" class="c26"/><path d="M945 1254.6L955.08 1254.6L955.08 1245.96L945 1245.96L945 1254.6z" clip-path="url(#p9b1065b066)" class="c26"/><path d="M955.08 1254.6L965.16 1254.6L965.16 1245.96L955.08 1245.96L955.08 1254.6z" clip-path="url(#p9b1065b066)" class="c26"/><path d="M965.16 1254.6L975.96 1254.6L975.96 1237.32L965.16 1237.32L965.16 1254.6z" clip-path="url(#p9b1065b066)" class="c26"/><path d="M975.96 1254.6L986.04 1254.6L986.04 1223.64L975.96 1223.64L975.96 1254.6z" clip-path="url(#p9b1065b066)" class="c26"/><path d="M986.04 1254.6L996.12 1254.6L996.12 1223.64L986.04 1223.64L986.04 1254.6z" clip-path="url(#p9b1065b066)" class="c26"/><path d="M996.12 1254.6L1006.2 1254.6L1006.2 1223.64L996.12 1223.64L996.12 1254.6z" clip-path="url(#p9b1065b066)" class="c26"/><path d="M1006.2 1254.6L1017 1254.6L1017 1223.64L1006.2 1223.64L1006.2 1254.6z" clip-path="url(#p9b1065b066)" class="c26"/><path d="M1017 1254.6L1027.08 1254.6L1027.08 1220.76L1017 1220.76L1017 1254.6z" clip-path="url(#p9b1065b066)" class="c26"/><path d="M1027.08 1254.6L1037.16 1254.6L1037.16 1223.64L1027.08 1223.64L1027.08 1254.6z" clip-path="url(#p9b1065b066)" class="c26"/><path d="M1037.16 1254.6L1047.24 1254.6L1047.24 1235.16L1037.16 1235.16L1037.16 1254.6z" clip-path="url(#p9b1065b066)" class="c26"/><path d="M606.6 1254.6L616.68 1254.6L616.68 1254.6L606.6 1254.6L606.6 1254.6z" clip-path="url(#p9b1065b066)" class="c22"/><path d="M616.68 1254.6L626.76 1254.6L626.76 1254.6L616.68 1254.6L616.68 1254.6z" clip-path="url(#p9b1065b066)" class="c22"/><path d="M626.76 1254.6L636.84 1254.6L636.84 1254.6L626.76 1254.6L626.76 1254.6z" clip-path="url(#p9b1065b066)" class="c22"/><path d="M636.84 1254.6L647.64 1254.6L647.64 1254.6L636.84 1254.6L636.84 1254.6z" clip-path="url(#p9b1065b066)" class="c22"/><path d="M647.64 1254.6L657.72 1254.6L657.72 1254.6L647.64 1254.6L647.64 1254.6z" clip-path="url(#p9b1065b066)" class="c22"/><path d="M657.72 1254.6L667.8 1254.6L667.8 1251.72L657.72 1251.72L657.72 1254.6z" clip-path="url(#p9b1065b066)" class="c22"/><path d="M667.8 1254.6L677.88 1254.6L677.88 1254.6L667.8 1254.6L667.8 1254.6z" clip-path="url(#p9b1065b066)" class="c22"/><path d="M677.88 1254.6L688.68 1254.6L688.68 1251.72L677.88 1251.72L677.88 1254.6z" clip-path="url(#p9b1065b066)" class="c22"/><path d="M688.68 1254.6L698.76 1254.6L698.76 1251.72L688.68 1251.72L688.68 1254.6z" clip-path="url(#p9b1065b066)" class="c22"/><path d="M698.76 1254.6L708.84 1254.6L708.84 1251.72L698.76 1251.72L698.76 1254.6z" clip-path="url(#p9b1065b066)" class="c22"/><path d="M708.84 1254.6L718.92 1254.6L718.92 1248.84L708.84 1248.84L708.84 1254.6z" clip-path="url(#p9b1065b066)" class="c22"/><path d="M718.92 1254.6L729.72 1254.6L729.72 1251.72L718.92 1251.72L718.92 1254.6z" clip-path="url(#p9b1065b066)" class="c22"/><path d="M729.72 1254.6L739.8 1254.6L739.8 1251.72L729.72 1251.72L729.72 1254.6z" clip-path="url(#p9b1065b066)" class="c22"/><path d="M739.8 1254.6L749.88 1254.6L749.88 1243.08L739.8 1243.08L739.8 1254.6z" clip-path="url(#p9b1065b066)" class="c22"/><path d="M749.88 1254.6L759.96 1254.6L759.96 1245.96L749.88 1245.96L749.88 1254.6z" clip-path="url(#p9b1065b066)" class="c22"/><path d="M759.96 1254.6L770.76 1254.6L770.76 1232.28L759.96 1232.28L759.96 1254.6z" clip-path="url(#p9b1065b066)" class="c22"/><path d="M770.76 1254.6L780.84 1254.6L780.84 1220.76L770.76 1220.76L770.76 1254.6z" clip-path="url(#p9b1065b066)" class="c22"/><path d="M780.84 1254.6L790.92 1254.6L790.92 1226.52L780.84 1226.52L780.84 1254.6z" clip-path="url(#p9b1065b066)" class="c22"/><path d="M790.92 1254.6L801 1254.6L801 1204.2L790.92 1204.2L790.92 1254.6z" clip-path="url(#p9b1065b066)" class="c22"/><path d="M801 1254.6L811.8 1254.6L811.8 1207.08L801 1207.08L801 1254.6z" clip-path="url(#p9b1065b066)" class="c22"/><path d="M811.8 1254.6L821.88 1254.6L821.88 1207.08L811.8 1207.08L811.8 1254.6z" clip-path="url(#p9b1065b066)" class="c22"/><path d="M821.88 1254.6L831.96 1254.6L831.96 1173.24L821.88 1173.24L821.88 1254.6z" clip-path="url(#p9b1065b066)" class="c22"/><path d="M831.96 1254.6L842.04 1254.6L842.04 1159.56L831.96 1159.56L831.96 1254.6z" clip-path="url(#p9b1065b066)" class="c22"/><path d="M842.04 1254.6L852.84 1254.6L852.84 1156.68L842.04 1156.68L842.04 1254.6z" clip-path="url(#p9b1065b066)" class="c22"/><path d="M852.84 1254.6L862.92 1254.6L862.92 1094.76L852.84 1094.76L852.84 1254.6z" clip-path="url(#p9b1065b066)" class="c22"/><path d="M862.92 1254.6L873 1254.6L873 1112.04L862.92 1112.04L862.92 1254.6z" clip-path="url(#p9b1065b066)" class="c22"/><path d="M873 1254.6L883.08 1254.6L883.08 1047.24L873 1047.24L873 1254.6z" clip-path="url(#p9b1065b066)" class="c22"/><path d="M883.08 1254.6L893.88 1254.6L893.88 1014.12L883.08 1014.12L883.08 1254.6z" clip-path="url(#p9b1065b066)" class="c22"/><path d="M893.88 1254.6L903.96 1254.6L903.96 971.64L893.88 971.64L893.88 1254.6z" clip-path="url(#p9b1065b066)" class="c22"/><path d="M903.96 1254.6L914.04 1254.6L914.04 938.52L903.96 938.52L903.96 1254.6z" clip-path="url(#p9b1065b066)" class="c22"/><path d="M914.04 1254.6L924.12 1254.6L924.12 916.2L914.04 916.2L914.04 1254.6z" clip-path="url(#p9b1065b066)" class="c22"/><path d="M924.12 1254.6L934.92 1254.6L934.92 870.84L924.12 870.84L924.12 1254.6z" clip-path="url(#p9b1065b066)" class="c22"/><path d="M934.92 1254.6L945 1254.6L945 857.16L934.92 857.16L934.92 1254.6z" clip-path="url(#p9b1065b066)" class="c22"/><path d="M945 1254.6L955.08 1254.6L955.08 745.56L945 745.56L945 1254.6z" clip-path="url(#p9b1065b066)" class="c22"/><path d="M955.08 1254.6L965.16 1254.6L965.16 725.4L955.08 725.4L955.08 1254.6z" clip-path="url(#p9b1065b066)" class="c22"/><path d="M965.16 1254.6L975.96 1254.6L975.96 762.12L965.16 762.12L965.16 1254.6z" clip-path="url(#p9b1065b066)" class="c22"/><path d="M975.96 1254.6L986.04 1254.6L986.04 697.32L975.96 697.32L975.96 1254.6z" clip-path="url(#p9b1065b066)" class="c22"/><path d="M986.04 1254.6L996.12 1254.6L996.12 725.4L986.04 725.4L986.04 1254.6z" clip-path="url(#p9b1065b066)" class="c22"/><path d="M996.12 1254.6L1006.2 1254.6L1006.2 854.28L996.12 854.28L996.12 1254.6z" clip-path="url(#p9b1065b066)" class="c22"/><path d="M1006.2 1254.6L1017 1254.6L1017 775.8L1006.2 775.8L1006.2 1254.6z" clip-path="url(#p9b1065b066)" class="c22"/><path d="M1017 1254.6L1027.08 1254.6L1027.08 734.04L1017 734.04L1017 1254.6z" clip-path="url(#p9b1065b066)" class="c22"/><path d="M1027.08 1254.6L1037.16 1254.6L1037.16 862.92L1027.08 862.92L1027.08 1254.6z" clip-path="url(#p9b1065b066)" class="c22"/><path d="M1037.16 1254.6L1047.24 1254.6L1047.24 966.6L1037.16 966.6L1037.16 1254.6z" clip-path="url(#p9b1065b066)" class="c22"/><path d="M606.6 1254.6L616.68 1254.6L616.68 1254.6L606.6 1254.6L606.6 1254.6z" clip-path="url(#p9b1065b066)" class="c25"/><path d="M616.68 1254.6L626.76 1254.6L626.76 1254.6L616.68 1254.6L616.68 1254.6z" clip-path="url(#p9b1065b066)" class="c25"/><path d="M626.76 1254.6L636.84 1254.6L636.84 1254.6L626.76 1254.6L626.76 1254.6z" clip-path="url(#p9b1065b066)" class="c25"/><path d="M636.84 1254.6L647.64 1254.6L647.64 1254.6L636.84 1254.6L636.84 1254.6z" clip-path="url(#p9b1065b066)" class="c25"/><path d="M647.64 1254.6L657.72 1254.6L657.72 1254.6L647.64 1254.6L647.64 1254.6z" clip-path="url(#p9b1065b066)" class="c25"/><path d="M657.72 1254.6L667.8 1254.6L667.8 1254.6L657.72 1254.6L657.72 1254.6z" clip-path="url(#p9b1065b066)" class="c25"/><path d="M667.8 1254.6L677.88 1254.6L677.88 1251.72L667.8 1251.72L667.8 1254.6z" clip-path="url(#p9b1065b066)" class="c25"/><path d="M677.88 1254.6L688.68 1254.6L688.68 1251.72L677.88 1251.72L677.88 1254.6z" clip-path="url(#p9b1065b066)" class="c25"/><path d="M688.68 1254.6L698.76 1254.6L698.76 1254.6L688.68 1254.6L688.68 1254.6z" clip-path="url(#p9b1065b066)" class="c25"/><path d="M698.76 1254.6L708.84 1254.6L708.84 1254.6L698.76 1254.6L698.76 1254.6z" clip-path="url(#p9b1065b066)" class="c25"/><path d="M708.84 1254.6L718.92 1254.6L718.92 1254.6L708.84 1254.6L708.84 1254.6z" clip-path="url(#p9b1065b066)" class="c25"/><path d="M718.92 1254.6L729.72 1254.6L729.72 1254.6L718.92 1254.6L718.92 1254.6z" clip-path="url(#p9b1065b066)" class="c25"/><path d="M729.72 1254.6L739.8 1254.6L739.8 1251.72L729.72 1251.72L729.72 1254.6z" clip-path="url(#p9b1065b066)" class="c25"/><path d="M739.8 1254.6L749.88 1254.6L749.88 1254.6L739.8 1254.6L739.8 1254.6z" clip-path="url(#p9b1065b066)" class="c25"/><path d="M749.88 1254.6L759.96 1254.6L759.96 1254.6L749.88 1254.6L749.88 1254.6z" clip-path="url(#p9b1065b066)" class="c25"/><path d="M759.96 1254.6L770.76 1254.6L770.76 1254.6L759.96 1254.6L759.96 1254.6z" clip-path="url(#p9b1065b066)" class="c25"/><path d="M770.76 1254.6L780.84 1254.6L780.84 1251.72L770.76 1251.72L770.76 1254.6z" clip-path="url(#p9b1065b066)" class="c25"/><path d="M780.84 1254.6L790.92 1254.6L790.92 1245.96L780.84 1245.96L780.84 1254.6z" clip-path="url(#p9b1065b066)" class="c25"/><path d="M790.92 1254.6L801 1254.6L801 1245.96L790.92 1245.96L790.92 1254.6z" clip-path="url(#p9b1065b066)" class="c25"/><path d="M801 1254.6L811.8 1254.6L811.8 1248.84L801 1248.84L801 1254.6z" clip-path="url(#p9b1065b066)" class="c25"/><path d="M811.8 1254.6L821.88 1254.6L821.88 1243.08L811.8 1243.08L811.8 1254.6z" clip-path="url(#p9b1065b066)" class="c25"/><path d="M821.88 1254.6L831.96 1254.6L831.96 1245.96L821.88 1245.96L821.88 1254.6z" clip-path="url(#p9b1065b066)" class="c25"/><path d="M831.96 1254.6L842.04 1254.6L842.04 1243.08L831.96 1243.08L831.96 1254.6z" clip-path="url(#p9b1065b066)" class="c25"/><path d="M842.04 1254.6L852.84 1254.6L852.84 1237.32L842.04 1237.32L842.04 1254.6z" clip-path="url(#p9b1065b066)" class="c25"/><path d="M852.84 1254.6L862.92 1254.6L862.92 1243.08L852.84 1243.08L852.84 1254.6z" clip-path="url(#p9b1065b066)" class="c25"/><path d="M862.92 1254.6L873 1254.6L873 1229.4L862.92 1229.4L862.92 1254.6z" clip-path="url(#p9b1065b066)" class="c25"/><path d="M873 1254.6L883.08 1254.6L883.08 1226.52L873 1226.52L873 1254.6z" clip-path="url(#p9b1065b066)" class="c25"/><path d="M883.08 1254.6L893.88 1254.6L893.88 1207.08L883.08 1207.08L883.08 1254.6z" clip-path="url(#p9b1065b066)" class="c25"/><path d="M893.88 1254.6L903.96 1254.6L903.96 1207.08L893.88 1207.08L893.88 1254.6z" clip-path="url(#p9b1065b066)" class="c25"/><path d="M903.96 1254.6L914.04 1254.6L914.04 1212.12L903.96 1212.12L903.96 1254.6z" clip-path="url(#p9b1065b066)" class="c25"/><path d="M914.04 1254.6L924.12 1254.6L924.12 1217.88L914.04 1217.88L914.04 1254.6z" clip-path="url(#p9b1065b066)" class="c25"/><path d="M924.12 1254.6L934.92 1254.6L934.92 1192.68L924.12 1192.68L924.12 1254.6z" clip-path="url(#p9b1065b066)" class="c25"/><path d="M934.92 1254.6L945 1254.6L945 1192.68L934.92 1192.68L934.92 1254.6z" clip-path="url(#p9b1065b066)" class="c25"/><path d="M945 1254.6L955.08 1254.6L955.08 1148.04L945 1148.04L945 1254.6z" clip-path="url(#p9b1065b066)" class="c25"/><path d="M955.08 1254.6L965.16 1254.6L965.16 1195.56L955.08 1195.56L955.08 1254.6z" clip-path="url(#p9b1065b066)" class="c25"/><path d="M965.16 1254.6L975.96 1254.6L975.96 1164.6L965.16 1164.6L965.16 1254.6z" clip-path="url(#p9b1065b066)" class="c25"/><path d="M975.96 1254.6L986.04 1254.6L986.04 1142.28L975.96 1142.28L975.96 1254.6z" clip-path="url(#p9b1065b066)" class="c25"/><path d="M986.04 1254.6L996.12 1254.6L996.12 1170.36L986.04 1170.36L986.04 1254.6z" clip-path="url(#p9b1065b066)" class="c25"/><path d="M996.12 1254.6L1006.2 1254.6L1006.2 1117.08L996.12 1117.08L996.12 1254.6z" clip-path="url(#p9b1065b066)" class="c25"/><path d="M1006.2 1254.6L1017 1254.6L1017 1134.36L1006.2 1134.36L1006.2 1254.6z" clip-path="url(#p9b1065b066)" class="c25"/><path d="M1017 1254.6L1027.08 1254.6L1027.08 1066.68L1017 1066.68L1017 1254.6z" clip-path="url(#p9b1065b066)" class="c25"/><path d="M1027.08 1254.6L1037.16 1254.6L1037.16 1119.96L1027.08 1119.96L1027.08 1254.6z" clip-path="url(#p9b1065b066)" class="c25"/><path d="M1037.16 1254.6L1047.24 1254.6L1047.24 1128.6L1037.16 1128.6L1037.16 1254.6z" clip-path="url(#p9b1065b066)" class="c25"/><g><g><path d="M586.44 1254.6L586.44 669.96" clip-path="url(#p9b1065b066)" class="c9"/><use href="#m880bdcb491" x="586.44" y="1254.6" class="c10"/><g transform="translate(-0.5937 -0.3472)"><g transform="translate(573.78 1268.96) scale(0.1 -0.1)"><use href="#DejaVuSans-2212" transform="translate(0 0)"/><use href="#DejaVuSans-30" transform="translate(83.7 0)"/><use href="#DejaVuSans-2e" transform="translate(146.7 0)"/><use href="#DejaVuSans-35" transform="translate(178.2 0)"/></g></g></g><g><path d="M678.6 1254.6L678.6 669.96" clip-path="url(#p9b1065b066)" class="c9"/><use href="#m880bdcb491" x="678.6" y="1254.6" class="c10"/><g transform="translate(-0.05584 -0.2899)"><g transform="translate(666.06 1268.96) scale(0.1 -0.1)"><use href="#DejaVuSans-2212" transform="translate(0 0)"/><use href="#DejaVuSans-30" transform="translate(83.7 0)"/><use href="#DejaVuSans-2e" transform="translate(146.7 0)"/><use href="#DejaVuSans-34" transform="translate(178.2 0)"/></g></g></g><g><path d="M770.76 1254.6L770.76 669.96" clip-path="url(#p9b1065b066)" class="c9"/><use href="#m880bdcb491" x="770.76" y="1254.6" class="c10"/><g transform="translate(-0.255 -0.2875)"><g transform="translate(758.34 1268.96) scale(0.1 -0.1)"><use href="#DejaVuSans-2212" transform="translate(0 0)"/><use href="#DejaVuSans-30" transform="translate(83.7 0)"/><use href="#DejaVuSans-2e" transform="translate(146.7 0)"/><use href="#DejaVuSans-33" transform="translate(178.2 0)"/></g></g></g><g><path d="M862.92 1254.6L862.92 669.96" clip-path="url(#p9b1065b066)" class="c9"/><use href="#m880bdcb491" x="862.92" y="1254.6" class="c10"/><g transform="translate(-0.2873 -0.3064)"><g transform="translate(850.61 1268.96) scale(0.1 -0.1)"><use href="#DejaVuSans-2212" transform="translate(0 0)"/><use href="#DejaVuSans-30" transform="translate(83.7 0)"/><use href="#DejaVuSans-2e" transform="translate(146.7 0)"/><use href="#DejaVuSans-32" transform="translate(178.2 0)"/></g></g></g><g><path d="M955.08 1254.6L955.08 669.96" clip-path="url(#p9b1065b066)" class="c9"/><use href="#m880bdcb491" x="955.08" y="1254.6" class="c10"/><g transform="translate(-0.178 -0.285)"><g transform="translate(942.85 1268.96) scale(0.1 -0.1)"><use href="#DejaVuSans-2212" transform="translate(0 0)"/><use href="#DejaVuSans-30" transform="translate(83.7 0)"/><use href="#DejaVuSans-2e" transform="translate(146.7 0)"/><use href="#DejaVuSans-31" transform="translate(178.2 0)"/></g></g></g><g><path d="M1047.24 1254.6L1047.24 669.96" clip-path="url(#p9b1065b066)" class="c9"/><use href="#m880bdcb491" x="1047.24" y="1254.6" class="c10"/><g transform="translate(-0.08188 -0.3385)"><g transform="translate(1039.36 1268.96) scale(0.1 -0.1)"><use href="#DejaVuSans-30" transform="translate(0 0)"/><use href="#DejaVuSans-2e" transform="translate(63 0)"/><use href="#DejaVuSans-30" transform="translate(94.5 0)"/></g></g></g><g transform="translate(-0.4262 -0.07474)"><g transform="translate(812.28 1283.04) scale(0.1 -0.1)"><use href="#DejaVuSans-41" transform="translate(0 0)"/><use href="#DejaVuSans-6c" transform="translate(68.4 0)"/><use href="#DejaVuSans-70" transform="translate(96.3 0)"/><use href="#DejaVuSans-68" transform="translate(160.2 0)"/><use href="#DejaVuSans-61" transform="translate(223.2 0)"/></g></g></g><g><g><path d="M584.28 1254.6L1069.56 1254.6" clip-path="url(#p9b1065b066)" class="c9"/><use href="#m2df91f7dbd" x="584.28" y="1254.6" class="c10"/><g transform="translate(0.05283 -0.08566)"><g transform="translate(561.14 1258) scale(0.1 -0.1)"><use href="#DejaVuSans-30" transform="translate(0 0)"/><use href="#DejaVuSans-2e" transform="translate(63 0)"/><use href="#DejaVuSans-30" transform="translate(94.5 0)"/></g></g></g><g><path d="M584.28 1179.72L1069.56 1179.72" clip-path="url(#p9b1065b066)" class="c9"/><use href="#m2df91f7dbd" x="584.28" y="1179.72" class="c10"/><g transform="translate(0.01227 0.2617)"><g transform="translate(561.14 1183.49) scale(0.1 -0.1)"><use href="#DejaVuSans-30" transform="translate(0 0)"/><use href="#DejaVuSans-2e" transform="translate(63 0)"/><use href="#DejaVuSans-35" transform="translate(94.5 0)"/></g></g></g><g><path d="M584.28 1105.56L1069.56 1105.56" clip-path="url(#p9b1065b066)" class="c9"/><use href="#m2df91f7dbd" x="584.28" y="1105.56" class="c10"/><g transform="translate(0.004679 -0.04935)"><g transform="translate(561.05 1108.97) scale(0.1 -0.1)"><use href="#DejaVuSans-31" transform="translate(0 0)"/><use href="#DejaVuSans-2e" transform="translate(63.9 0)"/><use href="#DejaVuSans-30" transform="translate(95.4 0)"/></g></g></g><g><path d="M584.28 1030.68L1069.56 1030.68" clip-path="url(#p9b1065b066)" class="c9"/><use href="#m2df91f7dbd" x="584.28" y="1030.68" class="c10"/><g transform="translate(0.09903 0.233)"><g transform="translate(561.05 1034.46) scale(0.1 -0.1)"><use href="#DejaVuSans-31" transform="translate(0 0)"/><use href="#DejaVuSans-2e" transform="translate(63.9 0)"/><use href="#DejaVuSans-35" transform="translate(95.4 0)"/></g></g></g><g><path d="M584.28 956.52L1069.56 956.52" clip-path="url(#p9b1065b066)" class="c9"/><use href="#m2df91f7dbd" x="584.28" y="956.52" class="c10"/><g transform="translate(-0.3813 -0.1325)"><g transform="translate(561.14 959.95) scale(0.1 -0.1)"><use href="#DejaVuSans-32" transform="translate(0 0)"/><use href="#DejaVuSans-2e" transform="translate(63 0)"/><use href="#DejaVuSans-30" transform="translate(94.5 0)"/></g></g></g><g><path d="M584.28 881.64L1069.56 881.64" clip-path="url(#p9b1065b066)" class="c9"/><use href="#m2df91f7dbd" x="584.28" y="881.64" class="c10"/><g transform="translate(-0.2344 0.1057)"><g transform="translate(561.14 885.43) scale(0.1 -0.1)"><use href="#DejaVuSans-32" transform="translate(0 0)"/><use href="#DejaVuSans-2e" transform="translate(63 0)"/><use href="#DejaVuSans-35" transform="translate(94.5 0)"/></g></g></g><g><path d="M584.28 807.48L1069.56 807.48" clip-path="url(#p9b1065b066)" class="c9"/><use href="#m2df91f7dbd" x="584.28" y="807.48" class="c10"/><g transform="translate(-0.6115 -0.1713)"><g transform="translate(561.14 810.92) scale(0.1 -0.1)"><use href="#DejaVuSans-33" transform="translate(0 0)"/><use href="#DejaVuSans-2e" transform="translate(63 0)"/><use href="#DejaVuSans-30" transform="translate(94.5 0)"/></g></g></g><g><path d="M584.28 732.6L1069.56 732.6" clip-path="url(#p9b1065b066)" class="c9"/><use href="#m2df91f7dbd" x="584.28" y="732.6" class="c10"/><g transform="translate(-0.5146 0.1209)"><g transform="translate(561.14 736.41) scale(0.1 -0.1)"><use href="#DejaVuSans-33" transform="translate(0 0)"/><use href="#DejaVuSans-2e" transform="translate(63 0)"/><use href="#DejaVuSans-35" transform="translate(94.5 0)"/></g></g></g><g transform="translate(0.1567 1.56)"><g transform="translate(554.89 980.75) rotate(-90) scale(0.1 -0.1)"><use href="#DejaVuSans-44" transform="translate(0 0)"/><use href="#DejaVuSans-65" transform="translate(77.4 0)"/><use href="#DejaVuSans-6e" transform="translate(138.6 0)"/><use href="#DejaVuSans-73" transform="translate(201.6 0)"/><use href="#DejaVuSans-69" transform="translate(252.9 0)"/><use href="#DejaVuSans-74" transform="translate(280.8 0)"/><use href="#DejaVuSans-79" transform="translate(320.4 0)"/></g></g></g><path d="M605.95 1254.04L898.6 1253.93L1009.45 1253.71L1047.14 1253.76L1047.14 1253.76" clip-path="url(#p9b1065b066)" class="c34"/><path d="M605.95 1254.04L898.6 1253.94L971.76 1253.23L985.06 1252.81L1013.89 1251.78L1022.75 1251.71L1031.62 1251.83L1042.71 1252.23L1047.14 1252.44L1047.14 1252.44" clip-path="url(#p9b1065b066)" class="c32"/><path d="M605.95 1254.04L903.03 1253.96L914.12 1253.7L922.99 1253.23L947.37 1251.61L969.55 1250.81L976.2 1250.24L985.06 1249.21L1002.8 1247.04L1013.89 1245.96L1027.19 1244.85L1031.62 1244.64L1036.06 1244.66L1040.49 1245.01L1044.92 1245.72L1047.14 1246.21L1047.14 1246.21" clip-path="url(#p9b1065b066)" class="c36"/><path d="M605.95 1254.04L834.31 1253.94L849.83 1253.66L865.35 1253.12L880.86 1252.6L891.95 1252.48L920.77 1252.44L927.42 1252.14L936.29 1251.5L947.37 1250.41L960.68 1249.07L969.55 1248.41L978.41 1248.01L989.5 1247.81L1009.45 1247.76L1020.54 1247.88L1029.4 1248.23L1036.06 1248.7L1044.92 1249.59L1047.14 1249.85L1047.14 1249.85" clip-path="url(#p9b1065b066)" class="c31"/><path d="M605.95 1254.04L668.03 1253.93L743.41 1253.54L763.36 1253.34L778.88 1252.95L792.18 1252.37L803.27 1251.67L816.57 1250.6L838.74 1248.75L849.83 1248.09L860.91 1247.66L885.3 1246.84L894.17 1246.29L903.03 1245.51L911.9 1244.5L922.99 1243.01L940.72 1240.33L958.46 1237.48L967.33 1235.87L976.2 1234.04L1000.58 1228.72L1005.02 1228.07L1009.45 1227.65L1013.89 1227.52L1018.32 1227.73L1022.75 1228.28L1027.19 1229.18L1031.62 1230.43L1036.06 1231.97L1040.49 1233.76L1047.14 1236.76L1047.14 1236.76" clip-path="url(#p9b1065b066)" class="c36"/><path d="M605.95 1254.04L703.5 1253.9L774.45 1253.84L894.17 1253.91L925.2 1253.64L956.24 1253.14L1005.02 1252.28L1024.97 1252.18L1044.92 1252.32L1047.14 1252.35L1047.14 1252.35" clip-path="url(#p9b1065b066)" class="c30"/><path d="M605.95 1254.04L909.69 1253.93L918.55 1253.68L925.2 1253.31L934.07 1252.57L945.16 1251.37L954.03 1250.18L965.11 1248.63L969.55 1248.21L973.98 1248.07L978.41 1248.23L982.85 1248.65L996.15 1250.23L1000.58 1250.48L1018.32 1251.03L1024.97 1251.71L1036.06 1253.02L1042.71 1253.56L1047.14 1253.78L1047.14 1253.78" clip-path="url(#p9b1065b066)" class="c29"/><path d="M605.95 1254.04L965.11 1253.93L973.98 1253.65L982.85 1253.13L1000.58 1251.83L1011.67 1251.03L1018.32 1250.85L1024.97 1250.96L1031.62 1251.3L1040.49 1251.99L1047.14 1252.63L1047.14 1252.63" clip-path="url(#p9b1065b066)" class="c33"/><path d="M605.95 1254.04L710.15 1253.93L727.89 1253.62L743.41 1253.4L756.71 1253.48L772.23 1253.57L814.35 1253.49L823.22 1253.41L832.09 1253.1L840.96 1252.56L854.26 1251.49L869.78 1250.05L878.65 1249.03L885.3 1248.08L894.17 1246.53L909.69 1243.65L916.34 1242.66L936.29 1239.98L942.94 1238.63L949.59 1237.02L962.89 1233.71L971.76 1231.84L982.85 1229.53L987.28 1228.42L991.72 1227.12L996.15 1225.61L1000.58 1223.9L1007.23 1221.05L1013.89 1218.15L1018.32 1216.45L1020.54 1215.75L1022.75 1215.19L1024.97 1214.8L1027.19 1214.61L1029.4 1214.65L1031.62 1214.94L1033.84 1215.5L1036.06 1216.35L1038.27 1217.48L1040.49 1218.89L1042.71 1220.55L1044.92 1222.45L1047.14 1224.54L1047.14 1224.54" clip-path="url(#p9b1065b066)" class="c29"/><path d="M605.95 1254.04L738.98 1253.96L747.84 1253.75L754.49 1253.43L761.15 1252.9L767.8 1252.16L787.75 1249.74L792.18 1249.46L796.62 1249.36L801.05 1249.44L807.7 1249.79L816.57 1250.26L821 1250.29L825.44 1250.09L829.87 1249.64L834.31 1248.97L843.18 1247.3L849.83 1246.1L858.69 1244.77L865.35 1243.76L869.78 1242.9L874.21 1241.78L878.65 1240.4L883.08 1238.79L898.6 1232.89L914.12 1227.6L918.55 1225.74L922.99 1223.61L929.64 1220.05L936.29 1216.44L940.72 1214.22L945.16 1212.25L951.81 1209.63L956.24 1207.89L960.68 1205.88L962.89 1204.68L965.11 1203.31L967.33 1201.72L969.55 1199.88L971.76 1197.76L973.98 1195.31L976.2 1192.53L978.41 1189.37L980.63 1185.83L982.85 1181.91L985.06 1177.61L987.28 1172.96L991.72 1162.76L996.15 1151.72L1002.8 1134.86L1007.23 1124.36L1009.45 1119.57L1011.67 1115.2L1013.89 1111.32L1016.1 1108.02L1018.32 1105.38L1020.54 1103.48L1022.75 1102.43L1024.97 1102.29L1027.19 1103.15L1029.4 1105.08L1031.62 1108.13L1033.84 1112.32L1036.06 1117.63L1038.27 1124.02L1040.49 1131.39L1042.71 1139.62L1044.92 1148.53L1047.14 1157.93L1047.14 1157.93" clip-path="url(#p9b1065b066)" class="c35"/><path d="M605.95 1253.42L617.04 1253.52L650.29 1254L670.25 1253.98L681.33 1253.8L690.2 1253.48L699.07 1252.96L723.46 1251.33L734.54 1250.97L776.66 1249.84L783.32 1249.36L787.75 1248.84L792.18 1248.12L796.62 1247.2L801.05 1246.07L807.7 1244.09L818.79 1240.39L834.31 1235L840.96 1232.41L847.61 1229.54L860.91 1223.6L865.35 1221.86L869.78 1220.33L874.21 1219.03L880.86 1217.37L889.73 1215.24L894.17 1214L898.6 1212.56L903.03 1210.86L907.47 1208.9L911.9 1206.65L916.34 1204.09L920.77 1201.21L925.2 1198.02L929.64 1194.54L936.29 1188.95L942.94 1183.3L947.37 1179.78L951.81 1176.66L954.03 1175.29L956.24 1174.07L958.46 1172.99L960.68 1172.08L962.89 1171.32L965.11 1170.71L967.33 1170.25L971.76 1169.68L976.2 1169.49L991.72 1169.37L996.15 1169.03L1002.8 1168.22L1009.45 1167.45L1011.67 1167.31L1013.89 1167.3L1016.1 1167.44L1018.32 1167.78L1020.54 1168.36L1022.75 1169.21L1024.97 1170.37L1027.19 1171.88L1029.4 1173.76L1031.62 1176.03L1033.84 1178.7L1036.06 1181.75L1038.27 1185.19L1040.49 1188.96L1042.71 1193.03L1047.14 1201.82L1047.14 1201.82" clip-path="url(#p9b1065b066)" class="c31"/><path d="M605.95 1254.04L679.12 1253.93L699.07 1253.64L743.41 1252.77L758.93 1252.87L794.4 1253.24L805.49 1253.13L814.35 1252.87L823.22 1252.39L832.09 1251.66L845.39 1250.29L856.48 1249.19L865.35 1248.56L872 1248.29L880.86 1248.16L907.47 1248.06L914.12 1247.74L920.77 1247.18L927.42 1246.37L934.07 1245.28L940.72 1243.9L947.37 1242.23L954.03 1240.29L960.68 1238.13L982.85 1230.61L987.28 1229.39L991.72 1228.37L996.15 1227.6L1000.58 1227.12L1005.02 1226.95L1009.45 1227.12L1013.89 1227.63L1018.32 1228.48L1022.75 1229.67L1027.19 1231.16L1031.62 1232.91L1036.06 1234.86L1044.92 1239.12L1047.14 1240.21L1047.14 1240.21" clip-path="url(#p9b1065b066)" class="c34"/><path d="M605.95 1254.04L636.99 1253.93L645.86 1253.65L685.77 1251.71L705.72 1250.5L716.81 1250.1L723.46 1249.77L727.89 1249.32L732.32 1248.58L736.76 1247.53L741.19 1246.15L745.63 1244.45L750.06 1242.38L754.49 1239.9L758.93 1237.02L765.58 1232.22L772.23 1227.38L781.1 1221.29L803.27 1206.08L805.49 1204.45L807.7 1202.67L809.92 1200.7L812.14 1198.49L814.35 1196.02L816.57 1193.28L818.79 1190.27L821 1187.02L825.44 1179.97L829.87 1172.44L834.31 1164.58L838.74 1156.29L843.18 1147.36L847.61 1137.66L852.04 1127.28L856.48 1116.38L860.91 1104.95L865.35 1092.75L869.78 1079.39L874.21 1064.7L878.65 1048.82L885.3 1023.78L891.95 998.81L896.38 982.76L900.82 967.35L905.25 952.58L914.12 924.18L920.77 902.53L925.2 887.08L929.64 870.26L934.07 851.73L938.51 831.6L945.16 800.44L947.37 790.58L949.59 781.34L951.81 772.9L954.03 765.4L956.24 758.88L958.46 753.34L960.68 748.72L962.89 744.91L965.11 741.8L967.33 739.29L969.55 737.33L971.76 735.91L973.98 735.09L976.2 734.98L978.41 735.69L980.63 737.34L982.85 740.01L985.06 743.69L987.28 748.28L989.5 753.58L996.15 770.68L998.37 775.64L1000.58 779.8L1002.8 783.05L1005.02 785.43L1007.23 787.17L1009.45 788.61L1011.67 790.23L1013.89 792.55L1016.1 796.13L1018.32 801.48L1020.54 809.05L1022.75 819.19L1024.97 832.12L1027.19 847.96L1029.4 866.68L1031.62 888.17L1033.84 912.17L1036.06 938.34L1040.49 995.34L1047.14 1083.43L1047.14 1083.43" clip-path="url(#p9b1065b066)" class="c30"/><path d="M605.95 1254.04L636.99 1253.94L648.08 1253.71L661.38 1253.2L672.46 1252.82L681.33 1252.79L690.2 1253.01L705.72 1253.49L714.59 1253.53L743.41 1253.21L752.28 1252.96L758.93 1252.5L765.58 1251.74L772.23 1250.73L789.97 1247.8L798.83 1246.67L823.22 1243.92L829.87 1242.89L836.52 1241.61L840.96 1240.57L845.39 1239.33L849.83 1237.86L854.26 1236.1L858.69 1234.04L863.13 1231.66L867.56 1229.02L874.21 1224.73L880.86 1220.45L885.3 1217.83L889.73 1215.5L894.17 1213.51L898.6 1211.8L909.69 1207.72L914.12 1205.67L916.34 1204.46L918.55 1203.13L922.99 1200.07L927.42 1196.54L934.07 1190.7L940.72 1184.82L945.16 1181.17L949.59 1177.82L954.03 1174.74L967.33 1165.81L971.76 1162.48L976.2 1158.82L980.63 1154.78L985.06 1150.36L989.5 1145.57L996.15 1137.87L1000.58 1132.71L1005.02 1127.93L1007.23 1125.85L1009.45 1124.07L1011.67 1122.66L1013.89 1121.72L1016.1 1121.31L1018.32 1121.51L1020.54 1122.38L1022.75 1123.97L1024.97 1126.33L1027.19 1129.46L1029.4 1133.36L1031.62 1138.01L1033.84 1143.36L1036.06 1149.33L1038.27 1155.84L1042.71 1170.04L1047.14 1184.98L1047.14 1184.98" clip-path="url(#p9b1065b066)" class="c33"/><path d="M584.28 1254.6L584.28 669.96" class="c11"/><path d="M1069.56 1254.6L1069.56 669.96" class="c11"/><path d="M584.28 1254.6L1069.56 1254.6" class="c11"/><path d="M584.28 669.96L1069.56 669.96" class="c11"/><g transform="translate(0.3971 0.03227)"><g transform="translate(704.69 663.48) scale(0.12 -0.12)"><use href="#DejaVuSans-4e" transform="translate(0 0)"/><use href="#DejaVuSans-65" transform="translate(75 0)"/><use href="#DejaVuSans-67" transform="translate(136.5 0)"/><use href="#DejaVuSans-61" transform="translate(199.5 0)"/><use href="#DejaVuSans-74" transform="translate(260.25 0)"/><use href="#DejaVuSans-69" transform="translate(299.25 0)"/><use href="#DejaVuSans-76" transform="translate(327 0)"/><use href="#DejaVuSans-65" transform="translate(386.25 0)"/><use href="#DejaVuSans-20" transform="translate(447.75 0)"/><use href="#DejaVuSans-41" transform="translate(479.25 0)"/><use href="#DejaVuSans-6c" transform="translate(547.5 0)"/><use href="#DejaVuSans-70" transform="translate(575.25 0)"/><use href="#DejaVuSans-68" transform="translate(638.25 0)"/><use href="#DejaVuSans-61" transform="translate(701.25 0)"/><use href="#DejaVuSans-20" transform="translate(762 0)"/><use href="#DejaVuSans-56" transform="translate(793.5 0)"/><use href="#DejaVuSans-61" transform="translate(854.25 0)"/><use href="#DejaVuSans-6c" transform="translate(915 0)"/><use href="#DejaVuSans-75" transform="translate(942.75 0)"/><use href="#DejaVuSans-65" transform="translate(1005.75 0)"/><use href="#DejaVuSans-73" transform="translate(1067.25 0)"/><use href="#DejaVuSans-20" transform="translate(1119.75 0)"/><use href="#DejaVuSans-62" transform="translate(1151.25 0)"/><use href="#DejaVuSans-79" transform="translate(1214.25 0)"/><use href="#DejaVuSans-20" transform="translate(1273.5 0)"/><use href="#DejaVuSans-4d" transform="translate(1305 0)"/><use href="#DejaVuSans-6f" transform="translate(1391.25 0)"/><use href="#DejaVuSans-64" transform="translate(1452 0)"/><use href="#DejaVuSans-65" transform="translate(1515 0)"/><use href="#DejaVuSans-6c" transform="translate(1576.5 0)"/><use href="#DejaVuSans-20" transform="translate(1604.25 0)"/><use href="#DejaVuSans-43" transform="translate(1635.75 0)"/><use href="#DejaVuSans-6f" transform="translate(1704.75 0)"/><use href="#DejaVuSans-75" transform="translate(1765.5 0)"/><use href="#DejaVuSans-6e" transform="translate(1828.5 0)"/><use href="#DejaVuSans-74" transform="translate(1891.5 0)"/><use href="#DejaVuSans-72" transform="translate(1930.5 0)"/><use href="#DejaVuSans-79" transform="translate(1971.75 0)"/></g></g><g><path d="M590.89 903.68L665.82 903.68Q667.82 903.68 667.82 901.68L667.82 676.48Q667.82 674.48 665.82 674.48L590.89 674.48Q588.89 674.48 588.89 676.48L588.89 901.68Q588.89 903.68 590.89 903.68z" class="c12"/><g transform="translate(0.02181 -0.3264)"><g transform="translate(592.89 686.4) scale(0.1 -0.1)"><use href="#DejaVuSans-6d" transform="translate(0 0)"/><use href="#DejaVuSans-6f" transform="translate(97.2 0)"/><use href="#DejaVuSans-64" transform="translate(158.4 0)"/><use href="#DejaVuSans-65" transform="translate(222.3 0)"/><use href="#DejaVuSans-6c" transform="translate(283.5 0)"/><use href="#DejaVuSans-43" transform="translate(311.4 0)"/><use href="#DejaVuSans-6f" transform="translate(381.6 0)"/><use href="#DejaVuSans-75" transform="translate(442.8 0)"/><use href="#DejaVuSans-6e" transform="translate(505.8 0)"/><use href="#DejaVuSans-74" transform="translate(568.8 0)"/><use href="#DejaVuSans-72" transform="translate(608.4 0)"/><use href="#DejaVuSans-79" transform="translate(649.8 0)"/></g></g><path d="M606.6 701.64L626.76 701.64L626.76 695.16L606.6 695.16L606.6 701.64z" class="c25"/><g transform="translate(-0.5333 -0.1703)"><g transform="translate(634.35 701.48) scale(0.1 -0.1)"><use href="#DejaVuSans-49" transform="translate(0 0)"/><use href="#DejaVuSans-4e" transform="translate(28.8 0)"/></g></g><path d="M606.6 716.76L626.76 716.76L626.76 709.56L606.6 709.56L606.6 716.76z" class="c22"/><g transform="translate(0.2365 -0.1524)"><g transform="translate(634.35 716.56) scale(0.1 -0.1)"><use href="#DejaVuSans-43" transform="translate(0 0)"/><use href="#DejaVuSans-4e" transform="translate(70.2 0)"/></g></g><path d="M606.6 731.88L626.76 731.88L626.76 724.68L606.6 724.68L606.6 731.88z" class="c26"/><g transform="translate(-0.4975 -0.06778)"><g transform="translate(634.35 731.64) scale(0.1 -0.1)"><use href="#DejaVuSans-58" transform="translate(0 0)"/><use href="#DejaVuSans-48" transform="translate(68.4 0)"/></g></g><path d="M606.6 747L626.76 747L626.76 739.8L606.6 739.8L606.6 747z" class="c23"/><g transform="translate(-0.4508 -0.04112)"><g transform="translate(634.35 746.72) scale(0.1 -0.1)"><use href="#DejaVuSans-4b" transform="translate(0 0)"/><use href="#DejaVuSans-52" transform="translate(64.8 0)"/></g></g><path d="M606.6 762.12L626.76 762.12L626.76 754.92L606.6 754.92L606.6 762.12z" class="c27"/><g transform="translate(-0.4496 0.1057)"><g transform="translate(634.35 761.8) scale(0.1 -0.1)"><use href="#DejaVuSans-4a" transform="translate(0 0)"/><use href="#DejaVuSans-50" transform="translate(28.8 0)"/></g></g><path d="M606.6 777.24L626.76 777.24L626.76 770.04L606.6 770.04L606.6 777.24z" class="c21"/><g transform="translate(0.05652 0.06115)"><g transform="translate(634.35 776.88) scale(0.1 -0.1)"><use href="#DejaVuSans-54" transform="translate(0 0)"/><use href="#DejaVuSans-57" transform="translate(61.2 0)"/></g></g><path d="M606.6 792.36L626.76 792.36L626.76 785.16L606.6 785.16L606.6 792.36z" class="c25"/><g transform="translate(-0.4387 0.09944)"><g transform="translate(634.35 791.96) scale(0.1 -0.1)"><use href="#DejaVuSans-49" transform="translate(0 0)"/><use href="#DejaVuSans-44" transform="translate(28.8 0)"/></g></g><path d="M606.6 807.48L626.76 807.48L626.76 800.28L606.6 800.28L606.6 807.48z" class="c21"/><g transform="translate(-0.3846 0.1378)"><g transform="translate(634.35 807.04) scale(0.1 -0.1)"><use href="#DejaVuSans-4e" transform="translate(0 0)"/><use href="#DejaVuSans-5a" transform="translate(74.7 0)"/></g></g><path d="M606.6 822.6L626.76 822.6L626.76 815.4L606.6 815.4L606.6 822.6z" class="c22"/><g transform="translate(0.2959 0.1946)"><g transform="translate(634.35 822.12) scale(0.1 -0.1)"><use href="#DejaVuSans-53" transform="translate(0 0)"/><use href="#DejaVuSans-47" transform="translate(63 0)"/></g></g><path d="M606.6 837.72L626.76 837.72L626.76 830.52L606.6 830.52L606.6 837.72z" class="c28"/><g transform="translate(-0.3455 0.1326)"><g transform="translate(634.35 837.2) scale(0.1 -0.1)"><use href="#DejaVuSans-41" transform="translate(0 0)"/><use href="#DejaVuSans-55" transform="translate(68.4 0)"/></g></g><path d="M606.6 852.84L626.76 852.84L626.76 845.64L606.6 845.64L606.6 852.84z" class="c23"/><g transform="translate(-0.3473 0.2616)"><g transform="translate(634.35 852.28) scale(0.1 -0.1)"><use href="#DejaVuSans-48" transform="translate(0 0)"/><use href="#DejaVuSans-4b" transform="translate(74.7 0)"/></g></g><path d="M606.6 867.96L626.76 867.96L626.76 860.76L606.6 860.76L606.6 867.96z" class="c28"/><g transform="translate(-0.3544 0.2703)"><g transform="translate(634.35 867.36) scale(0.1 -0.1)"><use href="#DejaVuSans-4d" transform="translate(0 0)"/><use href="#DejaVuSans-59" transform="translate(86.4 0)"/></g></g><path d="M606.6 883.08L626.76 883.08L626.76 875.88L606.6 875.88L606.6 883.08z" class="c24"/><g transform="translate(-0.1176 0.2975)"><g transform="translate(634.35 882.44) scale(0.1 -0.1)"><use href="#DejaVuSans-54" transform="translate(0 0)"/><use href="#DejaVuSans-48" transform="translate(61.2 0)"/></g></g><path d="M606.6 898.2L626.76 898.2L626.76 891L606.6 891L606.6 898.2z" class="c26"/><g transform="translate(-0.4702 0.2999)"><g transform="translate(634.35 897.52) scale(0.1 -0.1)"><use href="#DejaVuSans-50" transform="translate(0 0)"/><use href="#DejaVuSans-48" transform="translate(60.3 0)"/></g></g></g></g></g><defs><clipPath id="p2dc4561a0a"><rect x="50.87" y="26.88" width="485.31" height="584.56"/></clipPath><clipPath id="p4803c43e1a"><rect x="583.89" y="26.88" width="485.31" height="584.56"/></clipPath><clipPath id="p4daa3f0c5f"><rect x="50.87" y="669.48" width="485.31" height="584.56"/></clipPath><clipPath id="p9b1065b066"><rect x="583.89" y="669.48" width="485.31" height="584.56"/></clipPath></defs></svg>
</body></html>
